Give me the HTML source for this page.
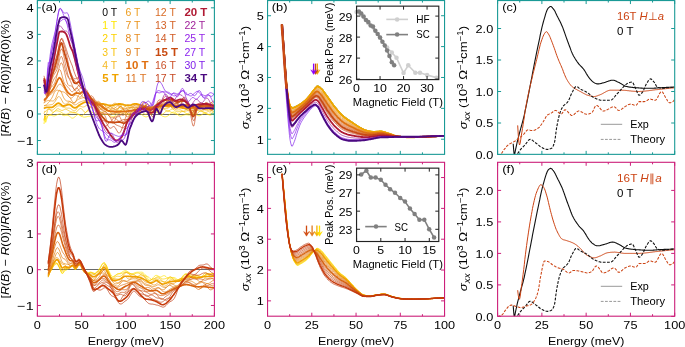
<!DOCTYPE html>
<html><head><meta charset="utf-8"><style>
html,body{margin:0;padding:0;background:#fff;width:685px;height:347px;overflow:hidden}
svg{display:block;font-family:"Liberation Sans", sans-serif;will-change:transform}
</style></head><body>
<svg width="685" height="347" viewBox="0 0 685 347">
<rect width="685" height="347" fill="#fff"/>
<clipPath id="ca"><rect x="37.4" y="0.55" width="177" height="153.8"/></clipPath>
<g clip-path="url(#ca)">
<path d="M44,114.5H214" stroke="#6a6a6a" stroke-width="1"/>
<path d="M44,124 44.9,116.8 45.7,122.4 46.6,119.5 47.5,116.7 48.3,115.4 49.2,115 50,114.9 50.9,115.2 51.7,115.5 52.6,115.7 53.5,115.9 54.3,115.9 55.2,115.7 56,115.4 56.9,114.9 57.7,114.5 58.6,114.1 59.4,113.8 60.3,113.8 61.2,114.2 62,114.8 62.9,115.3 63.7,115.6 64.6,115.6 65.4,115.4 66.3,115.3 67.2,115.2 68,115.4 68.9,115.8 69.7,116.4 70.6,117.2 71.4,117.9 72.3,118.2 73.1,118.1 74,117.6 74.9,116.9 75.7,116.1 76.6,115.3 77.4,114.7 78.3,114.5 79.1,114.7 80,115.1 80.8,115.7 81.7,116.3 82.6,116.7 83.4,117 84.3,117.1 85.1,117 86,116.9 86.8,116.7 87.7,116.5 88.6,116.3 89.4,116.3 90.3,116.4 91.1,116.6 92,116.7 92.8,116.7 93.7,116.4 94.5,115.9 95.4,115.3 96.3,114.6 97.1,114 98,113.5 98.8,113.2 99.7,113.1 100.5,113.3 101.4,113.6 102.3,114 103.1,114.2 104,114.4 104.8,114.5 105.7,114.5 106.5,114.5 107.4,114.5 108.2,114.7 109.1,115 110,115.4 110.8,115.9 111.7,116.3 112.5,116.6 113.4,116.7 114.2,116.5 115.1,116 115.9,115.4 116.8,114.6 117.7,113.9 118.5,113.4 119.4,113 120.2,112.9 121.1,112.9 121.9,113.1 122.8,113.4 123.7,113.7 124.5,114 125.4,114.2 126.2,114.4 127.1,114.5 127.9,114.7 128.8,114.8 129.6,115 130.5,115.2 131.4,115.3 132.2,115.3 133.1,115.2 133.9,115 134.8,114.6 135.6,114.1 136.5,113.7 137.4,113.4 138.2,113.2 139.1,113.2 139.9,113.4 140.8,113.9 141.6,114.5 142.5,115.1 143.3,115.8 144.2,116.3 145.1,116.7 145.9,116.9 146.8,116.8 147.6,116.5 148.5,116 149.3,115.4 150.2,114.7 151,114 151.9,113.3 152.8,112.7 153.6,112.3 154.5,112.1 155.3,112 156.2,112.2 157,112.5 157.9,113 158.8,113.6 159.6,114.2 160.5,114.9 161.3,115.4 162.2,116 163,116.4 163.9,116.6 164.7,116.8 165.6,116.8 166.5,116.6 167.3,116.2 168.2,115.7 169,115 169.9,114.3 170.7,113.5 171.6,112.8 172.5,112.3 173.3,112 174.2,112.1 175,112.4 175.9,113 176.7,113.8 177.6,114.6 178.4,115.3 179.3,115.8 180.2,116.1 181,116.1 181.9,115.8 182.7,115.5 183.6,115.2 184.4,114.9 185.3,114.7 186.1,114.7 187,114.7 187.9,114.9 188.7,115 189.6,115 190.4,114.8 191.3,114.6 192.1,114.3 193,114.1 193.9,113.9 194.7,114 195.6,114.3 196.4,114.7 197.3,115.2 198.1,115.6 199,115.8 199.8,115.7 200.7,115.4 201.6,114.8 202.4,114.2 203.3,113.6 204.1,113.1 205,113 205.8,113.1 206.7,113.5 207.6,114.1 208.4,114.6 209.3,115 210.1,115.1 211,115 211.8,114.6 212.7,114.1 213.5,113.7 214.4,113.4" stroke="#ffe600" stroke-width="0.7" fill="none" stroke-linejoin="round"/>
<path d="M44,120.6 44.9,115.2 45.7,119.6 46.6,117.7 47.5,115.9 48.3,115.3 49.2,115.2 50,115 50.9,114.6 51.7,114.1 52.6,113.3 53.5,112.3 54.3,111.6 55.2,111.1 56,110.8 56.9,110.8 57.7,110.9 58.6,111.1 59.4,111.3 60.3,111.7 61.2,112.2 62,112.8 62.9,113.4 63.7,113.9 64.6,114.1 65.4,114.3 66.3,114.3 67.2,114 68,113.7 68.9,113.2 69.7,112.9 70.6,112.8 71.4,112.7 72.3,112.8 73.1,112.8 74,112.8 74.9,112.9 75.7,113 76.6,113.2 77.4,113.6 78.3,114.1 79.1,114.8 80,115.5 80.8,115.9 81.7,115.9 82.6,115.5 83.4,114.7 84.3,113.8 85.1,112.8 86,111.9 86.8,111.2 87.7,110.9 88.6,110.8 89.4,111 90.3,111.4 91.1,111.8 92,112.3 92.8,112.7 93.7,113 94.5,113.1 95.4,113.1 96.3,113 97.1,112.9 98,112.7 98.8,112.5 99.7,112.4 100.5,112.3 101.4,112.3 102.3,112.3 103.1,112.2 104,112.1 104.8,111.8 105.7,111.5 106.5,111.1 107.4,110.9 108.2,111 109.1,111.4 110,112 110.8,112.8 111.7,113.6 112.5,114.2 113.4,114.4 114.2,114.2 115.1,113.6 115.9,112.7 116.8,111.9 117.7,111.2 118.5,110.7 119.4,110.4 120.2,110.4 121.1,110.6 121.9,110.8 122.8,111 123.7,111.3 124.5,111.6 125.4,112.1 126.2,112.6 127.1,113.2 127.9,113.6 128.8,113.8 129.6,113.6 130.5,113.1 131.4,112.4 132.2,111.7 133.1,111.1 133.9,110.8 134.8,110.9 135.6,111.1 136.5,111.4 137.4,111.7 138.2,111.8 139.1,111.8 139.9,111.7 140.8,111.8 141.6,112.1 142.5,112.5 143.3,113.2 144.2,113.8 145.1,114.2 145.9,114.3 146.8,113.9 147.6,113.3 148.5,112.6 149.3,112 150.2,111.7 151,111.7 151.9,111.9 152.8,112.3 153.6,112.5 154.5,112.5 155.3,112.3 156.2,112 157,111.7 157.9,111.7 158.8,112.1 159.6,112.7 160.5,113.4 161.3,114 162.2,114.3 163,114.1 163.9,113.4 164.7,112.5 165.6,111.5 166.5,110.8 167.3,110.4 168.2,110.5 169,110.9 169.9,111.4 170.7,112 171.6,112.4 172.5,112.8 173.3,113.1 174.2,113.4 175,113.7 175.9,114 176.7,114.2 177.6,114.2 178.4,114 179.3,113.5 180.2,112.7 181,112 181.9,111.5 182.7,111.4 183.6,111.6 184.4,112.2 185.3,112.9 186.1,113.4 187,113.6 187.9,113.6 188.7,113.3 189.6,112.9 190.4,112.6 191.3,112.6 192.1,113 193,113.6 193.9,114.1 194.7,114.5 195.6,114.6 196.4,114.2 197.3,113.5 198.1,112.6 199,111.8 199.8,111.3 200.7,111.1 201.6,111.2 202.4,111.7 203.3,112.2 204.1,112.8 205,113.3 205.8,113.7 206.7,114 207.6,114.2 208.4,114.3 209.3,114.3 210.1,114 211,113.6 211.8,113 212.7,112.4 213.5,111.8 214.4,111.4" stroke="#fcd200" stroke-width="0.7" fill="none" stroke-linejoin="round"/>
<path d="M44,120.2 44.9,115.7 45.7,117 46.6,113.8 47.5,110.8 48.3,109.2 49.2,108.8 50,109.3 50.9,110.4 51.7,111.5 52.6,112.2 53.5,112.2 54.3,111.7 55.2,110.8 56,109.8 56.9,109.1 57.7,108.7 58.6,108.8 59.4,109.3 60.3,109.8 61.2,110.3 62,110.5 62.9,110.3 63.7,109.9 64.6,109.4 65.4,109.2 66.3,109.4 67.2,109.8 68,110.3 68.9,110.8 69.7,111.2 70.6,111.6 71.4,111.8 72.3,112.1 73.1,112.3 74,112.5 74.9,112.6 75.7,112.5 76.6,111.9 77.4,111.1 78.3,110 79.1,109.1 80,108.5 80.8,108.5 81.7,108.9 82.6,109.8 83.4,110.9 84.3,111.9 85.1,112.5 86,112.4 86.8,111.7 87.7,110.4 88.6,108.9 89.4,107.6 90.3,106.8 91.1,106.7 92,107.2 92.8,108.1 93.7,109.3 94.5,110.2 95.4,110.9 96.3,111.2 97.1,111.1 98,110.8 98.8,110.3 99.7,109.8 100.5,109.3 101.4,109 102.3,108.8 103.1,108.7 104,108.9 104.8,109.2 105.7,109.5 106.5,109.9 107.4,110.1 108.2,110.2 109.1,110.1 110,109.9 110.8,109.7 111.7,109.7 112.5,109.9 113.4,110.3 114.2,110.8 115.1,111.2 115.9,111.2 116.8,110.7 117.7,109.7 118.5,108.5 119.4,107.2 120.2,106.4 121.1,106.3 121.9,107 122.8,108.4 123.7,110.1 124.5,111.6 125.4,112.7 126.2,112.9 127.1,112.3 127.9,111.1 128.8,109.7 129.6,108.6 130.5,107.9 131.4,107.9 132.2,108.3 133.1,108.9 133.9,109.3 134.8,109.5 135.6,109.4 136.5,109.1 137.4,108.9 138.2,108.9 139.1,109.4 139.9,110.2 140.8,111 141.6,111.6 142.5,111.9 143.3,111.5 144.2,110.8 145.1,110 145.9,109.3 146.8,109.1 147.6,109.5 148.5,110.2 149.3,111.1 150.2,111.8 151,112 151.9,111.8 152.8,111.2 153.6,110.4 154.5,109.9 155.3,109.7 156.2,109.9 157,110.5 157.9,111.1 158.8,111.5 159.6,111.4 160.5,111 161.3,110.2 162.2,109.5 163,109 163.9,109 164.7,109.5 165.6,110.2 166.5,111 167.3,111.5 168.2,111.5 169,111.1 169.9,110.4 170.7,109.6 171.6,109.1 172.5,109 173.3,109.3 174.2,110 175,110.7 175.9,111.3 176.7,111.7 177.6,111.8 178.4,111.7 179.3,111.4 180.2,111.3 181,111.3 181.9,111.4 182.7,111.5 183.6,111.6 184.4,111.5 185.3,111.3 186.1,111 187,110.8 187.9,110.7 188.7,110.9 189.6,111.3 190.4,111.7 191.3,112 192.1,112.2 193,112.2 193.9,111.9 194.7,111.5 195.6,111.1 196.4,110.8 197.3,110.6 198.1,110.6 199,110.7 199.8,110.9 200.7,111 201.6,111.3 202.4,111.5 203.3,111.8 204.1,112.2 205,112.4 205.8,112.4 206.7,112.2 207.6,111.7 208.4,111 209.3,110.3 210.1,109.9 211,109.8 211.8,110.3 212.7,111.1 213.5,112 214.4,112.8" stroke="#f8c414" stroke-width="0.7" fill="none" stroke-linejoin="round"/>
<path d="M44,113.7 44.9,110.9 45.7,111.6 46.6,110.3 47.5,109.3 48.3,109.1 49.2,109.2 50,109.5 50.9,109.9 51.7,110.1 52.6,110 53.5,109.4 54.3,108.6 55.2,107.9 56,107.2 56.9,106.5 57.7,106 58.6,105.8 59.4,105.8 60.3,106 61.2,106.3 62,106.7 62.9,107.1 63.7,107.4 64.6,107.6 65.4,107.9 66.3,108 67.2,108.1 68,108.1 68.9,108.1 69.7,108.2 70.6,108.6 71.4,109.2 72.3,109.9 73.1,110.6 74,110.9 74.9,110.8 75.7,110.2 76.6,109.1 77.4,107.9 78.3,106.9 79.1,106.2 80,106.1 80.8,106.3 81.7,106.7 82.6,107 83.4,107 84.3,106.8 85.1,106.3 86,105.7 86.8,105.3 87.7,105.2 88.6,105.6 89.4,106.2 90.3,107 91.1,107.7 92,108.1 92.8,108 93.7,107.6 94.5,106.8 95.4,106.1 96.3,105.8 97.1,105.9 98,106.4 98.8,107.2 99.7,107.9 100.5,108.2 101.4,108.1 102.3,107.4 103.1,106.6 104,105.8 104.8,105.3 105.7,105.4 106.5,106 107.4,106.9 108.2,107.8 109.1,108.5 110,108.6 110.8,108.3 111.7,107.7 112.5,107 113.4,106.7 114.2,106.7 115.1,107.2 115.9,108 116.8,108.6 117.7,109 118.5,108.7 119.4,108 120.2,106.9 121.1,105.9 121.9,105.1 122.8,104.8 123.7,105.2 124.5,105.9 125.4,106.8 126.2,107.6 127.1,108.1 127.9,108.1 128.8,107.7 129.6,107.3 130.5,106.8 131.4,106.7 132.2,106.9 133.1,107.2 133.9,107.7 134.8,108 135.6,108 136.5,107.7 137.4,107.2 138.2,106.7 139.1,106.4 139.9,106.5 140.8,106.9 141.6,107.5 142.5,108.1 143.3,108.7 144.2,108.9 145.1,108.9 145.9,108.8 146.8,108.5 147.6,108.4 148.5,108.3 149.3,108.5 150.2,108.7 151,108.9 151.9,109 152.8,108.9 153.6,108.8 154.5,108.6 155.3,108.5 156.2,108.5 157,108.6 157.9,108.8 158.8,109 159.6,109 160.5,108.9 161.3,108.8 162.2,108.6 163,108.5 163.9,108.5 164.7,108.5 165.6,108.6 166.5,108.6 167.3,108.4 168.2,108 169,107.4 169.9,106.8 170.7,106.4 171.6,106.3 172.5,106.6 173.3,107.3 174.2,108.2 175,109.1 175.9,109.7 176.7,110 177.6,110 178.4,109.9 179.3,109.7 180.2,109.8 181,110.1 181.9,110.6 182.7,111 183.6,111.2 184.4,111 185.3,110.4 186.1,109.5 187,108.6 187.9,107.9 188.7,107.7 189.6,108.1 190.4,108.9 191.3,109.9 192.1,110.8 193,111.2 193.9,111.1 194.7,110.5 195.6,109.6 196.4,108.7 197.3,108.2 198.1,108.2 199,108.7 199.8,109.4 200.7,110.2 201.6,110.6 202.4,110.7 203.3,110.3 204.1,109.8 205,109.4 205.8,109.3 206.7,109.7 207.6,110.4 208.4,111.2 209.3,111.9 210.1,112 211,111.6 211.8,110.6 212.7,109.4 213.5,108.3 214.4,107.6" stroke="#f5b820" stroke-width="0.7" fill="none" stroke-linejoin="round"/>
<path d="M44,108.7 44.9,107.8 45.7,107.6 46.6,107.4 47.5,107.4 48.3,107.4 49.2,107.4 50,107.4 50.9,107.4 51.7,107.4 52.6,107.2 53.5,106.6 54.3,105.8 55.2,105.2 56,104.5 56.9,103.8 57.7,103.3 58.6,103.1 59.4,103.5 60.3,104.1 61.2,104.8 62,105.5 62.9,106 63.7,106 64.6,105.8 65.4,105.6 66.3,105.2 67.2,104.9 68,104.6 68.9,104.5 69.7,104.6 70.6,105 71.4,105.7 72.3,106.5 73.1,107.2 74,107.7 74.9,107.9 75.7,107.7 76.6,107.2 77.4,106.6 78.3,105.9 79.1,105.2 80,104.7 80.8,104.2 81.7,103.7 82.6,103.2 83.4,102.8 84.3,102.4 85.1,102.2 86,102.1 86.8,102.1 87.7,102.3 88.6,102.7 89.4,103 90.3,103.3 91.1,103.6 92,103.9 92.8,104.3 93.7,104.5 94.5,104.7 95.4,104.7 96.3,104.6 97.1,104.5 98,104.4 98.8,104.3 99.7,104.1 100.5,104 101.4,103.9 102.3,103.9 103.1,104 104,104.1 104.8,104.3 105.7,104.5 106.5,104.7 107.4,105 108.2,105.2 109.1,105.3 110,105.5 110.8,105.5 111.7,105.5 112.5,105.3 113.4,105.2 114.2,105 115.1,104.7 115.9,104.5 116.8,104.3 117.7,104.1 118.5,104 119.4,103.9 120.2,104 121.1,104.1 121.9,104.2 122.8,104.4 123.7,104.7 124.5,104.9 125.4,105.1 126.2,105.3 127.1,105.4 127.9,105.5 128.8,105.5 129.6,105.3 130.5,105.1 131.4,104.8 132.2,104.5 133.1,104.2 133.9,104 134.8,103.9 135.6,103.9 136.5,104 137.4,104.2 138.2,104.4 139.1,104.7 139.9,105 140.8,105.3 141.6,105.5 142.5,105.8 143.3,106 144.2,106.2 145.1,106.3 145.9,106.5 146.8,106.7 147.6,106.8 148.5,107 149.3,107.1 150.2,107.2 151,107.3 151.9,107.4 152.8,107.4 153.6,107.3 154.5,107.2 155.3,107 156.2,106.9 157,106.7 157.9,106.5 158.8,106.3 159.6,106.2 160.5,106.1 161.3,106 162.2,106 163,106 163.9,106 164.7,106 165.6,106 166.5,106 167.3,106 168.2,106 169,106 169.9,106 170.7,106 171.6,106.1 172.5,106.2 173.3,106.3 174.2,106.5 175,106.6 175.9,106.8 176.7,107 177.6,107.1 178.4,107.3 179.3,107.4 180.2,107.6 181,107.7 181.9,107.9 182.7,108.1 183.6,108.2 184.4,108.4 185.3,108.5 186.1,108.6 187,108.7 187.9,108.7 188.7,108.7 189.6,108.6 190.4,108.4 191.3,108.2 192.1,108.1 193,107.9 193.9,107.7 194.7,107.5 195.6,107.4 196.4,107.4 197.3,107.4 198.1,107.5 199,107.6 199.8,107.7 200.7,107.9 201.6,108.1 202.4,108.3 203.3,108.5 204.1,108.6 205,108.7 205.8,108.7 206.7,108.7 207.6,108.7 208.4,108.7 209.3,108.7 210.1,108.7 211,108.7 211.8,108.7 212.7,108.7 213.5,108.7 214.4,108.7" stroke="#f0a400" stroke-width="1.8" fill="none" stroke-linejoin="round"/>
<path d="M44,106.2 44.9,105.5 45.7,105.4 46.6,105.3 47.5,105.2 48.3,105.1 49.2,105 50,104.9 50.9,104.7 51.7,104.6 52.6,104.3 53.5,103.5 54.3,102.5 55.2,101.3 56,100 56.9,98.5 57.7,97.2 58.6,96.6 59.4,96.7 60.3,97.6 61.2,99 62,100.7 62.9,102.3 63.7,103.4 64.6,104.1 65.4,104.2 66.3,104 67.2,103.4 68,102.7 68.9,102 69.7,101.7 70.6,101.9 71.4,102.4 72.3,103.2 73.1,104 74,104.6 74.9,104.9 75.7,104.7 76.6,104.3 77.4,103.7 78.3,103 79.1,102.5 80,102.1 80.8,101.8 81.7,101.5 82.6,101.1 83.4,100.8 84.3,100.5 85.1,100.3 86,100.2 86.8,100.3 87.7,100.7 88.6,101.4 89.4,102.3 90.3,103.2 91.1,103.9 92,104.5 92.8,104.7 93.7,104.5 94.5,104 95.4,103.1 96.3,102.2 97.1,101.6 98,101.2 98.8,101.4 99.7,102 100.5,103 101.4,104.2 102.3,105.5 103.1,106.6 104,107.5 104.8,108.1 105.7,108.4 106.5,108.4 107.4,108.2 108.2,107.8 109.1,107.3 110,106.7 110.8,106 111.7,105.3 112.5,104.5 113.4,103.8 114.2,103.4 115.1,103.2 115.9,103.4 116.8,103.9 117.7,104.8 118.5,105.9 119.4,107.1 120.2,108 121.1,108.6 121.9,108.8 122.8,108.5 123.7,107.9 124.5,107 125.4,106.1 126.2,105.4 127.1,104.9 127.9,104.7 128.8,104.9 129.6,105.1 130.5,105.4 131.4,105.7 132.2,105.9 133.1,105.9 133.9,105.9 134.8,105.8 135.6,105.8 136.5,105.9 137.4,105.9 138.2,105.9 139.1,105.9 139.9,105.7 140.8,105.5 141.6,105.3 142.5,105.1 143.3,105 144.2,105.2 145.1,105.7 145.9,106.4 146.8,107.4 147.6,108.4 148.5,109.2 149.3,109.7 150.2,109.9 151,109.6 151.9,108.9 152.8,108 153.6,107.1 154.5,106.2 155.3,105.6 156.2,105.2 157,105.1 157.9,105.2 158.8,105.4 159.6,105.6 160.5,105.8 161.3,105.9 162.2,106 163,106.2 163.9,106.3 164.7,106.5 165.6,106.8 166.5,107 167.3,107.2 168.2,107.2 169,107 169.9,106.6 170.7,106.1 171.6,105.6 172.5,105.3 173.3,105.2 174.2,105.3 175,105.6 175.9,106.1 176.7,106.5 177.6,106.8 178.4,106.9 179.3,106.8 180.2,106.6 181,106.4 181.9,106.4 182.7,106.6 183.6,107.1 184.4,107.8 185.3,108.6 186.1,109.3 187,109.9 187.9,110.2 188.7,110.2 189.6,109.8 190.4,109.1 191.3,108.4 192.1,107.6 193,107 193.9,106.5 194.7,106.3 195.6,106.1 196.4,106.1 197.3,106.1 198.1,106.2 199,106.3 199.8,106.6 200.7,106.9 201.6,107.5 202.4,108.1 203.3,108.9 204.1,109.5 205,110 205.8,110.1 206.7,110 207.6,109.5 208.4,108.9 209.3,108.2 210.1,107.5 211,107.1 211.8,107 212.7,107.2 213.5,107.6 214.4,108.2" stroke="#ec9c1c" stroke-width="0.7" fill="none" stroke-linejoin="round"/>
<path d="M44,105.7 44.9,105.4 45.7,105.2 46.6,104.7 47.5,103.8 48.3,102.7 49.2,101.8 50,101.1 50.9,100.8 51.7,100.9 52.6,101 53.5,100.8 54.3,100.2 55.2,99.1 56,97.4 56.9,95.1 57.7,92.8 58.6,91.1 59.4,90.2 60.3,90.5 61.2,91.9 62,93.8 62.9,96 63.7,97.8 64.6,99.2 65.4,100.2 66.3,100.8 67.2,101.1 68,101.2 68.9,101.2 69.7,101.4 70.6,101.9 71.4,102.4 72.3,102.8 73.1,103 74,102.7 74.9,102.2 75.7,101.5 76.6,100.7 77.4,100 78.3,99.4 79.1,98.9 80,98.7 80.8,98.4 81.7,98.1 82.6,97.8 83.4,97.7 84.3,97.9 85.1,98.3 86,98.7 86.8,99.3 87.7,100 88.6,100.8 89.4,101.6 90.3,102.2 91.1,102.6 92,102.9 92.8,103.2 93.7,103.4 94.5,103.5 95.4,103.3 96.3,103 97.1,102.7 98,102.4 98.8,102.3 99.7,102.5 100.5,103.2 101.4,104.2 102.3,105.4 103.1,106.7 104,107.8 104.8,108.4 105.7,108.6 106.5,108.4 107.4,107.9 108.2,107.2 109.1,106.7 110,106.6 110.8,106.8 111.7,107.3 112.5,107.9 113.4,108.4 114.2,108.4 115.1,108.1 115.9,107.3 116.8,106.4 117.7,105.6 118.5,105.2 119.4,105.2 120.2,105.8 121.1,106.7 121.9,107.8 122.8,108.7 123.7,109.3 124.5,109.4 125.4,109.2 126.2,108.7 127.1,108.2 127.9,107.8 128.8,107.7 129.6,107.6 130.5,107.6 131.4,107.4 132.2,107.1 133.1,106.5 133.9,105.9 134.8,105.2 135.6,104.7 136.5,104.6 137.4,104.9 138.2,105.5 139.1,106.3 139.9,107 140.8,107.6 141.6,107.9 142.5,107.8 143.3,107.5 144.2,107.1 145.1,106.8 145.9,106.6 146.8,106.8 147.6,107.3 148.5,107.9 149.3,108.5 150.2,109.1 151,109.4 151.9,109.5 152.8,109.3 153.6,108.8 154.5,108.2 155.3,107.4 156.2,106.7 157,106 157.9,105.5 158.8,105.1 159.6,104.9 160.5,104.9 161.3,105.1 162.2,105.4 163,105.6 163.9,105.6 164.7,105.5 165.6,105.3 166.5,105 167.3,104.8 168.2,104.9 169,105.2 169.9,105.8 170.7,106.7 171.6,107.6 172.5,108.3 173.3,108.7 174.2,108.8 175,108.4 175.9,107.8 176.7,107 177.6,106.3 178.4,105.8 179.3,105.5 180.2,105.4 181,105.4 181.9,105.4 182.7,105.3 183.6,105.1 184.4,104.9 185.3,104.9 186.1,105.2 187,105.9 187.9,107 188.7,108.3 189.6,109.6 190.4,110.5 191.3,110.9 192.1,110.8 193,110.2 193.9,109.3 194.7,108.4 195.6,107.7 196.4,107.4 197.3,107.5 198.1,107.7 199,108 199.8,108 200.7,107.6 201.6,106.9 202.4,105.9 203.3,104.9 204.1,104.2 205,104 205.8,104.4 206.7,105.3 207.6,106.6 208.4,107.9 209.3,109.1 210.1,110 211,110.4 211.8,110.4 212.7,110.1 213.5,109.7 214.4,109.4" stroke="#e9921a" stroke-width="0.7" fill="none" stroke-linejoin="round"/>
<path d="M44,103.3 44.9,102.2 45.7,101.5 46.6,101 47.5,100.7 48.3,100.6 49.2,100.6 50,100.3 50.9,99.6 51.7,98.3 52.6,96.5 53.5,94.4 54.3,92.5 55.2,91.1 56,90.5 56.9,90.1 57.7,90.2 58.6,90.5 59.4,90.8 60.3,91.3 61.2,91.5 62,91.7 62.9,91.9 63.7,92 64.6,92.4 65.4,93.2 66.3,94.2 67.2,95.2 68,96 68.9,96.6 69.7,97.5 70.6,98.6 71.4,100 72.3,101.4 73.1,102.6 74,103.2 74.9,102.9 75.7,101.7 76.6,99.9 77.4,97.7 78.3,95.7 79.1,94.4 80,94.1 80.8,94.5 81.7,95.5 82.6,96.5 83.4,97.5 84.3,97.9 85.1,97.7 86,97 86.8,96.3 87.7,96.1 88.6,96.8 89.4,98.2 90.3,99.8 91.1,101.3 92,102.4 92.8,103.1 93.7,103.2 94.5,103 95.4,102.8 96.3,102.9 97.1,103.4 98,104.1 98.8,104.8 99.7,105.2 100.5,105.3 101.4,104.9 102.3,104.5 103.1,104.3 104,104.6 104.8,105.5 105.7,107 106.5,108.7 107.4,110.1 108.2,110.8 109.1,110.8 110,110.2 110.8,109.3 111.7,108.6 112.5,108.3 113.4,108.5 114.2,109 115.1,109.6 115.9,109.9 116.8,109.6 117.7,108.8 118.5,107.7 119.4,106.7 120.2,106.2 121.1,106.3 121.9,107.1 122.8,108.4 123.7,109.8 124.5,110.8 125.4,111.2 126.2,111 127.1,110.3 127.9,109.5 128.8,108.6 129.6,108.1 130.5,107.8 131.4,107.7 132.2,107.7 133.1,107.7 133.9,107.5 134.8,107.3 135.6,107.1 136.5,107.1 137.4,107.3 138.2,107.6 139.1,107.9 139.9,108 140.8,107.8 141.6,107.3 142.5,106.7 143.3,106.2 144.2,106.1 145.1,106.5 145.9,107.3 146.8,108.5 147.6,109.7 148.5,110.5 149.3,110.9 150.2,110.6 151,109.8 151.9,108.6 152.8,107.4 153.6,106.2 154.5,105.4 155.3,105 156.2,105 157,105.3 157.9,105.8 158.8,106.4 159.6,106.9 160.5,107.4 161.3,107.7 162.2,107.7 163,107.5 163.9,107.1 164.7,106.5 165.6,105.8 166.5,105.3 167.3,104.9 168.2,104.8 169,104.8 169.9,104.9 170.7,105 171.6,105.1 172.5,105.1 173.3,105.1 174.2,105.1 175,105.2 175.9,105.5 176.7,105.8 177.6,106.2 178.4,106.6 179.3,106.9 180.2,107.1 181,107.2 181.9,107.4 182.7,107.6 183.6,107.8 184.4,107.9 185.3,107.9 186.1,107.7 187,107.3 187.9,106.7 188.7,106.2 189.6,105.8 190.4,105.9 191.3,106.2 192.1,106.9 193,107.5 193.9,107.9 194.7,108 195.6,107.7 196.4,107.1 197.3,106.5 198.1,106.2 199,106.3 199.8,107 200.7,107.9 201.6,108.8 202.4,109.3 203.3,109.3 204.1,108.7 205,107.7 205.8,106.6 206.7,105.7 207.6,105.4 208.4,105.6 209.3,106.2 210.1,107 211,107.5 211.8,107.8 212.7,107.7 213.5,107.5 214.4,107.3" stroke="#e68a1c" stroke-width="0.7" fill="none" stroke-linejoin="round"/>
<path d="M44,102.7 44.9,101.2 45.7,99.9 46.6,98.7 47.5,97.5 48.3,96.5 49.2,95.6 50,94.9 50.9,94.3 51.7,93.6 52.6,92.8 53.5,91.8 54.3,90.8 55.2,89.7 56,88.7 56.9,87.3 57.7,85.9 58.6,84.9 59.4,84.1 60.3,84.1 61.2,84.6 62,85.5 62.9,86.6 63.7,87.6 64.6,88.9 65.4,90.5 66.3,92.3 67.2,94.1 68,95.7 68.9,96.8 69.7,97.6 70.6,98.1 71.4,98.1 72.3,97.6 73.1,96.8 74,95.8 74.9,95.2 75.7,94.9 76.6,95.2 77.4,95.8 78.3,96.5 79.1,97.1 80,97.4 80.8,96.9 81.7,95.8 82.6,94.3 83.4,93 84.3,92.1 85.1,91.6 86,91.7 86.8,92.3 87.7,93.7 88.6,95.7 89.4,97.9 90.3,99.9 91.1,101.5 92,102.6 92.8,103.3 93.7,103.5 94.5,103.5 95.4,103.2 96.3,102.9 97.1,102.7 98,102.8 98.8,103 99.7,103.5 100.5,104.2 101.4,105 102.3,105.7 103.1,106.5 104,107.1 104.8,107.8 105.7,108.6 106.5,109.3 107.4,110 108.2,110.4 109.1,110.7 110,110.9 110.8,110.9 111.7,110.7 112.5,110.5 113.4,110.2 114.2,110.1 115.1,110 115.9,110.1 116.8,110.3 117.7,110.6 118.5,110.8 119.4,110.9 120.2,110.7 121.1,110.4 121.9,110 122.8,109.4 123.7,108.9 124.5,108.6 125.4,108.6 126.2,108.9 127.1,109.4 127.9,110 128.8,110.6 129.6,111 130.5,111.2 131.4,111 132.2,110.6 133.1,109.9 133.9,109.2 134.8,108.5 135.6,108 136.5,107.8 137.4,107.8 138.2,108 139.1,108.3 139.9,108.5 140.8,108.6 141.6,108.5 142.5,108.3 143.3,108 144.2,107.7 145.1,107.5 145.9,107.4 146.8,107.5 147.6,107.8 148.5,108.1 149.3,108.5 150.2,108.7 151,108.8 151.9,108.7 152.8,108.6 153.6,108.3 154.5,108 155.3,107.9 156.2,107.8 157,107.9 157.9,108.1 158.8,108.2 159.6,108.1 160.5,107.7 161.3,107.1 162.2,106.2 163,105.1 163.9,104 164.7,103.1 165.6,102.6 166.5,102.5 167.3,102.9 168.2,103.6 169,104.6 169.9,105.6 170.7,106.5 171.6,107.1 172.5,107.4 173.3,107.3 174.2,107 175,106.6 175.9,106.2 176.7,106 177.6,105.9 178.4,105.9 179.3,106.1 180.2,106.3 181,106.5 181.9,106.6 182.7,106.5 183.6,106.2 184.4,105.9 185.3,105.5 186.1,105.2 187,105.1 187.9,105.1 188.7,105.4 189.6,105.8 190.4,106.4 191.3,107 192.1,107.6 193,108.2 193.9,108.6 194.7,109 195.6,109.2 196.4,109.2 197.3,109.1 198.1,108.8 199,108.2 199.8,107.5 200.7,106.6 201.6,105.7 202.4,104.8 203.3,104.1 204.1,103.8 205,103.9 205.8,104.4 206.7,105.3 207.6,106.4 208.4,107.6 209.3,108.5 210.1,109.2 211,109.4 211.8,109.2 212.7,108.7 213.5,108 214.4,107.4" stroke="#e2801c" stroke-width="0.7" fill="none" stroke-linejoin="round"/>
<path d="M44,100.7 44.9,99.7 45.7,98.6 46.6,97.5 47.5,96.2 48.3,95 49.2,93.9 50,92.9 50.9,92 51.7,91.1 52.6,89.9 53.5,88.6 54.3,87 55.2,85.4 56,83.7 56.9,81.7 57.7,79.7 58.6,78.4 59.4,77.7 60.3,78.2 61.2,79.5 62,81.3 62.9,83.3 63.7,85.1 64.6,86.8 65.4,88.5 66.3,90.1 67.2,91.5 68,92.6 68.9,93.4 69.7,94.1 70.6,94.7 71.4,95.1 72.3,95.1 73.1,94.8 74,94.2 74.9,93.6 75.7,93.2 76.6,93 77.4,93.1 78.3,93.2 79.1,93.3 80,93.3 80.8,93 81.7,92.3 82.6,91.7 83.4,91.4 84.3,91.5 85.1,91.8 86,92.2 86.8,92.7 87.7,93.4 88.6,94.6 89.4,96 90.3,97.3 91.1,98.3 92,99.2 92.8,100.2 93.7,101 94.5,101.8 95.4,102.4 96.3,102.9 97.1,103.4 98,103.9 98.8,104.4 99.7,104.9 100.5,105.6 101.4,106.3 102.3,107 103.1,107.7 104,108.3 104.8,108.9 105.7,109.5 106.5,110.1 107.4,110.5 108.2,110.8 109.1,111 110,111.2 110.8,111.3 111.7,111.5 112.5,111.6 113.4,111.7 114.2,111.8 115.1,111.8 115.9,111.9 116.8,111.9 117.7,111.9 118.5,111.9 119.4,111.8 120.2,111.8 121.1,111.7 121.9,111.7 122.8,111.6 123.7,111.5 124.5,111.5 125.4,111.4 126.2,111.3 127.1,111.2 127.9,111.1 128.8,111 129.6,110.9 130.5,110.7 131.4,110.6 132.2,110.4 133.1,110.3 133.9,110.1 134.8,110 135.6,109.9 136.5,109.7 137.4,109.5 138.2,109.4 139.1,109.2 139.9,109.1 140.8,108.9 141.6,108.8 142.5,108.7 143.3,108.7 144.2,108.7 145.1,108.7 145.9,108.7 146.8,108.7 147.6,108.7 148.5,108.7 149.3,108.7 150.2,108.7 151,108.7 151.9,108.7 152.8,108.7 153.6,108.6 154.5,108.4 155.3,108.2 156.2,107.9 157,107.5 157.9,107.2 158.8,106.8 159.6,106.5 160.5,106.2 161.3,106 162.2,105.9 163,105.7 163.9,105.5 164.7,105.3 165.6,105.2 166.5,105 167.3,104.9 168.2,104.8 169,104.7 169.9,104.7 170.7,104.7 171.6,104.8 172.5,104.9 173.3,105.1 174.2,105.3 175,105.5 175.9,105.7 176.7,105.8 177.6,105.9 178.4,106 179.3,106 180.2,106 181,106 181.9,106 182.7,106 183.6,106 184.4,106 185.3,106 186.1,106 187,106 187.9,106 188.7,106.1 189.6,106.2 190.4,106.3 191.3,106.5 192.1,106.7 193,106.9 193.9,107 194.7,107.2 195.6,107.3 196.4,107.4 197.3,107.3 198.1,107.3 199,107.1 199.8,107 200.7,106.8 201.6,106.6 202.4,106.4 203.3,106.3 204.1,106.1 205,106.1 205.8,106 206.7,106.1 207.6,106.1 208.4,106.2 209.3,106.3 210.1,106.4 211,106.5 211.8,106.7 212.7,106.9 213.5,107.1 214.4,107.4" stroke="#e07010" stroke-width="1.8" fill="none" stroke-linejoin="round"/>
<path d="M44,98.7 44.9,98.8 45.7,99.3 46.6,98.6 47.5,96.7 48.3,93.7 49.2,91 50,88.9 50.9,87.4 51.7,86.6 52.6,85.9 53.5,85.1 54.3,83.8 55.2,81.7 56,79.1 56.9,75.9 57.7,72.9 58.6,70.6 59.4,69.5 60.3,70.1 61.2,72.2 62,75.3 62.9,78.8 63.7,81.6 64.6,83.5 65.4,84.7 66.3,85.6 67.2,86.4 68,87.2 68.9,88.1 69.7,89.3 70.6,90.6 71.4,91.5 72.3,91.8 73.1,91.4 74,90.4 74.9,89.2 75.7,88.2 76.6,88 77.4,88.4 78.3,89.3 79.1,90.7 80,92.2 80.8,93 81.7,93 82.6,92.5 83.4,91.9 84.3,91.6 85.1,91.6 86,92.1 86.8,93.1 87.7,94.6 88.6,96.5 89.4,98.3 90.3,99.4 91.1,99.8 92,99.6 92.8,99.3 93.7,99.1 94.5,99.3 95.4,100 96.3,101.3 97.1,102.9 98,104.5 98.8,106.1 99.7,107.4 100.5,108.4 101.4,109.1 102.3,109.6 103.1,110 104,110.5 104.8,111.2 105.7,112 106.5,112.7 107.4,113.4 108.2,113.8 109.1,113.9 110,114 110.8,113.9 111.7,113.8 112.5,113.7 113.4,113.6 114.2,113.4 115.1,113.3 115.9,113.1 116.8,113 117.7,113 118.5,113.2 119.4,113.6 120.2,114.1 121.1,114.7 121.9,115.1 122.8,115.3 123.7,115.2 124.5,114.6 125.4,113.8 126.2,112.9 127.1,112 127.9,111.5 128.8,111.2 129.6,111.1 130.5,111.2 131.4,111.2 132.2,111.1 133.1,110.9 133.9,110.6 134.8,110.3 135.6,110.2 136.5,110.3 137.4,110.7 138.2,111.1 139.1,111.4 139.9,111.4 140.8,110.9 141.6,110.1 142.5,109 143.3,107.9 144.2,107.1 145.1,106.7 145.9,106.8 146.8,107.2 147.6,107.6 148.5,108 149.3,108 150.2,107.6 151,107 151.9,106.5 152.8,106.3 153.6,106.6 154.5,107.5 155.3,108.8 156.2,110.2 157,111.3 157.9,111.6 158.8,111 159.6,109.6 160.5,107.6 161.3,105.4 162.2,103.6 163,102.4 163.9,101.9 164.7,102.1 165.6,102.6 166.5,103 167.3,103.2 168.2,102.9 169,102.3 169.9,101.6 170.7,101.2 171.6,101.3 172.5,102.1 173.3,103.6 174.2,105.3 175,107 175.9,108.2 176.7,108.7 177.6,108.5 178.4,107.7 179.3,106.5 180.2,105.5 181,104.7 181.9,104.3 182.7,104.3 183.6,104.4 184.4,104.5 185.3,104.5 186.1,104.3 187,103.9 187.9,103.7 188.7,103.9 189.6,104.8 190.4,106.3 191.3,107.9 192.1,109.4 193,110.5 193.9,110.7 194.7,110.1 195.6,108.9 196.4,107.7 197.3,106.7 198.1,105.9 199,105.6 199.8,105.6 200.7,106 201.6,106.4 202.4,106.8 203.3,106.9 204.1,106.9 205,106.6 205.8,106.4 206.7,106.2 207.6,106.1 208.4,106.2 209.3,106.4 210.1,106.6 211,106.8 211.8,106.8 212.7,106.9 213.5,106.8 214.4,106.7" stroke="#dc7424" stroke-width="0.7" fill="none" stroke-linejoin="round"/>
<path d="M44,91.6 44.9,91.7 45.7,94 46.6,95.6 47.5,95.9 48.3,94.3 49.2,92.2 50,89.8 50.9,87.1 51.7,84.4 52.6,82 53.5,80 54.3,78.5 55.2,77.3 56,76.2 56.9,74.6 57.7,72.5 58.6,69.7 59.4,66.7 60.3,64.1 61.2,62.8 62,63.3 62.9,65.6 63.7,68.8 64.6,72.3 65.4,76.1 66.3,79.7 67.2,82.7 68,84.7 68.9,85.6 69.7,85.8 70.6,85.8 71.4,86 72.3,86.6 73.1,87.7 74,89.1 74.9,90.2 75.7,91.1 76.6,91.6 77.4,91.1 78.3,90.2 79.1,89.3 80,88.4 80.8,87.7 81.7,87.3 82.6,87.3 83.4,88 84.3,89.2 85.1,90.4 86,91.6 86.8,92.6 87.7,93.7 88.6,95 89.4,96.6 90.3,98.3 91.1,99.8 92,101.2 92.8,102.4 93.7,103.3 94.5,103.9 95.4,104.4 96.3,104.8 97.1,105.2 98,105.8 98.8,106.7 99.7,107.8 100.5,109 101.4,110 102.3,110.6 103.1,111 104,111.3 104.8,111.5 105.7,111.9 106.5,112.6 107.4,113.6 108.2,114.7 109.1,115.8 110,116.8 110.8,117.5 111.7,117.8 112.5,117.8 113.4,117.5 114.2,117.2 115.1,117 115.9,116.9 116.8,116.9 117.7,116.8 118.5,116.6 119.4,116 120.2,115.2 121.1,114.4 121.9,113.7 122.8,113.3 123.7,113.5 124.5,114.2 125.4,115.2 126.2,116.2 127.1,116.8 127.9,116.8 128.8,116.2 129.6,114.8 130.5,113.1 131.4,111.4 132.2,110.3 133.1,110 133.9,110.5 134.8,111.6 135.6,112.7 136.5,113.4 137.4,113.2 138.2,112.2 139.1,110.3 139.9,108.1 140.8,106.1 141.6,104.8 142.5,104.5 143.3,105.3 144.2,106.8 145.1,108.6 145.9,110.1 146.8,110.9 147.6,110.8 148.5,110.1 149.3,109 150.2,108.1 151,107.5 151.9,107.4 152.8,107.8 153.6,108.4 154.5,108.8 155.3,108.8 156.2,108.3 157,107.3 157.9,106.1 158.8,105 159.6,104.3 160.5,104.1 161.3,104.3 162.2,104.7 163,105 163.9,104.9 164.7,104.3 165.6,103.3 166.5,102.1 167.3,101.1 168.2,100.6 169,100.7 169.9,101.3 170.7,102.2 171.6,103.2 172.5,103.9 173.3,104.2 174.2,104.1 175,103.8 175.9,103.5 176.7,103.4 177.6,103.6 178.4,104.1 179.3,104.7 180.2,105.3 181,105.6 181.9,105.7 182.7,105.5 183.6,105.1 184.4,104.8 185.3,104.6 186.1,104.6 187,104.6 187.9,104.6 188.7,104.7 189.6,105.2 190.4,105.8 191.3,106.5 192.1,107.3 193,108.3 193.9,109 194.7,109.5 195.6,109.9 196.4,110.2 197.3,110.3 198.1,109.8 199,108.7 199.8,107.3 200.7,105.9 201.6,105 202.4,104.9 203.3,105.3 204.1,106.3 205,107.3 205.8,107.9 206.7,107.8 207.6,107.1 208.4,105.8 209.3,104.3 210.1,103.1 211,102.5 211.8,102.6 212.7,103.4 213.5,104.7 214.4,106.3" stroke="#d86a24" stroke-width="0.7" fill="none" stroke-linejoin="round"/>
<path d="M44,87.9 44.9,89.8 45.7,94.3 46.6,97.1 47.5,97.3 48.3,94.4 49.2,90.9 50,87.2 50.9,83.5 51.7,80.2 52.6,77.7 53.5,75.7 54.3,74.2 55.2,72.9 56,71.5 56.9,69.7 57.7,67.2 58.6,64 59.4,60.5 60.3,57.6 61.2,56.3 62,57.1 62.9,59.9 63.7,63.4 64.6,66.8 65.4,69.9 66.3,72.8 67.2,75.2 68,77 68.9,78.4 69.7,79.8 70.6,81.4 71.4,83.3 72.3,85.4 73.1,87.7 74,89.4 74.9,90 75.7,89.6 76.6,88.8 77.4,87.1 78.3,85.6 79.1,85 80,85.2 80.8,85.8 81.7,86.7 82.6,87.6 83.4,88.6 84.3,89.7 85.1,90.6 86,91.3 86.8,92.2 87.7,93.2 88.6,94.7 89.4,96.3 90.3,97.9 91.1,99.3 92,100.4 92.8,101.4 93.7,102.4 94.5,103.6 95.4,105 96.3,106.5 97.1,107.9 98,109.2 98.8,110.3 99.7,111.2 100.5,111.8 101.4,112.3 102.3,112.6 103.1,112.9 104,113.2 104.8,113.5 105.7,113.8 106.5,114.1 107.4,114.4 108.2,115 109.1,115.9 110,117.2 110.8,118.7 111.7,120.3 112.5,121.4 113.4,121.9 114.2,121.4 115.1,120.1 115.9,118.3 116.8,116.6 117.7,115.5 118.5,115.2 119.4,115.9 120.2,117.5 121.1,119.4 121.9,121.1 122.8,121.9 123.7,121.7 124.5,120.4 125.4,118.3 126.2,115.9 127.1,114 127.9,112.8 128.8,112.6 129.6,112.9 130.5,113.6 131.4,114.2 132.2,114.4 133.1,114.2 133.9,113.5 134.8,112.4 135.6,111.2 136.5,110 137.4,109 138.2,108.4 139.1,108 139.9,107.9 140.8,108 141.6,108.3 142.5,108.8 143.3,109.2 144.2,109.6 145.1,109.9 145.9,109.9 146.8,109.6 147.6,109.2 148.5,108.7 149.3,108.4 150.2,108.3 151,108.4 151.9,108.6 152.8,108.6 153.6,108.3 154.5,107.6 155.3,106.5 156.2,105.3 157,104.2 157.9,103.4 158.8,103.1 159.6,103.1 160.5,103.4 161.3,103.9 162.2,104.1 163,104.1 163.9,103.8 164.7,103.3 165.6,103 166.5,102.8 167.3,103 168.2,103.3 169,103.6 169.9,103.5 170.7,102.9 171.6,102 172.5,101 173.3,100 174.2,99.6 175,99.9 175.9,100.8 176.7,102.2 177.6,103.6 178.4,104.6 179.3,104.9 180.2,104.5 181,103.6 181.9,102.4 182.7,101.4 183.6,100.9 184.4,101.2 185.3,102.2 186.1,103.6 187,105.2 187.9,106.6 188.7,108.1 189.6,109.8 190.4,111.2 191.3,112.3 192.1,112.6 193,112.2 193.9,110.9 194.7,108.8 195.6,106.9 196.4,105.9 197.3,105.9 198.1,106.4 199,107.1 199.8,107.6 200.7,107.8 201.6,107.4 202.4,106.6 203.3,105.3 204.1,104.1 205,103.2 205.8,103 206.7,103.4 207.6,104.4 208.4,105.8 209.3,106.9 210.1,107.7 211,107.8 211.8,107.2 212.7,106.5 213.5,105.8 214.4,105.5" stroke="#d46226" stroke-width="0.7" fill="none" stroke-linejoin="round"/>
<path d="M44,80.5 44.9,82.5 45.7,88.9 46.6,93.3 47.5,94.8 48.3,92.4 49.2,89 50,85.3 50.9,81.4 51.7,77.9 52.6,75.2 53.5,73.1 54.3,71.4 55.2,69.8 56,68.1 56.9,66 57.7,63.1 58.6,59.2 59.4,55.1 60.3,51.2 61.2,49 62,49.2 62.9,51.9 63.7,55.7 64.6,59.6 65.4,63.7 66.3,67.9 67.2,71.9 68,75.2 68.9,77.5 69.7,78.6 70.6,79 71.4,79 72.3,78.8 73.1,79.2 74,80 74.9,80.8 75.7,81.8 76.6,83.2 77.4,84.1 78.3,84.8 79.1,86 80,87.1 80.8,87.9 81.7,88.5 82.6,89 83.4,90 84.3,91.2 85.1,92.7 86,94.1 86.8,95.2 87.7,96 88.6,96.4 89.4,96.4 90.3,96.1 91.1,95.9 92,95.9 92.8,96.7 93.7,98.2 94.5,100.6 95.4,103.7 96.3,107 97.1,110 98,112.2 98.8,113.6 99.7,114.2 100.5,114.1 101.4,113.7 102.3,113.3 103.1,113.4 104,114.1 104.8,115.5 105.7,117.4 106.5,119.5 107.4,121.3 108.2,122.5 109.1,122.9 110,122.7 110.8,121.8 111.7,120.6 112.5,119.4 113.4,118.5 114.2,118 115.1,118.1 115.9,118.7 116.8,119.6 117.7,120.4 118.5,121 119.4,121.2 120.2,121 121.1,120.6 121.9,120.2 122.8,119.8 123.7,119.5 124.5,119.5 125.4,119.5 126.2,119.4 127.1,119.3 127.9,118.9 128.8,118.2 129.6,117.2 130.5,115.8 131.4,114.4 132.2,113.1 133.1,112.3 133.9,112.1 134.8,112.3 135.6,112.8 136.5,113.3 137.4,113.5 138.2,113.1 139.1,112.1 139.9,110.3 140.8,108.1 141.6,105.6 142.5,103.5 143.3,102.1 144.2,101.7 145.1,102.5 145.9,104.2 146.8,106.6 147.6,109.2 148.5,111.5 149.3,113.2 150.2,114 151,113.8 151.9,112.8 152.8,111.2 153.6,109.3 154.5,107.6 155.3,106.2 156.2,105.3 157,104.7 157.9,104.3 158.8,103.8 159.6,103.1 160.5,102.2 161.3,101.3 162.2,100.5 163,100 163.9,99.9 164.7,100.1 165.6,100.6 166.5,101.4 167.3,102 168.2,102.3 169,102.2 169.9,101.7 170.7,100.8 171.6,100 172.5,99.3 173.3,99.2 174.2,99.6 175,100.6 175.9,102 176.7,103.6 177.6,104.9 178.4,105.7 179.3,105.8 180.2,105.2 181,103.9 181.9,102.3 182.7,100.8 183.6,99.7 184.4,99.2 185.3,99.6 186.1,100.8 187,102.4 187.9,104.1 188.7,106.3 189.6,108.9 190.4,111.3 191.3,113.1 192.1,114 193,113.7 193.9,112.2 194.7,109.8 195.6,107.5 196.4,106.3 197.3,106.3 198.1,106.7 199,107.1 199.8,107.4 200.7,107.5 201.6,107.3 202.4,107.1 203.3,106.8 204.1,106.7 205,106.7 205.8,106.8 206.7,106.9 207.6,106.8 208.4,106.5 209.3,105.8 210.1,104.7 211,103.5 211.8,102.3 212.7,101.5 213.5,101.2 214.4,101.8" stroke="#d05a24" stroke-width="0.7" fill="none" stroke-linejoin="round"/>
<path d="M44,78.2 44.9,80.1 45.7,87.1 46.6,91.8 47.5,93.1 48.3,90 49.2,86.4 50,82.9 50.9,79.3 51.7,76.2 52.6,73.7 53.5,71.3 54.3,68.9 55.2,66.1 56,63.2 56.9,60.1 57.7,56.5 58.6,52.3 59.4,48.2 60.3,44.6 61.2,42.9 62,43.7 62.9,46.9 63.7,50.6 64.6,53.5 65.4,56.3 66.3,59.3 67.2,62.5 68,65.7 68.9,68.7 69.7,71.5 70.6,74.1 71.4,76.4 72.3,78.5 73.1,80.7 74,82.5 74.9,83.2 75.7,83.4 76.6,83.4 77.4,82.5 78.3,81.9 79.1,82.2 80,83 80.8,84.2 81.7,85.4 82.6,86.5 83.4,87.8 84.3,89.3 85.1,90.7 86,91.9 86.8,93 87.7,94.1 88.6,95.2 89.4,96.3 90.3,97.4 91.1,98.5 92,99.6 92.8,100.9 93.7,102.2 94.5,103.8 95.4,105.6 96.3,107.5 97.1,109.2 98,110.7 98.8,112.1 99.7,113.4 100.5,114.6 101.4,115.7 102.3,116.7 103.1,117.7 104,118.7 104.8,119.6 105.7,120.5 106.5,121.2 107.4,121.7 108.2,122 109.1,122.1 110,122.2 110.8,122.3 111.7,122.4 112.5,122.5 113.4,122.5 114.2,122.5 115.1,122.4 115.9,122.3 116.8,122.2 117.7,122.1 118.5,122 119.4,122 120.2,122.1 121.1,122.3 121.9,122.7 122.8,123 123.7,123.3 124.5,123.2 125.4,122.8 126.2,122 127.1,121 127.9,120 128.8,119.1 129.6,118.1 130.5,117 131.4,115.9 132.2,114.8 133.1,113.9 133.9,113 134.8,112.2 135.6,111.3 136.5,110.5 137.4,109.8 138.2,109.2 139.1,108.7 139.9,108.4 140.8,108 141.6,107.7 142.5,107.5 143.3,107.4 144.2,107.4 145.1,107.7 145.9,108 146.8,108.5 147.6,109 148.5,109.4 149.3,109.8 150.2,110 151,110 151.9,109.6 152.8,109 153.6,108.1 154.5,107.1 155.3,106.2 156.2,105.3 157,104.6 157.9,103.9 158.8,103.3 159.6,102.6 160.5,102 161.3,101.5 162.2,101.1 163,100.7 163.9,100.5 164.7,100.3 165.6,100 166.5,99.8 167.3,99.7 168.2,99.5 169,99.4 169.9,99.4 170.7,99.5 171.6,99.7 172.5,100.1 173.3,100.5 174.2,101 175,101.4 175.9,101.8 176.7,102 177.6,102 178.4,101.9 179.3,101.7 180.2,101.4 181,101.2 181.9,100.9 182.7,100.8 183.6,100.7 184.4,100.9 185.3,101.2 186.1,101.6 187,102.2 187.9,102.9 188.7,104.3 189.6,106.9 190.4,110 191.3,113 192.1,115.5 193,116.6 193.9,116 194.7,113.8 195.6,111.1 196.4,109.1 197.3,108.1 198.1,107.4 199,106.7 199.8,106.1 200.7,105.6 201.6,105.2 202.4,104.9 203.3,104.7 204.1,104.7 205,104.7 205.8,104.7 206.7,104.7 207.6,104.8 208.4,104.8 209.3,104.9 210.1,105 211,105.1 211.8,105.3 212.7,105.5 213.5,105.7 214.4,106" stroke="#c84a10" stroke-width="1.8" fill="none" stroke-linejoin="round"/>
<path d="M44,75.8 44.9,79.9 45.7,88.1 46.6,93.9 47.5,96 48.3,93.9 49.2,90.5 50,86.5 50.9,81.8 51.7,77.3 52.6,73.3 53.5,69.5 54.3,65.9 55.2,62.2 56,58.8 56.9,55.5 57.7,51.9 58.6,47.7 59.4,43.9 60.3,40.7 61.2,39 62,39.3 62.9,41.6 63.7,44.5 64.6,47.1 65.4,50 66.3,53.4 67.2,57.5 68,61.8 68.9,65.8 69.7,69.4 70.6,72.4 71.4,74.6 72.3,76.2 73.1,77.7 74,78.7 74.9,78.9 75.7,78.7 76.6,78.6 77.4,77.9 78.3,77.8 79.1,78.7 80,80.1 80.8,81.8 81.7,83.6 82.6,85.3 83.4,87.3 84.3,89.4 85.1,91.4 86,93.4 86.8,95.2 87.7,97 88.6,98.7 89.4,100.2 90.3,101.2 91.1,101.9 92,102.2 92.8,102.2 93.7,102 94.5,102.1 95.4,102.6 96.3,103.5 97.1,104.9 98,106.8 98.8,109.2 99.7,112.1 100.5,115.2 101.4,118.4 102.3,121.1 103.1,123.4 104,125.1 104.8,126.1 105.7,126.3 106.5,125.9 107.4,125 108.2,123.9 109.1,122.8 110,122.1 110.8,121.7 111.7,121.7 112.5,122 113.4,122.6 114.2,123.4 115.1,124.1 115.9,124.7 116.8,125.2 117.7,125.5 118.5,125.9 119.4,126.2 120.2,126.6 121.1,127.2 121.9,127.7 122.8,127.9 123.7,127.7 124.5,127.1 125.4,125.7 126.2,123.9 127.1,121.8 127.9,119.8 128.8,117.9 129.6,116.2 130.5,114.8 131.4,113.8 132.2,113.1 133.1,112.9 133.9,112.8 134.8,112.7 135.6,112.5 136.5,112.1 137.4,111.5 138.2,110.6 139.1,109.6 139.9,108.7 140.8,107.8 141.6,107.1 142.5,106.7 143.3,106.7 144.2,107.1 145.1,107.9 145.9,108.8 146.8,109.6 147.6,110.2 148.5,110.5 149.3,110.5 150.2,110.2 151,109.7 151.9,109.1 152.8,108.5 153.6,108 154.5,107.5 155.3,107.3 156.2,107.1 157,107.1 157.9,106.9 158.8,106.4 159.6,105.4 160.5,104 161.3,102.4 162.2,100.6 163,99 163.9,97.7 164.7,96.8 165.6,96.3 166.5,96.3 167.3,96.6 168.2,97.2 169,98.1 169.9,98.9 170.7,99.8 171.6,100.7 172.5,101.6 173.3,102.4 174.2,103.1 175,103.6 175.9,103.9 176.7,104 177.6,103.8 178.4,103.3 179.3,102.6 180.2,101.6 181,100.5 181.9,99.3 182.7,98.3 183.6,97.5 184.4,97.3 185.3,97.6 186.1,98.5 187,99.9 187.9,101.9 188.7,104.8 189.6,108.7 190.4,113.3 191.3,118.1 192.1,122.7 193,125.9 193.9,125.9 194.7,122.3 195.6,116.5 196.4,110.8 197.3,107 198.1,104.5 199,103.2 199.8,102.8 200.7,102.8 201.6,103.2 202.4,103.8 203.3,104.4 204.1,105 205,105.5 205.8,105.8 206.7,106 207.6,106.3 208.4,106.6 209.3,106.9 210.1,107.2 211,107.4 211.8,107.5 212.7,107.5 213.5,107.1 214.4,106.5" stroke="#cb5026" stroke-width="0.7" fill="none" stroke-linejoin="round"/>
<path d="M44,82 44.9,83.9 45.7,88.3 46.6,90.9 47.5,90.6 48.3,87.4 49.2,83.6 50,79.6 50.9,75.3 51.7,71.7 52.6,68.6 53.5,65.9 54.3,63.5 55.2,61 56,58.6 56.9,55.9 57.7,52.6 58.6,48.1 59.4,43.9 60.3,40.7 61.2,38.6 62,38.2 62.9,39.7 63.7,42 64.6,44.3 65.4,46.7 66.3,49.3 67.2,52.2 68,54.9 68.9,57.4 69.7,59.6 70.6,61.8 71.4,63.8 72.3,65.9 73.1,68.6 74,71.5 74.9,73.9 75.7,76 76.6,77.8 77.4,78.9 78.3,80.3 79.1,82.2 80,84.2 80.8,86 81.7,87.5 82.6,88.3 83.4,88.9 84.3,89.1 85.1,89.2 86,89.4 86.8,90.2 87.7,91.8 88.6,94.3 89.4,97.4 90.3,100.4 91.1,103.1 92,104.9 92.8,105.8 93.7,105.9 94.5,105.7 95.4,105.8 96.3,106.4 97.1,107.8 98,109.7 98.8,112.3 99.7,115 100.5,117.5 101.4,119.2 102.3,120.3 103.1,120.7 104,120.9 104.8,121.2 105.7,121.9 106.5,123.1 107.4,124.7 108.2,126.2 109.1,127.5 110,128.2 110.8,128.2 111.7,127.7 112.5,127 113.4,126.5 114.2,126.7 115.1,127.5 115.9,128.9 116.8,130.5 117.7,132 118.5,133 119.4,133.1 120.2,132.3 121.1,130.8 121.9,128.8 122.8,126.4 123.7,124.1 124.5,122.3 125.4,120.8 126.2,119.8 127.1,119.4 127.9,119.4 128.8,119.6 129.6,119.7 130.5,119.4 131.4,118.7 132.2,117.6 133.1,116.2 133.9,114.5 134.8,112.7 135.6,111 136.5,109.5 137.4,108.6 138.2,108.5 139.1,109 139.9,110 140.8,110.9 141.6,111.4 142.5,111.2 143.3,110.1 144.2,108.4 145.1,106.4 145.9,104.7 146.8,103.8 147.6,104.1 148.5,105.6 149.3,108.2 150.2,111.3 151,114.2 151.9,116.3 152.8,116.9 153.6,115.8 154.5,113.1 155.3,109.5 156.2,105.9 157,103.1 157.9,101.1 158.8,100.1 159.6,99.9 160.5,100.1 161.3,100.3 162.2,100.4 163,100.3 163.9,100 164.7,99.7 165.6,99.5 166.5,99.7 167.3,100.1 168.2,100.5 169,100.8 169.9,100.8 170.7,100.4 171.6,99.9 172.5,99.4 173.3,99.1 174.2,99.2 175,99.8 175.9,100.6 176.7,101.6 177.6,102.3 178.4,102.5 179.3,102.1 180.2,101.2 181,100.1 181.9,99 182.7,98.3 183.6,98.3 184.4,99.1 185.3,100.3 186.1,101.9 187,103.4 187.9,104.8 188.7,106.3 189.6,108.2 190.4,110.6 191.3,113.6 192.1,117 193,119.9 193.9,120.8 194.7,118.7 195.6,114.8 196.4,110.8 197.3,108.1 198.1,106.5 199,105.7 199.8,105.3 200.7,105.2 201.6,105.1 202.4,105 203.3,104.6 204.1,104.1 205,103.4 205.8,102.8 206.7,102.5 207.6,102.8 208.4,103.6 209.3,104.9 210.1,106.3 211,107.6 211.8,108.3 212.7,108.3 213.5,107.7 214.4,106.7" stroke="#c64822" stroke-width="0.7" fill="none" stroke-linejoin="round"/>
<path d="M44,79.5 44.9,84.7 45.7,88.9 46.6,91.4 47.5,90.8 48.3,88.7 49.2,85.2 50,80.7 50.9,75.5 51.7,70.8 52.6,66.2 53.5,61.6 54.3,57 55.2,52.3 56,47.8 56.9,43.5 57.7,39.3 58.6,34.5 59.4,31.8 60.3,31.6 61.2,31.5 62,31.5 62.9,31.5 63.7,31.9 64.6,32.4 65.4,33.2 66.3,34.3 67.2,36.6 68,39.1 68.9,41.8 69.7,44.6 70.6,47.1 71.4,48.8 72.3,50.5 73.1,52.8 74,55.9 74.9,59.3 75.7,62.9 76.6,66.4 77.4,69.9 78.3,73.6 79.1,77.2 80,80.5 80.8,83.3 81.7,85.8 82.6,88.1 83.4,90.3 84.3,92.4 85.1,94.3 86,95.7 86.8,97 87.7,98.1 88.6,99.2 89.4,100.2 90.3,101 91.1,101.7 92,102.5 92.8,103.4 93.7,104.6 94.5,106.1 95.4,107.9 96.3,109.8 97.1,111.7 98,113.5 98.8,115.3 99.7,117.1 100.5,118.8 101.4,120.5 102.3,122.1 103.1,123.5 104,124.9 104.8,126.2 105.7,127.5 106.5,128.7 107.4,130 108.2,131.4 109.1,132.8 110,134.1 110.8,135.4 111.7,136.5 112.5,137.5 113.4,138.5 114.2,139.5 115.1,140.2 115.9,140.5 116.8,140.5 117.7,140.2 118.5,139.8 119.4,139.2 120.2,138.5 121.1,137.7 121.9,136.7 122.8,134.9 123.7,132.5 124.5,130.1 125.4,127.5 126.2,124.7 127.1,122.7 127.9,121.2 128.8,120 129.6,118.9 130.5,117.9 131.4,116.9 132.2,115.9 133.1,115 133.9,114.2 134.8,113.4 135.6,112.7 136.5,111.9 137.4,111.2 138.2,110.6 139.1,110.1 139.9,109.7 140.8,109.3 141.6,109 142.5,108.8 143.3,108.7 144.2,108.8 145.1,109.4 145.9,110.3 146.8,111.3 147.6,112.1 148.5,112.6 149.3,112.7 150.2,112.7 151,112.7 151.9,112.7 152.8,112.6 153.6,111.8 154.5,110.3 155.3,108.6 156.2,107 157,105.9 157.9,104.9 158.8,104.1 159.6,103.4 160.5,102.7 161.3,102 162.2,101.4 163,100.9 163.9,100.4 164.7,99.9 165.6,99.5 166.5,99 167.3,98.5 168.2,98.1 169,97.7 169.9,97.6 170.7,97.7 171.6,98.1 172.5,98.8 173.3,99.6 174.2,100.3 175,100.7 175.9,100.7 176.7,100.5 177.6,100.3 178.4,99.9 179.3,99.7 180.2,99.5 181,99.4 181.9,99.6 182.7,99.9 183.6,100.4 184.4,101 185.3,101.6 186.1,102.1 187,102.8 187.9,103.6 188.7,104.4 189.6,105.2 190.4,105.8 191.3,106 192.1,106 193,105.8 193.9,105.5 194.7,105.2 195.6,105 196.4,104.8 197.3,104.6 198.1,104.5 199,104.4 199.8,104.3 200.7,104.2 201.6,104.1 202.4,104 203.3,104 204.1,103.9 205,103.9 205.8,103.9 206.7,104 207.6,104 208.4,104.2 209.3,104.4 210.1,104.6 211,104.8 211.8,105.1 212.7,105.4 213.5,105.7 214.4,106" stroke="#b01a34" stroke-width="1.8" fill="none" stroke-linejoin="round"/>
<path d="M44,84.6 44.9,88.2 45.7,89.8 46.6,87.9 47.5,82.8 48.3,78.4 49.2,75.8 50,72.2 50.9,67.7 51.7,63.9 52.6,60.3 53.5,56.5 54.3,52.3 55.2,47.6 56,42.7 56.9,37.7 57.7,32.9 58.6,28.1 59.4,25.6 60.3,25.9 61.2,26.8 62,27.9 62.9,29.1 63.7,30.1 64.6,30.8 65.4,31 66.3,31 67.2,31.6 68,32.5 68.9,33.9 69.7,36.1 70.6,38.5 71.4,41.1 72.3,44.4 73.1,48.6 74,53.4 74.9,58.4 75.7,63.1 76.6,67.2 77.4,70.7 78.3,74 79.1,76.9 80,79.6 80.8,82.2 81.7,84.8 82.6,87.5 83.4,90.4 84.3,93.2 85.1,95.6 86,97.3 86.8,98.4 87.7,98.9 88.6,99.2 89.4,99.2 90.3,99.4 91.1,99.9 92,101 92.8,102.6 93.7,104.9 94.5,107.6 95.4,110.6 96.3,113.4 97.1,115.9 98,117.8 98.8,119.5 99.7,121 100.5,122.4 101.4,123.9 102.3,125.4 103.1,127.1 104,128.8 104.8,130.3 105.7,131.7 106.5,132.6 107.4,133.1 108.2,133.3 109.1,133.2 110,133.1 110.8,133.2 111.7,133.7 112.5,134.7 113.4,136.3 114.2,138.2 115.1,140.1 115.9,141.7 116.8,142.6 117.7,142.7 118.5,142.1 119.4,140.7 120.2,138.8 121.1,136.7 121.9,134.8 122.8,132.9 123.7,131.2 124.5,130.1 125.4,129.4 126.2,128.6 127.1,128 127.9,127.2 128.8,125.9 129.6,124.3 130.5,122.3 131.4,119.9 132.2,117.4 133.1,115.1 133.9,113.2 134.8,111.8 135.6,111 136.5,110.5 137.4,110.3 138.2,110.3 139.1,110.2 139.9,110 140.8,109.7 141.6,109.2 142.5,108.8 143.3,108.5 144.2,108.5 145.1,109 145.9,109.9 146.8,110.8 147.6,111.6 148.5,111.9 149.3,111.7 150.2,111.2 151,110.5 151.9,109.8 152.8,109.1 153.6,107.9 154.5,106.7 155.3,105.8 156.2,105.3 157,105.4 157.9,105.6 158.8,105.4 159.6,104.7 160.5,103.4 161.3,101.5 162.2,99.4 163,97.3 163.9,95.5 164.7,94.4 165.6,94.2 166.5,94.6 167.3,95.7 168.2,97.2 169,98.8 169.9,100.2 170.7,101.3 171.6,101.9 172.5,102 173.3,101.5 174.2,100.5 175,99.3 175.9,97.8 176.7,96.5 177.6,95.5 178.4,94.9 179.3,94.6 180.2,94.7 181,95 181.9,95.5 182.7,96.3 183.6,97.1 184.4,98.1 185.3,99.3 186.1,100.4 187,101.7 187.9,103 188.7,104.1 189.6,104.9 190.4,105.2 191.3,104.9 192.1,104 193,102.7 193.9,101.4 194.7,100.3 195.6,99.5 196.4,99.3 197.3,99.6 198.1,100.3 199,101.2 199.8,102.1 200.7,102.7 201.6,102.9 202.4,102.5 203.3,101.7 204.1,100.6 205,99.4 205.8,98.5 206.7,98.1 207.6,98.3 208.4,99.3 209.3,100.7 210.1,102.5 211,104.4 211.8,105.9 212.7,107 213.5,107.4 214.4,107.1" stroke="#a0229a" stroke-width="0.7" fill="none" stroke-linejoin="round"/>
<path d="M44,89.7 44.9,93.1 45.7,93 46.6,86.7 47.5,76.3 48.3,68.7 49.2,66.8 50,62.3 50.9,56.2 51.7,51.1 52.6,46.7 53.5,43.1 54.3,39.8 55.2,36.7 56,33.7 56.9,30.4 57.7,27.3 58.6,24.1 59.4,21.8 60.3,21.4 61.2,20.8 62,20.1 62.9,19.4 63.7,19.1 64.6,19.2 65.4,20.1 66.3,21.8 67.2,24.7 68,28.4 68.9,32.6 69.7,36.6 70.6,39.6 71.4,41.5 72.3,42.8 73.1,44.1 74,45.9 74.9,48.5 75.7,52 76.6,56.3 77.4,61.5 78.3,67.4 79.1,73.4 80,78.8 80.8,83.5 81.7,87.3 82.6,90.1 83.4,92.3 84.3,93.8 85.1,95 86,96 86.8,97 87.7,98.4 88.6,99.9 89.4,101.7 90.3,103.7 91.1,105.7 92,107.9 92.8,110 93.7,112.1 94.5,114 95.4,115.6 96.3,117 97.1,118 98,118.9 98.8,120 99.7,121.4 100.5,123.1 101.4,125.4 102.3,128.1 103.1,131 104,133.8 104.8,136.2 105.7,138 106.5,139.2 107.4,139.8 108.2,139.8 109.1,139.8 110,139.8 110.8,140.1 111.7,140.6 112.5,141.3 113.4,141.9 114.2,142.3 115.1,142.2 115.9,141.6 116.8,140.8 117.7,139.9 118.5,139.2 119.4,138.9 120.2,139 121.1,139.4 121.9,139.9 122.8,139.9 123.7,139.3 124.5,138 125.4,136 126.2,133.3 127.1,130.1 127.9,127.1 128.8,124.7 129.6,123.4 130.5,122.9 131.4,122.6 132.2,122 133.1,120.8 133.9,118.9 134.8,116.5 135.6,113.8 136.5,111.4 137.4,109.5 138.2,108.5 139.1,108.3 139.9,108.9 140.8,109.7 141.6,110.5 142.5,110.9 143.3,110.6 144.2,109.8 145.1,108.8 145.9,107.8 146.8,107 147.6,106.5 148.5,106.2 149.3,106 150.2,105.5 151,104.7 151.9,103.4 152.8,101.6 153.6,99 154.5,96.2 155.3,93.9 156.2,92.6 157,92.3 157.9,92.5 158.8,92.8 159.6,92.9 160.5,92.6 161.3,92.2 162.2,91.7 163,91.6 163.9,92.2 164.7,93.5 165.6,95.3 166.5,97.3 167.3,98.8 168.2,99.5 169,99.3 169.9,98.2 170.7,96.5 171.6,94.9 172.5,93.6 173.3,93.1 174.2,93.5 175,94.5 175.9,95.8 176.7,96.7 177.6,96.8 178.4,95.9 179.3,94.2 180.2,92 181,89.9 181.9,88.5 182.7,88.4 183.6,89.6 184.4,92 185.3,95 186.1,97.9 187,100.1 187.9,101.4 188.7,101.5 189.6,100.7 190.4,99.6 191.3,98.4 192.1,97.6 193,97.5 193.9,97.8 194.7,98.5 195.6,99 196.4,99.2 197.3,98.8 198.1,97.9 199,96.8 199.8,95.7 200.7,94.9 201.6,94.6 202.4,94.7 203.3,95.1 204.1,95.5 205,95.7 205.8,95.5 206.7,95.1 207.6,94.8 208.4,94.7 209.3,95.2 210.1,96.3 211,97.9 211.8,99.7 212.7,101.4 213.5,102.6 214.4,103" stroke="#9424e8" stroke-width="0.7" fill="none" stroke-linejoin="round"/>
<path d="M44,91.8 44.9,94.1 45.7,92.3 46.6,83.2 47.5,70.2 48.3,62.5 49.2,63.4 50,61.1 50.9,56.4 51.7,52.1 52.6,47.6 53.5,43.1 54.3,38.2 55.2,33 56,27.4 56.9,21.4 57.7,16.2 58.6,11.6 59.4,8.9 60.3,8.8 61.2,9.6 62,11.2 62.9,13.2 63.7,15.4 64.6,17.7 65.4,19.7 66.3,21.4 67.2,23.3 68,25 68.9,27.3 69.7,29.6 70.6,31.4 71.4,33.4 72.3,35.9 73.1,39.2 74,43.6 74.9,48.8 75.7,54.5 76.6,60.3 77.4,66.1 78.3,71.6 79.1,76.5 80,80.5 80.8,83.6 81.7,86 82.6,87.9 83.4,89.3 84.3,90.5 85.1,91.6 86,92.6 86.8,93.9 87.7,95.3 88.6,97.1 89.4,99.1 90.3,101.5 91.1,104.1 92,107.1 92.8,110.3 93.7,113.5 94.5,116.7 95.4,119.7 96.3,122.4 97.1,124.7 98,126.5 98.8,128 99.7,129.1 100.5,129.8 101.4,130.4 102.3,130.9 103.1,131.4 104,132 104.8,132.7 105.7,133.6 106.5,134.6 107.4,135.5 108.2,136.3 109.1,136.9 110,137.6 110.8,138.2 111.7,138.8 112.5,139.4 113.4,139.9 114.2,140.4 115.1,140.8 115.9,141.1 116.8,141.1 117.7,140.9 118.5,140.1 119.4,139 120.2,137.6 121.1,136.1 121.9,134.9 122.8,134.1 123.7,133.8 124.5,133.9 125.4,134.4 126.2,134.6 127.1,133.8 127.9,132.4 128.8,130.7 129.6,129.1 130.5,127.6 131.4,125.9 132.2,123.8 133.1,121.7 133.9,119.6 134.8,117.7 135.6,116.1 136.5,114.7 137.4,113.4 138.2,112.2 139.1,110.9 139.9,109.5 140.8,108.1 141.6,106.6 142.5,105.3 143.3,104 144.2,103.1 145.1,102.5 145.9,102.5 146.8,102.8 147.6,103.6 148.5,104.6 149.3,105.6 150.2,106.2 151,106.2 151.9,105.6 152.8,103.9 153.6,101.2 154.5,98 155.3,94.9 156.2,92.5 157,91.3 157.9,90.7 158.8,90.6 159.6,90.8 160.5,91.2 161.3,91.6 162.2,91.8 163,91.9 163.9,91.9 164.7,91.9 165.6,91.9 166.5,91.9 167.3,92 168.2,92.2 169,92.5 169.9,93.1 170.7,93.8 171.6,94.6 172.5,95.2 173.3,95.7 174.2,95.9 175,95.8 175.9,95.5 176.7,95 177.6,94.2 178.4,93.3 179.3,92.5 180.2,91.7 181,91 181.9,90.6 182.7,90.4 183.6,90.6 184.4,91.1 185.3,91.9 186.1,92.8 187,93.7 187.9,94.6 188.7,95.2 189.6,95.7 190.4,95.9 191.3,95.9 192.1,95.4 193,94.7 193.9,93.9 194.7,93 195.6,92.1 196.4,91.5 197.3,91.3 198.1,91.6 199,92.2 199.8,93.2 200.7,94.3 201.6,95.5 202.4,96.5 203.3,97.1 204.1,97.4 205,97.1 205.8,96.5 206.7,95.7 207.6,94.8 208.4,93.9 209.3,93.2 210.1,92.8 211,92.7 211.8,93 212.7,93.5 213.5,94.1 214.4,94.9" stroke="#8a22f0" stroke-width="0.7" fill="none" stroke-linejoin="round"/>
<path d="M44,84.8 44.9,89.9 45.7,91.8 46.6,87.1 47.5,76.4 48.3,67.4 49.2,62.7 50,56.3 50.9,49.9 51.7,45.2 52.6,41.3 53.5,38 54.3,34.8 55.2,31.3 56,26.9 56.9,21.7 57.7,16.7 58.6,12.2 59.4,9.1 60.3,8.2 61.2,8.9 62,10.2 62.9,11.6 63.7,12.6 64.6,13.1 65.4,13.1 66.3,12.8 67.2,12.9 68,13.7 68.9,16.7 69.7,20.9 70.6,25.1 71.4,29.5 72.3,34 73.1,38.6 74,43.4 74.9,48.3 75.7,53 76.6,57.3 77.4,61.3 78.3,65 79.1,68.2 80,70.8 80.8,73 81.7,75.1 82.6,77.5 83.4,80.4 84.3,83.7 85.1,87.4 86,91 86.8,94.2 87.7,96.9 88.6,98.9 89.4,100.5 90.3,102 91.1,103.9 92,106.4 92.8,109.5 93.7,113 94.5,116.3 95.4,119 96.3,120.5 97.1,121 98,120.6 98.8,120.1 99.7,120.1 100.5,121.1 101.4,123.6 102.3,127.4 103.1,131.8 104,136 104.8,139.3 105.7,141.1 106.5,141.3 107.4,140.1 108.2,138.1 109.1,136 110,134.3 110.8,133.4 111.7,133.2 112.5,133.6 113.4,134.2 114.2,134.7 115.1,135.2 115.9,135.5 116.8,135.8 117.7,136.2 118.5,136.4 119.4,136.3 120.2,136 121.1,135.7 121.9,135.5 122.8,135.5 123.7,135.6 124.5,135.6 125.4,135.3 126.2,134.3 127.1,131.7 127.9,128.1 128.8,124.2 129.6,120.7 130.5,118 131.4,115.7 132.2,113.9 133.1,113 133.9,112.9 134.8,113.2 135.6,113.8 136.5,113.8 137.4,112.9 138.2,111.1 139.1,108.6 139.9,106 140.8,103.7 141.6,102.2 142.5,101.6 143.3,101.7 144.2,102.2 145.1,102.6 145.9,102.6 146.8,102 147.6,101.3 148.5,101.1 149.3,101.6 150.2,102.7 151,104.2 151.9,105.6 152.8,105.9 153.6,104.1 154.5,100.4 155.3,95.4 156.2,90.2 157,86.1 157.9,83.3 158.8,81.9 159.6,81.8 160.5,82.3 161.3,83.4 162.2,84.9 163,86.7 163.9,88.6 164.7,90.1 165.6,91.2 166.5,92 167.3,92.7 168.2,93.3 169,93.8 169.9,94.1 170.7,94.2 171.6,94 172.5,93.6 173.3,93.3 174.2,93.1 175,93.2 175.9,93.5 176.7,93.9 177.6,94.2 178.4,94.1 179.3,93.6 180.2,92.8 181,91.9 181.9,91.2 182.7,90.9 183.6,91.4 184.4,92.3 185.3,93.4 186.1,94.4 187,94.9 187.9,94.8 188.7,94.3 189.6,93.7 190.4,93.4 191.3,93.5 192.1,94.1 193,94.9 193.9,95.5 194.7,95.7 195.6,95.1 196.4,93.9 197.3,92.4 198.1,91.1 199,90.5 199.8,90.8 200.7,92 201.6,93.9 202.4,96 203.3,97.6 204.1,98.4 205,98.4 205.8,97.7 206.7,96.6 207.6,95.8 208.4,95.4 209.3,95.5 210.1,95.9 211,96.3 211.8,96.3 212.7,95.7 213.5,94.6 214.4,93.3" stroke="#8020ea" stroke-width="0.7" fill="none" stroke-linejoin="round"/>
<path d="M44,84.8 44.9,88.7 45.7,91.6 46.6,91.5 47.5,85.6 48.3,79.2 49.2,72.9 50,67.1 50.9,63.1 51.7,59.9 52.6,56 53.5,51.4 54.3,46.4 55.2,41.4 56,36 56.9,30.8 57.7,26.4 58.6,22.8 59.4,19.9 60.3,17.9 61.2,17.6 62,17.3 62.9,17.2 63.7,17.1 64.6,17.2 65.4,17.4 66.3,17.9 67.2,18.4 68,19.7 68.9,23.4 69.7,28 70.6,32.2 71.4,35.9 72.3,39.6 73.1,43.5 74,47.8 74.9,52.3 75.7,56.4 76.6,60.3 77.4,64.1 78.3,67.8 79.1,71.4 80,75 80.8,78.4 81.7,81.9 82.6,85.3 83.4,88.7 84.3,92.1 85.1,95.5 86,98.7 86.8,101.6 87.7,104.4 88.6,107 89.4,109.6 90.3,112 91.1,114.4 92,116.7 92.8,118.9 93.7,121.1 94.5,123.3 95.4,125.6 96.3,127.9 97.1,130.2 98,132.4 98.8,134.5 99.7,136.4 100.5,138.1 101.4,139.5 102.3,141 103.1,142.3 104,143.5 104.8,144.4 105.7,145.1 106.5,145.6 107.4,146 108.2,146.3 109.1,146.6 110,146.8 110.8,146.9 111.7,146.9 112.5,146.8 113.4,146.7 114.2,146.4 115.1,146.1 115.9,145.8 116.8,145.4 117.7,144.9 118.5,144.3 119.4,143 120.2,141.6 121.1,140.7 121.9,140.7 122.8,141.6 123.7,142.9 124.5,144.1 125.4,144.8 126.2,144 127.1,141.1 127.9,137.1 128.8,132.9 129.6,129.3 130.5,126.9 131.4,124.6 132.2,122.4 133.1,120.5 133.9,118.8 134.8,117.4 135.6,116.4 136.5,115.5 137.4,114.8 138.2,114.1 139.1,113.5 139.9,113 140.8,112.5 141.6,112.2 142.5,111.9 143.3,111.7 144.2,111.4 145.1,111.2 145.9,111.1 146.8,111.1 147.6,111.9 148.5,113.6 149.3,116 150.2,118.3 151,120.3 151.9,121.4 152.8,120.8 153.6,118.3 154.5,114.7 155.3,111.3 156.2,109 157,109 157.9,110.6 158.8,112.7 159.6,113.9 160.5,113.3 161.3,111.2 162.2,108.7 163,106.9 163.9,105.9 164.7,105 165.6,104.1 166.5,103.4 167.3,102.8 168.2,102.3 169,102.1 169.9,102.1 170.7,102.5 171.6,103.2 172.5,104.2 173.3,105.2 174.2,106.1 175,106.7 175.9,107.1 176.7,107 177.6,106.7 178.4,106.3 179.3,105.8 180.2,105.3 181,104.9 181.9,104.5 182.7,104.4 183.6,104.7 184.4,105.3 185.3,106 186.1,106.7 187,107.3 187.9,107.6 188.7,107.5 189.6,107 190.4,106.3 191.3,105.6 192.1,104.9 193,104.5 193.9,104.5 194.7,104.8 195.6,105.4 196.4,106.1 197.3,106.9 198.1,107.6 199,108.1 199.8,108.4 200.7,108.4 201.6,108.4 202.4,108.4 203.3,108.3 204.1,108.3 205,108.3 205.8,108.2 206.7,108.2 207.6,108.2 208.4,108.2 209.3,108.2 210.1,108.2 211,108.3 211.8,108.4 212.7,108.5 213.5,108.6 214.4,108.7" stroke="#4b0a80" stroke-width="1.8" fill="none" stroke-linejoin="round"/>
</g>
<path d="M37.4,154.35v-3.5M37.4,0.55v3.5M81.65,154.35v-3.5M81.65,0.55v3.5M125.9,154.35v-3.5M125.9,0.55v3.5M170.15,154.35v-3.5M170.15,0.55v3.5M214.4,154.35v-3.5M214.4,0.55v3.5M59.52,154.35v-2M59.52,0.55v2M103.78,154.35v-2M103.78,0.55v2M148.03,154.35v-2M148.03,0.55v2M192.28,154.35v-2M192.28,0.55v2M37.4,140.54h3.5M214.4,140.54h-3.5M37.4,114h3.5M214.4,114h-3.5M37.4,87.46h3.5M214.4,87.46h-3.5M37.4,60.92h3.5M214.4,60.92h-3.5M37.4,34.38h3.5M214.4,34.38h-3.5M37.4,7.84h3.5M214.4,7.84h-3.5" stroke="#1a9a96" stroke-width="1" fill="none"/>
<rect x="37.4" y="0.55" width="177" height="153.8" fill="none" stroke="#1a9a96" stroke-width="1.1"/>
<text x="33.7" y="144.94" font-size="11.77" text-anchor="end" fill="#000" textLength="16.36" lengthAdjust="spacingAndGlyphs">−1</text>
<text x="33.7" y="118.4" font-size="11.77" text-anchor="end" fill="#000" textLength="7.06" lengthAdjust="spacingAndGlyphs">0</text>
<text x="33.7" y="91.86" font-size="11.77" text-anchor="end" fill="#000" textLength="7.06" lengthAdjust="spacingAndGlyphs">1</text>
<text x="33.7" y="65.32" font-size="11.77" text-anchor="end" fill="#000" textLength="7.06" lengthAdjust="spacingAndGlyphs">2</text>
<text x="33.7" y="38.78" font-size="11.77" text-anchor="end" fill="#000" textLength="7.06" lengthAdjust="spacingAndGlyphs">3</text>
<text x="33.7" y="12.24" font-size="11.77" text-anchor="end" fill="#000" textLength="7.06" lengthAdjust="spacingAndGlyphs">4</text>
<text x="41.5" y="10.9" font-size="11.77" text-anchor="start" fill="#000" textLength="15.46" lengthAdjust="spacingAndGlyphs">(a)</text>
<text x="102.3" y="15.6" font-size="10.07" text-anchor="start" fill="#000000" textLength="14.87" lengthAdjust="spacingAndGlyphs">0 T</text>
<text x="102.3" y="28.95" font-size="10.07" text-anchor="start" fill="#ffe600" textLength="14.87" lengthAdjust="spacingAndGlyphs">1 T</text>
<text x="102.3" y="42.3" font-size="10.07" text-anchor="start" fill="#fcd200" textLength="14.87" lengthAdjust="spacingAndGlyphs">2 T</text>
<text x="102.3" y="55.65" font-size="10.07" text-anchor="start" fill="#f8c414" textLength="14.87" lengthAdjust="spacingAndGlyphs">3 T</text>
<text x="102.3" y="69" font-size="10.07" text-anchor="start" fill="#f5b820" textLength="14.87" lengthAdjust="spacingAndGlyphs">4 T</text>
<text x="102.3" y="82.35" font-size="10.07" text-anchor="start" fill="#f0a400" font-weight="bold" textLength="16.4" lengthAdjust="spacingAndGlyphs">5 T</text>
<text x="125.5" y="15.6" font-size="10.07" text-anchor="start" fill="#ec9c1c" textLength="14.87" lengthAdjust="spacingAndGlyphs">6 T</text>
<text x="125.5" y="28.95" font-size="10.07" text-anchor="start" fill="#e9921a" textLength="14.87" lengthAdjust="spacingAndGlyphs">7 T</text>
<text x="125.5" y="42.3" font-size="10.07" text-anchor="start" fill="#e68a1c" textLength="14.87" lengthAdjust="spacingAndGlyphs">8 T</text>
<text x="125.5" y="55.65" font-size="10.07" text-anchor="start" fill="#e2801c" textLength="14.87" lengthAdjust="spacingAndGlyphs">9 T</text>
<text x="125.5" y="69" font-size="10.07" text-anchor="start" fill="#e07010" font-weight="bold" textLength="23.01" lengthAdjust="spacingAndGlyphs">10 T</text>
<text x="125.5" y="82.35" font-size="10.07" text-anchor="start" fill="#dc7424" textLength="20.91" lengthAdjust="spacingAndGlyphs">11 T</text>
<text x="155" y="15.6" font-size="10.07" text-anchor="start" fill="#d86a24" textLength="20.91" lengthAdjust="spacingAndGlyphs">12 T</text>
<text x="155" y="28.95" font-size="10.07" text-anchor="start" fill="#d46226" textLength="20.91" lengthAdjust="spacingAndGlyphs">13 T</text>
<text x="155" y="42.3" font-size="10.07" text-anchor="start" fill="#d05a24" textLength="20.91" lengthAdjust="spacingAndGlyphs">14 T</text>
<text x="155" y="55.65" font-size="10.07" text-anchor="start" fill="#c84a10" font-weight="bold" textLength="23.01" lengthAdjust="spacingAndGlyphs">15 T</text>
<text x="155" y="69" font-size="10.07" text-anchor="start" fill="#cb5026" textLength="20.91" lengthAdjust="spacingAndGlyphs">16 T</text>
<text x="155" y="82.35" font-size="10.07" text-anchor="start" fill="#c64822" textLength="20.91" lengthAdjust="spacingAndGlyphs">17 T</text>
<text x="184.4" y="15.6" font-size="10.07" text-anchor="start" fill="#b01a34" font-weight="bold" textLength="23.01" lengthAdjust="spacingAndGlyphs">20 T</text>
<text x="184.4" y="28.95" font-size="10.07" text-anchor="start" fill="#a0229a" textLength="20.91" lengthAdjust="spacingAndGlyphs">22 T</text>
<text x="184.4" y="42.3" font-size="10.07" text-anchor="start" fill="#9424e8" textLength="20.91" lengthAdjust="spacingAndGlyphs">25 T</text>
<text x="184.4" y="55.65" font-size="10.07" text-anchor="start" fill="#8a22f0" textLength="20.91" lengthAdjust="spacingAndGlyphs">27 T</text>
<text x="184.4" y="69" font-size="10.07" text-anchor="start" fill="#8020ea" textLength="20.91" lengthAdjust="spacingAndGlyphs">30 T</text>
<text x="184.4" y="82.35" font-size="10.07" text-anchor="start" fill="#4b0a80" font-weight="bold" textLength="23.01" lengthAdjust="spacingAndGlyphs">34 T</text>
<text transform="translate(8.9,78.1) rotate(-90)" font-size="11.6" text-anchor="middle" textLength="117" lengthAdjust="spacingAndGlyphs">[<tspan font-style="italic">R</tspan>(<tspan font-style="italic">B</tspan>) − <tspan font-style="italic">R</tspan>(0)]/<tspan font-style="italic">R</tspan>(0)(%)</text>
<text transform="translate(8.9,240) rotate(-90)" font-size="11.6" text-anchor="middle" textLength="117" lengthAdjust="spacingAndGlyphs">[<tspan font-style="italic">R</tspan>(<tspan font-style="italic">B</tspan>) − <tspan font-style="italic">R</tspan>(0)]/<tspan font-style="italic">R</tspan>(0)(%)</text>
<clipPath id="cd"><rect x="37.4" y="162.3" width="177" height="153.9"/></clipPath>
<g clip-path="url(#cd)">
<path d="M44,269.5H214" stroke="#6a6a6a" stroke-width="1"/>
<path d="M48.2,276.7 49,274.3 49.9,272.3 50.7,270.6 51.5,269.1 52.4,267.6 53.2,266.2 54,265.2 54.9,264.6 55.7,264.1 56.5,263.8 57.4,264.1 58.2,265.5 59.1,267.3 59.9,269 60.7,271.1 61.6,273 62.4,273.8 63.2,273 64.1,271.7 64.9,270.8 65.7,270.4 66.6,269.9 67.4,269.3 68.2,268.7 69.1,268.2 69.9,267.6 70.7,266.9 71.6,266.4 72.4,266.3 73.3,266.9 74.1,268.2 74.9,269.4 75.8,269.4 76.6,268.2 77.4,266.3 78.3,264.4 79.1,263 79.9,262.7 80.8,263.8 81.6,265.7 82.4,267.9 83.3,269.8 84.1,271 84.9,272 85.8,272.7 86.6,273 87.5,273 88.3,272.7 89.1,272.4 90,272.2 90.8,272.3 91.6,272.6 92.5,272.9 93.3,273.3 94.1,273.5 95,273.6 95.8,273.2 96.6,272.4 97.5,271.3 98.3,270.1 99.1,269 100,267.8 100.8,266.5 101.6,265.1 102.5,263.9 103.3,263.1 104.2,262.7 105,263.2 105.8,264.5 106.7,266.4 107.5,268.4 108.3,269.9 109.2,271.5 110,273.2 110.8,274.8 111.7,276.1 112.5,276.7 113.3,276.6 114.2,276.2 115,275.7 115.8,275.1 116.7,274.6 117.5,274.1 118.4,273.8 119.2,273.6 120,273.3 120.9,272.9 121.7,272.4 122.5,271.8 123.4,271.3 124.2,270.9 125,270.7 125.9,270.7 126.7,271 127.5,271.6 128.4,272.2 129.2,272.8 130,273.4 130.9,273.8 131.7,273.9 132.6,273.7 133.4,273.4 134.2,273 135.1,272.6 135.9,272.4 136.7,272.3 137.6,272.2 138.4,272.2 139.2,272.2 140.1,272.2 140.9,272.2 141.7,272.2 142.6,272.4 143.4,273 144.2,273.7 145.1,274.6 145.9,275.7 146.7,277 147.6,278.3 148.4,279.4 149.3,280.1 150.1,280.4 150.9,280.2 151.8,279.4 152.6,278.4 153.4,277.3 154.3,276.4 155.1,275.7 155.9,275.4 156.8,275.4 157.6,275.7 158.4,276.2 159.3,276.7 160.1,277 160.9,277 161.8,276.6 162.6,276.1 163.5,275.7 164.3,275.7 165.1,276 166,276.6 166.8,277.4 167.6,278.1 168.5,278.7 169.3,278.9 170.1,278.8 171,278.5 171.8,278.1 172.6,277.7 173.5,277.5 174.3,277.6 175.1,277.9 176,278.5 176.8,279.2 177.7,279.8 178.5,280.1 179.3,280 180.2,279.5 181,278.6 181.8,277.4 182.7,276.2 183.5,275.2 184.3,274.4 185.2,274 186,273.8 186.8,274 187.7,274.4 188.5,274.9 189.3,275.3 190.2,275.7 191,275.9 191.8,276.1 192.7,276.2 193.5,276.4 194.4,276.6 195.2,276.9 196,277.1 196.9,277.3 197.7,277.4 198.5,277.4 199.4,277.3 200.2,277.1 201,276.9 201.9,276.6 202.7,276.3 203.5,276 204.4,275.7 205.2,275.4 206,275.1 206.9,274.8 207.7,274.4 208.6,274.1 209.4,273.9 210.2,273.7 211.1,273.7 211.9,273.6 212.7,273.7 213.6,273.7 214.4,273.7" stroke="#ffe600" stroke-width="0.7" fill="none" stroke-linejoin="round"/>
<path d="M48.2,275.7 49,273.7 49.9,272.1 50.7,270.8 51.5,269.6 52.4,268.2 53.2,266.7 54,265.4 54.9,264.5 55.7,263.7 56.5,263.1 57.4,263.3 58.2,264.7 59.1,266.6 59.9,268.5 60.7,270.7 61.6,272.6 62.4,273.2 63.2,272.3 64.1,270.8 64.9,269.7 65.7,269.1 66.6,268.5 67.4,268 68.2,267.6 69.1,267.4 69.9,267 70.7,266.5 71.6,266.1 72.4,266 73.3,266.5 74.1,267.8 74.9,268.9 75.8,268.9 76.6,267.8 77.4,266.1 78.3,264.4 79.1,263.3 79.9,263.2 80.8,264.4 81.6,266.4 82.4,268.6 83.3,270.5 84.1,271.7 84.9,272.7 85.8,273.4 86.6,273.7 87.5,273.6 88.3,273.3 89.1,272.8 90,272.4 90.8,272.2 91.6,272.3 92.5,272.5 93.3,272.9 94.1,273.3 95,273.5 95.8,273.5 96.6,273.1 97.5,272.2 98.3,271.1 99.1,269.9 100,268.6 100.8,266.9 101.6,265.3 102.5,263.9 103.3,263 104.2,262.8 105,263.6 105.8,265.5 106.7,267.8 107.5,270.2 108.3,272.1 109.2,273.8 110,275.4 110.8,276.8 111.7,277.7 112.5,277.8 113.3,277.3 114.2,276.6 115,275.8 115.8,275 116.7,274.4 117.5,274 118.4,273.8 119.2,273.8 120,273.8 120.9,273.7 121.7,273.5 122.5,273.2 123.4,272.8 124.2,272.4 125,272.1 125.9,271.9 126.7,271.9 127.5,272.1 128.4,272.4 129.2,272.9 130,273.4 130.9,273.9 131.7,274.3 132.6,274.4 133.4,274.3 134.2,274 135.1,273.7 135.9,273.3 136.7,273.1 137.6,273 138.4,273.1 139.2,273.4 140.1,273.8 140.9,274.3 141.7,274.7 142.6,275.2 143.4,275.6 144.2,275.9 145.1,276 145.9,276 146.7,276.1 147.6,276.5 148.4,277 149.3,277.7 150.1,278.5 150.9,279.1 151.8,279.5 152.6,279.6 153.4,279.4 154.3,278.9 155.1,278.2 155.9,277.6 156.8,277 157.6,276.7 158.4,276.8 159.3,277.2 160.1,277.8 160.9,278.4 161.8,278.8 162.6,279 163.5,279 164.3,278.9 165.1,278.7 166,278.5 166.8,278.1 167.6,277.8 168.5,277.5 169.3,277.3 170.1,277.2 171,277.3 171.8,277.5 172.6,277.8 173.5,278.3 174.3,278.8 175.1,279.3 176,279.8 176.8,280.1 177.7,280.3 178.5,280.3 179.3,280 180.2,279.5 181,278.6 181.8,277.7 182.7,276.6 183.5,275.6 184.3,274.8 185.2,274.3 186,274.1 186.8,274.2 187.7,274.7 188.5,275.3 189.3,276 190.2,276.5 191,276.9 191.8,277 192.7,276.8 193.5,276.5 194.4,276.1 195.2,275.8 196,275.5 196.9,275.5 197.7,275.6 198.5,275.9 199.4,276.3 200.2,276.7 201,276.9 201.9,277 202.7,276.8 203.5,276.5 204.4,276 205.2,275.4 206,274.9 206.9,274.5 207.7,274.2 208.6,274 209.4,273.9 210.2,273.9 211.1,273.9 211.9,273.8 212.7,273.7 213.6,273.5 214.4,273.3" stroke="#fcd200" stroke-width="0.7" fill="none" stroke-linejoin="round"/>
<path d="M48.2,277.3 49,274.5 49.9,271.8 50.7,269.5 51.5,267.5 52.4,265.6 53.2,264.1 54,263.3 54.9,263 55.7,263 56.5,263.2 57.4,263.8 58.2,265.2 59.1,266.8 59.9,268.1 60.7,269.7 61.6,271 62.4,271.3 63.2,270.4 64.1,269.1 64.9,268.4 65.7,268.2 66.6,268.1 67.4,267.9 68.2,267.7 69.1,267.4 69.9,267 70.7,266.5 71.6,266.1 72.4,266.1 73.3,266.7 74.1,268.2 74.9,269.4 75.8,269.5 76.6,268.4 77.4,266.6 78.3,264.8 79.1,263.5 79.9,263.2 80.8,264.2 81.6,265.9 82.4,267.9 83.3,269.6 84.1,270.6 84.9,271.5 85.8,272.2 86.6,272.8 87.5,273.2 88.3,273.6 89.1,273.8 90,274.1 90.8,274.5 91.6,274.7 92.5,274.8 93.3,274.6 94.1,274.1 95,273.5 95.8,272.8 96.6,272.1 97.5,271.6 98.3,271.3 99.1,271.2 100,270.9 100.8,270.2 101.6,269 102.5,267.5 103.3,265.9 104.2,264.6 105,264.1 105.8,264.8 106.7,266.3 107.5,268.4 108.3,270.6 109.2,272.9 110,275.4 110.8,277.5 111.7,278.9 112.5,279.4 113.3,279 114.2,278.2 115,277.4 115.8,276.7 116.7,276.3 117.5,276.2 118.4,276.3 119.2,276.4 120,276.4 120.9,276 121.7,275.4 122.5,274.6 123.4,273.7 124.2,273 125,272.5 125.9,272.4 126.7,272.6 127.5,273 128.4,273.4 129.2,273.7 130,273.9 130.9,274 131.7,274 132.6,274.1 133.4,274.3 134.2,274.7 135.1,275.3 135.9,275.8 136.7,276.3 137.6,276.4 138.4,276.1 139.2,275.6 140.1,274.8 140.9,274.1 141.7,273.6 142.6,273.8 143.4,274.5 144.2,275.7 145.1,277 145.9,278.3 146.7,279.4 147.6,280.3 148.4,280.7 149.3,280.7 150.1,280.4 150.9,279.9 151.8,279.4 152.6,278.9 153.4,278.7 154.3,278.5 155.1,278.3 155.9,278.2 156.8,278 157.6,277.9 158.4,278 159.3,278.3 160.1,278.9 160.9,279.7 161.8,280.5 162.6,281.2 163.5,281.8 164.3,282.1 165.1,281.9 166,281.4 166.8,280.4 167.6,279.2 168.5,278 169.3,277.2 170.1,276.8 171,277 171.8,277.7 172.6,278.6 173.5,279.5 174.3,280.3 175.1,280.8 176,280.9 176.8,280.6 177.7,280.2 178.5,279.8 179.3,279.4 180.2,279 181,278.6 181.8,278.2 182.7,277.6 183.5,277 184.3,276.2 185.2,275.4 186,274.8 186.8,274.5 187.7,274.5 188.5,274.9 189.3,275.6 190.2,276.3 191,276.9 191.8,277.2 192.7,277.1 193.5,276.8 194.4,276.3 195.2,275.8 196,275.5 196.9,275.6 197.7,275.9 198.5,276.4 199.4,277 200.2,277.3 201,277.2 201.9,276.6 202.7,275.7 203.5,274.6 204.4,273.5 205.2,272.8 206,272.6 206.9,273 207.7,273.7 208.6,274.7 209.4,275.6 210.2,276.2 211.1,276.4 211.9,276.1 212.7,275.5 213.6,274.7 214.4,273.9" stroke="#f8c000" stroke-width="0.7" fill="none" stroke-linejoin="round"/>
<path d="M48.2,275.9 49,274.1 49.9,272.4 50.7,271.1 51.5,269.7 52.4,267.9 53.2,265.9 54,264 54.9,262.5 55.7,261.1 56.5,260.2 57.4,260.2 58.2,261.4 59.1,263.3 59.9,265.2 60.7,267.5 61.6,269.5 62.4,270.2 63.2,269.7 64.1,268.7 64.9,268.2 65.7,268.2 66.6,268.3 67.4,268.5 68.2,268.7 69.1,268.7 69.9,268.4 70.7,267.5 71.6,266.4 72.4,265.5 73.3,265.3 74.1,266.1 74.9,266.9 75.8,267 76.6,266.3 77.4,265.3 78.3,264.2 79.1,263.7 79.9,264 80.8,265.3 81.6,267.2 82.4,269.2 83.3,270.8 84.1,271.8 84.9,272.8 85.8,273.5 86.6,273.9 87.5,274.1 88.3,274 89.1,273.6 90,273.3 90.8,273.1 91.6,273.2 92.5,273.5 93.3,273.9 94.1,274.3 95,274.7 95.8,274.9 96.6,274.9 97.5,274.6 98.3,274 99.1,273.2 100,272.2 100.8,270.8 101.6,269.3 102.5,267.8 103.3,266.6 104.2,265.9 105,266.1 105.8,267.3 106.7,268.9 107.5,270.7 108.3,272.2 109.2,273.6 110,275.2 110.8,276.7 111.7,277.9 112.5,278.6 113.3,278.7 114.2,278.8 115,278.8 115.8,278.9 116.7,279 117.5,279.1 118.4,279.2 119.2,279.3 120,279 120.9,278.4 121.7,277.5 122.5,276.4 123.4,275.2 124.2,274.1 125,273.2 125.9,272.7 126.7,272.6 127.5,272.9 128.4,273.5 129.2,274.2 130,275 130.9,275.7 131.7,276.2 132.6,276.5 133.4,276.6 134.2,276.6 135.1,276.6 135.9,276.6 136.7,276.6 137.6,276.6 138.4,276.6 139.2,276.4 140.1,276.2 140.9,276 141.7,275.8 142.6,275.8 143.4,276.2 144.2,276.8 145.1,277.5 145.9,278.4 146.7,279.4 147.6,280.5 148.4,281.4 149.3,282 150.1,282.3 150.9,282.2 151.8,281.8 152.6,281.2 153.4,280.6 154.3,280.1 155.1,279.7 155.9,279.5 156.8,279.4 157.6,279.5 158.4,279.8 159.3,280.2 160.1,280.7 160.9,281 161.8,281.3 162.6,281.5 163.5,281.7 164.3,282 165.1,282.2 166,282.3 166.8,282.1 167.6,281.8 168.5,281.3 169.3,280.7 170.1,280.2 171,279.9 171.8,279.7 172.6,279.8 173.5,280.1 174.3,280.3 175.1,280.5 176,280.5 176.8,280.3 177.7,280 178.5,279.5 179.3,279 180.2,278.7 181,278.4 181.8,278.4 182.7,278.5 183.5,278.6 184.3,278.6 185.2,278.3 186,277.9 186.8,277.2 187.7,276.5 188.5,275.8 189.3,275.2 190.2,274.9 191,274.8 191.8,275 192.7,275.4 193.5,275.8 194.4,276.2 195.2,276.6 196,276.8 196.9,277 197.7,277.1 198.5,277.2 199.4,277.2 200.2,277.3 201,277.3 201.9,277.1 202.7,276.7 203.5,276.2 204.4,275.5 205.2,274.8 206,274.2 206.9,273.8 207.7,273.6 208.6,273.7 209.4,274.1 210.2,274.5 211.1,275 211.9,275.3 212.7,275.4 213.6,275.3 214.4,275" stroke="#f5b000" stroke-width="0.7" fill="none" stroke-linejoin="round"/>
<path d="M48.2,275.4 49,273.2 49.9,271.2 50.7,269.5 51.5,267.9 52.4,266.1 53.2,264.3 54,262.7 54.9,261.4 55.7,260.3 56.5,259.6 57.4,259.5 58.2,260.4 59.1,262 59.9,263.5 60.7,265.4 61.6,267.2 62.4,268 63.2,267.7 64.1,267 64.9,266.7 65.7,266.9 66.6,267.1 67.4,267.3 68.2,267.4 69.1,267.4 69.9,267.2 70.7,266.5 71.6,265.8 72.4,265.3 73.3,265.6 74.1,266.7 74.9,267.9 75.8,268.1 76.6,267.4 77.4,266.2 78.3,265 79.1,264.1 79.9,264 80.8,264.9 81.6,266.4 82.4,268.1 83.3,269.4 84.1,270.4 84.9,271.3 85.8,272.2 86.6,273.1 87.5,273.8 88.3,274.3 89.1,274.7 90,275 90.8,275.4 91.6,275.9 92.5,276.3 93.3,276.5 94.1,276.5 95,276.3 95.8,275.9 96.6,275.4 97.5,274.7 98.3,273.9 99.1,273.1 100,272.2 100.8,271.1 101.6,269.8 102.5,268.7 103.3,267.8 104.2,267.5 105,267.9 105.8,269.1 106.7,270.8 107.5,272.5 108.3,274 109.2,275.4 110,276.9 110.8,278.3 111.7,279.4 112.5,280.1 113.3,280.3 114.2,280.4 115,280.4 115.8,280.3 116.7,280.2 117.5,280 118.4,279.8 119.2,279.6 120,279.1 120.9,278.6 121.7,278 122.5,277.5 123.4,277 124.2,276.5 125,276.3 125.9,276.2 126.7,276.2 127.5,276.3 128.4,276.4 129.2,276.4 130,276.5 130.9,276.6 131.7,276.6 132.6,276.6 133.4,276.6 134.2,276.6 135.1,276.6 135.9,276.8 136.7,276.9 137.6,277.1 138.4,277.3 139.2,277.5 140.1,277.7 140.9,277.9 141.7,278.1 142.6,278.4 143.4,278.9 144.2,279.4 145.1,279.9 145.9,280.4 146.7,280.9 147.6,281.5 148.4,282.1 149.3,282.6 150.1,282.9 150.9,283.1 151.8,282.9 152.6,282.5 153.4,282.1 154.3,281.6 155.1,281.1 155.9,280.8 156.8,280.7 157.6,280.9 158.4,281.5 159.3,282.2 160.1,283 160.9,283.6 161.8,284 162.6,284.1 163.5,284 164.3,283.8 165.1,283.5 166,283.2 166.8,282.9 167.6,282.5 168.5,282.2 169.3,281.9 170.1,281.7 171,281.6 171.8,281.5 172.6,281.4 173.5,281.4 174.3,281.3 175.1,281.3 176,281.3 176.8,281.3 177.7,281.2 178.5,281.1 179.3,280.9 180.2,280.6 181,280.2 181.8,279.7 182.7,279.2 183.5,278.7 184.3,278.2 185.2,277.8 186,277.4 186.8,277.1 187.7,276.9 188.5,276.9 189.3,276.9 190.2,277 191,277.2 191.8,277.3 192.7,277.5 193.5,277.7 194.4,277.8 195.2,277.9 196,278 196.9,278 197.7,277.9 198.5,277.8 199.4,277.6 200.2,277.5 201,277.3 201.9,277.1 202.7,276.9 203.5,276.8 204.4,276.7 205.2,276.6 206,276.5 206.9,276.5 207.7,276.5 208.6,276.4 209.4,276.4 210.2,276.3 211.1,276.3 211.9,276.3 212.7,276.2 213.6,276.2 214.4,276.2" stroke="#f0a000" stroke-width="1.6" fill="none" stroke-linejoin="round"/>
<path d="M48.2,276.9 49,274.3 49.9,271.6 50.7,268.9 51.5,266.3 52.4,263.8 53.2,261.5 54,259.8 54.9,258.7 55.7,258 56.5,257.6 57.4,257.7 58.2,258.5 59.1,259.5 59.9,260.5 60.7,261.9 61.6,263.3 62.4,264.2 63.2,264.4 64.1,264.4 64.9,265 65.7,265.8 66.6,266.6 67.4,267.1 68.2,267.4 69.1,267.4 69.9,267.2 70.7,266.5 71.6,265.9 72.4,265.6 73.3,266 74.1,267.2 74.9,268.1 75.8,267.9 76.6,266.5 77.4,264.6 78.3,262.9 79.1,261.9 79.9,262.2 80.8,263.8 81.6,266.2 82.4,268.8 83.3,270.9 84.1,272.3 84.9,273.1 85.8,273.6 86.6,273.7 87.5,273.7 88.3,273.7 89.1,274 90,274.5 90.8,275.4 91.6,276.5 92.5,277.5 93.3,278.1 94.1,278.1 95,277.7 95.8,277 96.6,276.2 97.5,275.5 98.3,274.9 99.1,274.5 100,274.1 100.8,273.3 101.6,272.4 102.5,271.2 103.3,270 104.2,269.2 105,269 105.8,269.7 106.7,271.1 107.5,272.8 108.3,274.5 109.2,276.2 110,277.9 110.8,279.5 111.7,280.6 112.5,281.1 113.3,281.2 114.2,281.2 115,281.5 115.8,281.9 116.7,282.4 117.5,282.9 118.4,283.2 119.2,283.1 120,282.4 120.9,281.2 121.7,279.8 122.5,278.3 123.4,277.2 124.2,276.4 125,276.3 125.9,276.8 126.7,277.6 127.5,278.4 128.4,278.9 129.2,279.2 130,279 130.9,278.5 131.7,277.9 132.6,277.3 133.4,277 134.2,277 135.1,277.3 135.9,277.9 136.7,278.5 137.6,279 138.4,279.3 139.2,279.4 140.1,279.4 140.9,279.3 141.7,279.3 142.6,279.7 143.4,280.3 144.2,281 145.1,281.6 145.9,282.1 146.7,282.4 147.6,282.6 148.4,282.8 149.3,282.9 150.1,283.2 150.9,283.6 151.8,284 152.6,284.5 153.4,284.9 154.3,285 155.1,284.8 155.9,284.3 156.8,283.6 157.6,282.9 158.4,282.6 159.3,282.6 160.1,283 160.9,283.8 161.8,284.7 162.6,285.4 163.5,286 164.3,286.2 165.1,286.1 166,285.6 166.8,284.9 167.6,284.2 168.5,283.6 169.3,283.3 170.1,283.3 171,283.4 171.8,283.6 172.6,283.7 173.5,283.6 174.3,283.2 175.1,282.7 176,282.1 176.8,281.6 177.7,281.3 178.5,281.2 179.3,281.4 180.2,281.7 181,281.8 181.8,281.8 182.7,281.5 183.5,280.9 184.3,280.2 185.2,279.5 186,279 186.8,278.8 187.7,278.9 188.5,279.2 189.3,279.5 190.2,279.6 191,279.5 191.8,279.1 192.7,278.6 193.5,278.1 194.4,277.8 195.2,277.9 196,278.4 196.9,279.2 197.7,280.2 198.5,281.1 199.4,281.8 200.2,282 201,281.7 201.9,281.1 202.7,280.2 203.5,279.3 204.4,278.6 205.2,278.2 206,278.2 206.9,278.4 207.7,278.8 208.6,279.1 209.4,279.2 210.2,279.1 211.1,278.8 211.9,278.5 212.7,278.2 213.6,278.2 214.4,278.3" stroke="#ec9410" stroke-width="0.7" fill="none" stroke-linejoin="round"/>
<path d="M48.2,273.9 49,271.9 49.9,270 50.7,268.3 51.5,266.5 52.4,264.4 53.2,261.9 54,259.4 54.9,257.1 55.7,255 56.5,253.3 57.4,252.4 58.2,252.9 59.1,254.2 59.9,256 60.7,258.4 61.6,260.8 62.4,262.5 63.2,263.2 64.1,263.4 64.9,263.6 65.7,264 66.6,264.2 67.4,264.3 68.2,264.4 69.1,264.4 69.9,264.2 70.7,263.7 71.6,263.3 72.4,263.1 73.3,263.8 74.1,265.4 74.9,267 75.8,267.7 76.6,267.4 77.4,266.6 78.3,265.8 79.1,265.2 79.9,265.4 80.8,266.4 81.6,267.8 82.4,269.2 83.3,270 84.1,270.4 84.9,270.8 85.8,271.2 86.6,271.7 87.5,272.3 88.3,273.2 89.1,274.2 90,275.4 90.8,276.9 91.6,278.4 92.5,279.6 93.3,280.3 94.1,280.1 95,279.4 95.8,278.3 96.6,276.9 97.5,275.6 98.3,274.6 99.1,273.8 100,273.4 100.8,273.2 101.6,273 102.5,273 103.3,273 104.2,273.1 105,273.5 105.8,274.2 106.7,275 107.5,275.7 108.3,276.1 109.2,276.7 110,277.7 110.8,279 111.7,280.4 112.5,281.6 113.3,282.5 114.2,283.3 115,283.7 115.8,283.9 116.7,283.8 117.5,283.4 118.4,282.8 119.2,282.2 120,281.6 120.9,281.2 121.7,280.9 122.5,280.9 123.4,280.9 124.2,281.1 125,281.2 125.9,281.3 126.7,281.2 127.5,281 128.4,280.5 129.2,280.1 130,279.6 130.9,279.3 131.7,279 132.6,278.8 133.4,278.7 134.2,278.8 135.1,278.8 135.9,278.9 136.7,278.9 137.6,279 138.4,279.1 139.2,279.4 140.1,279.7 140.9,280.2 141.7,280.7 142.6,281.5 143.4,282.4 144.2,283.1 145.1,283.7 145.9,284 146.7,284.3 147.6,284.5 148.4,284.8 149.3,285.1 150.1,285.4 150.9,285.8 151.8,286.1 152.6,286.4 153.4,286.5 154.3,286.4 155.1,286.2 155.9,285.7 156.8,285.3 157.6,284.9 158.4,284.8 159.3,284.9 160.1,285.3 160.9,285.8 161.8,286.4 162.6,286.9 163.5,287.3 164.3,287.6 165.1,287.6 166,287.4 166.8,286.9 167.6,286.2 168.5,285.5 169.3,284.8 170.1,284.2 171,283.9 171.8,283.9 172.6,284.2 173.5,284.6 174.3,285.1 175.1,285.6 176,285.8 176.8,285.8 177.7,285.4 178.5,284.8 179.3,284 180.2,283.2 181,282.4 181.8,281.7 182.7,281.3 183.5,281 184.3,280.9 185.2,280.8 186,280.9 186.8,280.9 187.7,280.9 188.5,280.9 189.3,280.9 190.2,280.9 191,281.1 191.8,281.3 192.7,281.8 193.5,282.3 194.4,282.9 195.2,283.5 196,283.9 196.9,284.1 197.7,284 198.5,283.7 199.4,283.3 200.2,282.9 201,282.5 201.9,282.2 202.7,282.1 203.5,282.2 204.4,282.5 205.2,282.9 206,283.3 206.9,283.6 207.7,283.6 208.6,283.4 209.4,283 210.2,282.5 211.1,281.8 211.9,281.2 212.7,280.7 213.6,280.5 214.4,280.4" stroke="#e68610" stroke-width="0.7" fill="none" stroke-linejoin="round"/>
<path d="M48.2,273 49,270.6 49.9,268.3 50.7,266.2 51.5,264 52.4,261.3 53.2,258.2 54,255.2 54.9,252.5 55.7,250.1 56.5,248.3 57.4,247.6 58.2,248.2 59.1,249.7 59.9,251.6 60.7,254.1 61.6,256.4 62.4,257.9 63.2,258.5 64.1,258.7 64.9,259.2 65.7,260.2 66.6,261.3 67.4,262.5 68.2,263.8 69.1,265.1 69.9,265.9 70.7,266 71.6,265.6 72.4,265.2 73.3,265.2 74.1,265.9 74.9,266.6 75.8,266.5 76.6,265.5 77.4,264.2 78.3,263 79.1,262.3 79.9,262.4 80.8,263.5 81.6,265 82.4,266.8 83.3,268.3 84.1,269.6 84.9,271.1 85.8,272.6 86.6,274.1 87.5,275.5 88.3,276.6 89.1,277.5 90,278.1 90.8,278.7 91.6,279.4 92.5,280 93.3,280.3 94.1,280.3 95,280.1 95.8,279.8 96.6,279.4 97.5,278.8 98.3,278 99.1,276.9 100,275.5 100.8,273.9 101.6,272.4 102.5,271.1 103.3,270.4 104.2,270.5 105,271.6 105.8,273.4 106.7,275.7 107.5,277.8 108.3,279.5 109.2,280.9 110,282.1 110.8,283 111.7,283.7 112.5,284.2 113.3,284.5 114.2,284.9 115,285.4 115.8,285.8 116.7,286.1 117.5,286.1 118.4,285.7 119.2,285 120,284 120.9,282.9 121.7,281.9 122.5,281.1 123.4,280.7 124.2,280.6 125,280.8 125.9,281.2 126.7,281.7 127.5,282.1 128.4,282.2 129.2,282.2 130,282.1 130.9,281.8 131.7,281.6 132.6,281.4 133.4,281.3 134.2,281.2 135.1,281.1 135.9,281.1 136.7,281 137.6,280.9 138.4,280.8 139.2,280.8 140.1,281 140.9,281.4 141.7,281.9 142.6,282.7 143.4,283.7 144.2,284.5 145.1,285 145.9,285.3 146.7,285.4 147.6,285.5 148.4,285.6 149.3,285.9 150.1,286.3 150.9,286.9 151.8,287.4 152.6,288 153.4,288.3 154.3,288.5 155.1,288.5 155.9,288.2 156.8,287.8 157.6,287.6 158.4,287.6 159.3,287.9 160.1,288.4 160.9,289 161.8,289.5 162.6,289.7 163.5,289.7 164.3,289.4 165.1,288.7 166,287.9 166.8,287 167.6,286.2 168.5,285.7 169.3,285.4 170.1,285.4 171,285.7 171.8,286.2 172.6,286.7 173.5,287.1 174.3,287.4 175.1,287.4 176,287.3 176.8,287 177.7,286.7 178.5,286.3 179.3,286 180.2,285.6 181,285.1 181.8,284.6 182.7,284 183.5,283.3 184.3,282.6 185.2,282 186,281.6 186.8,281.5 187.7,281.6 188.5,282.1 189.3,282.8 190.2,283.4 191,284.1 191.8,284.6 192.7,284.9 193.5,285.1 194.4,285.3 195.2,285.5 196,285.9 196.9,286.3 197.7,286.9 198.5,287.5 199.4,288 200.2,288.3 201,288.3 201.9,287.9 202.7,287.2 203.5,286.3 204.4,285.3 205.2,284.5 206,283.9 206.9,283.7 207.7,283.7 208.6,284.1 209.4,284.5 210.2,285 211.1,285.4 211.9,285.6 212.7,285.7 213.6,285.8 214.4,285.8" stroke="#e07a10" stroke-width="0.7" fill="none" stroke-linejoin="round"/>
<path d="M48.2,274 49,271.2 49.9,268 50.7,264.7 51.5,261.2 52.4,257.2 53.2,253.2 54,249.5 54.9,246.4 55.7,243.9 56.5,242.2 57.4,241.5 58.2,242.1 59.1,243.4 59.9,245.2 60.7,247.5 61.6,249.8 62.4,251.8 63.2,253.1 64.1,254.2 64.9,255.6 65.7,257.2 66.6,258.9 67.4,260.5 68.2,261.8 69.1,262.8 69.9,263.4 70.7,263.3 71.6,262.9 72.4,262.7 73.3,263.2 74.1,264.5 74.9,265.9 75.8,266.4 76.6,265.8 77.4,264.7 78.3,263.5 79.1,262.6 79.9,262.6 80.8,263.5 81.6,265.1 82.4,267 83.3,268.7 84.1,270.3 84.9,271.8 85.8,273.3 86.6,274.5 87.5,275.5 88.3,276.2 89.1,276.7 90,277.2 90.8,277.9 91.6,278.9 92.5,279.9 93.3,280.7 94.1,281 95,281.1 95.8,280.9 96.6,280.6 97.5,280.1 98.3,279.5 99.1,278.8 100,278 100.8,277 101.6,276 102.5,275.2 103.3,274.5 104.2,274.2 105,274.5 105.8,275.2 106.7,276.3 107.5,277.4 108.3,278.5 109.2,279.7 110,281.1 110.8,282.7 111.7,284.2 112.5,285.5 113.3,286.4 114.2,287.1 115,287.6 115.8,287.8 116.7,287.7 117.5,287.4 118.4,287 119.2,286.5 120,286 120.9,285.5 121.7,285.2 122.5,284.9 123.4,284.6 124.2,284.4 125,284.1 125.9,283.8 126.7,283.6 127.5,283.3 128.4,283.1 129.2,282.9 130,282.9 130.9,282.9 131.7,282.9 132.6,282.9 133.4,282.6 134.2,282.3 135.1,281.8 135.9,281.4 136.7,281 137.6,280.8 138.4,281 139.2,281.5 140.1,282.4 140.9,283.4 141.7,284.6 142.6,285.8 143.4,286.9 144.2,287.6 145.1,287.9 145.9,287.8 146.7,287.6 147.6,287.4 148.4,287.5 149.3,287.8 150.1,288.3 150.9,289 151.8,289.6 152.6,290.1 153.4,290.3 154.3,290.2 155.1,289.8 155.9,289.2 156.8,288.5 157.6,288.1 158.4,288 159.3,288.3 160.1,288.9 160.9,289.7 161.8,290.6 162.6,291.2 163.5,291.7 164.3,292 165.1,292 166,291.8 166.8,291.4 167.6,290.8 168.5,290.3 169.3,289.7 170.1,289.2 171,288.7 171.8,288.2 172.6,287.7 173.5,287.3 174.3,287 175.1,286.7 176,286.5 176.8,286.3 177.7,286.1 178.5,286 179.3,285.9 180.2,285.7 181,285.6 181.8,285.4 182.7,285.2 183.5,285 184.3,284.8 185.2,284.8 186,284.8 186.8,284.9 187.7,285 188.5,285.2 189.3,285.3 190.2,285.4 191,285.4 191.8,285.4 192.7,285.5 193.5,285.9 194.4,286.4 195.2,287.1 196,287.9 196.9,288.6 197.7,289.2 198.5,289.5 199.4,289.3 200.2,288.8 201,288 201.9,287 202.7,286.1 203.5,285.4 204.4,285.1 205.2,285.2 206,285.8 206.9,286.7 207.7,287.7 208.6,288.7 209.4,289.4 210.2,289.8 211.1,289.8 211.9,289.5 212.7,289 213.6,288.5 214.4,288" stroke="#dc6e10" stroke-width="0.7" fill="none" stroke-linejoin="round"/>
<path d="M48.2,270.7 49,267.2 49.9,263.7 50.7,260.2 51.5,256.6 52.4,252.6 53.2,248.4 54,244.3 54.9,240.6 55.7,237.2 56.5,234.5 57.4,232.8 58.2,232.5 59.1,233.3 59.9,235 60.7,237.5 61.6,240.6 62.4,243.5 63.2,245.9 64.1,248.1 64.9,250.3 65.7,252.6 66.6,254.8 67.4,256.6 68.2,258.2 69.1,259.6 69.9,260.5 70.7,260.7 71.6,260.7 72.4,260.9 73.3,261.7 74.1,263.3 74.9,265 75.8,265.6 76.6,265.3 77.4,264.4 78.3,263.4 79.1,262.7 79.9,262.8 80.8,263.8 81.6,265.3 82.4,267 83.3,268.5 84.1,269.7 84.9,271 85.8,272.3 86.6,273.5 87.5,274.7 88.3,275.8 89.1,276.8 90,277.8 90.8,279 91.6,280.4 92.5,281.7 93.3,282.6 94.1,282.8 95,282.6 95.8,282.3 96.6,281.7 97.5,281.2 98.3,280.5 99.1,279.9 100,279.1 100.8,278.2 101.6,277.3 102.5,276.6 103.3,276.1 104.2,276 105,276.4 105.8,277.4 106.7,278.6 107.5,279.9 108.3,281 109.2,282 110,283.1 110.8,284.1 111.7,285.1 112.5,285.8 113.3,286.3 114.2,286.9 115,287.5 115.8,288.2 116.7,288.7 117.5,289.2 118.4,289.5 119.2,289.6 120,289.4 120.9,289 121.7,288.6 122.5,288 123.4,287.5 124.2,287 125,286.5 125.9,286.1 126.7,285.8 127.5,285.4 128.4,284.9 129.2,284.4 130,283.8 130.9,283.3 131.7,282.9 132.6,282.5 133.4,282.3 134.2,282.3 135.1,282.5 135.9,282.9 136.7,283.3 137.6,283.8 138.4,284.4 139.2,285 140.1,285.5 140.9,286 141.7,286.4 142.6,287 143.4,287.6 144.2,288.2 145.1,288.7 145.9,289 146.7,289.4 147.6,289.8 148.4,290.1 149.3,290.4 150.1,290.7 150.9,290.8 151.8,290.8 152.6,290.7 153.4,290.6 154.3,290.5 155.1,290.4 155.9,290.4 156.8,290.5 157.6,290.8 158.4,291.4 159.3,292 160.1,292.7 160.9,293.3 161.8,293.7 162.6,293.8 163.5,293.8 164.3,293.6 165.1,293.3 166,292.8 166.8,292.4 167.6,291.9 168.5,291.5 169.3,291.1 170.1,290.6 171,290.2 171.8,289.8 172.6,289.3 173.5,288.9 174.3,288.6 175.1,288.2 176,287.9 176.8,287.6 177.7,287.3 178.5,286.9 179.3,286.6 180.2,286.3 181,285.9 181.8,285.6 182.7,285.3 183.5,285 184.3,284.8 185.2,284.6 186,284.5 186.8,284.5 187.7,284.6 188.5,284.8 189.3,285 190.2,285.3 191,285.5 191.8,285.8 192.7,286 193.5,286.2 194.4,286.4 195.2,286.6 196,286.8 196.9,286.8 197.7,286.8 198.5,286.8 199.4,286.7 200.2,286.7 201,286.6 201.9,286.6 202.7,286.6 203.5,286.6 204.4,286.7 205.2,286.8 206,286.9 206.9,287 207.7,287.1 208.6,287.2 209.4,287.3 210.2,287.4 211.1,287.5 211.9,287.6 212.7,287.6 213.6,287.7 214.4,287.7" stroke="#d86410" stroke-width="1.6" fill="none" stroke-linejoin="round"/>
<path d="M48.2,269 49,265 49.9,260.7 50.7,256.7 51.5,252.6 52.4,248.3 53.2,243.8 54,239.4 54.9,235.2 55.7,231.4 56.5,228.1 57.4,225.9 58.2,225 59.1,225.3 59.9,226.7 60.7,229.2 61.6,232.5 62.4,235.9 63.2,239.1 64.1,242.1 64.9,245.1 65.7,248.1 66.6,250.7 67.4,253 68.2,254.9 69.1,256.7 69.9,257.9 70.7,258.6 71.6,259.1 72.4,259.8 73.3,261.1 74.1,263.3 74.9,265.3 75.8,266.1 76.6,265.8 77.4,264.8 78.3,263.6 79.1,262.6 79.9,262.4 80.8,263 81.6,264.3 82.4,265.8 83.3,267.2 84.1,268.5 84.9,269.9 85.8,271.3 86.6,272.8 87.5,274.3 88.3,275.7 89.1,277.2 90,278.7 90.8,280.4 91.6,282.4 92.5,284.1 93.3,285.2 94.1,285.3 95,284.9 95.8,284 96.6,283 97.5,282 98.3,281.1 99.1,280.2 100,279.6 100.8,279 101.6,278.6 102.5,278.4 103.3,278.4 104.2,278.6 105,279 105.8,279.8 106.7,280.6 107.5,281.3 108.3,281.9 109.2,282.5 110,283.5 110.8,284.6 111.7,285.9 112.5,287.1 113.3,288.3 114.2,289.4 115,290.4 115.8,291.1 116.7,291.6 117.5,291.6 118.4,291.5 119.2,291.1 120,290.5 120.9,290 121.7,289.7 122.5,289.6 123.4,289.7 124.2,289.8 125,289.8 125.9,289.6 126.7,289.2 127.5,288.4 128.4,287.3 129.2,286 130,284.7 130.9,283.6 131.7,282.9 132.6,282.5 133.4,282.6 134.2,283.1 135.1,283.8 135.9,284.6 136.7,285.5 137.6,286.2 138.4,286.8 139.2,287.3 140.1,287.7 140.9,288 141.7,288.4 142.6,288.9 143.4,289.6 144.2,290.4 145.1,290.9 145.9,291.3 146.7,291.5 147.6,291.6 148.4,291.5 149.3,291.4 150.1,291.3 150.9,291.3 151.8,291.3 152.6,291.5 153.4,291.9 154.3,292.4 155.1,292.9 155.9,293.4 156.8,293.9 157.6,294.4 158.4,294.8 159.3,295.2 160.1,295.4 160.9,295.6 161.8,295.6 162.6,295.5 163.5,295.3 164.3,295 165.1,294.7 166,294.4 166.8,294.1 167.6,293.6 168.5,293.2 169.3,292.7 170.1,292.2 171,291.6 171.8,291 172.6,290.5 173.5,290.1 174.3,289.7 175.1,289.4 176,289 176.8,288.6 177.7,288.1 178.5,287.6 179.3,287 180.2,286.4 181,285.7 181.8,285.2 182.7,284.6 183.5,284.1 184.3,283.6 185.2,283.2 186,282.8 186.8,282.5 187.7,282.4 188.5,282.5 189.3,282.6 190.2,282.9 191,283.3 191.8,283.8 192.7,284.3 193.5,284.7 194.4,285 195.2,285 196,284.7 196.9,284.2 197.7,283.5 198.5,282.8 199.4,282.1 200.2,281.6 201,281.5 201.9,281.6 202.7,282.2 203.5,282.9 204.4,283.8 205.2,284.6 206,285.2 206.9,285.5 207.7,285.5 208.6,285.3 209.4,284.9 210.2,284.4 211.1,283.9 211.9,283.7 212.7,283.7 213.6,283.8 214.4,284.2" stroke="#d25814" stroke-width="0.7" fill="none" stroke-linejoin="round"/>
<path d="M48.2,269.2 49,265.2 49.9,260.9 50.7,256.5 51.5,251.6 52.4,246.1 53.2,240.1 54,234.1 54.9,228.3 55.7,223.3 56.5,219.3 57.4,216.9 58.2,216.3 59.1,217.4 59.9,219.9 60.7,223.5 61.6,227.7 62.4,231.8 63.2,235.5 64.1,238.8 64.9,242 65.7,245.1 66.6,248 67.4,250.7 68.2,253.2 69.1,255.5 69.9,257.3 70.7,258.3 71.6,258.8 72.4,259.2 73.3,260.1 74.1,261.8 74.9,263.5 75.8,264.1 76.6,263.8 77.4,263 78.3,262.1 79.1,261.5 79.9,261.7 80.8,262.7 81.6,264.1 82.4,265.8 83.3,267.5 84.1,269 84.9,270.7 85.8,272.4 86.6,274.1 87.5,275.7 88.3,277.1 89.1,278.3 90,279.4 90.8,280.7 91.6,282.4 92.5,284 93.3,285.1 94.1,285.4 95,285.4 95.8,285.1 96.6,284.7 97.5,284.2 98.3,283.6 99.1,282.9 100,282.1 100.8,281.3 101.6,280.6 102.5,280.1 103.3,279.9 104.2,280.1 105,280.6 105.8,281.3 106.7,282 107.5,282.7 108.3,283.2 109.2,283.7 110,284.6 110.8,285.7 111.7,287 112.5,288.4 113.3,289.8 114.2,291.2 115,292.5 115.8,293.4 116.7,293.9 117.5,294 118.4,293.8 119.2,293.4 120,292.8 120.9,292.4 121.7,292.3 122.5,292.3 123.4,292.4 124.2,292.4 125,292.2 125.9,291.7 126.7,290.9 127.5,289.8 128.4,288.4 129.2,286.9 130,285.6 130.9,284.7 131.7,284.1 132.6,283.9 133.4,284.1 134.2,284.7 135.1,285.5 135.9,286.4 136.7,287.3 137.6,288.3 138.4,289.1 139.2,289.8 140.1,290.3 140.9,290.6 141.7,290.7 142.6,290.9 143.4,291.2 144.2,291.4 145.1,291.7 145.9,291.9 146.7,292.3 147.6,292.8 148.4,293.3 149.3,293.9 150.1,294.2 150.9,294.3 151.8,294.2 152.6,294 153.4,293.7 154.3,293.5 155.1,293.6 155.9,293.9 156.8,294.6 157.6,295.5 158.4,296.7 159.3,297.8 160.1,298.7 160.9,299.3 161.8,299.4 162.6,299.1 163.5,298.5 164.3,297.7 165.1,297 166,296.3 166.8,295.8 167.6,295.3 168.5,294.8 169.3,294.2 170.1,293.5 171,292.5 171.8,291.6 172.6,290.6 173.5,289.8 174.3,289.3 175.1,289 176,289 176.8,288.9 177.7,288.7 178.5,288.4 179.3,287.8 180.2,287 181,286.1 181.8,285 182.7,284 183.5,283.1 184.3,282.4 185.2,281.8 186,281.4 186.8,281 187.7,280.6 188.5,280.3 189.3,279.9 190.2,279.5 191,279.1 191.8,278.9 192.7,278.8 193.5,278.8 194.4,278.9 195.2,279.1 196,279.2 196.9,279.2 197.7,279.1 198.5,279 199.4,278.9 200.2,278.9 201,279 201.9,279.2 202.7,279.5 203.5,279.9 204.4,280.1 205.2,280.2 206,280 206.9,279.7 207.7,279.2 208.6,278.7 209.4,278.3 210.2,278 211.1,278.1 211.9,278.3 212.7,278.8 213.6,279.3 214.4,279.8" stroke="#cc5014" stroke-width="0.7" fill="none" stroke-linejoin="round"/>
<path d="M48.2,267.2 49,263 49.9,258.4 50.7,253.6 51.5,248.4 52.4,242.5 53.2,236.2 54,229.8 54.9,223.8 55.7,218.7 56.5,214.7 57.4,212.3 58.2,211.7 59.1,212.7 59.9,215.1 60.7,218.6 61.6,222.8 62.4,226.9 63.2,230.7 64.1,234.2 64.9,237.5 65.7,240.8 66.6,244.1 67.4,247.3 68.2,250.6 69.1,253.8 69.9,256.6 70.7,258.4 71.6,259.6 72.4,260.4 73.3,261.3 74.1,262.6 74.9,263.4 75.8,263 76.6,261.8 77.4,260.3 78.3,259.2 79.1,258.9 79.9,259.8 80.8,261.8 81.6,264.5 82.4,267.1 83.3,269.4 84.1,271 84.9,272.4 85.8,273.3 86.6,274.1 87.5,274.9 88.3,275.8 89.1,277 90,278.5 90.8,280.7 91.6,283.3 92.5,285.9 93.3,287.7 94.1,288.3 95,288.1 95.8,287.4 96.6,286.6 97.5,285.7 98.3,284.8 99.1,284.1 100,283.6 100.8,283.1 101.6,282.7 102.5,282.4 103.3,282.2 104.2,282.1 105,282.1 105.8,282.2 106.7,282.5 107.5,282.9 108.3,283.5 109.2,284.4 110,285.8 110.8,287.5 111.7,289.3 112.5,291.1 113.3,292.6 114.2,293.9 115,294.9 115.8,295.5 116.7,295.6 117.5,295.4 118.4,295 119.2,294.6 120,294.3 120.9,294.2 121.7,294.5 122.5,295 123.4,295.5 124.2,295.8 125,295.7 125.9,295.2 126.7,294.2 127.5,292.6 128.4,290.7 129.2,288.6 130,286.8 130.9,285.4 131.7,284.6 132.6,284.4 133.4,284.8 134.2,285.8 135.1,286.9 135.9,288 136.7,288.9 137.6,289.7 138.4,290.2 139.2,290.5 140.1,290.9 140.9,291.2 141.7,291.8 142.6,292.6 143.4,293.6 144.2,294.7 145.1,295.6 145.9,296 146.7,296.3 147.6,296.2 148.4,295.9 149.3,295.5 150.1,295.2 150.9,295 151.8,295 152.6,295.2 153.4,295.7 154.3,296.4 155.1,297 155.9,297.5 156.8,297.9 157.6,298.1 158.4,298.2 159.3,298.2 160.1,298.2 160.9,298.3 161.8,298.5 162.6,298.9 163.5,299.3 164.3,299.7 165.1,300.1 166,300.3 166.8,300.1 167.6,299.6 168.5,298.8 169.3,297.7 170.1,296.3 171,294.8 171.8,293.4 172.6,292.3 173.5,291.4 174.3,290.7 175.1,290.3 176,289.9 176.8,289.4 177.7,288.7 178.5,287.7 179.3,286.4 180.2,285 181,283.5 181.8,282.1 182.7,280.9 183.5,280 184.3,279.4 185.2,279.1 186,279.1 186.8,279.1 187.7,279.1 188.5,278.9 189.3,278.6 190.2,278 191,277.3 191.8,276.6 192.7,275.9 193.5,275.3 194.4,275 195.2,275 196,275 196.9,275.2 197.7,275.2 198.5,275.2 199.4,275 200.2,274.7 201,274.2 201.9,273.7 202.7,273.3 203.5,273 204.4,272.9 205.2,273 206,273.2 206.9,273.5 207.7,273.8 208.6,274.1 209.4,274.4 210.2,274.5 211.1,274.6 211.9,274.7 212.7,274.9 213.6,275.1 214.4,275.4" stroke="#c84814" stroke-width="0.7" fill="none" stroke-linejoin="round"/>
<path d="M48.2,264.6 49,260.4 49.9,255.9 50.7,251.2 51.5,246.2 52.4,240.5 53.2,234.3 54,227.8 54.9,221.4 55.7,215.4 56.5,210.4 57.4,206.8 58.2,204.9 59.1,204.9 59.9,206.6 60.7,210 61.6,214.6 62.4,219.7 63.2,225 64.1,230.1 64.9,234.8 65.7,239 66.6,242.7 67.4,245.9 68.2,248.6 69.1,251 69.9,252.9 70.7,254.1 71.6,255 72.4,256 73.3,257.7 74.1,260.2 74.9,262.6 75.8,263.8 76.6,263.8 77.4,263.2 78.3,262.4 79.1,261.9 79.9,262.1 80.8,263.1 81.6,264.6 82.4,266.3 83.3,268 84.1,269.4 84.9,270.9 85.8,272.3 86.6,273.6 87.5,274.8 88.3,276 89.1,277.3 90,278.8 90.8,280.7 91.6,283.2 92.5,285.8 93.3,287.8 94.1,288.7 95,289 95.8,289.1 96.6,288.9 97.5,288.6 98.3,288.1 99.1,287.3 100,286.5 100.8,285.6 101.6,284.7 102.5,284.1 103.3,283.7 104.2,283.6 105,283.9 105.8,284.4 106.7,285 107.5,285.6 108.3,286 109.2,286.5 110,287 110.8,287.8 111.7,288.7 112.5,289.9 113.3,291.3 114.2,293.2 115,295.2 115.8,297.2 116.7,299 117.5,300.4 118.4,301.1 119.2,301.2 120,300.6 120.9,299.5 121.7,298.2 122.5,296.9 123.4,295.6 124.2,294.5 125,293.6 125.9,293.1 126.7,292.7 127.5,292.2 128.4,291.6 129.2,290.9 130,290.2 130.9,289.5 131.7,288.9 132.6,288.5 133.4,288.3 134.2,288.5 135.1,289.1 135.9,289.8 136.7,290.6 137.6,291.5 138.4,292.4 139.2,293.1 140.1,293.6 140.9,293.9 141.7,294 142.6,294.1 143.4,294.3 144.2,294.6 145.1,294.8 145.9,295 146.7,295.4 147.6,295.9 148.4,296.5 149.3,297.1 150.1,297.7 150.9,298.3 151.8,298.8 152.6,299.1 153.4,299.5 154.3,299.7 155.1,300 155.9,300.3 156.8,300.6 157.6,300.9 158.4,301.3 159.3,301.8 160.1,302.1 160.9,302.2 161.8,302.1 162.6,301.8 163.5,301.2 164.3,300.5 165.1,299.8 166,299.1 166.8,298.6 167.6,298.3 168.5,298.1 169.3,298 170.1,297.8 171,297.4 171.8,296.8 172.6,296 173.5,295 174.3,293.8 175.1,292.5 176,291.2 176.8,289.9 177.7,288.6 178.5,287.4 179.3,286.2 180.2,285.1 181,284 181.8,282.9 182.7,281.7 183.5,280.3 184.3,278.9 185.2,277.5 186,276.2 186.8,275.1 187.7,274.3 188.5,273.8 189.3,273.6 190.2,273.6 191,273.8 191.8,274.1 192.7,274.4 193.5,274.5 194.4,274.5 195.2,274.3 196,273.8 196.9,273.1 197.7,272.2 198.5,271.3 199.4,270.4 200.2,269.6 201,269 201.9,268.5 202.7,268.2 203.5,268.1 204.4,268.2 205.2,268.3 206,268.5 206.9,268.8 207.7,269.3 208.6,269.8 209.4,270.5 210.2,271.2 211.1,271.9 211.9,272.7 212.7,273.3 213.6,273.8 214.4,274.1" stroke="#c44214" stroke-width="0.7" fill="none" stroke-linejoin="round"/>
<path d="M48.2,263.6 49,258.2 49.9,252 50.7,245.5 51.5,238.6 52.4,231 53.2,222.9 54,214.7 54.9,206.8 55.7,199.8 56.5,194 57.4,189.9 58.2,187.7 59.1,187.7 59.9,189.8 60.7,193.7 61.6,199 62.4,205.2 63.2,211.8 64.1,218.3 64.9,224.5 65.7,230.2 66.6,235.3 67.4,239.8 68.2,243.7 69.1,247.1 69.9,249.7 70.7,251.4 71.6,252.5 72.4,253.7 73.3,255.4 74.1,257.9 74.9,260.2 75.8,261.5 76.6,261.6 77.4,261.2 78.3,260.6 79.1,260.3 79.9,260.7 80.8,261.8 81.6,263.4 82.4,265.2 83.3,266.9 84.1,268.5 84.9,270.3 85.8,272 86.6,273.7 87.5,275.4 88.3,277.1 89.1,278.9 90,280.7 90.8,282.8 91.6,285.4 92.5,287.8 93.3,289.5 94.1,289.9 95,289.8 95.8,289.4 96.6,288.9 97.5,288.5 98.3,288.1 99.1,287.5 100,287 100.8,286.4 101.6,285.9 102.5,285.6 103.3,285.5 104.2,285.7 105,286.2 105.8,286.8 106.7,287.6 107.5,288.3 108.3,289 109.2,289.6 110,290.2 110.8,290.9 111.7,291.6 112.5,292.3 113.3,293.2 114.2,294.4 115,295.8 115.8,297.2 116.7,298.6 117.5,299.8 118.4,300.7 119.2,301.2 120,301.3 120.9,301.1 121.7,300.7 122.5,300.2 123.4,299.6 124.2,299 125,298.3 125.9,297.6 126.7,296.9 127.5,296 128.4,294.8 129.2,293.5 130,292.2 130.9,291 131.7,290 132.6,289.3 133.4,288.9 134.2,288.9 135.1,289.3 135.9,289.9 136.7,290.7 137.6,291.6 138.4,292.6 139.2,293.6 140.1,294.5 140.9,295.4 141.7,296.1 142.6,296.9 143.4,297.7 144.2,298.4 145.1,298.9 145.9,299.1 146.7,299.2 147.6,299.3 148.4,299.4 149.3,299.5 150.1,299.6 150.9,299.7 151.8,299.9 152.6,300.2 153.4,300.4 154.3,300.8 155.1,301.1 155.9,301.4 156.8,301.8 157.6,302.2 158.4,302.7 159.3,303.2 160.1,303.7 160.9,304.2 161.8,304.6 162.6,304.7 163.5,304.6 164.3,304.4 165.1,303.9 166,303.3 166.8,302.6 167.6,301.8 168.5,301.1 169.3,300.3 170.1,299.4 171,298.4 171.8,297.3 172.6,296.1 173.5,295 174.3,293.8 175.1,292.6 176,291.4 176.8,290.1 177.7,288.8 178.5,287.5 179.3,286.2 180.2,284.9 181,283.6 181.8,282.4 182.7,281.3 183.5,280.1 184.3,279 185.2,277.9 186,276.9 186.8,275.9 187.7,275.1 188.5,274.3 189.3,273.5 190.2,272.8 191,272.1 191.8,271.5 192.7,270.9 193.5,270.3 194.4,269.9 195.2,269.5 196,269.1 196.9,268.7 197.7,268.3 198.5,267.9 199.4,267.6 200.2,267.3 201,267.1 201.9,267 202.7,266.9 203.5,267 204.4,267.1 205.2,267.2 206,267.4 206.9,267.6 207.7,267.9 208.6,268.1 209.4,268.3 210.2,268.4 211.1,268.6 211.9,268.7 212.7,268.9 213.6,269 214.4,269.1" stroke="#c83c0c" stroke-width="1.6" fill="none" stroke-linejoin="round"/>
<path d="M48.2,261.7 49,255.9 49.9,249.2 50.7,242.1 51.5,234.4 52.4,226 53.2,217 54,207.9 54.9,199.1 55.7,191.2 56.5,184.7 57.4,180 58.2,177.4 59.1,177.3 59.9,179.6 60.7,184.1 61.6,190.3 62.4,197.4 63.2,205 64.1,212.4 64.9,219.2 65.7,225.1 66.6,230.3 67.4,234.8 68.2,238.9 69.1,242.7 69.9,245.9 70.7,248.3 71.6,250.3 72.4,252.2 73.3,254.5 74.1,257.4 74.9,259.9 75.8,261.1 76.6,261 77.4,260.4 78.3,259.7 79.1,259.4 79.9,260 80.8,261.3 81.6,263 82.4,265 83.3,266.8 84.1,268.4 84.9,270.1 85.8,271.9 86.6,273.8 87.5,275.7 88.3,277.9 89.1,280.1 90,282.4 90.8,284.9 91.6,287.7 92.5,290 93.3,291.4 94.1,291.3 95,290.6 95.8,289.9 96.6,289.5 97.5,289.5 98.3,289.8 99.1,290 100,290.1 100.8,290 101.6,289.6 102.5,289 103.3,288.3 104.2,287.9 105,287.7 105.8,287.9 106.7,288.7 107.5,289.8 108.3,291.2 109.2,292.7 110,294 110.8,295.1 111.7,295.8 112.5,296.2 113.3,296.5 114.2,297 115,297.7 115.8,298.7 116.7,299.9 117.5,301.3 118.4,302.5 119.2,303.5 120,303.9 120.9,304 121.7,303.8 122.5,303.3 123.4,302.6 124.2,301.9 125,301.2 125.9,300.6 126.7,300.1 127.5,299.4 128.4,298.4 129.2,297.2 130,295.8 130.9,294.3 131.7,293 132.6,291.9 133.4,291.2 134.2,291.2 135.1,291.6 135.9,292.3 136.7,293.3 137.6,294.3 138.4,295.2 139.2,296 140.1,296.5 140.9,296.8 141.7,297.1 142.6,297.5 143.4,298.2 144.2,299.1 145.1,300.1 145.9,300.9 146.7,301.8 147.6,302.6 148.4,303.3 149.3,303.7 150.1,303.9 150.9,304 151.8,304.1 152.6,304.1 153.4,304.3 154.3,304.4 155.1,304.6 155.9,304.9 156.8,305.1 157.6,305.2 158.4,305.5 159.3,305.8 160.1,306.1 160.9,306.5 161.8,306.8 162.6,307.1 163.5,307.1 164.3,306.8 165.1,306.3 166,305.5 166.8,304.6 167.6,303.7 168.5,302.9 169.3,302.3 170.1,301.7 171,301.2 171.8,300.8 172.6,300.2 173.5,299.5 174.3,298.3 175.1,296.8 176,294.8 176.8,292.5 177.7,290 178.5,287.5 179.3,285.2 180.2,283.4 181,282.1 181.8,281.1 182.7,280.4 183.5,279.7 184.3,278.9 185.2,277.8 186,276.6 186.8,275.2 187.7,273.8 188.5,272.6 189.3,271.7 190.2,271 191,270.6 191.8,270.3 192.7,270.1 193.5,269.9 194.4,269.4 195.2,268.9 196,268.1 196.9,267.3 197.7,266.5 198.5,265.8 199.4,265.4 200.2,265.2 201,265.1 201.9,265.1 202.7,265 203.5,264.9 204.4,264.6 205.2,264.2 206,264 206.9,264 207.7,264.2 208.6,264.8 209.4,265.7 210.2,266.7 211.1,267.6 211.9,268.3 212.7,268.7 213.6,268.7 214.4,268.3" stroke="#c03a12" stroke-width="0.7" fill="none" stroke-linejoin="round"/>
</g>
<path d="M37.4,316.2v-3.5M37.4,162.3v3.5M81.65,316.2v-3.5M81.65,162.3v3.5M125.9,316.2v-3.5M125.9,162.3v3.5M170.15,316.2v-3.5M170.15,162.3v3.5M214.4,316.2v-3.5M214.4,162.3v3.5M59.52,316.2v-2M59.52,162.3v2M103.78,316.2v-2M103.78,162.3v2M148.03,316.2v-2M148.03,162.3v2M192.28,316.2v-2M192.28,162.3v2M37.4,305.47h3.5M214.4,305.47h-3.5M37.4,269.7h3.5M214.4,269.7h-3.5M37.4,233.93h3.5M214.4,233.93h-3.5M37.4,198.16h3.5M214.4,198.16h-3.5M37.4,162.39h3.5M214.4,162.39h-3.5" stroke="#cc1f7a" stroke-width="1" fill="none"/>
<rect x="37.4" y="162.3" width="177" height="153.9" fill="none" stroke="#cc1f7a" stroke-width="1.1"/>
<text x="33.7" y="309.87" font-size="11.77" text-anchor="end" fill="#000" textLength="16.36" lengthAdjust="spacingAndGlyphs">−1</text>
<text x="33.7" y="274.1" font-size="11.77" text-anchor="end" fill="#000" textLength="7.06" lengthAdjust="spacingAndGlyphs">0</text>
<text x="33.7" y="238.33" font-size="11.77" text-anchor="end" fill="#000" textLength="7.06" lengthAdjust="spacingAndGlyphs">1</text>
<text x="33.7" y="202.56" font-size="11.77" text-anchor="end" fill="#000" textLength="7.06" lengthAdjust="spacingAndGlyphs">2</text>
<text x="33.7" y="166.79" font-size="11.77" text-anchor="end" fill="#000" textLength="7.06" lengthAdjust="spacingAndGlyphs">3</text>
<text x="37.4" y="329.2" font-size="11.77" text-anchor="middle" fill="#000" textLength="7.06" lengthAdjust="spacingAndGlyphs">0</text>
<text x="81.65" y="329.2" font-size="11.77" text-anchor="middle" fill="#000" textLength="14.12" lengthAdjust="spacingAndGlyphs">50</text>
<text x="125.9" y="329.2" font-size="11.77" text-anchor="middle" fill="#000" textLength="21.19" lengthAdjust="spacingAndGlyphs">100</text>
<text x="170.15" y="329.2" font-size="11.77" text-anchor="middle" fill="#000" textLength="21.19" lengthAdjust="spacingAndGlyphs">150</text>
<text x="214.4" y="329.2" font-size="11.77" text-anchor="middle" fill="#000" textLength="21.19" lengthAdjust="spacingAndGlyphs">200</text>
<text x="125.9" y="344.8" font-size="11.77" text-anchor="middle" fill="#000" textLength="76.29" lengthAdjust="spacingAndGlyphs">Energy (meV)</text>
<text x="41.5" y="172.8" font-size="11.77" text-anchor="start" fill="#000" textLength="15.71" lengthAdjust="spacingAndGlyphs">(d)</text>
<clipPath id="cb"><rect x="267.55" y="0.55" width="177" height="153.8"/></clipPath>
<g clip-path="url(#cb)">
<path d="M282.1,24.4 282.7,33.5 283.4,42.7 284.1,52.4 284.8,62 285.5,70.9 286.1,79.2 286.8,86.5 287.5,92.3 288.2,97.4 288.9,100.9 289.5,103.5 290.2,105.3 290.9,106.3 291.6,106.9 292.3,107.3 292.9,107.4 293.6,107.3 294.3,107 295,106.6 295.7,106.3 296.3,106 297,105.6 297.7,105.3 298.4,104.9 299.1,104.5 299.7,104.1 300.4,103.6 301.1,103.2 301.8,102.7 302.5,102.2 303.1,101.7 303.8,101.1 304.5,100.5 305.2,99.9 305.9,99.2 306.5,98.5 307.2,97.8 307.9,97 308.6,96.2 309.3,95.4 309.9,94.6 310.6,93.7 311.3,92.7 312,91.8 312.7,90.9 313.3,90.1 314,89.3 314.7,88.4 315.4,87.4 316.1,86.6 316.7,86.1 317.4,85.8 318.1,85.9 318.8,86.2 319.5,86.6 320.1,87 320.8,87.5 321.5,88.1 322.2,88.8 322.9,89.6 323.5,90.5 324.2,91.5 324.9,92.4 325.6,93.4 326.3,94.3 326.9,95.2 327.6,96.1 328.3,97.1 329,98.1 329.7,99.1 330.3,100 331,101 331.7,102 332.4,103 333.1,103.9 333.7,104.8 334.4,105.7 335.1,106.5 335.8,107.4 336.5,108.2 337.1,109 337.8,109.8 338.5,110.6 339.2,111.4 339.9,112.2 340.5,112.9 341.2,113.6 341.9,114.3 342.6,114.9 343.3,115.6 343.9,116.1 344.6,116.7 345.3,117.2 346,117.7 346.7,118.2 347.3,118.7 348,119.2 348.7,119.6 349.4,120.1 350,120.5 350.7,121 351.4,121.4 352.1,121.9 352.8,122.4 353.4,122.8 354.1,123.3 354.8,123.8 355.5,124.3 356.2,124.7 356.8,125.2 357.5,125.6 358.2,126.1 358.9,126.5 359.6,126.9 360.2,127.3 360.9,127.6 361.6,128 362.3,128.4 363,128.7 363.6,129.1 364.3,129.4 365,129.7 365.7,130 366.4,130.2 367,130.4 367.7,130.5 368.4,130.7 369.1,130.9 369.8,131 370.4,131.2 371.1,131.3 371.8,131.4 372.5,131.4 373.2,131.5 373.8,131.5 374.5,131.5 375.2,131.5 375.9,131.4 376.6,131.4 377.2,131.4 377.9,131.3 378.6,131.3 379.3,131.2 380,131.2 380.6,131.2 381.3,131.2 382,131.3 382.7,131.4 383.4,131.6 384,131.8 384.7,132 385.4,132.2 386.1,132.5 386.8,132.7 387.4,132.9 388.1,133.1 388.8,133.3 389.5,133.6 390.2,133.8 390.8,134 391.5,134.3 392.2,134.6 392.9,134.8 393.6,135.1 394.2,135.3 394.9,135.6 395.6,135.8 396.3,136 397,136.1 397.6,136.3 398.3,136.4 399,136.5 399.7,136.6 400.4,136.7 401,136.8 401.7,136.9 402.4,136.9 403.1,137 403.8,137.1 404.4,137.1 405.1,137.2 405.8,137.3 406.5,137.3 407.2,137.3 407.8,137.4 408.5,137.4 409.2,137.4 409.9,137.4 410.6,137.4 411.2,137.4 411.9,137.3 412.6,137.3 413.3,137.3 414,137.3 414.6,137.3 415.3,137.3 416,137.2 416.7,137.2 417.4,137.2 418,137.2 418.7,137.1 419.4,137.1 420.1,137.1 420.8,137 421.4,137 422.1,137 422.8,136.9 423.5,136.9 424.2,136.9 424.8,136.8 425.5,136.8 426.2,136.8 426.9,136.8 427.6,136.7 428.2,136.7 428.9,136.7 429.6,136.6 430.3,136.6 431,136.6 431.6,136.5 432.3,136.5 433,136.5 433.7,136.4 434.4,136.4 435,136.4 435.7,136.3 436.4,136.3 437.1,136.3 437.8,136.2 438.4,136.2 439.1,136.1 439.8,136.1 440.5,136.1 441.2,136 441.8,136 442.5,136 443.2,135.9 443.9,135.9 444.6,135.8" stroke="#000000" stroke-width="0.7" fill="none" stroke-linejoin="round"/>
<path d="M282.1,24.4 282.7,33.5 283.4,42.7 284.1,52.4 284.8,62 285.5,70.9 286.1,79.2 286.8,86.5 287.5,92.3 288.2,97.4 288.9,100.9 289.5,103.5 290.2,105.3 290.9,106.3 291.6,106.9 292.3,107.3 292.9,107.4 293.6,107.3 294.3,107 295,106.6 295.7,106.3 296.3,106 297,105.6 297.7,105.3 298.4,104.9 299.1,104.5 299.7,104.1 300.4,103.6 301.1,103.2 301.8,102.7 302.5,102.2 303.1,101.7 303.8,101.1 304.5,100.5 305.2,99.9 305.9,99.2 306.5,98.5 307.2,97.8 307.9,97 308.6,96.2 309.3,95.4 309.9,94.6 310.6,93.7 311.3,92.7 312,91.8 312.7,90.9 313.3,90.1 314,89.3 314.7,88.4 315.4,87.4 316.1,86.6 316.7,86.1 317.4,85.8 318.1,85.9 318.8,86.2 319.5,86.6 320.1,87 320.8,87.5 321.5,88.1 322.2,88.8 322.9,89.6 323.5,90.5 324.2,91.5 324.9,92.4 325.6,93.4 326.3,94.3 326.9,95.2 327.6,96.1 328.3,97.1 329,98.1 329.7,99.1 330.3,100 331,101 331.7,102 332.4,103 333.1,103.9 333.7,104.8 334.4,105.7 335.1,106.5 335.8,107.4 336.5,108.2 337.1,109 337.8,109.8 338.5,110.6 339.2,111.4 339.9,112.2 340.5,112.9 341.2,113.6 341.9,114.3 342.6,114.9 343.3,115.6 343.9,116.1 344.6,116.7 345.3,117.2 346,117.7 346.7,118.2 347.3,118.7 348,119.2 348.7,119.6 349.4,120.1 350,120.5 350.7,121 351.4,121.4 352.1,121.9 352.8,122.4 353.4,122.8 354.1,123.3 354.8,123.8 355.5,124.3 356.2,124.7 356.8,125.2 357.5,125.6 358.2,126.1 358.9,126.5 359.6,126.9 360.2,127.3 360.9,127.6 361.6,128 362.3,128.4 363,128.7 363.6,129.1 364.3,129.4 365,129.7 365.7,130 366.4,130.2 367,130.4 367.7,130.5 368.4,130.7 369.1,130.9 369.8,131 370.4,131.2 371.1,131.3 371.8,131.4 372.5,131.4 373.2,131.5 373.8,131.5 374.5,131.5 375.2,131.5 375.9,131.4 376.6,131.4 377.2,131.4 377.9,131.3 378.6,131.3 379.3,131.2 380,131.2 380.6,131.2 381.3,131.2 382,131.3 382.7,131.4 383.4,131.6 384,131.8 384.7,132 385.4,132.2 386.1,132.5 386.8,132.7 387.4,132.9 388.1,133.1 388.8,133.3 389.5,133.6 390.2,133.8 390.8,134 391.5,134.3 392.2,134.6 392.9,134.8 393.6,135.1 394.2,135.3 394.9,135.6 395.6,135.8 396.3,136 397,136.1 397.6,136.3 398.3,136.4 399,136.5 399.7,136.6 400.4,136.7 401,136.8 401.7,136.9 402.4,136.9 403.1,137 403.8,137.1 404.4,137.1 405.1,137.2 405.8,137.3 406.5,137.3 407.2,137.3 407.8,137.4 408.5,137.4 409.2,137.4 409.9,137.4 410.6,137.4 411.2,137.4 411.9,137.3 412.6,137.3 413.3,137.3 414,137.3 414.6,137.3 415.3,137.3 416,137.2 416.7,137.2 417.4,137.2 418,137.2 418.7,137.1 419.4,137.1 420.1,137.1 420.8,137 421.4,137 422.1,137 422.8,136.9 423.5,136.9 424.2,136.9 424.8,136.8 425.5,136.8 426.2,136.8 426.9,136.8 427.6,136.7 428.2,136.7 428.9,136.7 429.6,136.6 430.3,136.6 431,136.6 431.6,136.5 432.3,136.5 433,136.5 433.7,136.4 434.4,136.4 435,136.4 435.7,136.3 436.4,136.3 437.1,136.3 437.8,136.2 438.4,136.2 439.1,136.1 439.8,136.1 440.5,136.1 441.2,136 441.8,136 442.5,136 443.2,135.9 443.9,135.9 444.6,135.8" stroke="#ffe600" stroke-width="0.7" fill="none" stroke-linejoin="round"/>
<path d="M282.1,24.4 282.7,33.5 283.4,42.8 284.1,52.4 284.8,62.1 285.5,70.9 286.1,79.2 286.8,86.5 287.5,92.4 288.2,97.4 288.9,101 289.5,103.6 290.2,105.5 290.9,106.4 291.6,107.1 292.3,107.5 292.9,107.6 293.6,107.4 294.3,107.1 295,106.8 295.7,106.4 296.3,106.1 297,105.8 297.7,105.4 298.4,105 299.1,104.6 299.7,104.2 300.4,103.8 301.1,103.3 301.8,102.8 302.5,102.3 303.1,101.8 303.8,101.2 304.5,100.6 305.2,100 305.9,99.4 306.5,98.6 307.2,97.9 307.9,97.2 308.6,96.4 309.3,95.6 309.9,94.7 310.6,93.8 311.3,92.9 312,92 312.7,91.1 313.3,90.2 314,89.4 314.7,88.5 315.4,87.6 316.1,86.8 316.7,86.2 317.4,86 318.1,86.1 318.8,86.4 319.5,86.8 320.1,87.2 320.8,87.7 321.5,88.3 322.2,89 322.9,89.9 323.5,90.8 324.2,91.7 324.9,92.7 325.6,93.7 326.3,94.6 326.9,95.5 327.6,96.4 328.3,97.4 329,98.4 329.7,99.3 330.3,100.3 331,101.3 331.7,102.3 332.4,103.2 333.1,104.2 333.7,105.1 334.4,106 335.1,106.8 335.8,107.6 336.5,108.5 337.1,109.3 337.8,110.1 338.5,110.9 339.2,111.7 339.9,112.4 340.5,113.1 341.2,113.9 341.9,114.5 342.6,115.2 343.3,115.8 343.9,116.4 344.6,116.9 345.3,117.5 346,118 346.7,118.5 347.3,118.9 348,119.4 348.7,119.8 349.4,120.3 350,120.7 350.7,121.2 351.4,121.6 352.1,122.1 352.8,122.5 353.4,123 354.1,123.5 354.8,123.9 355.5,124.4 356.2,124.9 356.8,125.3 357.5,125.8 358.2,126.2 358.9,126.6 359.6,127 360.2,127.4 360.9,127.8 361.6,128.1 362.3,128.5 363,128.9 363.6,129.2 364.3,129.5 365,129.8 365.7,130.1 366.4,130.3 367,130.5 367.7,130.6 368.4,130.8 369.1,131 369.8,131.1 370.4,131.2 371.1,131.4 371.8,131.5 372.5,131.5 373.2,131.6 373.8,131.6 374.5,131.6 375.2,131.5 375.9,131.5 376.6,131.5 377.2,131.4 377.9,131.4 378.6,131.3 379.3,131.3 380,131.3 380.6,131.3 381.3,131.3 382,131.3 382.7,131.5 383.4,131.6 384,131.8 384.7,132 385.4,132.3 386.1,132.5 386.8,132.7 387.4,133 388.1,133.2 388.8,133.4 389.5,133.6 390.2,133.8 390.8,134.1 391.5,134.3 392.2,134.6 392.9,134.8 393.6,135.1 394.2,135.3 394.9,135.6 395.6,135.8 396.3,136 397,136.2 397.6,136.3 398.3,136.4 399,136.5 399.7,136.6 400.4,136.7 401,136.8 401.7,136.9 402.4,136.9 403.1,137 403.8,137.1 404.4,137.1 405.1,137.2 405.8,137.2 406.5,137.3 407.2,137.3 407.8,137.3 408.5,137.4 409.2,137.4 409.9,137.4 410.6,137.4 411.2,137.4 411.9,137.3 412.6,137.3 413.3,137.3 414,137.3 414.6,137.3 415.3,137.3 416,137.2 416.7,137.2 417.4,137.2 418,137.1 418.7,137.1 419.4,137.1 420.1,137.1 420.8,137 421.4,137 422.1,137 422.8,136.9 423.5,136.9 424.2,136.9 424.8,136.8 425.5,136.8 426.2,136.8 426.9,136.8 427.6,136.7 428.2,136.7 428.9,136.7 429.6,136.6 430.3,136.6 431,136.6 431.6,136.5 432.3,136.5 433,136.5 433.7,136.4 434.4,136.4 435,136.4 435.7,136.3 436.4,136.3 437.1,136.3 437.8,136.2 438.4,136.2 439.1,136.1 439.8,136.1 440.5,136.1 441.2,136 441.8,136 442.5,136 443.2,135.9 443.9,135.9 444.6,135.8" stroke="#fcd200" stroke-width="0.7" fill="none" stroke-linejoin="round"/>
<path d="M282.1,24.4 282.7,33.5 283.4,42.8 284.1,52.4 284.8,62.1 285.5,71 286.1,79.3 286.8,86.6 287.5,92.5 288.2,97.5 288.9,101.1 289.5,103.7 290.2,105.6 290.9,106.6 291.6,107.3 292.3,107.7 292.9,107.8 293.6,107.6 294.3,107.3 295,107 295.7,106.6 296.3,106.3 297,105.9 297.7,105.6 298.4,105.2 299.1,104.8 299.7,104.3 300.4,103.9 301.1,103.4 301.8,102.9 302.5,102.4 303.1,101.9 303.8,101.3 304.5,100.8 305.2,100.1 305.9,99.5 306.5,98.8 307.2,98 307.9,97.3 308.6,96.5 309.3,95.7 309.9,94.8 310.6,93.9 311.3,93 312,92.1 312.7,91.2 313.3,90.4 314,89.6 314.7,88.7 315.4,87.8 316.1,87 316.7,86.4 317.4,86.2 318.1,86.3 318.8,86.6 319.5,87 320.1,87.5 320.8,88 321.5,88.6 322.2,89.3 322.9,90.1 323.5,91.1 324.2,92 324.9,93 325.6,94 326.3,94.9 326.9,95.8 327.6,96.7 328.3,97.7 329,98.7 329.7,99.6 330.3,100.6 331,101.6 331.7,102.6 332.4,103.5 333.1,104.5 333.7,105.4 334.4,106.3 335.1,107.1 335.8,107.9 336.5,108.7 337.1,109.6 337.8,110.4 338.5,111.1 339.2,111.9 339.9,112.7 340.5,113.4 341.2,114.1 341.9,114.8 342.6,115.4 343.3,116 343.9,116.6 344.6,117.2 345.3,117.7 346,118.2 346.7,118.7 347.3,119.1 348,119.6 348.7,120.1 349.4,120.5 350,120.9 350.7,121.4 351.4,121.8 352.1,122.3 352.8,122.7 353.4,123.2 354.1,123.7 354.8,124.1 355.5,124.6 356.2,125 356.8,125.5 357.5,125.9 358.2,126.3 358.9,126.8 359.6,127.1 360.2,127.5 360.9,127.9 361.6,128.3 362.3,128.6 363,129 363.6,129.3 364.3,129.6 365,129.9 365.7,130.2 366.4,130.4 367,130.6 367.7,130.7 368.4,130.9 369.1,131 369.8,131.2 370.4,131.3 371.1,131.4 371.8,131.5 372.5,131.6 373.2,131.6 373.8,131.6 374.5,131.6 375.2,131.6 375.9,131.6 376.6,131.5 377.2,131.5 377.9,131.4 378.6,131.4 379.3,131.4 380,131.3 380.6,131.3 381.3,131.3 382,131.4 382.7,131.5 383.4,131.7 384,131.9 384.7,132.1 385.4,132.3 386.1,132.6 386.8,132.8 387.4,133 388.1,133.2 388.8,133.4 389.5,133.6 390.2,133.9 390.8,134.1 391.5,134.4 392.2,134.6 392.9,134.9 393.6,135.1 394.2,135.4 394.9,135.6 395.6,135.8 396.3,136 397,136.2 397.6,136.3 398.3,136.4 399,136.5 399.7,136.6 400.4,136.7 401,136.8 401.7,136.9 402.4,136.9 403.1,137 403.8,137.1 404.4,137.1 405.1,137.2 405.8,137.2 406.5,137.3 407.2,137.3 407.8,137.3 408.5,137.4 409.2,137.4 409.9,137.4 410.6,137.4 411.2,137.3 411.9,137.3 412.6,137.3 413.3,137.3 414,137.3 414.6,137.3 415.3,137.2 416,137.2 416.7,137.2 417.4,137.2 418,137.1 418.7,137.1 419.4,137.1 420.1,137.1 420.8,137 421.4,137 422.1,137 422.8,136.9 423.5,136.9 424.2,136.9 424.8,136.8 425.5,136.8 426.2,136.8 426.9,136.7 427.6,136.7 428.2,136.7 428.9,136.7 429.6,136.6 430.3,136.6 431,136.6 431.6,136.5 432.3,136.5 433,136.5 433.7,136.4 434.4,136.4 435,136.4 435.7,136.3 436.4,136.3 437.1,136.3 437.8,136.2 438.4,136.2 439.1,136.1 439.8,136.1 440.5,136.1 441.2,136 441.8,136 442.5,136 443.2,135.9 443.9,135.9 444.6,135.8" stroke="#f8c414" stroke-width="0.7" fill="none" stroke-linejoin="round"/>
<path d="M282.1,24.4 282.7,33.5 283.4,42.8 284.1,52.4 284.8,62.1 285.5,71 286.1,79.3 286.8,86.6 287.5,92.5 288.2,97.6 288.9,101.2 289.5,103.9 290.2,105.8 290.9,106.8 291.6,107.5 292.3,107.9 292.9,107.9 293.6,107.8 294.3,107.5 295,107.1 295.7,106.8 296.3,106.4 297,106.1 297.7,105.7 298.4,105.3 299.1,104.9 299.7,104.5 300.4,104 301.1,103.5 301.8,103.1 302.5,102.6 303.1,102 303.8,101.5 304.5,100.9 305.2,100.3 305.9,99.6 306.5,98.9 307.2,98.2 307.9,97.4 308.6,96.6 309.3,95.8 309.9,95 310.6,94.1 311.3,93.2 312,92.2 312.7,91.4 313.3,90.5 314,89.7 314.7,88.8 315.4,88 316.1,87.2 316.7,86.6 317.4,86.4 318.1,86.5 318.8,86.8 319.5,87.2 320.1,87.7 320.8,88.2 321.5,88.8 322.2,89.6 322.9,90.4 323.5,91.3 324.2,92.3 324.9,93.3 325.6,94.2 326.3,95.2 326.9,96.1 327.6,97 328.3,98 329,98.9 329.7,99.9 330.3,100.9 331,101.9 331.7,102.9 332.4,103.8 333.1,104.8 333.7,105.7 334.4,106.5 335.1,107.4 335.8,108.2 336.5,109 337.1,109.8 337.8,110.6 338.5,111.4 339.2,112.2 339.9,112.9 340.5,113.7 341.2,114.4 341.9,115 342.6,115.7 343.3,116.3 343.9,116.8 344.6,117.4 345.3,117.9 346,118.4 346.7,118.9 347.3,119.4 348,119.8 348.7,120.3 349.4,120.7 350,121.1 350.7,121.6 351.4,122 352.1,122.5 352.8,122.9 353.4,123.4 354.1,123.8 354.8,124.3 355.5,124.7 356.2,125.2 356.8,125.6 357.5,126.1 358.2,126.5 358.9,126.9 359.6,127.3 360.2,127.7 360.9,128 361.6,128.4 362.3,128.7 363,129.1 363.6,129.4 364.3,129.7 365,130 365.7,130.3 366.4,130.5 367,130.6 367.7,130.8 368.4,131 369.1,131.1 369.8,131.3 370.4,131.4 371.1,131.5 371.8,131.6 372.5,131.7 373.2,131.7 373.8,131.7 374.5,131.7 375.2,131.7 375.9,131.6 376.6,131.6 377.2,131.5 377.9,131.5 378.6,131.5 379.3,131.4 380,131.4 380.6,131.4 381.3,131.4 382,131.5 382.7,131.6 383.4,131.7 384,131.9 384.7,132.1 385.4,132.4 386.1,132.6 386.8,132.8 387.4,133 388.1,133.2 388.8,133.4 389.5,133.7 390.2,133.9 390.8,134.1 391.5,134.4 392.2,134.6 392.9,134.9 393.6,135.1 394.2,135.4 394.9,135.6 395.6,135.8 396.3,136 397,136.2 397.6,136.3 398.3,136.4 399,136.5 399.7,136.6 400.4,136.7 401,136.8 401.7,136.9 402.4,136.9 403.1,137 403.8,137.1 404.4,137.1 405.1,137.2 405.8,137.2 406.5,137.3 407.2,137.3 407.8,137.3 408.5,137.3 409.2,137.4 409.9,137.4 410.6,137.3 411.2,137.3 411.9,137.3 412.6,137.3 413.3,137.3 414,137.3 414.6,137.3 415.3,137.2 416,137.2 416.7,137.2 417.4,137.2 418,137.1 418.7,137.1 419.4,137.1 420.1,137.1 420.8,137 421.4,137 422.1,137 422.8,136.9 423.5,136.9 424.2,136.9 424.8,136.8 425.5,136.8 426.2,136.8 426.9,136.7 427.6,136.7 428.2,136.7 428.9,136.7 429.6,136.6 430.3,136.6 431,136.6 431.6,136.5 432.3,136.5 433,136.5 433.7,136.4 434.4,136.4 435,136.4 435.7,136.3 436.4,136.3 437.1,136.3 437.8,136.2 438.4,136.2 439.1,136.1 439.8,136.1 440.5,136.1 441.2,136 441.8,136 442.5,136 443.2,135.9 443.9,135.9 444.6,135.8" stroke="#f5b820" stroke-width="0.7" fill="none" stroke-linejoin="round"/>
<path d="M282.1,24.4 282.7,33.5 283.4,42.8 284.1,52.5 284.8,62.2 285.5,71 286.1,79.4 286.8,86.7 287.5,92.6 288.2,97.7 288.9,101.4 289.5,104.1 290.2,106 290.9,107 291.6,107.8 292.3,108.2 292.9,108.2 293.6,108 294.3,107.7 295,107.4 295.7,107 296.3,106.7 297,106.3 297.7,105.9 298.4,105.5 299.1,105.1 299.7,104.6 300.4,104.2 301.1,103.7 301.8,103.2 302.5,102.7 303.1,102.2 303.8,101.6 304.5,101 305.2,100.4 305.9,99.8 306.5,99.1 307.2,98.3 307.9,97.6 308.6,96.8 309.3,96 309.9,95.2 310.6,94.3 311.3,93.4 312,92.5 312.7,91.6 313.3,90.8 314,90 314.7,89.1 315.4,88.2 316.1,87.5 316.7,86.9 317.4,86.7 318.1,86.9 318.8,87.2 319.5,87.6 320.1,88.1 320.8,88.6 321.5,89.2 322.2,90 322.9,90.8 323.5,91.7 324.2,92.7 324.9,93.7 325.6,94.7 326.3,95.6 326.9,96.5 327.6,97.5 328.3,98.4 329,99.4 329.7,100.4 330.3,101.3 331,102.3 331.7,103.3 332.4,104.2 333.1,105.2 333.7,106.1 334.4,107 335.1,107.8 335.8,108.6 336.5,109.4 337.1,110.2 337.8,111 338.5,111.8 339.2,112.6 339.9,113.3 340.5,114 341.2,114.7 341.9,115.4 342.6,116 343.3,116.6 343.9,117.2 344.6,117.7 345.3,118.3 346,118.8 346.7,119.2 347.3,119.7 348,120.1 348.7,120.6 349.4,121 350,121.4 350.7,121.9 351.4,122.3 352.1,122.7 352.8,123.2 353.4,123.6 354.1,124.1 354.8,124.5 355.5,125 356.2,125.4 356.8,125.9 357.5,126.3 358.2,126.7 358.9,127.1 359.6,127.5 360.2,127.8 360.9,128.2 361.6,128.6 362.3,128.9 363,129.3 363.6,129.6 364.3,129.9 365,130.2 365.7,130.4 366.4,130.6 367,130.8 367.7,131 368.4,131.1 369.1,131.3 369.8,131.4 370.4,131.5 371.1,131.6 371.8,131.7 372.5,131.8 373.2,131.8 373.8,131.8 374.5,131.8 375.2,131.8 375.9,131.7 376.6,131.7 377.2,131.6 377.9,131.6 378.6,131.6 379.3,131.5 380,131.5 380.6,131.5 381.3,131.5 382,131.6 382.7,131.7 383.4,131.8 384,132 384.7,132.2 385.4,132.4 386.1,132.7 386.8,132.9 387.4,133.1 388.1,133.3 388.8,133.5 389.5,133.7 390.2,133.9 390.8,134.2 391.5,134.4 392.2,134.7 392.9,134.9 393.6,135.2 394.2,135.4 394.9,135.6 395.6,135.8 396.3,136 397,136.2 397.6,136.3 398.3,136.4 399,136.5 399.7,136.6 400.4,136.7 401,136.8 401.7,136.9 402.4,136.9 403.1,137 403.8,137.1 404.4,137.1 405.1,137.2 405.8,137.2 406.5,137.3 407.2,137.3 407.8,137.3 408.5,137.3 409.2,137.3 409.9,137.3 410.6,137.3 411.2,137.3 411.9,137.3 412.6,137.3 413.3,137.3 414,137.3 414.6,137.3 415.3,137.2 416,137.2 416.7,137.2 417.4,137.2 418,137.1 418.7,137.1 419.4,137.1 420.1,137 420.8,137 421.4,137 422.1,137 422.8,136.9 423.5,136.9 424.2,136.9 424.8,136.8 425.5,136.8 426.2,136.8 426.9,136.7 427.6,136.7 428.2,136.7 428.9,136.7 429.6,136.6 430.3,136.6 431,136.6 431.6,136.5 432.3,136.5 433,136.5 433.7,136.4 434.4,136.4 435,136.4 435.7,136.3 436.4,136.3 437.1,136.3 437.8,136.2 438.4,136.2 439.1,136.1 439.8,136.1 440.5,136.1 441.2,136 441.8,136 442.5,135.9 443.2,135.9 443.9,135.9 444.6,135.8" stroke="#f0a400" stroke-width="1.8" fill="none" stroke-linejoin="round"/>
<path d="M282.1,24.4 282.7,33.6 283.4,42.9 284.1,52.6 284.8,62.4 285.5,71.3 286.1,79.6 286.8,87 287.5,93.1 288.2,98.3 288.9,102.2 289.5,105.1 290.2,107.2 290.9,108.3 291.6,109.2 292.3,109.6 292.9,109.6 293.6,109.3 294.3,109 295,108.6 295.7,108.2 296.3,107.8 297,107.4 297.7,107 298.4,106.5 299.1,106.1 299.7,105.6 300.4,105.1 301.1,104.7 301.8,104.1 302.5,103.6 303.1,103.1 303.8,102.5 304.5,101.9 305.2,101.3 305.9,100.7 306.5,100 307.2,99.2 307.9,98.5 308.6,97.7 309.3,97 309.9,96.1 310.6,95.3 311.3,94.4 312,93.5 312.7,92.7 313.3,91.9 314,91.1 314.7,90.3 315.4,89.5 316.1,88.8 316.7,88.4 317.4,88.3 318.1,88.4 318.8,88.8 319.5,89.3 320.1,89.9 320.8,90.5 321.5,91.2 322.2,92 322.9,92.8 323.5,93.8 324.2,94.8 324.9,95.8 325.6,96.8 326.3,97.7 326.9,98.7 327.6,99.6 328.3,100.6 329,101.6 329.7,102.5 330.3,103.5 331,104.5 331.7,105.4 332.4,106.4 333.1,107.3 333.7,108.2 334.4,109 335.1,109.9 335.8,110.7 336.5,111.5 337.1,112.3 337.8,113 338.5,113.8 339.2,114.5 339.9,115.3 340.5,116 341.2,116.6 341.9,117.3 342.6,117.9 343.3,118.4 343.9,119 344.6,119.5 345.3,120 346,120.4 346.7,120.9 347.3,121.3 348,121.7 348.7,122.2 349.4,122.6 350,123 350.7,123.4 351.4,123.8 352.1,124.2 352.8,124.6 353.4,125 354.1,125.4 354.8,125.8 355.5,126.2 356.2,126.6 356.8,127 357.5,127.4 358.2,127.8 358.9,128.2 359.6,128.5 360.2,128.8 360.9,129.2 361.6,129.5 362.3,129.8 363,130.1 363.6,130.4 364.3,130.7 365,131 365.7,131.2 366.4,131.3 367,131.5 367.7,131.6 368.4,131.8 369.1,131.9 369.8,132 370.4,132.1 371.1,132.2 371.8,132.3 372.5,132.3 373.2,132.4 373.8,132.3 374.5,132.3 375.2,132.3 375.9,132.2 376.6,132.2 377.2,132.1 377.9,132.1 378.6,132 379.3,132 380,132 380.6,131.9 381.3,132 382,132 382.7,132.1 383.4,132.3 384,132.4 384.7,132.6 385.4,132.8 386.1,133 386.8,133.2 387.4,133.4 388.1,133.6 388.8,133.8 389.5,134 390.2,134.2 390.8,134.4 391.5,134.6 392.2,134.9 392.9,135.1 393.6,135.3 394.2,135.5 394.9,135.7 395.6,135.9 396.3,136.1 397,136.2 397.6,136.4 398.3,136.5 399,136.5 399.7,136.6 400.4,136.7 401,136.8 401.7,136.8 402.4,136.9 403.1,137 403.8,137 404.4,137.1 405.1,137.1 405.8,137.2 406.5,137.2 407.2,137.3 407.8,137.3 408.5,137.3 409.2,137.3 409.9,137.3 410.6,137.3 411.2,137.3 411.9,137.3 412.6,137.3 413.3,137.2 414,137.2 414.6,137.2 415.3,137.2 416,137.2 416.7,137.1 417.4,137.1 418,137.1 418.7,137.1 419.4,137 420.1,137 420.8,137 421.4,137 422.1,136.9 422.8,136.9 423.5,136.9 424.2,136.8 424.8,136.8 425.5,136.8 426.2,136.7 426.9,136.7 427.6,136.7 428.2,136.7 428.9,136.6 429.6,136.6 430.3,136.6 431,136.5 431.6,136.5 432.3,136.5 433,136.4 433.7,136.4 434.4,136.4 435,136.3 435.7,136.3 436.4,136.3 437.1,136.2 437.8,136.2 438.4,136.2 439.1,136.1 439.8,136.1 440.5,136.1 441.2,136 441.8,136 442.5,135.9 443.2,135.9 443.9,135.9 444.6,135.8" stroke="#ec9c1c" stroke-width="0.7" fill="none" stroke-linejoin="round"/>
<path d="M282.1,24.4 282.7,33.6 283.4,43 284.1,52.7 284.8,62.5 285.5,71.4 286.1,79.8 286.8,87.2 287.5,93.3 288.2,98.6 288.9,102.6 289.5,105.6 290.2,107.8 290.9,109 291.6,109.9 292.3,110.3 292.9,110.3 293.6,110 294.3,109.6 295,109.2 295.7,108.8 296.3,108.4 297,108 297.7,107.5 298.4,107.1 299.1,106.6 299.7,106.1 300.4,105.6 301.1,105.1 301.8,104.6 302.5,104.1 303.1,103.6 303.8,103 304.5,102.4 305.2,101.8 305.9,101.1 306.5,100.4 307.2,99.7 307.9,99 308.6,98.2 309.3,97.5 309.9,96.6 310.6,95.8 311.3,94.9 312,94.1 312.7,93.3 313.3,92.5 314,91.8 314.7,91 315.4,90.2 316.1,89.6 316.7,89.2 317.4,89.1 318.1,89.3 318.8,89.7 319.5,90.2 320.1,90.8 320.8,91.5 321.5,92.2 322.2,93 322.9,93.9 323.5,94.9 324.2,95.9 324.9,96.9 325.6,97.9 326.3,98.9 326.9,99.8 327.6,100.8 328.3,101.8 329,102.7 329.7,103.7 330.3,104.7 331,105.6 331.7,106.6 332.4,107.5 333.1,108.4 333.7,109.3 334.4,110.2 335.1,111 335.8,111.8 336.5,112.5 337.1,113.3 337.8,114.1 338.5,114.8 339.2,115.6 339.9,116.3 340.5,117 341.2,117.6 341.9,118.3 342.6,118.8 343.3,119.4 343.9,119.9 344.6,120.4 345.3,120.9 346,121.3 346.7,121.8 347.3,122.2 348,122.6 348.7,123 349.4,123.4 350,123.8 350.7,124.1 351.4,124.5 352.1,124.9 352.8,125.3 353.4,125.7 354.1,126.1 354.8,126.5 355.5,126.9 356.2,127.3 356.8,127.7 357.5,128 358.2,128.4 358.9,128.7 359.6,129.1 360.2,129.4 360.9,129.7 361.6,130 362.3,130.3 363,130.6 363.6,130.9 364.3,131.1 365,131.4 365.7,131.6 366.4,131.7 367,131.9 367.7,132 368.4,132.1 369.1,132.2 369.8,132.3 370.4,132.4 371.1,132.5 371.8,132.6 372.5,132.6 373.2,132.6 373.8,132.6 374.5,132.6 375.2,132.6 375.9,132.5 376.6,132.4 377.2,132.4 377.9,132.3 378.6,132.3 379.3,132.2 380,132.2 380.6,132.2 381.3,132.2 382,132.3 382.7,132.4 383.4,132.5 384,132.6 384.7,132.8 385.4,133 386.1,133.2 386.8,133.4 387.4,133.6 388.1,133.8 388.8,133.9 389.5,134.1 390.2,134.3 390.8,134.5 391.5,134.7 392.2,135 392.9,135.2 393.6,135.4 394.2,135.6 394.9,135.8 395.6,135.9 396.3,136.1 397,136.2 397.6,136.4 398.3,136.5 399,136.5 399.7,136.6 400.4,136.7 401,136.8 401.7,136.8 402.4,136.9 403.1,137 403.8,137 404.4,137.1 405.1,137.1 405.8,137.2 406.5,137.2 407.2,137.2 407.8,137.3 408.5,137.3 409.2,137.3 409.9,137.3 410.6,137.3 411.2,137.3 411.9,137.3 412.6,137.2 413.3,137.2 414,137.2 414.6,137.2 415.3,137.2 416,137.1 416.7,137.1 417.4,137.1 418,137.1 418.7,137 419.4,137 420.1,137 420.8,137 421.4,136.9 422.1,136.9 422.8,136.9 423.5,136.8 424.2,136.8 424.8,136.8 425.5,136.8 426.2,136.7 426.9,136.7 427.6,136.7 428.2,136.7 428.9,136.6 429.6,136.6 430.3,136.6 431,136.5 431.6,136.5 432.3,136.5 433,136.4 433.7,136.4 434.4,136.4 435,136.3 435.7,136.3 436.4,136.3 437.1,136.2 437.8,136.2 438.4,136.2 439.1,136.1 439.8,136.1 440.5,136.1 441.2,136 441.8,136 442.5,135.9 443.2,135.9 443.9,135.9 444.6,135.8" stroke="#e9921a" stroke-width="0.7" fill="none" stroke-linejoin="round"/>
<path d="M282.1,24.4 282.7,33.6 283.4,43 284.1,52.8 284.8,62.6 285.5,71.5 286.1,79.9 286.8,87.3 287.5,93.5 288.2,99 288.9,103 289.5,106.1 290.2,108.4 290.9,109.7 291.6,110.7 292.3,111.1 292.9,111 293.6,110.7 294.3,110.3 295,109.9 295.7,109.4 296.3,109 297,108.6 297.7,108.1 298.4,107.6 299.1,107.1 299.7,106.6 300.4,106.1 301.1,105.6 301.8,105.1 302.5,104.6 303.1,104 303.8,103.5 304.5,102.9 305.2,102.3 305.9,101.6 306.5,100.9 307.2,100.2 307.9,99.5 308.6,98.7 309.3,98 309.9,97.2 310.6,96.3 311.3,95.5 312,94.7 312.7,93.9 313.3,93.1 314,92.4 314.7,91.6 315.4,90.9 316.1,90.3 316.7,90 317.4,89.9 318.1,90.1 318.8,90.6 319.5,91.1 320.1,91.8 320.8,92.5 321.5,93.2 322.2,94.1 322.9,95 323.5,96 324.2,97 324.9,98 325.6,99.1 326.3,100 326.9,101 327.6,101.9 328.3,102.9 329,103.9 329.7,104.9 330.3,105.8 331,106.8 331.7,107.7 332.4,108.7 333.1,109.6 333.7,110.4 334.4,111.3 335.1,112.1 335.8,112.9 336.5,113.6 337.1,114.4 337.8,115.2 338.5,115.9 339.2,116.6 339.9,117.3 340.5,118 341.2,118.6 341.9,119.3 342.6,119.8 343.3,120.4 343.9,120.9 344.6,121.3 345.3,121.8 346,122.2 346.7,122.7 347.3,123.1 348,123.5 348.7,123.8 349.4,124.2 350,124.6 350.7,124.9 351.4,125.3 352.1,125.7 352.8,126 353.4,126.4 354.1,126.8 354.8,127.2 355.5,127.5 356.2,127.9 356.8,128.3 357.5,128.6 358.2,129 358.9,129.3 359.6,129.6 360.2,129.9 360.9,130.2 361.6,130.5 362.3,130.8 363,131.1 363.6,131.3 364.3,131.6 365,131.8 365.7,132 366.4,132.1 367,132.2 367.7,132.4 368.4,132.5 369.1,132.6 369.8,132.7 370.4,132.8 371.1,132.8 371.8,132.9 372.5,132.9 373.2,132.9 373.8,132.9 374.5,132.9 375.2,132.8 375.9,132.8 376.6,132.7 377.2,132.6 377.9,132.6 378.6,132.5 379.3,132.5 380,132.5 380.6,132.4 381.3,132.4 382,132.5 382.7,132.6 383.4,132.7 384,132.9 384.7,133 385.4,133.2 386.1,133.4 386.8,133.6 387.4,133.8 388.1,133.9 388.8,134.1 389.5,134.3 390.2,134.5 390.8,134.7 391.5,134.9 392.2,135.1 392.9,135.3 393.6,135.4 394.2,135.6 394.9,135.8 395.6,136 396.3,136.1 397,136.3 397.6,136.4 398.3,136.5 399,136.6 399.7,136.6 400.4,136.7 401,136.8 401.7,136.8 402.4,136.9 403.1,137 403.8,137 404.4,137.1 405.1,137.1 405.8,137.2 406.5,137.2 407.2,137.2 407.8,137.2 408.5,137.2 409.2,137.2 409.9,137.2 410.6,137.2 411.2,137.2 411.9,137.2 412.6,137.2 413.3,137.2 414,137.2 414.6,137.2 415.3,137.1 416,137.1 416.7,137.1 417.4,137.1 418,137.1 418.7,137 419.4,137 420.1,137 420.8,136.9 421.4,136.9 422.1,136.9 422.8,136.9 423.5,136.8 424.2,136.8 424.8,136.8 425.5,136.7 426.2,136.7 426.9,136.7 427.6,136.7 428.2,136.6 428.9,136.6 429.6,136.6 430.3,136.6 431,136.5 431.6,136.5 432.3,136.5 433,136.4 433.7,136.4 434.4,136.4 435,136.3 435.7,136.3 436.4,136.3 437.1,136.2 437.8,136.2 438.4,136.2 439.1,136.1 439.8,136.1 440.5,136.1 441.2,136 441.8,136 442.5,135.9 443.2,135.9 443.9,135.9 444.6,135.8" stroke="#e68a1c" stroke-width="0.7" fill="none" stroke-linejoin="round"/>
<path d="M282.1,24.4 282.7,33.7 283.4,43.1 284.1,52.9 284.8,62.7 285.5,71.7 286.1,80 286.8,87.5 287.5,93.8 288.2,99.3 288.9,103.4 289.5,106.6 290.2,109 290.9,110.4 291.6,111.4 292.3,111.8 292.9,111.7 293.6,111.4 294.3,111 295,110.5 295.7,110 296.3,109.6 297,109.1 297.7,108.7 298.4,108.2 299.1,107.7 299.7,107.1 300.4,106.6 301.1,106.1 301.8,105.6 302.5,105.1 303.1,104.5 303.8,103.9 304.5,103.3 305.2,102.7 305.9,102.1 306.5,101.4 307.2,100.7 307.9,100 308.6,99.2 309.3,98.5 309.9,97.7 310.6,96.9 311.3,96.1 312,95.2 312.7,94.4 313.3,93.7 314,93 314.7,92.3 315.4,91.6 316.1,91.1 316.7,90.7 317.4,90.7 318.1,91 318.8,91.5 319.5,92.1 320.1,92.8 320.8,93.5 321.5,94.3 322.2,95.1 322.9,96.1 323.5,97.1 324.2,98.1 324.9,99.2 325.6,100.2 326.3,101.2 326.9,102.1 327.6,103.1 328.3,104.1 329,105 329.7,106 330.3,107 331,107.9 331.7,108.9 332.4,109.8 333.1,110.7 333.7,111.6 334.4,112.4 335.1,113.2 335.8,114 336.5,114.7 337.1,115.5 337.8,116.2 338.5,117 339.2,117.7 339.9,118.4 340.5,119 341.2,119.6 341.9,120.2 342.6,120.8 343.3,121.3 343.9,121.8 344.6,122.3 345.3,122.7 346,123.1 346.7,123.5 347.3,123.9 348,124.3 348.7,124.7 349.4,125 350,125.4 350.7,125.7 351.4,126.1 352.1,126.4 352.8,126.8 353.4,127.1 354.1,127.5 354.8,127.8 355.5,128.2 356.2,128.5 356.8,128.9 357.5,129.2 358.2,129.5 358.9,129.9 359.6,130.2 360.2,130.4 360.9,130.7 361.6,131 362.3,131.3 363,131.5 363.6,131.8 364.3,132 365,132.2 365.7,132.4 366.4,132.5 367,132.6 367.7,132.7 368.4,132.8 369.1,132.9 369.8,133 370.4,133.1 371.1,133.1 371.8,133.2 372.5,133.2 373.2,133.2 373.8,133.2 374.5,133.1 375.2,133.1 375.9,133 376.6,133 377.2,132.9 377.9,132.8 378.6,132.8 379.3,132.7 380,132.7 380.6,132.7 381.3,132.7 382,132.7 382.7,132.8 383.4,132.9 384,133.1 384.7,133.2 385.4,133.4 386.1,133.6 386.8,133.8 387.4,133.9 388.1,134.1 388.8,134.2 389.5,134.4 390.2,134.6 390.8,134.8 391.5,135 392.2,135.2 392.9,135.3 393.6,135.5 394.2,135.7 394.9,135.9 395.6,136 396.3,136.2 397,136.3 397.6,136.4 398.3,136.5 399,136.6 399.7,136.6 400.4,136.7 401,136.8 401.7,136.8 402.4,136.9 403.1,137 403.8,137 404.4,137.1 405.1,137.1 405.8,137.1 406.5,137.2 407.2,137.2 407.8,137.2 408.5,137.2 409.2,137.2 409.9,137.2 410.6,137.2 411.2,137.2 411.9,137.2 412.6,137.2 413.3,137.2 414,137.2 414.6,137.1 415.3,137.1 416,137.1 416.7,137.1 417.4,137.1 418,137 418.7,137 419.4,137 420.1,137 420.8,136.9 421.4,136.9 422.1,136.9 422.8,136.8 423.5,136.8 424.2,136.8 424.8,136.8 425.5,136.7 426.2,136.7 426.9,136.7 427.6,136.7 428.2,136.6 428.9,136.6 429.6,136.6 430.3,136.5 431,136.5 431.6,136.5 432.3,136.5 433,136.4 433.7,136.4 434.4,136.4 435,136.3 435.7,136.3 436.4,136.3 437.1,136.2 437.8,136.2 438.4,136.2 439.1,136.1 439.8,136.1 440.5,136.1 441.2,136 441.8,136 442.5,135.9 443.2,135.9 443.9,135.9 444.6,135.8" stroke="#e2801c" stroke-width="0.7" fill="none" stroke-linejoin="round"/>
<path d="M282.1,24.4 282.7,33.7 283.4,43.2 284.1,53 284.8,62.8 285.5,71.8 286.1,80.2 286.8,87.7 287.5,94 288.2,99.6 288.9,103.9 289.5,107.1 290.2,109.7 290.9,111.1 291.6,112.1 292.3,112.5 292.9,112.4 293.6,112 294.3,111.6 295,111.2 295.7,110.7 296.3,110.2 297,109.7 297.7,109.2 298.4,108.7 299.1,108.2 299.7,107.7 300.4,107.1 301.1,106.6 301.8,106.1 302.5,105.5 303.1,105 303.8,104.4 304.5,103.8 305.2,103.2 305.9,102.5 306.5,101.9 307.2,101.2 307.9,100.4 308.6,99.7 309.3,99 309.9,98.2 310.6,97.4 311.3,96.6 312,95.8 312.7,95 313.3,94.3 314,93.6 314.7,92.9 315.4,92.3 316.1,91.8 316.7,91.5 317.4,91.5 318.1,91.8 318.8,92.3 319.5,93 320.1,93.7 320.8,94.5 321.5,95.3 322.2,96.2 322.9,97.2 323.5,98.2 324.2,99.2 324.9,100.3 325.6,101.3 326.3,102.3 326.9,103.3 327.6,104.3 328.3,105.2 329,106.2 329.7,107.2 330.3,108.1 331,109.1 331.7,110 332.4,111 333.1,111.8 333.7,112.7 334.4,113.5 335.1,114.3 335.8,115.1 336.5,115.8 337.1,116.6 337.8,117.3 338.5,118 339.2,118.7 339.9,119.4 340.5,120 341.2,120.7 341.9,121.2 342.6,121.8 343.3,122.3 343.9,122.7 344.6,123.2 345.3,123.6 346,124 346.7,124.4 347.3,124.8 348,125.2 348.7,125.5 349.4,125.9 350,126.2 350.7,126.5 351.4,126.8 352.1,127.2 352.8,127.5 353.4,127.8 354.1,128.2 354.8,128.5 355.5,128.9 356.2,129.2 356.8,129.5 357.5,129.8 358.2,130.1 358.9,130.4 359.6,130.7 360.2,131 360.9,131.2 361.6,131.5 362.3,131.7 363,132 363.6,132.2 364.3,132.4 365,132.6 365.7,132.8 366.4,132.9 367,133 367.7,133.1 368.4,133.2 369.1,133.3 369.8,133.3 370.4,133.4 371.1,133.5 371.8,133.5 372.5,133.5 373.2,133.5 373.8,133.5 374.5,133.4 375.2,133.4 375.9,133.3 376.6,133.2 377.2,133.2 377.9,133.1 378.6,133 379.3,133 380,133 380.6,132.9 381.3,132.9 382,133 382.7,133.1 383.4,133.2 384,133.3 384.7,133.5 385.4,133.6 386.1,133.8 386.8,133.9 387.4,134.1 388.1,134.2 388.8,134.4 389.5,134.6 390.2,134.7 390.8,134.9 391.5,135.1 392.2,135.3 392.9,135.4 393.6,135.6 394.2,135.8 394.9,135.9 395.6,136.1 396.3,136.2 397,136.3 397.6,136.4 398.3,136.5 399,136.6 399.7,136.6 400.4,136.7 401,136.8 401.7,136.8 402.4,136.9 403.1,136.9 403.8,137 404.4,137 405.1,137.1 405.8,137.1 406.5,137.1 407.2,137.2 407.8,137.2 408.5,137.2 409.2,137.2 409.9,137.2 410.6,137.2 411.2,137.2 411.9,137.2 412.6,137.2 413.3,137.2 414,137.1 414.6,137.1 415.3,137.1 416,137.1 416.7,137.1 417.4,137 418,137 418.7,137 419.4,137 420.1,136.9 420.8,136.9 421.4,136.9 422.1,136.9 422.8,136.8 423.5,136.8 424.2,136.8 424.8,136.7 425.5,136.7 426.2,136.7 426.9,136.7 427.6,136.6 428.2,136.6 428.9,136.6 429.6,136.6 430.3,136.5 431,136.5 431.6,136.5 432.3,136.4 433,136.4 433.7,136.4 434.4,136.4 435,136.3 435.7,136.3 436.4,136.3 437.1,136.2 437.8,136.2 438.4,136.2 439.1,136.1 439.8,136.1 440.5,136.1 441.2,136 441.8,136 442.5,135.9 443.2,135.9 443.9,135.9 444.6,135.8" stroke="#e07010" stroke-width="1.8" fill="none" stroke-linejoin="round"/>
<path d="M282.1,24.4 282.7,33.7 283.4,43.2 284.1,53.1 284.8,62.9 285.5,72 286.1,80.4 286.8,87.9 287.5,94.3 288.2,100 288.9,104.4 289.5,107.8 290.2,110.4 290.9,112 291.6,113.1 292.3,113.5 292.9,113.3 293.6,112.9 294.3,112.4 295,112 295.7,111.5 296.3,111 297,110.5 297.7,109.9 298.4,109.4 299.1,108.8 299.7,108.3 300.4,107.8 301.1,107.2 301.8,106.7 302.5,106.1 303.1,105.6 303.8,105 304.5,104.4 305.2,103.8 305.9,103.1 306.5,102.5 307.2,101.8 307.9,101.1 308.6,100.3 309.3,99.6 309.9,98.8 310.6,98.1 311.3,97.3 312,96.5 312.7,95.8 313.3,95.1 314,94.4 314.7,93.7 315.4,93.1 316.1,92.7 316.7,92.5 317.4,92.5 318.1,92.9 318.8,93.4 319.5,94.1 320.1,94.9 320.8,95.7 321.5,96.6 322.2,97.5 322.9,98.5 323.5,99.5 324.2,100.6 324.9,101.7 325.6,102.7 326.3,103.8 326.9,104.7 327.6,105.7 328.3,106.7 329,107.7 329.7,108.6 330.3,109.6 331,110.5 331.7,111.5 332.4,112.4 333.1,113.3 333.7,114.1 334.4,114.9 335.1,115.7 335.8,116.4 336.5,117.2 337.1,117.9 337.8,118.6 338.5,119.3 339.2,120 339.9,120.7 340.5,121.3 341.2,121.9 341.9,122.5 342.6,123 343.3,123.5 343.9,123.9 344.6,124.4 345.3,124.8 346,125.2 346.7,125.5 347.3,125.9 348,126.2 348.7,126.6 349.4,126.9 350,127.2 350.7,127.5 351.4,127.8 352.1,128.1 352.8,128.4 353.4,128.7 354.1,129.1 354.8,129.4 355.5,129.7 356.2,130 356.8,130.3 357.5,130.6 358.2,130.9 358.9,131.1 359.6,131.4 360.2,131.6 360.9,131.9 361.6,132.1 362.3,132.3 363,132.6 363.6,132.8 364.3,133 365,133.1 365.7,133.3 366.4,133.4 367,133.5 367.7,133.5 368.4,133.6 369.1,133.7 369.8,133.8 370.4,133.8 371.1,133.9 371.8,133.9 372.5,133.9 373.2,133.9 373.8,133.8 374.5,133.8 375.2,133.7 375.9,133.6 376.6,133.6 377.2,133.5 377.9,133.4 378.6,133.4 379.3,133.3 380,133.3 380.6,133.2 381.3,133.2 382,133.3 382.7,133.4 383.4,133.5 384,133.6 384.7,133.7 385.4,133.9 386.1,134 386.8,134.2 387.4,134.3 388.1,134.4 388.8,134.6 389.5,134.7 390.2,134.9 390.8,135 391.5,135.2 392.2,135.4 392.9,135.5 393.6,135.7 394.2,135.8 394.9,136 395.6,136.1 396.3,136.2 397,136.4 397.6,136.5 398.3,136.5 399,136.6 399.7,136.7 400.4,136.7 401,136.8 401.7,136.8 402.4,136.9 403.1,136.9 403.8,137 404.4,137 405.1,137.1 405.8,137.1 406.5,137.1 407.2,137.1 407.8,137.2 408.5,137.2 409.2,137.2 409.9,137.2 410.6,137.2 411.2,137.2 411.9,137.1 412.6,137.1 413.3,137.1 414,137.1 414.6,137.1 415.3,137.1 416,137.1 416.7,137 417.4,137 418,137 418.7,137 419.4,136.9 420.1,136.9 420.8,136.9 421.4,136.9 422.1,136.8 422.8,136.8 423.5,136.8 424.2,136.8 424.8,136.7 425.5,136.7 426.2,136.7 426.9,136.7 427.6,136.6 428.2,136.6 428.9,136.6 429.6,136.5 430.3,136.5 431,136.5 431.6,136.5 432.3,136.4 433,136.4 433.7,136.4 434.4,136.3 435,136.3 435.7,136.3 436.4,136.3 437.1,136.2 437.8,136.2 438.4,136.2 439.1,136.1 439.8,136.1 440.5,136 441.2,136 441.8,136 442.5,135.9 443.2,135.9 443.9,135.9 444.6,135.8" stroke="#dc7424" stroke-width="0.7" fill="none" stroke-linejoin="round"/>
<path d="M282.1,24.4 282.7,33.8 283.4,43.3 284.1,53.1 284.8,63 285.5,72.1 286.1,80.5 286.8,88.1 287.5,94.5 288.2,100.3 288.9,104.8 289.5,108.3 290.2,111 290.9,112.7 291.6,113.8 292.3,114.2 292.9,114 293.6,113.6 294.3,113.1 295,112.6 295.7,112.1 296.3,111.6 297,111 297.7,110.5 298.4,109.9 299.1,109.4 299.7,108.8 300.4,108.3 301.1,107.7 301.8,107.2 302.5,106.6 303.1,106 303.8,105.5 304.5,104.9 305.2,104.3 305.9,103.6 306.5,102.9 307.2,102.3 307.9,101.5 308.6,100.8 309.3,100.1 309.9,99.4 310.6,98.6 311.3,97.8 312,97.1 312.7,96.4 313.3,95.7 314,95 314.7,94.4 315.4,93.8 316.1,93.4 316.7,93.3 317.4,93.3 318.1,93.7 318.8,94.3 319.5,95 320.1,95.9 320.8,96.7 321.5,97.6 322.2,98.6 322.9,99.6 323.5,100.6 324.2,101.7 324.9,102.8 325.6,103.9 326.3,104.9 326.9,105.9 327.6,106.9 328.3,107.9 329,108.8 329.7,109.8 330.3,110.8 331,111.7 331.7,112.6 332.4,113.5 333.1,114.4 333.7,115.2 334.4,116 335.1,116.8 335.8,117.5 336.5,118.3 337.1,119 337.8,119.7 338.5,120.4 339.2,121.1 339.9,121.7 340.5,122.3 341.2,122.9 341.9,123.5 342.6,124 343.3,124.4 343.9,124.9 344.6,125.3 345.3,125.7 346,126.1 346.7,126.4 347.3,126.8 348,127.1 348.7,127.4 349.4,127.7 350,128 350.7,128.3 351.4,128.6 352.1,128.9 352.8,129.2 353.4,129.5 354.1,129.8 354.8,130 355.5,130.3 356.2,130.6 356.8,130.9 357.5,131.2 358.2,131.4 358.9,131.7 359.6,131.9 360.2,132.2 360.9,132.4 361.6,132.6 362.3,132.8 363,133 363.6,133.2 364.3,133.4 365,133.5 365.7,133.7 366.4,133.8 367,133.8 367.7,133.9 368.4,134 369.1,134 369.8,134.1 370.4,134.1 371.1,134.2 371.8,134.2 372.5,134.2 373.2,134.1 373.8,134.1 374.5,134 375.2,134 375.9,133.9 376.6,133.8 377.2,133.7 377.9,133.7 378.6,133.6 379.3,133.6 380,133.5 380.6,133.5 381.3,133.5 382,133.5 382.7,133.6 383.4,133.7 384,133.8 384.7,133.9 385.4,134.1 386.1,134.2 386.8,134.4 387.4,134.5 388.1,134.6 388.8,134.7 389.5,134.9 390.2,135 390.8,135.2 391.5,135.3 392.2,135.5 392.9,135.6 393.6,135.8 394.2,135.9 394.9,136 395.6,136.2 396.3,136.3 397,136.4 397.6,136.5 398.3,136.5 399,136.6 399.7,136.7 400.4,136.7 401,136.8 401.7,136.8 402.4,136.9 403.1,136.9 403.8,137 404.4,137 405.1,137 405.8,137.1 406.5,137.1 407.2,137.1 407.8,137.1 408.5,137.1 409.2,137.1 409.9,137.1 410.6,137.1 411.2,137.1 411.9,137.1 412.6,137.1 413.3,137.1 414,137.1 414.6,137.1 415.3,137.1 416,137 416.7,137 417.4,137 418,137 418.7,136.9 419.4,136.9 420.1,136.9 420.8,136.9 421.4,136.8 422.1,136.8 422.8,136.8 423.5,136.8 424.2,136.7 424.8,136.7 425.5,136.7 426.2,136.7 426.9,136.6 427.6,136.6 428.2,136.6 428.9,136.6 429.6,136.5 430.3,136.5 431,136.5 431.6,136.5 432.3,136.4 433,136.4 433.7,136.4 434.4,136.3 435,136.3 435.7,136.3 436.4,136.2 437.1,136.2 437.8,136.2 438.4,136.1 439.1,136.1 439.8,136.1 440.5,136 441.2,136 441.8,136 442.5,135.9 443.2,135.9 443.9,135.9 444.6,135.8" stroke="#d86a24" stroke-width="0.7" fill="none" stroke-linejoin="round"/>
<path d="M282.1,24.4 282.7,33.8 283.4,43.4 284.1,53.2 284.8,63.1 285.5,72.2 286.1,80.6 286.8,88.2 287.5,94.8 288.2,100.7 288.9,105.2 289.5,108.8 290.2,111.7 290.9,113.3 291.6,114.6 292.3,114.9 292.9,114.7 293.6,114.3 294.3,113.8 295,113.3 295.7,112.7 296.3,112.2 297,111.6 297.7,111 298.4,110.5 299.1,109.9 299.7,109.3 300.4,108.8 301.1,108.2 301.8,107.6 302.5,107.1 303.1,106.5 303.8,105.9 304.5,105.3 305.2,104.7 305.9,104.1 306.5,103.4 307.2,102.7 307.9,102 308.6,101.3 309.3,100.6 309.9,99.9 310.6,99.1 311.3,98.4 312,97.7 312.7,96.9 313.3,96.3 314,95.7 314.7,95 315.4,94.5 316.1,94.2 316.7,94.1 317.4,94.2 318.1,94.6 318.8,95.2 319.5,96 320.1,96.8 320.8,97.7 321.5,98.7 322.2,99.6 322.9,100.7 323.5,101.7 324.2,102.8 324.9,103.9 325.6,105 326.3,106 326.9,107.1 327.6,108 328.3,109 329,110 329.7,111 330.3,111.9 331,112.9 331.7,113.8 332.4,114.7 333.1,115.5 333.7,116.4 334.4,117.1 335.1,117.9 335.8,118.6 336.5,119.3 337.1,120.1 337.8,120.8 338.5,121.5 339.2,122.1 339.9,122.8 340.5,123.4 341.2,123.9 341.9,124.5 342.6,125 343.3,125.4 343.9,125.8 344.6,126.2 345.3,126.6 346,127 346.7,127.3 347.3,127.6 348,127.9 348.7,128.2 349.4,128.5 350,128.8 350.7,129.1 351.4,129.4 352.1,129.6 352.8,129.9 353.4,130.2 354.1,130.4 354.8,130.7 355.5,131 356.2,131.3 356.8,131.5 357.5,131.8 358.2,132 358.9,132.3 359.6,132.5 360.2,132.7 360.9,132.9 361.6,133.1 362.3,133.3 363,133.5 363.6,133.7 364.3,133.8 365,134 365.7,134.1 366.4,134.2 367,134.2 367.7,134.3 368.4,134.3 369.1,134.4 369.8,134.4 370.4,134.5 371.1,134.5 371.8,134.5 372.5,134.5 373.2,134.4 373.8,134.4 374.5,134.3 375.2,134.2 375.9,134.2 376.6,134.1 377.2,134 377.9,133.9 378.6,133.9 379.3,133.8 380,133.8 380.6,133.7 381.3,133.7 382,133.8 382.7,133.8 383.4,133.9 384,134 384.7,134.1 385.4,134.3 386.1,134.4 386.8,134.5 387.4,134.7 388.1,134.8 388.8,134.9 389.5,135 390.2,135.1 390.8,135.3 391.5,135.4 392.2,135.6 392.9,135.7 393.6,135.8 394.2,136 394.9,136.1 395.6,136.2 396.3,136.3 397,136.4 397.6,136.5 398.3,136.6 399,136.6 399.7,136.7 400.4,136.7 401,136.8 401.7,136.8 402.4,136.9 403.1,136.9 403.8,136.9 404.4,137 405.1,137 405.8,137 406.5,137.1 407.2,137.1 407.8,137.1 408.5,137.1 409.2,137.1 409.9,137.1 410.6,137.1 411.2,137.1 411.9,137.1 412.6,137.1 413.3,137.1 414,137.1 414.6,137 415.3,137 416,137 416.7,137 417.4,137 418,136.9 418.7,136.9 419.4,136.9 420.1,136.9 420.8,136.9 421.4,136.8 422.1,136.8 422.8,136.8 423.5,136.8 424.2,136.7 424.8,136.7 425.5,136.7 426.2,136.7 426.9,136.6 427.6,136.6 428.2,136.6 428.9,136.6 429.6,136.5 430.3,136.5 431,136.5 431.6,136.4 432.3,136.4 433,136.4 433.7,136.4 434.4,136.3 435,136.3 435.7,136.3 436.4,136.2 437.1,136.2 437.8,136.2 438.4,136.1 439.1,136.1 439.8,136.1 440.5,136 441.2,136 441.8,136 442.5,135.9 443.2,135.9 443.9,135.9 444.6,135.8" stroke="#d46226" stroke-width="0.7" fill="none" stroke-linejoin="round"/>
<path d="M282.1,24.4 282.7,33.8 283.4,43.4 284.1,53.3 284.8,63.3 285.5,72.3 286.1,80.8 286.8,88.4 287.5,95 288.2,101 288.9,105.6 289.5,109.4 290.2,112.3 290.9,114 291.6,115.3 292.3,115.7 292.9,115.4 293.6,115 294.3,114.4 295,113.9 295.7,113.3 296.3,112.8 297,112.2 297.7,111.6 298.4,111 299.1,110.4 299.7,109.8 300.4,109.3 301.1,108.7 301.8,108.1 302.5,107.6 303.1,107 303.8,106.4 304.5,105.8 305.2,105.2 305.9,104.6 306.5,103.9 307.2,103.2 307.9,102.5 308.6,101.8 309.3,101.1 309.9,100.4 310.6,99.7 311.3,99 312,98.2 312.7,97.5 313.3,96.9 314,96.3 314.7,95.7 315.4,95.2 316.1,94.9 316.7,94.8 317.4,95 318.1,95.4 318.8,96.1 319.5,96.9 320.1,97.8 320.8,98.7 321.5,99.7 322.2,100.7 322.9,101.7 323.5,102.8 324.2,103.9 324.9,105 325.6,106.1 326.3,107.2 326.9,108.2 327.6,109.2 328.3,110.2 329,111.1 329.7,112.1 330.3,113.1 331,114 331.7,114.9 332.4,115.8 333.1,116.7 333.7,117.5 334.4,118.3 335.1,119 335.8,119.7 336.5,120.4 337.1,121.1 337.8,121.8 338.5,122.5 339.2,123.2 339.9,123.8 340.5,124.4 341.2,124.9 341.9,125.5 342.6,125.9 343.3,126.4 343.9,126.8 344.6,127.1 345.3,127.5 346,127.9 346.7,128.2 347.3,128.5 348,128.8 348.7,129.1 349.4,129.4 350,129.6 350.7,129.9 351.4,130.1 352.1,130.4 352.8,130.6 353.4,130.9 354.1,131.1 354.8,131.4 355.5,131.7 356.2,131.9 356.8,132.1 357.5,132.4 358.2,132.6 358.9,132.8 359.6,133 360.2,133.2 360.9,133.4 361.6,133.6 362.3,133.8 363,134 363.6,134.1 364.3,134.3 365,134.4 365.7,134.5 366.4,134.5 367,134.6 367.7,134.6 368.4,134.7 369.1,134.7 369.8,134.7 370.4,134.8 371.1,134.8 371.8,134.8 372.5,134.8 373.2,134.7 373.8,134.7 374.5,134.6 375.2,134.5 375.9,134.4 376.6,134.3 377.2,134.3 377.9,134.2 378.6,134.1 379.3,134.1 380,134 380.6,134 381.3,134 382,134 382.7,134.1 383.4,134.1 384,134.2 384.7,134.3 385.4,134.5 386.1,134.6 386.8,134.7 387.4,134.8 388.1,134.9 388.8,135 389.5,135.2 390.2,135.3 390.8,135.4 391.5,135.5 392.2,135.7 392.9,135.8 393.6,135.9 394.2,136 394.9,136.2 395.6,136.3 396.3,136.3 397,136.4 397.6,136.5 398.3,136.6 399,136.6 399.7,136.7 400.4,136.7 401,136.8 401.7,136.8 402.4,136.9 403.1,136.9 403.8,136.9 404.4,137 405.1,137 405.8,137 406.5,137.1 407.2,137.1 407.8,137.1 408.5,137.1 409.2,137.1 409.9,137.1 410.6,137.1 411.2,137.1 411.9,137.1 412.6,137.1 413.3,137.1 414,137 414.6,137 415.3,137 416,137 416.7,137 417.4,136.9 418,136.9 418.7,136.9 419.4,136.9 420.1,136.9 420.8,136.8 421.4,136.8 422.1,136.8 422.8,136.8 423.5,136.7 424.2,136.7 424.8,136.7 425.5,136.7 426.2,136.6 426.9,136.6 427.6,136.6 428.2,136.6 428.9,136.5 429.6,136.5 430.3,136.5 431,136.5 431.6,136.4 432.3,136.4 433,136.4 433.7,136.4 434.4,136.3 435,136.3 435.7,136.3 436.4,136.2 437.1,136.2 437.8,136.2 438.4,136.1 439.1,136.1 439.8,136.1 440.5,136 441.2,136 441.8,136 442.5,135.9 443.2,135.9 443.9,135.9 444.6,135.8" stroke="#d05a24" stroke-width="0.7" fill="none" stroke-linejoin="round"/>
<path d="M282.1,24.4 282.7,33.9 283.4,43.5 284.1,53.4 284.8,63.4 285.5,72.5 286.1,81 286.8,88.6 287.5,95.3 288.2,101.4 288.9,106.2 289.5,110 290.2,113 290.9,114.9 291.6,116.2 292.3,116.6 292.9,116.3 293.6,115.8 294.3,115.3 295,114.7 295.7,114.1 296.3,113.5 297,112.9 297.7,112.3 298.4,111.7 299.1,111.1 299.7,110.5 300.4,109.9 301.1,109.3 301.8,108.7 302.5,108.1 303.1,107.6 303.8,107 304.5,106.4 305.2,105.8 305.9,105.1 306.5,104.5 307.2,103.8 307.9,103.1 308.6,102.4 309.3,101.7 309.9,101 310.6,100.3 311.3,99.6 312,98.9 312.7,98.3 313.3,97.6 314,97.1 314.7,96.5 315.4,96.1 316.1,95.8 316.7,95.8 317.4,96 318.1,96.5 318.8,97.2 319.5,98 320.1,99 320.8,100 321.5,101 322.2,102 322.9,103.1 323.5,104.2 324.2,105.3 324.9,106.4 325.6,107.6 326.3,108.6 326.9,109.7 327.6,110.7 328.3,111.6 329,112.6 329.7,113.6 330.3,114.5 331,115.4 331.7,116.4 332.4,117.2 333.1,118.1 333.7,118.9 334.4,119.7 335.1,120.4 335.8,121.1 336.5,121.8 337.1,122.5 337.8,123.2 338.5,123.8 339.2,124.5 339.9,125.1 340.5,125.7 341.2,126.2 341.9,126.7 342.6,127.2 343.3,127.6 343.9,127.9 344.6,128.3 345.3,128.6 346,129 346.7,129.3 347.3,129.6 348,129.9 348.7,130.1 349.4,130.4 350,130.6 350.7,130.9 351.4,131.1 352.1,131.3 352.8,131.6 353.4,131.8 354.1,132 354.8,132.2 355.5,132.5 356.2,132.7 356.8,132.9 357.5,133.1 358.2,133.3 358.9,133.5 359.6,133.7 360.2,133.9 360.9,134.1 361.6,134.2 362.3,134.4 363,134.5 363.6,134.7 364.3,134.8 365,134.9 365.7,135 366.4,135 367,135.1 367.7,135.1 368.4,135.1 369.1,135.1 369.8,135.2 370.4,135.2 371.1,135.2 371.8,135.2 372.5,135.1 373.2,135.1 373.8,135 374.5,134.9 375.2,134.8 375.9,134.8 376.6,134.7 377.2,134.6 377.9,134.5 378.6,134.4 379.3,134.4 380,134.3 380.6,134.3 381.3,134.3 382,134.3 382.7,134.4 383.4,134.4 384,134.5 384.7,134.6 385.4,134.7 386.1,134.8 386.8,134.9 387.4,135 388.1,135.1 388.8,135.2 389.5,135.3 390.2,135.4 390.8,135.6 391.5,135.7 392.2,135.8 392.9,135.9 393.6,136 394.2,136.1 394.9,136.2 395.6,136.3 396.3,136.4 397,136.5 397.6,136.5 398.3,136.6 399,136.6 399.7,136.7 400.4,136.7 401,136.8 401.7,136.8 402.4,136.8 403.1,136.9 403.8,136.9 404.4,137 405.1,137 405.8,137 406.5,137 407.2,137 407.8,137.1 408.5,137.1 409.2,137.1 409.9,137.1 410.6,137.1 411.2,137.1 411.9,137 412.6,137 413.3,137 414,137 414.6,137 415.3,137 416,137 416.7,136.9 417.4,136.9 418,136.9 418.7,136.9 419.4,136.9 420.1,136.8 420.8,136.8 421.4,136.8 422.1,136.8 422.8,136.7 423.5,136.7 424.2,136.7 424.8,136.7 425.5,136.6 426.2,136.6 426.9,136.6 427.6,136.6 428.2,136.6 428.9,136.5 429.6,136.5 430.3,136.5 431,136.5 431.6,136.4 432.3,136.4 433,136.4 433.7,136.3 434.4,136.3 435,136.3 435.7,136.3 436.4,136.2 437.1,136.2 437.8,136.2 438.4,136.1 439.1,136.1 439.8,136.1 440.5,136 441.2,136 441.8,136 442.5,135.9 443.2,135.9 443.9,135.9 444.6,135.8" stroke="#c84a10" stroke-width="1.8" fill="none" stroke-linejoin="round"/>
<path d="M282.1,24.4 282.7,33.9 283.4,43.6 284.1,53.5 284.8,63.5 285.5,72.7 286.1,81.1 286.8,88.8 287.5,95.6 288.2,101.8 288.9,106.7 289.5,110.7 290.2,113.8 290.9,115.8 291.6,117.2 292.3,117.5 292.9,117.2 293.6,116.7 294.3,116.1 295,115.5 295.7,114.9 296.3,114.3 297,113.7 297.7,113 298.4,112.4 299.1,111.7 299.7,111.1 300.4,110.5 301.1,109.9 301.8,109.3 302.5,108.7 303.1,108.2 303.8,107.6 304.5,107 305.2,106.4 305.9,105.7 306.5,105.1 307.2,104.4 307.9,103.7 308.6,103.1 309.3,102.4 309.9,101.7 310.6,101 311.3,100.3 312,99.7 312.7,99 313.3,98.4 314,97.8 314.7,97.3 315.4,96.9 316.1,96.8 316.7,96.8 317.4,97 318.1,97.5 318.8,98.3 319.5,99.2 320.1,100.2 320.8,101.2 321.5,102.3 322.2,103.4 322.9,104.4 323.5,105.5 324.2,106.7 324.9,107.8 325.6,109 326.3,110.1 326.9,111.1 327.6,112.1 328.3,113.1 329,114.1 329.7,115 330.3,116 331,116.9 331.7,117.8 332.4,118.7 333.1,119.5 333.7,120.3 334.4,121.1 335.1,121.8 335.8,122.5 336.5,123.2 337.1,123.8 337.8,124.5 338.5,125.2 339.2,125.8 339.9,126.4 340.5,126.9 341.2,127.5 341.9,127.9 342.6,128.4 343.3,128.8 343.9,129.1 344.6,129.5 345.3,129.8 346,130.1 346.7,130.4 347.3,130.7 348,130.9 348.7,131.2 349.4,131.4 350,131.7 350.7,131.9 351.4,132.1 352.1,132.3 352.8,132.5 353.4,132.7 354.1,132.9 354.8,133.1 355.5,133.3 356.2,133.5 356.8,133.7 357.5,133.9 358.2,134.1 358.9,134.2 359.6,134.4 360.2,134.5 360.9,134.7 361.6,134.8 362.3,135 363,135.1 363.6,135.2 364.3,135.3 365,135.4 365.7,135.5 366.4,135.5 367,135.5 367.7,135.5 368.4,135.6 369.1,135.6 369.8,135.6 370.4,135.6 371.1,135.6 371.8,135.5 372.5,135.5 373.2,135.4 373.8,135.4 374.5,135.3 375.2,135.2 375.9,135.1 376.6,135 377.2,134.9 377.9,134.8 378.6,134.7 379.3,134.7 380,134.6 380.6,134.6 381.3,134.6 382,134.6 382.7,134.6 383.4,134.7 384,134.8 384.7,134.9 385.4,135 386.1,135.1 386.8,135.2 387.4,135.3 388.1,135.3 388.8,135.4 389.5,135.5 390.2,135.6 390.8,135.7 391.5,135.8 392.2,135.9 392.9,136 393.6,136.1 394.2,136.2 394.9,136.3 395.6,136.4 396.3,136.4 397,136.5 397.6,136.6 398.3,136.6 399,136.6 399.7,136.7 400.4,136.7 401,136.8 401.7,136.8 402.4,136.8 403.1,136.9 403.8,136.9 404.4,136.9 405.1,137 405.8,137 406.5,137 407.2,137 407.8,137 408.5,137 409.2,137 409.9,137 410.6,137 411.2,137 411.9,137 412.6,137 413.3,137 414,137 414.6,137 415.3,137 416,136.9 416.7,136.9 417.4,136.9 418,136.9 418.7,136.9 419.4,136.8 420.1,136.8 420.8,136.8 421.4,136.8 422.1,136.7 422.8,136.7 423.5,136.7 424.2,136.7 424.8,136.7 425.5,136.6 426.2,136.6 426.9,136.6 427.6,136.6 428.2,136.5 428.9,136.5 429.6,136.5 430.3,136.5 431,136.4 431.6,136.4 432.3,136.4 433,136.4 433.7,136.3 434.4,136.3 435,136.3 435.7,136.3 436.4,136.2 437.1,136.2 437.8,136.2 438.4,136.1 439.1,136.1 439.8,136.1 440.5,136 441.2,136 441.8,136 442.5,135.9 443.2,135.9 443.9,135.9 444.6,135.8" stroke="#cb5026" stroke-width="0.7" fill="none" stroke-linejoin="round"/>
<path d="M282.1,24.4 282.7,34 283.4,43.6 284.1,53.6 284.8,63.7 285.5,72.8 286.1,81.3 286.8,89 287.5,95.9 288.2,102.2 288.9,107.2 289.5,111.3 290.2,114.6 290.9,116.6 291.6,118.1 292.3,118.5 292.9,118.1 293.6,117.5 294.3,116.9 295,116.3 295.7,115.7 296.3,115 297,114.4 297.7,113.7 298.4,113.1 299.1,112.4 299.7,111.8 300.4,111.1 301.1,110.5 301.8,109.9 302.5,109.3 303.1,108.7 303.8,108.2 304.5,107.6 305.2,107 305.9,106.3 306.5,105.7 307.2,105 307.9,104.4 308.6,103.7 309.3,103 309.9,102.3 310.6,101.7 311.3,101 312,100.4 312.7,99.7 313.3,99.1 314,98.6 314.7,98.1 315.4,97.8 316.1,97.7 316.7,97.8 317.4,98 318.1,98.6 318.8,99.4 319.5,100.3 320.1,101.4 320.8,102.5 321.5,103.6 322.2,104.7 322.9,105.8 323.5,106.9 324.2,108.1 324.9,109.2 325.6,110.4 326.3,111.5 326.9,112.5 327.6,113.6 328.3,114.5 329,115.5 329.7,116.5 330.3,117.4 331,118.3 331.7,119.2 332.4,120.1 333.1,120.9 333.7,121.7 334.4,122.4 335.1,123.1 335.8,123.8 336.5,124.5 337.1,125.2 337.8,125.8 338.5,126.5 339.2,127.1 339.9,127.7 340.5,128.2 341.2,128.7 341.9,129.2 342.6,129.6 343.3,130 343.9,130.3 344.6,130.6 345.3,130.9 346,131.2 346.7,131.5 347.3,131.8 348,132 348.7,132.2 349.4,132.5 350,132.7 350.7,132.9 351.4,133 352.1,133.2 352.8,133.4 353.4,133.6 354.1,133.8 354.8,133.9 355.5,134.1 356.2,134.3 356.8,134.5 357.5,134.6 358.2,134.8 358.9,134.9 359.6,135.1 360.2,135.2 360.9,135.3 361.6,135.5 362.3,135.6 363,135.7 363.6,135.8 364.3,135.9 365,135.9 365.7,136 366.4,136 367,136 367.7,136 368.4,136 369.1,136 369.8,136 370.4,136 371.1,136 371.8,135.9 372.5,135.9 373.2,135.8 373.8,135.7 374.5,135.6 375.2,135.5 375.9,135.4 376.6,135.3 377.2,135.2 377.9,135.1 378.6,135.1 379.3,135 380,134.9 380.6,134.9 381.3,134.9 382,134.9 382.7,134.9 383.4,135 384,135.1 384.7,135.1 385.4,135.2 386.1,135.3 386.8,135.4 387.4,135.5 388.1,135.5 388.8,135.6 389.5,135.7 390.2,135.8 390.8,135.9 391.5,136 392.2,136 392.9,136.1 393.6,136.2 394.2,136.3 394.9,136.3 395.6,136.4 396.3,136.5 397,136.5 397.6,136.6 398.3,136.6 399,136.7 399.7,136.7 400.4,136.7 401,136.8 401.7,136.8 402.4,136.8 403.1,136.9 403.8,136.9 404.4,136.9 405.1,136.9 405.8,137 406.5,137 407.2,137 407.8,137 408.5,137 409.2,137 409.9,137 410.6,137 411.2,137 411.9,137 412.6,137 413.3,137 414,137 414.6,136.9 415.3,136.9 416,136.9 416.7,136.9 417.4,136.9 418,136.9 418.7,136.8 419.4,136.8 420.1,136.8 420.8,136.8 421.4,136.7 422.1,136.7 422.8,136.7 423.5,136.7 424.2,136.7 424.8,136.6 425.5,136.6 426.2,136.6 426.9,136.6 427.6,136.5 428.2,136.5 428.9,136.5 429.6,136.5 430.3,136.5 431,136.4 431.6,136.4 432.3,136.4 433,136.4 433.7,136.3 434.4,136.3 435,136.3 435.7,136.2 436.4,136.2 437.1,136.2 437.8,136.2 438.4,136.1 439.1,136.1 439.8,136.1 440.5,136 441.2,136 441.8,136 442.5,135.9 443.2,135.9 443.9,135.9 444.6,135.8" stroke="#c64822" stroke-width="0.7" fill="none" stroke-linejoin="round"/>
<path d="M282.1,24.4 282.7,34 283.4,43.8 284.1,53.9 284.8,64 285.5,73.2 286.1,81.7 286.8,89.5 287.5,96.6 288.2,103.1 288.9,108.5 289.5,112.9 290.2,116.4 290.9,118.7 291.6,120.3 292.3,120.7 292.9,120.3 293.6,119.6 294.3,118.9 295,118.3 295.7,117.6 296.3,116.9 297,116.1 297.7,115.4 298.4,114.7 299.1,114 299.7,113.3 300.4,112.6 301.1,112 301.8,111.4 302.5,110.8 303.1,110.2 303.8,109.6 304.5,109 305.2,108.4 305.9,107.8 306.5,107.1 307.2,106.5 307.9,105.8 308.6,105.2 309.3,104.5 309.9,103.9 310.6,103.3 311.3,102.7 312,102.1 312.7,101.5 313.3,100.9 314,100.5 314.7,100.1 315.4,99.9 316.1,99.9 316.7,100.1 317.4,100.5 318.1,101.1 318.8,102 319.5,103.1 320.1,104.2 320.8,105.5 321.5,106.7 322.2,107.9 322.9,109 323.5,110.2 324.2,111.4 324.9,112.6 325.6,113.8 326.3,114.9 326.9,116 327.6,117 328.3,118 329,119 329.7,119.9 330.3,120.9 331,121.8 331.7,122.7 332.4,123.5 333.1,124.3 333.7,125.1 334.4,125.8 335.1,126.5 335.8,127.1 336.5,127.8 337.1,128.4 337.8,129 338.5,129.6 339.2,130.2 339.9,130.8 340.5,131.3 341.2,131.7 341.9,132.2 342.6,132.5 343.3,132.8 343.9,133.1 344.6,133.4 345.3,133.7 346,133.9 346.7,134.2 347.3,134.4 348,134.6 348.7,134.8 349.4,134.9 350,135.1 350.7,135.2 351.4,135.4 352.1,135.5 352.8,135.6 353.4,135.7 354.1,135.9 354.8,136 355.5,136.1 356.2,136.2 356.8,136.3 357.5,136.4 358.2,136.5 358.9,136.6 359.6,136.7 360.2,136.8 360.9,136.9 361.6,137 362.3,137 363,137.1 363.6,137.1 364.3,137.2 365,137.2 365.7,137.2 366.4,137.2 367,137.1 367.7,137.1 368.4,137.1 369.1,137 369.8,137 370.4,136.9 371.1,136.9 371.8,136.8 372.5,136.7 373.2,136.7 373.8,136.6 374.5,136.4 375.2,136.3 375.9,136.2 376.6,136.1 377.2,136 377.9,135.9 378.6,135.8 379.3,135.7 380,135.7 380.6,135.7 381.3,135.6 382,135.6 382.7,135.6 383.4,135.7 384,135.7 384.7,135.8 385.4,135.8 386.1,135.9 386.8,135.9 387.4,136 388.1,136 388.8,136.1 389.5,136.1 390.2,136.2 390.8,136.2 391.5,136.3 392.2,136.3 392.9,136.4 393.6,136.4 394.2,136.5 394.9,136.5 395.6,136.5 396.3,136.6 397,136.6 397.6,136.6 398.3,136.7 399,136.7 399.7,136.7 400.4,136.7 401,136.8 401.7,136.8 402.4,136.8 403.1,136.8 403.8,136.8 404.4,136.9 405.1,136.9 405.8,136.9 406.5,136.9 407.2,136.9 407.8,136.9 408.5,136.9 409.2,136.9 409.9,136.9 410.6,136.9 411.2,136.9 411.9,136.9 412.6,136.9 413.3,136.9 414,136.9 414.6,136.9 415.3,136.9 416,136.8 416.7,136.8 417.4,136.8 418,136.8 418.7,136.8 419.4,136.8 420.1,136.7 420.8,136.7 421.4,136.7 422.1,136.7 422.8,136.7 423.5,136.6 424.2,136.6 424.8,136.6 425.5,136.6 426.2,136.6 426.9,136.5 427.6,136.5 428.2,136.5 428.9,136.5 429.6,136.4 430.3,136.4 431,136.4 431.6,136.4 432.3,136.4 433,136.3 433.7,136.3 434.4,136.3 435,136.3 435.7,136.2 436.4,136.2 437.1,136.2 437.8,136.1 438.4,136.1 439.1,136.1 439.8,136.1 440.5,136 441.2,136 441.8,136 442.5,135.9 443.2,135.9 443.9,135.9 444.6,135.8" stroke="#b01a34" stroke-width="1.8" fill="none" stroke-linejoin="round"/>
<path d="M282.1,25.4 282.7,35.4 283.4,45.4 284.1,55.9 284.8,66.3 285.5,75.9 286.1,84.8 286.8,93 287.5,100.6 288.2,107.8 288.9,113.7 289.5,118.6 290.2,122.7 290.9,125.2 291.6,127.1 292.3,127.4 292.9,126.8 293.6,125.8 294.3,124.9 295,123.9 295.7,122.9 296.3,121.8 297,120.8 297.7,119.7 298.4,118.7 299.1,117.7 299.7,116.7 300.4,115.8 301.1,115 301.8,114.3 302.5,113.5 303.1,112.8 303.8,112.1 304.5,111.4 305.2,110.8 305.9,110.1 306.5,109.4 307.2,108.7 307.9,108 308.6,107.3 309.3,106.7 309.9,106 310.6,105.4 311.3,104.8 312,104.2 312.7,103.6 313.3,103.1 314,102.7 314.7,102.3 315.4,102.2 316.1,102.3 316.7,102.6 317.4,103.1 318.1,103.8 318.8,104.8 319.5,106 320.1,107.2 320.8,108.5 321.5,109.9 322.2,111.1 322.9,112.3 323.5,113.5 324.2,114.8 324.9,116 325.6,117.2 326.3,118.4 326.9,119.5 327.6,120.5 328.3,121.5 329,122.5 329.7,123.4 330.3,124.4 331,125.3 331.7,126.1 332.4,126.9 333.1,127.7 333.7,128.5 334.4,129.2 335.1,129.8 335.8,130.4 336.5,131 337.1,131.7 337.8,132.2 338.5,132.8 339.2,133.4 339.9,133.9 340.5,134.3 341.2,134.8 341.9,135.1 342.6,135.5 343.3,135.7 343.9,136 344.6,136.2 345.3,136.4 346,136.6 346.7,136.8 347.3,137 348,137.1 348.7,137.3 349.4,137.4 350,137.5 350.7,137.6 351.4,137.7 352.1,137.7 352.8,137.8 353.4,137.9 354.1,137.9 354.8,138 355.5,138.1 356.2,138.1 356.8,138.2 357.5,138.2 358.2,138.3 358.9,138.3 359.6,138.4 360.2,138.4 360.9,138.4 361.6,138.5 362.3,138.5 363,138.5 363.6,138.5 364.3,138.5 365,138.4 365.7,138.4 366.4,138.3 367,138.3 367.7,138.2 368.4,138.1 369.1,138 369.8,138 370.4,137.9 371.1,137.8 371.8,137.7 372.5,137.6 373.2,137.5 373.8,137.4 374.5,137.3 375.2,137.1 375.9,137 376.6,136.9 377.2,136.8 377.9,136.7 378.6,136.6 379.3,136.5 380,136.4 380.6,136.4 381.3,136.4 382,136.4 382.7,136.4 383.4,136.4 384,136.4 384.7,136.4 385.4,136.4 386.1,136.4 386.8,136.5 387.4,136.5 388.1,136.5 388.8,136.5 389.5,136.6 390.2,136.6 390.8,136.6 391.5,136.6 392.2,136.6 392.9,136.6 393.6,136.7 394.2,136.7 394.9,136.7 395.6,136.7 396.3,136.7 397,136.7 397.6,136.7 398.3,136.7 399,136.7 399.7,136.7 400.4,136.7 401,136.8 401.7,136.8 402.4,136.8 403.1,136.8 403.8,136.8 404.4,136.8 405.1,136.8 405.8,136.8 406.5,136.8 407.2,136.8 407.8,136.9 408.5,136.9 409.2,136.9 409.9,136.9 410.6,136.9 411.2,136.8 411.9,136.8 412.6,136.8 413.3,136.8 414,136.8 414.6,136.8 415.3,136.8 416,136.8 416.7,136.8 417.4,136.7 418,136.7 418.7,136.7 419.4,136.7 420.1,136.7 420.8,136.7 421.4,136.6 422.1,136.6 422.8,136.6 423.5,136.6 424.2,136.6 424.8,136.6 425.5,136.5 426.2,136.5 426.9,136.5 427.6,136.5 428.2,136.5 428.9,136.4 429.6,136.4 430.3,136.4 431,136.4 431.6,136.4 432.3,136.3 433,136.3 433.7,136.3 434.4,136.3 435,136.2 435.7,136.2 436.4,136.2 437.1,136.2 437.8,136.1 438.4,136.1 439.1,136.1 439.8,136 440.5,136 441.2,136 441.8,136 442.5,135.9 443.2,135.9 443.9,135.9 444.6,135.8" stroke="#a0229a" stroke-width="0.7" fill="none" stroke-linejoin="round"/>
<path d="M282.1,26.4 282.7,36.7 283.4,47.1 284.1,57.8 284.8,68.6 285.5,78.6 286.1,87.8 286.8,96.5 287.5,104.6 288.2,112.2 288.9,118.7 289.5,124.1 290.2,128.6 290.9,131.4 291.6,133.5 292.3,133.7 292.9,132.9 293.6,131.8 294.3,130.5 295,129.3 295.7,127.9 296.3,126.5 297,125.1 297.7,123.7 298.4,122.4 299.1,121.1 299.7,119.9 300.4,118.8 301.1,117.8 301.8,116.9 302.5,116 303.1,115.2 303.8,114.4 304.5,113.7 305.2,112.9 305.9,112.2 306.5,111.5 307.2,110.7 307.9,110 308.6,109.3 309.3,108.6 309.9,107.9 310.6,107.3 311.3,106.7 312,106.1 312.7,105.5 313.3,105 314,104.6 314.7,104.3 315.4,104.2 316.1,104.4 316.7,104.8 317.4,105.3 318.1,106.1 318.8,107.1 319.5,108.4 320.1,109.7 320.8,111.1 321.5,112.5 322.2,113.8 322.9,115.1 323.5,116.3 324.2,117.6 324.9,118.8 325.6,120.1 326.3,121.3 326.9,122.4 327.6,123.5 328.3,124.4 329,125.4 329.7,126.3 330.3,127.3 331,128.1 331.7,129 332.4,129.8 333.1,130.6 333.7,131.3 334.4,131.9 335.1,132.6 335.8,133.2 336.5,133.8 337.1,134.3 337.8,134.9 338.5,135.5 339.2,136 339.9,136.4 340.5,136.9 341.2,137.3 341.9,137.6 342.6,137.9 343.3,138.1 343.9,138.3 344.6,138.5 345.3,138.7 346,138.9 346.7,139 347.3,139.2 348,139.3 348.7,139.4 349.4,139.5 350,139.5 350.7,139.6 351.4,139.6 352.1,139.6 352.8,139.7 353.4,139.7 354.1,139.7 354.8,139.7 355.5,139.7 356.2,139.7 356.8,139.7 357.5,139.7 358.2,139.7 358.9,139.7 359.6,139.7 360.2,139.7 360.9,139.7 361.6,139.7 362.3,139.7 363,139.6 363.6,139.6 364.3,139.5 365,139.5 365.7,139.4 366.4,139.3 367,139.2 367.7,139.1 368.4,139 369.1,138.9 369.8,138.8 370.4,138.7 371.1,138.6 371.8,138.5 372.5,138.4 373.2,138.2 373.8,138.1 374.5,138 375.2,137.8 375.9,137.7 376.6,137.6 377.2,137.4 377.9,137.3 378.6,137.2 379.3,137.1 380,137.1 380.6,137 381.3,137 382,137 382.7,136.9 383.4,136.9 384,136.9 384.7,136.9 385.4,136.9 386.1,136.9 386.8,136.9 387.4,136.9 388.1,136.9 388.8,136.9 389.5,136.9 390.2,136.9 390.8,136.9 391.5,136.9 392.2,136.9 392.9,136.9 393.6,136.8 394.2,136.8 394.9,136.8 395.6,136.8 396.3,136.8 397,136.7 397.6,136.7 398.3,136.7 399,136.7 399.7,136.7 400.4,136.8 401,136.8 401.7,136.8 402.4,136.8 403.1,136.8 403.8,136.8 404.4,136.8 405.1,136.8 405.8,136.8 406.5,136.8 407.2,136.8 407.8,136.8 408.5,136.8 409.2,136.8 409.9,136.8 410.6,136.8 411.2,136.8 411.9,136.8 412.6,136.8 413.3,136.8 414,136.8 414.6,136.7 415.3,136.7 416,136.7 416.7,136.7 417.4,136.7 418,136.7 418.7,136.7 419.4,136.7 420.1,136.6 420.8,136.6 421.4,136.6 422.1,136.6 422.8,136.6 423.5,136.5 424.2,136.5 424.8,136.5 425.5,136.5 426.2,136.5 426.9,136.5 427.6,136.4 428.2,136.4 428.9,136.4 429.6,136.4 430.3,136.4 431,136.4 431.6,136.3 432.3,136.3 433,136.3 433.7,136.3 434.4,136.2 435,136.2 435.7,136.2 436.4,136.2 437.1,136.1 437.8,136.1 438.4,136.1 439.1,136.1 439.8,136 440.5,136 441.2,136 441.8,135.9 442.5,135.9 443.2,135.9 443.9,135.9 444.6,135.8" stroke="#9424e8" stroke-width="0.7" fill="none" stroke-linejoin="round"/>
<path d="M282.1,27.5 282.7,37.9 283.4,48.6 284.1,59.6 284.8,70.7 285.5,81 286.1,90.6 286.8,99.6 287.5,108.1 288.2,116.1 288.9,122.9 289.5,128.7 290.2,133.4 290.9,136.4 291.6,138.5 292.3,138.8 292.9,137.9 293.6,136.5 294.3,135 295,133.5 295.7,131.8 296.3,130.1 297,128.4 297.7,126.7 298.4,125.1 299.1,123.6 299.7,122.2 300.4,120.9 301.1,119.7 301.8,118.7 302.5,117.7 303.1,116.8 303.8,115.9 304.5,115.1 305.2,114.2 305.9,113.4 306.5,112.7 307.2,111.9 307.9,111.1 308.6,110.3 309.3,109.6 309.9,108.9 310.6,108.2 311.3,107.6 312,107 312.7,106.3 313.3,105.8 314,105.3 314.7,105 315.4,105 316.1,105.2 316.7,105.6 317.4,106.1 318.1,106.9 318.8,107.9 319.5,109.2 320.1,110.5 320.8,112 321.5,113.4 322.2,114.7 322.9,115.9 323.5,117.2 324.2,118.4 324.9,119.7 325.6,120.9 326.3,122.1 326.9,123.3 327.6,124.3 328.3,125.3 329,126.3 329.7,127.2 330.3,128.1 331,129 331.7,129.9 332.4,130.7 333.1,131.4 333.7,132.1 334.4,132.8 335.1,133.4 335.8,134 336.5,134.6 337.1,135.2 337.8,135.7 338.5,136.2 339.2,136.8 339.9,137.2 340.5,137.6 341.2,138 341.9,138.4 342.6,138.6 343.3,138.8 343.9,139 344.6,139.2 345.3,139.4 346,139.5 346.7,139.7 347.3,139.8 348,139.9 348.7,140 349.4,140.1 350,140.1 350.7,140.2 351.4,140.2 352.1,140.2 352.8,140.2 353.4,140.2 354.1,140.2 354.8,140.2 355.5,140.2 356.2,140.2 356.8,140.2 357.5,140.2 358.2,140.2 358.9,140.2 359.6,140.1 360.2,140.1 360.9,140.1 361.6,140.1 362.3,140 363,140 363.6,139.9 364.3,139.9 365,139.8 365.7,139.7 366.4,139.6 367,139.5 367.7,139.4 368.4,139.3 369.1,139.2 369.8,139 370.4,138.9 371.1,138.8 371.8,138.7 372.5,138.6 373.2,138.5 373.8,138.3 374.5,138.2 375.2,138 375.9,137.9 376.6,137.8 377.2,137.6 377.9,137.5 378.6,137.4 379.3,137.3 380,137.2 380.6,137.2 381.3,137.2 382,137.1 382.7,137.1 383.4,137.1 384,137.1 384.7,137.1 385.4,137.1 386.1,137.1 386.8,137.1 387.4,137 388.1,137 388.8,137 389.5,137 390.2,137 390.8,137 391.5,137 392.2,137 392.9,136.9 393.6,136.9 394.2,136.9 394.9,136.8 395.6,136.8 396.3,136.8 397,136.8 397.6,136.8 398.3,136.7 399,136.7 399.7,136.8 400.4,136.8 401,136.8 401.7,136.8 402.4,136.8 403.1,136.8 403.8,136.8 404.4,136.8 405.1,136.8 405.8,136.8 406.5,136.8 407.2,136.8 407.8,136.8 408.5,136.8 409.2,136.8 409.9,136.8 410.6,136.8 411.2,136.8 411.9,136.8 412.6,136.8 413.3,136.7 414,136.7 414.6,136.7 415.3,136.7 416,136.7 416.7,136.7 417.4,136.7 418,136.7 418.7,136.7 419.4,136.6 420.1,136.6 420.8,136.6 421.4,136.6 422.1,136.6 422.8,136.6 423.5,136.5 424.2,136.5 424.8,136.5 425.5,136.5 426.2,136.5 426.9,136.5 427.6,136.4 428.2,136.4 428.9,136.4 429.6,136.4 430.3,136.4 431,136.3 431.6,136.3 432.3,136.3 433,136.3 433.7,136.3 434.4,136.2 435,136.2 435.7,136.2 436.4,136.2 437.1,136.1 437.8,136.1 438.4,136.1 439.1,136.1 439.8,136 440.5,136 441.2,136 441.8,135.9 442.5,135.9 443.2,135.9 443.9,135.9 444.6,135.8" stroke="#8a22f0" stroke-width="0.7" fill="none" stroke-linejoin="round"/>
<path d="M282.1,29.1 282.7,39.8 283.4,50.8 284.1,62.3 284.8,73.8 285.5,84.7 286.1,94.8 286.8,104.3 287.5,113.4 288.2,122 288.9,129.3 289.5,135.5 290.2,140.5 290.9,143.8 291.6,146 292.3,146.2 292.9,145.1 293.6,143.4 294.3,141.6 295,139.7 295.7,137.6 296.3,135.4 297,133.2 297.7,131.1 298.4,129.1 299.1,127.2 299.7,125.5 300.4,123.9 301.1,122.5 301.8,121.2 302.5,120.1 303.1,119 303.8,118 304.5,117 305.2,116.1 305.9,115.2 306.5,114.3 307.2,113.5 307.9,112.6 308.6,111.7 309.3,110.9 309.9,110.1 310.6,109.4 311.3,108.7 312,108.1 312.7,107.4 313.3,106.8 314,106.3 314.7,106 315.4,105.9 316.1,106.1 316.7,106.5 317.4,107 318.1,107.7 318.8,108.8 319.5,110 320.1,111.4 320.8,112.8 321.5,114.3 322.2,115.6 322.9,116.8 323.5,118.1 324.2,119.3 324.9,120.6 325.6,121.8 326.3,123 326.9,124.2 327.6,125.2 328.3,126.2 329,127.2 329.7,128.1 330.3,129 331,129.9 331.7,130.7 332.4,131.5 333.1,132.3 333.7,133 334.4,133.6 335.1,134.2 335.8,134.8 336.5,135.4 337.1,136 337.8,136.5 338.5,137 339.2,137.5 339.9,138 340.5,138.4 341.2,138.8 341.9,139.1 342.6,139.4 343.3,139.6 343.9,139.7 344.6,139.9 345.3,140.1 346,140.2 346.7,140.3 347.3,140.5 348,140.6 348.7,140.7 349.4,140.7 350,140.8 350.7,140.8 351.4,140.8 352.1,140.8 352.8,140.8 353.4,140.7 354.1,140.7 354.8,140.7 355.5,140.7 356.2,140.7 356.8,140.7 357.5,140.6 358.2,140.6 358.9,140.6 359.6,140.5 360.2,140.5 360.9,140.5 361.6,140.4 362.3,140.4 363,140.3 363.6,140.3 364.3,140.2 365,140.1 365.7,140 366.4,139.9 367,139.8 367.7,139.6 368.4,139.5 369.1,139.4 369.8,139.3 370.4,139.2 371.1,139.1 371.8,138.9 372.5,138.8 373.2,138.7 373.8,138.5 374.5,138.4 375.2,138.2 375.9,138.1 376.6,137.9 377.2,137.8 377.9,137.7 378.6,137.6 379.3,137.5 380,137.4 380.6,137.4 381.3,137.3 382,137.3 382.7,137.3 383.4,137.3 384,137.3 384.7,137.2 385.4,137.2 386.1,137.2 386.8,137.2 387.4,137.2 388.1,137.2 388.8,137.1 389.5,137.1 390.2,137.1 390.8,137.1 391.5,137.1 392.2,137 392.9,137 393.6,137 394.2,136.9 394.9,136.9 395.6,136.8 396.3,136.8 397,136.8 397.6,136.8 398.3,136.8 399,136.8 399.7,136.8 400.4,136.8 401,136.8 401.7,136.8 402.4,136.8 403.1,136.8 403.8,136.8 404.4,136.8 405.1,136.8 405.8,136.8 406.5,136.8 407.2,136.8 407.8,136.8 408.5,136.8 409.2,136.8 409.9,136.8 410.6,136.8 411.2,136.7 411.9,136.7 412.6,136.7 413.3,136.7 414,136.7 414.6,136.7 415.3,136.7 416,136.7 416.7,136.7 417.4,136.7 418,136.7 418.7,136.6 419.4,136.6 420.1,136.6 420.8,136.6 421.4,136.6 422.1,136.6 422.8,136.5 423.5,136.5 424.2,136.5 424.8,136.5 425.5,136.5 426.2,136.5 426.9,136.4 427.6,136.4 428.2,136.4 428.9,136.4 429.6,136.4 430.3,136.4 431,136.3 431.6,136.3 432.3,136.3 433,136.3 433.7,136.3 434.4,136.2 435,136.2 435.7,136.2 436.4,136.2 437.1,136.1 437.8,136.1 438.4,136.1 439.1,136.1 439.8,136 440.5,136 441.2,136 441.8,135.9 442.5,135.9 443.2,135.9 443.9,135.9 444.6,135.8" stroke="#8020ea" stroke-width="0.7" fill="none" stroke-linejoin="round"/>
<path d="M282.1,24.4 282.7,34.3 283.4,44.2 284.1,54.5 284.8,64.7 285.5,74.1 286.1,82.7 286.8,90.7 287.5,98.3 288.2,105.4 288.9,111.4 289.5,116.5 290.2,120.8 290.9,123.5 291.6,125.5 292.3,125.9 292.9,125.3 293.6,124.4 294.3,123.6 295,122.8 295.7,122 296.3,121.1 297,120.2 297.7,119.4 298.4,118.5 299.1,117.7 299.7,116.9 300.4,116.1 301.1,115.4 301.8,114.8 302.5,114.1 303.1,113.5 303.8,112.9 304.5,112.3 305.2,111.7 305.9,111.1 306.5,110.5 307.2,109.9 307.9,109.2 308.6,108.6 309.3,108.1 309.9,107.5 310.6,107 311.3,106.5 312,106.1 312.7,105.6 313.3,105.2 314,104.8 314.7,104.7 315.4,104.7 316.1,105 316.7,105.6 317.4,106.2 318.1,107 318.8,108.2 319.5,109.5 320.1,111 320.8,112.4 321.5,113.9 322.2,115.3 322.9,116.6 323.5,117.9 324.2,119.2 324.9,120.4 325.6,121.7 326.3,122.9 326.9,124.1 327.6,125.2 328.3,126.2 329,127.1 329.7,128.1 330.3,129 331,129.9 331.7,130.7 332.4,131.5 333.1,132.3 333.7,133 334.4,133.6 335.1,134.2 335.8,134.8 336.5,135.4 337.1,136 337.8,136.5 338.5,137 339.2,137.5 339.9,138 340.5,138.4 341.2,138.8 341.9,139.1 342.6,139.4 343.3,139.6 343.9,139.7 344.6,139.9 345.3,140.1 346,140.2 346.7,140.3 347.3,140.5 348,140.6 348.7,140.7 349.4,140.7 350,140.8 350.7,140.8 351.4,140.8 352.1,140.8 352.8,140.8 353.4,140.7 354.1,140.7 354.8,140.7 355.5,140.7 356.2,140.7 356.8,140.7 357.5,140.6 358.2,140.6 358.9,140.6 359.6,140.5 360.2,140.5 360.9,140.5 361.6,140.4 362.3,140.4 363,140.3 363.6,140.3 364.3,140.2 365,140.1 365.7,140 366.4,139.9 367,139.8 367.7,139.6 368.4,139.5 369.1,139.4 369.8,139.3 370.4,139.2 371.1,139.1 371.8,138.9 372.5,138.8 373.2,138.7 373.8,138.5 374.5,138.4 375.2,138.2 375.9,138.1 376.6,137.9 377.2,137.8 377.9,137.7 378.6,137.6 379.3,137.5 380,137.4 380.6,137.4 381.3,137.3 382,137.3 382.7,137.3 383.4,137.3 384,137.3 384.7,137.2 385.4,137.2 386.1,137.2 386.8,137.2 387.4,137.2 388.1,137.2 388.8,137.1 389.5,137.1 390.2,137.1 390.8,137.1 391.5,137.1 392.2,137 392.9,137 393.6,137 394.2,136.9 394.9,136.9 395.6,136.8 396.3,136.8 397,136.8 397.6,136.8 398.3,136.8 399,136.8 399.7,136.8 400.4,136.8 401,136.8 401.7,136.8 402.4,136.8 403.1,136.8 403.8,136.8 404.4,136.8 405.1,136.8 405.8,136.8 406.5,136.8 407.2,136.8 407.8,136.8 408.5,136.8 409.2,136.8 409.9,136.8 410.6,136.8 411.2,136.7 411.9,136.7 412.6,136.7 413.3,136.7 414,136.7 414.6,136.7 415.3,136.7 416,136.7 416.7,136.7 417.4,136.7 418,136.7 418.7,136.6 419.4,136.6 420.1,136.6 420.8,136.6 421.4,136.6 422.1,136.6 422.8,136.5 423.5,136.5 424.2,136.5 424.8,136.5 425.5,136.5 426.2,136.5 426.9,136.4 427.6,136.4 428.2,136.4 428.9,136.4 429.6,136.4 430.3,136.4 431,136.3 431.6,136.3 432.3,136.3 433,136.3 433.7,136.3 434.4,136.2 435,136.2 435.7,136.2 436.4,136.2 437.1,136.1 437.8,136.1 438.4,136.1 439.1,136.1 439.8,136 440.5,136 441.2,136 441.8,135.9 442.5,135.9 443.2,135.9 443.9,135.9 444.6,135.8" stroke="#4b0a80" stroke-width="1.9" fill="none" stroke-linejoin="round"/>
<path d="M282.1,24.4 282.7,33.9 283.4,43.5 284.1,53.4 284.8,63.4 285.5,72.5 286.1,81 286.8,88.6" stroke="#f0a400" stroke-width="1.2" fill="none" stroke-linejoin="round"/>
<path d="M281.6,24.4 282.3,33.9 283,43.5 283.7,53.4 284.3,63.4 285,72.5 285.7,81 286.4,88.6" stroke="#cc4a12" stroke-width="2.2" fill="none" stroke-linejoin="round"/>
</g>
<path d="M317.3,63.6V71.9" stroke="#f0a400" stroke-width="1.3" fill="none"/>
<path d="M314.5,69.8L317.3,74.4L320.1,69.8L317.3,71.8Z" fill="#f0a400" stroke="#f0a400" stroke-width="0.5" stroke-linejoin="round"/>
<path d="M315.5,63.6V71.9" stroke="#c84a10" stroke-width="1.3" fill="none"/>
<path d="M312.7,69.8L315.5,74.4L318.3,69.8L315.5,71.8Z" fill="#c84a10" stroke="#c84a10" stroke-width="0.5" stroke-linejoin="round"/>
<path d="M313.6,63.6V71.9" stroke="#8a00ff" stroke-width="1.3" fill="none"/>
<path d="M310.8,69.8L313.6,74.4L316.4,69.8L313.6,71.8Z" fill="#8a00ff" stroke="#8a00ff" stroke-width="0.5" stroke-linejoin="round"/>
<path d="M267.55,154.35v-3.5M267.55,0.55v3.5M311.8,154.35v-3.5M311.8,0.55v3.5M356.05,154.35v-3.5M356.05,0.55v3.5M400.3,154.35v-3.5M400.3,0.55v3.5M444.55,154.35v-3.5M444.55,0.55v3.5M289.68,154.35v-2M289.68,0.55v2M333.93,154.35v-2M333.93,0.55v2M378.18,154.35v-2M378.18,0.55v2M422.43,154.35v-2M422.43,0.55v2M267.55,139.22h3.5M444.55,139.22h-3.5M267.55,108.35h3.5M444.55,108.35h-3.5M267.55,77.47h3.5M444.55,77.47h-3.5M267.55,46.6h3.5M444.55,46.6h-3.5M267.55,15.72h3.5M444.55,15.72h-3.5" stroke="#1a9a96" stroke-width="1" fill="none"/>
<rect x="267.55" y="0.55" width="177" height="153.8" fill="none" stroke="#1a9a96" stroke-width="1.1"/>
<text x="263.85" y="143.62" font-size="11.77" text-anchor="end" fill="#000" textLength="7.06" lengthAdjust="spacingAndGlyphs">1</text>
<text x="263.85" y="112.75" font-size="11.77" text-anchor="end" fill="#000" textLength="7.06" lengthAdjust="spacingAndGlyphs">2</text>
<text x="263.85" y="81.88" font-size="11.77" text-anchor="end" fill="#000" textLength="7.06" lengthAdjust="spacingAndGlyphs">3</text>
<text x="263.85" y="51" font-size="11.77" text-anchor="end" fill="#000" textLength="7.06" lengthAdjust="spacingAndGlyphs">4</text>
<text x="263.85" y="20.12" font-size="11.77" text-anchor="end" fill="#000" textLength="7.06" lengthAdjust="spacingAndGlyphs">5</text>
<text x="271.8" y="10.9" font-size="11.77" text-anchor="start" fill="#000" textLength="15.71" lengthAdjust="spacingAndGlyphs">(b)</text>
<rect x="356.55" y="6.15" width="82.25" height="73.45" fill="#fff"/>
<path d="M356.55,11.9 L368.3,23.03 L380.05,37.73 L387.1,47.6 L391.8,52.43 L396.5,57.68 L403.55,73.01 L408.25,65.24 L415.3,72.8 L420,72.8 L427.05,74.9 L436.45,77.63" stroke="#cfcfcf" stroke-width="1.6" fill="none"/>
<circle cx="356.55" cy="11.9" r="2.25" fill="#cfcfcf"/>
<circle cx="368.3" cy="23.03" r="2.25" fill="#cfcfcf"/>
<circle cx="380.05" cy="37.73" r="2.25" fill="#cfcfcf"/>
<circle cx="387.1" cy="47.6" r="2.25" fill="#cfcfcf"/>
<circle cx="391.8" cy="52.43" r="2.25" fill="#cfcfcf"/>
<circle cx="396.5" cy="57.68" r="2.25" fill="#cfcfcf"/>
<circle cx="403.55" cy="73.01" r="2.25" fill="#cfcfcf"/>
<circle cx="408.25" cy="65.24" r="2.25" fill="#cfcfcf"/>
<circle cx="415.3" cy="72.8" r="2.25" fill="#cfcfcf"/>
<circle cx="420" cy="72.8" r="2.25" fill="#cfcfcf"/>
<circle cx="427.05" cy="74.9" r="2.25" fill="#cfcfcf"/>
<circle cx="436.45" cy="77.63" r="2.25" fill="#cfcfcf"/>
<path d="M358.9,11.48 L361.25,13.58 L363.6,16.52 L365.95,19.88 L368.3,21.98 L370.65,25.55 L373,26.6 L375.35,30.8 L377.7,33.95 L380.05,37.52 L382.4,41.72 L384.75,45.5 L387.1,50.54 L389.45,56 L391.8,62.3 L394.15,65.24" stroke="#808080" stroke-width="1.6" fill="none"/>
<circle cx="358.9" cy="11.48" r="2.25" fill="#808080"/>
<circle cx="361.25" cy="13.58" r="2.25" fill="#808080"/>
<circle cx="363.6" cy="16.52" r="2.25" fill="#808080"/>
<circle cx="365.95" cy="19.88" r="2.25" fill="#808080"/>
<circle cx="368.3" cy="21.98" r="2.25" fill="#808080"/>
<circle cx="370.65" cy="25.55" r="2.25" fill="#808080"/>
<circle cx="373" cy="26.6" r="2.25" fill="#808080"/>
<circle cx="375.35" cy="30.8" r="2.25" fill="#808080"/>
<circle cx="377.7" cy="33.95" r="2.25" fill="#808080"/>
<circle cx="380.05" cy="37.52" r="2.25" fill="#808080"/>
<circle cx="382.4" cy="41.72" r="2.25" fill="#808080"/>
<circle cx="384.75" cy="45.5" r="2.25" fill="#808080"/>
<circle cx="387.1" cy="50.54" r="2.25" fill="#808080"/>
<circle cx="389.45" cy="56" r="2.25" fill="#808080"/>
<circle cx="391.8" cy="62.3" r="2.25" fill="#808080"/>
<circle cx="394.15" cy="65.24" r="2.25" fill="#808080"/>
<path d="M386.3,19.4H408" stroke="#cfcfcf" stroke-width="1.6"/><circle cx="397.1" cy="19.4" r="2.25" fill="#cfcfcf"/>
<path d="M386.3,34.6H408" stroke="#808080" stroke-width="1.6"/><circle cx="397.1" cy="34.6" r="2.25" fill="#808080"/>
<text x="416.3" y="23.2" font-size="10.71" text-anchor="start" fill="#000" textLength="13.4" lengthAdjust="spacingAndGlyphs">HF</text>
<text x="416.3" y="38.4" font-size="10.71" text-anchor="start" fill="#000" textLength="13.46" lengthAdjust="spacingAndGlyphs">SC</text>
<path d="M356.55,79.6v-3.5M356.55,6.15v3.5M380.05,79.6v-3.5M380.05,6.15v3.5M403.55,79.6v-3.5M403.55,6.15v3.5M427.05,79.6v-3.5M427.05,6.15v3.5M356.55,79.1h3.5M438.8,79.1h-3.5M356.55,58.1h3.5M438.8,58.1h-3.5M356.55,37.1h3.5M438.8,37.1h-3.5M356.55,16.1h3.5M438.8,16.1h-3.5" stroke="#222" stroke-width="1" fill="none"/>
<rect x="356.55" y="6.15" width="82.25" height="73.45" fill="none" stroke="#222" stroke-width="1.15"/>
<text x="352.45" y="83.5" font-size="11.45" text-anchor="end" fill="#000" textLength="13.74" lengthAdjust="spacingAndGlyphs">26</text>
<text x="352.45" y="62.5" font-size="11.45" text-anchor="end" fill="#000" textLength="13.74" lengthAdjust="spacingAndGlyphs">27</text>
<text x="352.45" y="41.5" font-size="11.45" text-anchor="end" fill="#000" textLength="13.74" lengthAdjust="spacingAndGlyphs">28</text>
<text x="352.45" y="20.5" font-size="11.45" text-anchor="end" fill="#000" textLength="13.74" lengthAdjust="spacingAndGlyphs">29</text>
<text x="356.55" y="91.6" font-size="11.45" text-anchor="middle" fill="#000" textLength="6.87" lengthAdjust="spacingAndGlyphs">0</text>
<text x="380.05" y="91.6" font-size="11.45" text-anchor="middle" fill="#000" textLength="13.74" lengthAdjust="spacingAndGlyphs">10</text>
<text x="403.55" y="91.6" font-size="11.45" text-anchor="middle" fill="#000" textLength="13.74" lengthAdjust="spacingAndGlyphs">20</text>
<text x="427.05" y="91.6" font-size="11.45" text-anchor="middle" fill="#000" textLength="13.74" lengthAdjust="spacingAndGlyphs">30</text>
<text x="397.88" y="106" font-size="10.71" text-anchor="middle" fill="#000" textLength="90.03" lengthAdjust="spacingAndGlyphs">Magnetic Field (T)</text>
<text transform="translate(333.4,42.7) rotate(-90)" font-size="11.4" text-anchor="middle" textLength="80" lengthAdjust="spacingAndGlyphs">Peak Pos. (meV)</text>
<text transform="translate(248.7,77.6) rotate(-90)" font-size="11.6" text-anchor="middle" textLength="103.5" lengthAdjust="spacingAndGlyphs"><tspan font-style="italic">σ</tspan><tspan font-size="8.5" font-style="italic" dy="2.6">xx</tspan><tspan dy="-2.6"> (10</tspan><tspan font-size="8.5" dy="-4.2">3</tspan><tspan dy="4.2"> Ω</tspan><tspan font-size="8.5" dy="-4.2">−1</tspan><tspan dy="4.2">cm</tspan><tspan font-size="8.5" dy="-4.2">−1</tspan><tspan dy="4.2">)</tspan></text>
<clipPath id="ce"><rect x="267.55" y="162.3" width="177" height="153.9"/></clipPath>
<g clip-path="url(#ce)">
<path d="M282.1,173.9 282.7,180.5 283.4,187.2 284.1,194 284.8,200.9 285.5,207.9 286.1,214.7 286.8,221.5 287.5,228.1 288.2,233.9 288.9,239 289.5,243.5 290.2,247.4 290.9,250.9 291.6,253.8 292.3,256.3 292.9,258.4 293.6,260.1 294.3,261.6 295,262.7 295.7,263.9 296.3,264.8 297,265.4 297.7,265.4 298.4,265.2 299.1,264.9 299.7,264.5 300.4,264.1 301.1,263.7 301.8,263.3 302.5,262.9 303.1,262.5 303.8,262 304.5,261.6 305.2,261.1 305.9,260.6 306.5,260 307.2,259.5 307.9,258.8 308.6,258.1 309.3,257.3 309.9,256.3 310.6,255.4 311.3,254.4 312,253.5 312.7,252.7 313.3,251.9 314,251.1 314.7,250.2 315.4,249.4 316.1,248.8 316.7,248.4 317.4,248.3 318.1,248.5 318.8,248.8 319.5,249.2 320.1,249.6 320.8,250.1 321.5,250.7 322.2,251.4 322.9,252.2 323.5,253 324.2,253.9 324.9,254.7 325.6,255.6 326.3,256.4 326.9,257.2 327.6,258.1 328.3,258.9 329,259.8 329.7,260.7 330.3,261.5 331,262.4 331.7,263.2 332.4,264 333.1,264.9 333.7,265.7 334.4,266.5 335.1,267.4 335.8,268.2 336.5,269 337.1,269.8 337.8,270.6 338.5,271.4 339.2,272.1 339.9,272.8 340.5,273.4 341.2,274 341.9,274.5 342.6,275 343.3,275.4 343.9,275.9 344.6,276.5 345.3,277 346,277.7 346.7,278.3 347.3,279.1 348,279.8 348.7,280.6 349.4,281.4 350,282.2 350.7,282.9 351.4,283.7 352.1,284.5 352.8,285.2 353.4,286 354.1,286.7 354.8,287.5 355.5,288.2 356.2,288.9 356.8,289.6 357.5,290.2 358.2,290.8 358.9,291.5 359.6,292.1 360.2,292.7 360.9,293.3 361.6,293.8 362.3,294.3 363,294.7 363.6,294.9 364.3,295.1 365,295.3 365.7,295.4 366.4,295.5 367,295.7 367.7,295.8 368.4,295.9 369.1,295.9 369.8,295.9 370.4,295.9 371.1,295.9 371.8,295.8 372.5,295.7 373.2,295.6 373.8,295.4 374.5,295.3 375.2,295.1 375.9,294.9 376.6,294.8 377.2,294.7 377.9,294.6 378.6,294.6 379.3,294.5 380,294.4 380.6,294.3 381.3,294.2 382,294.2 382.7,294.1 383.4,294.1 384,294.1 384.7,294.1 385.4,294.2 386.1,294.4 386.8,294.6 387.4,294.8 388.1,295.1 388.8,295.3 389.5,295.6 390.2,295.8 390.8,296.1 391.5,296.3 392.2,296.5 392.9,296.7 393.6,296.9 394.2,297.1 394.9,297.3 395.6,297.5 396.3,297.6 397,297.8 397.6,298 398.3,298.1 399,298.2 399.7,298.3 400.4,298.4 401,298.5 401.7,298.5 402.4,298.6 403.1,298.6 403.8,298.7 404.4,298.7 405.1,298.8 405.8,298.8 406.5,298.9 407.2,298.9 407.8,298.9 408.5,298.9 409.2,299 409.9,299 410.6,299 411.2,299 411.9,299 412.6,299 413.3,299 414,299 414.6,299 415.3,299 416,299 416.7,299 417.4,299 418,299 418.7,298.9 419.4,298.9 420.1,298.9 420.8,298.9 421.4,298.9 422.1,298.9 422.8,298.8 423.5,298.8 424.2,298.8 424.8,298.8 425.5,298.8 426.2,298.7 426.9,298.7 427.6,298.7 428.2,298.7 428.9,298.6 429.6,298.6 430.3,298.6 431,298.6 431.6,298.5 432.3,298.5 433,298.5 433.7,298.4 434.4,298.4 435,298.4 435.7,298.3 436.4,298.3 437.1,298.3 437.8,298.2 438.4,298.2 439.1,298.1 439.8,298.1 440.5,298.1 441.2,298 441.8,298 442.5,297.9 443.2,297.9 443.9,297.8 444.6,297.8" stroke="#ffe600" stroke-width="0.75" fill="none" stroke-linejoin="round"/>
<path d="M282.1,173.9 282.7,180.5 283.4,187.3 284.1,194.1 284.8,201.1 285.5,208.1 286.1,214.9 286.8,221.6 287.5,228.2 288.2,234 288.9,239.1 289.5,243.6 290.2,247.4 290.9,250.8 291.6,253.7 292.3,256.1 292.9,258.2 293.6,259.8 294.3,261.3 295,262.4 295.7,263.5 296.3,264.4 297,265 297.7,265 298.4,264.8 299.1,264.4 299.7,264 300.4,263.6 301.1,263.2 301.8,262.8 302.5,262.4 303.1,262 303.8,261.5 304.5,261.1 305.2,260.6 305.9,260.1 306.5,259.6 307.2,259 307.9,258.4 308.6,257.7 309.3,256.8 309.9,256 310.6,255.1 311.3,254.2 312,253.3 312.7,252.6 313.3,251.9 314,251.1 314.7,250.3 315.4,249.6 316.1,249 316.7,248.7 317.4,248.7 318.1,248.9 318.8,249.2 319.5,249.7 320.1,250.1 320.8,250.6 321.5,251.2 322.2,252 322.9,252.8 323.5,253.6 324.2,254.5 324.9,255.4 325.6,256.2 326.3,257 326.9,257.8 327.6,258.7 328.3,259.6 329,260.4 329.7,261.3 330.3,262.1 331,263 331.7,263.8 332.4,264.6 333.1,265.4 333.7,266.2 334.4,267.1 335.1,267.9 335.8,268.7 336.5,269.5 337.1,270.3 337.8,271 338.5,271.8 339.2,272.5 339.9,273.2 340.5,273.8 341.2,274.3 341.9,274.8 342.6,275.3 343.3,275.8 343.9,276.3 344.6,276.8 345.3,277.4 346,278 346.7,278.7 347.3,279.4 348,280.1 348.7,280.8 349.4,281.6 350,282.4 350.7,283.2 351.4,283.9 352.1,284.7 352.8,285.4 353.4,286.1 354.1,286.9 354.8,287.6 355.5,288.4 356.2,289 356.8,289.7 357.5,290.3 358.2,290.9 358.9,291.6 359.6,292.2 360.2,292.8 360.9,293.4 361.6,293.9 362.3,294.3 363,294.7 363.6,295 364.3,295.2 365,295.3 365.7,295.4 366.4,295.6 367,295.7 367.7,295.8 368.4,295.9 369.1,295.9 369.8,296 370.4,296 371.1,295.9 371.8,295.8 372.5,295.7 373.2,295.6 373.8,295.4 374.5,295.3 375.2,295.1 375.9,295 376.6,294.8 377.2,294.7 377.9,294.7 378.6,294.6 379.3,294.5 380,294.4 380.6,294.3 381.3,294.3 382,294.2 382.7,294.2 383.4,294.1 384,294.1 384.7,294.2 385.4,294.3 386.1,294.4 386.8,294.6 387.4,294.8 388.1,295.1 388.8,295.4 389.5,295.6 390.2,295.9 390.8,296.1 391.5,296.3 392.2,296.5 392.9,296.7 393.6,296.9 394.2,297.1 394.9,297.3 395.6,297.5 396.3,297.7 397,297.8 397.6,298 398.3,298.1 399,298.3 399.7,298.4 400.4,298.4 401,298.5 401.7,298.5 402.4,298.6 403.1,298.6 403.8,298.7 404.4,298.7 405.1,298.8 405.8,298.8 406.5,298.9 407.2,298.9 407.8,298.9 408.5,299 409.2,299 409.9,299 410.6,299 411.2,299 411.9,299 412.6,299 413.3,299 414,299 414.6,299 415.3,299 416,299 416.7,299 417.4,299 418,299 418.7,299 419.4,298.9 420.1,298.9 420.8,298.9 421.4,298.9 422.1,298.9 422.8,298.8 423.5,298.8 424.2,298.8 424.8,298.8 425.5,298.8 426.2,298.7 426.9,298.7 427.6,298.7 428.2,298.7 428.9,298.6 429.6,298.6 430.3,298.6 431,298.6 431.6,298.5 432.3,298.5 433,298.5 433.7,298.4 434.4,298.4 435,298.4 435.7,298.3 436.4,298.3 437.1,298.3 437.8,298.2 438.4,298.2 439.1,298.1 439.8,298.1 440.5,298.1 441.2,298 441.8,298 442.5,297.9 443.2,297.9 443.9,297.8 444.6,297.8" stroke="#fcd200" stroke-width="0.75" fill="none" stroke-linejoin="round"/>
<path d="M282.1,173.9 282.7,180.6 283.4,187.4 284.1,194.3 284.8,201.4 285.5,208.4 286.1,215.2 286.8,221.9 287.5,228.3 288.2,234.1 288.9,239.1 289.5,243.6 290.2,247.4 290.9,250.7 291.6,253.5 292.3,255.9 292.9,257.9 293.6,259.5 294.3,260.8 295,261.9 295.7,263 296.3,263.9 297,264.4 297.7,264.4 298.4,264.1 299.1,263.8 299.7,263.4 300.4,262.9 301.1,262.5 301.8,262.1 302.5,261.7 303.1,261.3 303.8,260.9 304.5,260.4 305.2,260 305.9,259.5 306.5,259 307.2,258.4 307.9,257.8 308.6,257.1 309.3,256.3 309.9,255.5 310.6,254.7 311.3,253.8 312,253 312.7,252.4 313.3,251.7 314,251.1 314.7,250.4 315.4,249.8 316.1,249.3 316.7,249.1 317.4,249.1 318.1,249.4 318.8,249.8 319.5,250.3 320.1,250.8 320.8,251.3 321.5,252 322.2,252.7 322.9,253.5 323.5,254.4 324.2,255.3 324.9,256.2 325.6,257 326.3,257.8 326.9,258.6 327.6,259.5 328.3,260.3 329,261.2 329.7,262.1 330.3,262.9 331,263.7 331.7,264.5 332.4,265.3 333.1,266.1 333.7,266.9 334.4,267.7 335.1,268.5 335.8,269.3 336.5,270.1 337.1,270.9 337.8,271.6 338.5,272.3 339.2,273 339.9,273.7 340.5,274.3 341.2,274.8 341.9,275.3 342.6,275.8 343.3,276.3 343.9,276.7 344.6,277.2 345.3,277.8 346,278.4 346.7,279 347.3,279.7 348,280.4 348.7,281.2 349.4,281.9 350,282.7 350.7,283.4 351.4,284.2 352.1,284.9 352.8,285.6 353.4,286.4 354.1,287.1 354.8,287.8 355.5,288.5 356.2,289.2 356.8,289.8 357.5,290.4 358.2,291.1 358.9,291.7 359.6,292.3 360.2,292.9 360.9,293.4 361.6,294 362.3,294.4 363,294.8 363.6,295 364.3,295.2 365,295.4 365.7,295.5 366.4,295.6 367,295.7 367.7,295.8 368.4,295.9 369.1,296 369.8,296 370.4,296 371.1,295.9 371.8,295.9 372.5,295.7 373.2,295.6 373.8,295.5 374.5,295.3 375.2,295.1 375.9,295 376.6,294.9 377.2,294.8 377.9,294.7 378.6,294.6 379.3,294.5 380,294.4 380.6,294.3 381.3,294.3 382,294.2 382.7,294.2 383.4,294.1 384,294.1 384.7,294.2 385.4,294.3 386.1,294.4 386.8,294.6 387.4,294.9 388.1,295.1 388.8,295.4 389.5,295.6 390.2,295.9 390.8,296.1 391.5,296.3 392.2,296.5 392.9,296.7 393.6,296.9 394.2,297.1 394.9,297.3 395.6,297.5 396.3,297.7 397,297.8 397.6,298 398.3,298.1 399,298.3 399.7,298.4 400.4,298.4 401,298.5 401.7,298.5 402.4,298.6 403.1,298.7 403.8,298.7 404.4,298.7 405.1,298.8 405.8,298.8 406.5,298.9 407.2,298.9 407.8,298.9 408.5,299 409.2,299 409.9,299 410.6,299 411.2,299 411.9,299 412.6,299 413.3,299 414,299 414.6,299 415.3,299 416,299 416.7,299 417.4,299 418,299 418.7,299 419.4,298.9 420.1,298.9 420.8,298.9 421.4,298.9 422.1,298.9 422.8,298.8 423.5,298.8 424.2,298.8 424.8,298.8 425.5,298.8 426.2,298.7 426.9,298.7 427.6,298.7 428.2,298.7 428.9,298.6 429.6,298.6 430.3,298.6 431,298.6 431.6,298.5 432.3,298.5 433,298.5 433.7,298.4 434.4,298.4 435,298.4 435.7,298.3 436.4,298.3 437.1,298.3 437.8,298.2 438.4,298.2 439.1,298.1 439.8,298.1 440.5,298.1 441.2,298 441.8,298 442.5,297.9 443.2,297.9 443.9,297.8 444.6,297.8" stroke="#f8c000" stroke-width="0.75" fill="none" stroke-linejoin="round"/>
<path d="M282.1,173.9 282.7,180.7 283.4,187.6 284.1,194.6 284.8,201.7 285.5,208.7 286.1,215.5 286.8,222.1 287.5,228.5 288.2,234.3 288.9,239.2 289.5,243.6 290.2,247.4 290.9,250.6 291.6,253.3 292.3,255.6 292.9,257.6 293.6,259.1 294.3,260.4 295,261.4 295.7,262.4 296.3,263.2 297,263.7 297.7,263.6 298.4,263.4 299.1,263.1 299.7,262.6 300.4,262.2 301.1,261.8 301.8,261.4 302.5,261 303.1,260.6 303.8,260.1 304.5,259.7 305.2,259.2 305.9,258.7 306.5,258.2 307.2,257.7 307.9,257.1 308.6,256.4 309.3,255.7 309.9,254.9 310.6,254.2 311.3,253.4 312,252.7 312.7,252.1 313.3,251.6 314,251.1 314.7,250.5 315.4,250 316.1,249.7 316.7,249.5 317.4,249.7 318.1,250 318.8,250.5 319.5,251 320.1,251.6 320.8,252.2 321.5,252.8 322.2,253.6 322.9,254.5 323.5,255.4 324.2,256.2 324.9,257.1 325.6,257.9 326.3,258.8 326.9,259.6 327.6,260.4 328.3,261.3 329,262.1 329.7,263 330.3,263.8 331,264.6 331.7,265.4 332.4,266.2 333.1,267 333.7,267.7 334.4,268.5 335.1,269.3 335.8,270.1 336.5,270.8 337.1,271.6 337.8,272.3 338.5,273 339.2,273.6 339.9,274.3 340.5,274.9 341.2,275.4 341.9,275.9 342.6,276.3 343.3,276.8 343.9,277.3 344.6,277.7 345.3,278.3 346,278.9 346.7,279.5 347.3,280.2 348,280.9 348.7,281.6 349.4,282.3 350,283 350.7,283.8 351.4,284.5 352.1,285.2 352.8,285.9 353.4,286.6 354.1,287.3 354.8,288 355.5,288.7 356.2,289.4 356.8,290 357.5,290.6 358.2,291.2 358.9,291.8 359.6,292.4 360.2,293 360.9,293.6 361.6,294.1 362.3,294.5 363,294.8 363.6,295.1 364.3,295.3 365,295.4 365.7,295.5 366.4,295.7 367,295.8 367.7,295.9 368.4,295.9 369.1,296 369.8,296 370.4,296 371.1,296 371.8,295.9 372.5,295.8 373.2,295.6 373.8,295.5 374.5,295.3 375.2,295.2 375.9,295 376.6,294.9 377.2,294.8 377.9,294.7 378.6,294.6 379.3,294.5 380,294.4 380.6,294.4 381.3,294.3 382,294.2 382.7,294.2 383.4,294.2 384,294.2 384.7,294.2 385.4,294.3 386.1,294.5 386.8,294.7 387.4,294.9 388.1,295.1 388.8,295.4 389.5,295.7 390.2,295.9 390.8,296.1 391.5,296.3 392.2,296.5 392.9,296.7 393.6,296.9 394.2,297.1 394.9,297.3 395.6,297.5 396.3,297.7 397,297.9 397.6,298 398.3,298.2 399,298.3 399.7,298.4 400.4,298.4 401,298.5 401.7,298.6 402.4,298.6 403.1,298.7 403.8,298.7 404.4,298.8 405.1,298.8 405.8,298.8 406.5,298.9 407.2,298.9 407.8,299 408.5,299 409.2,299 409.9,299 410.6,299 411.2,299.1 411.9,299.1 412.6,299.1 413.3,299.1 414,299.1 414.6,299 415.3,299 416,299 416.7,299 417.4,299 418,299 418.7,299 419.4,299 420.1,298.9 420.8,298.9 421.4,298.9 422.1,298.9 422.8,298.8 423.5,298.8 424.2,298.8 424.8,298.8 425.5,298.8 426.2,298.7 426.9,298.7 427.6,298.7 428.2,298.7 428.9,298.6 429.6,298.6 430.3,298.6 431,298.6 431.6,298.5 432.3,298.5 433,298.5 433.7,298.4 434.4,298.4 435,298.4 435.7,298.3 436.4,298.3 437.1,298.3 437.8,298.2 438.4,298.2 439.1,298.1 439.8,298.1 440.5,298.1 441.2,298 441.8,298 442.5,297.9 443.2,297.9 443.9,297.8 444.6,297.8" stroke="#f5b000" stroke-width="0.75" fill="none" stroke-linejoin="round"/>
<path d="M282.1,173.9 282.7,180.8 283.4,187.8 284.1,194.8 284.8,202 285.5,209.1 286.1,215.8 286.8,222.4 287.5,228.7 288.2,234.4 288.9,239.4 289.5,243.7 290.2,247.4 290.9,250.5 291.6,253.1 292.3,255.3 292.9,257.2 293.6,258.6 294.3,259.8 295,260.8 295.7,261.7 296.3,262.5 297,262.9 297.7,262.8 298.4,262.6 299.1,262.2 299.7,261.8 300.4,261.3 301.1,260.9 301.8,260.5 302.5,260.1 303.1,259.7 303.8,259.3 304.5,258.8 305.2,258.4 305.9,257.9 306.5,257.4 307.2,256.9 307.9,256.3 308.6,255.7 309.3,255 309.9,254.3 310.6,253.6 311.3,253 312,252.3 312.7,251.9 313.3,251.5 314,251.1 314.7,250.7 315.4,250.3 316.1,250.1 316.7,250 317.4,250.3 318.1,250.7 318.8,251.2 319.5,251.8 320.1,252.5 320.8,253.1 321.5,253.8 322.2,254.6 322.9,255.5 323.5,256.4 324.2,257.3 324.9,258.2 325.6,259 326.3,259.8 326.9,260.7 327.6,261.5 328.3,262.3 329,263.2 329.7,264 330.3,264.8 331,265.6 331.7,266.4 332.4,267.1 333.1,267.9 333.7,268.7 334.4,269.4 335.1,270.2 335.8,270.9 336.5,271.6 337.1,272.4 337.8,273.1 338.5,273.7 339.2,274.4 339.9,275 340.5,275.5 341.2,276.1 341.9,276.5 342.6,277 343.3,277.4 343.9,277.9 344.6,278.3 345.3,278.8 346,279.4 346.7,280 347.3,280.7 348,281.3 348.7,282 349.4,282.7 350,283.5 350.7,284.2 351.4,284.9 352.1,285.6 352.8,286.2 353.4,286.9 354.1,287.6 354.8,288.3 355.5,288.9 356.2,289.6 356.8,290.2 357.5,290.8 358.2,291.4 358.9,292 359.6,292.5 360.2,293.1 360.9,293.7 361.6,294.2 362.3,294.6 363,294.9 363.6,295.2 364.3,295.3 365,295.5 365.7,295.6 366.4,295.7 367,295.8 367.7,295.9 368.4,296 369.1,296 369.8,296 370.4,296 371.1,296 371.8,295.9 372.5,295.8 373.2,295.7 373.8,295.5 374.5,295.4 375.2,295.2 375.9,295 376.6,294.9 377.2,294.8 377.9,294.7 378.6,294.6 379.3,294.6 380,294.5 380.6,294.4 381.3,294.3 382,294.3 382.7,294.2 383.4,294.2 384,294.2 384.7,294.2 385.4,294.3 386.1,294.5 386.8,294.7 387.4,294.9 388.1,295.2 388.8,295.4 389.5,295.7 390.2,296 390.8,296.2 391.5,296.4 392.2,296.6 392.9,296.7 393.6,296.9 394.2,297.1 394.9,297.3 395.6,297.5 396.3,297.7 397,297.9 397.6,298 398.3,298.2 399,298.3 399.7,298.4 400.4,298.5 401,298.5 401.7,298.6 402.4,298.6 403.1,298.7 403.8,298.7 404.4,298.8 405.1,298.8 405.8,298.9 406.5,298.9 407.2,298.9 407.8,299 408.5,299 409.2,299 409.9,299 410.6,299.1 411.2,299.1 411.9,299.1 412.6,299.1 413.3,299.1 414,299.1 414.6,299.1 415.3,299.1 416,299 416.7,299 417.4,299 418,299 418.7,299 419.4,299 420.1,298.9 420.8,298.9 421.4,298.9 422.1,298.9 422.8,298.9 423.5,298.8 424.2,298.8 424.8,298.8 425.5,298.8 426.2,298.7 426.9,298.7 427.6,298.7 428.2,298.7 428.9,298.6 429.6,298.6 430.3,298.6 431,298.6 431.6,298.5 432.3,298.5 433,298.5 433.7,298.4 434.4,298.4 435,298.4 435.7,298.3 436.4,298.3 437.1,298.3 437.8,298.2 438.4,298.2 439.1,298.1 439.8,298.1 440.5,298.1 441.2,298 441.8,298 442.5,297.9 443.2,297.9 443.9,297.8 444.6,297.8" stroke="#f0a000" stroke-width="1.4" fill="none" stroke-linejoin="round"/>
<path d="M282.1,173.9 282.7,180.9 283.4,188 284.1,195.1 284.8,202.4 285.5,209.5 286.1,216.2 286.8,222.7 287.5,229 288.2,234.6 288.9,239.5 289.5,243.7 290.2,247.3 290.9,250.3 291.6,252.9 292.3,255 292.9,256.8 293.6,258.1 294.3,259.2 295,260.1 295.7,260.9 296.3,261.6 297,262 297.7,261.9 298.4,261.7 299.1,261.3 299.7,260.8 300.4,260.4 301.1,260 301.8,259.6 302.5,259.2 303.1,258.8 303.8,258.3 304.5,257.9 305.2,257.4 305.9,257 306.5,256.5 307.2,256 307.9,255.5 308.6,254.9 309.3,254.2 309.9,253.6 310.6,253 311.3,252.5 312,251.9 312.7,251.6 313.3,251.3 314,251.1 314.7,250.8 315.4,250.6 316.1,250.5 316.7,250.6 317.4,250.9 318.1,251.5 318.8,252.1 319.5,252.8 320.1,253.4 320.8,254.1 321.5,254.9 322.2,255.7 322.9,256.6 323.5,257.6 324.2,258.5 324.9,259.4 325.6,260.2 326.3,261 326.9,261.9 327.6,262.7 328.3,263.5 329,264.3 329.7,265.2 330.3,266 331,266.7 331.7,267.5 332.4,268.2 333.1,268.9 333.7,269.7 334.4,270.4 335.1,271.1 335.8,271.8 336.5,272.5 337.1,273.2 337.8,273.9 338.5,274.5 339.2,275.2 339.9,275.7 340.5,276.3 341.2,276.8 341.9,277.2 342.6,277.7 343.3,278.1 343.9,278.5 344.6,279 345.3,279.5 346,280 346.7,280.6 347.3,281.2 348,281.9 348.7,282.5 349.4,283.2 350,283.9 350.7,284.6 351.4,285.3 352.1,285.9 352.8,286.6 353.4,287.2 354.1,287.9 354.8,288.6 355.5,289.2 356.2,289.8 356.8,290.4 357.5,291 358.2,291.5 358.9,292.1 359.6,292.7 360.2,293.3 360.9,293.8 361.6,294.3 362.3,294.7 363,295 363.6,295.3 364.3,295.4 365,295.5 365.7,295.7 366.4,295.8 367,295.9 367.7,295.9 368.4,296 369.1,296 369.8,296.1 370.4,296.1 371.1,296 371.8,296 372.5,295.8 373.2,295.7 373.8,295.5 374.5,295.4 375.2,295.2 375.9,295.1 376.6,295 377.2,294.9 377.9,294.8 378.6,294.7 379.3,294.6 380,294.5 380.6,294.4 381.3,294.4 382,294.3 382.7,294.3 383.4,294.2 384,294.2 384.7,294.3 385.4,294.4 386.1,294.5 386.8,294.7 387.4,295 388.1,295.2 388.8,295.5 389.5,295.7 390.2,296 390.8,296.2 391.5,296.4 392.2,296.6 392.9,296.8 393.6,297 394.2,297.2 394.9,297.4 395.6,297.5 396.3,297.7 397,297.9 397.6,298.1 398.3,298.2 399,298.3 399.7,298.4 400.4,298.5 401,298.5 401.7,298.6 402.4,298.6 403.1,298.7 403.8,298.7 404.4,298.8 405.1,298.8 405.8,298.9 406.5,298.9 407.2,299 407.8,299 408.5,299 409.2,299 409.9,299.1 410.6,299.1 411.2,299.1 411.9,299.1 412.6,299.1 413.3,299.1 414,299.1 414.6,299.1 415.3,299.1 416,299.1 416.7,299 417.4,299 418,299 418.7,299 419.4,299 420.1,298.9 420.8,298.9 421.4,298.9 422.1,298.9 422.8,298.9 423.5,298.8 424.2,298.8 424.8,298.8 425.5,298.8 426.2,298.7 426.9,298.7 427.6,298.7 428.2,298.7 428.9,298.6 429.6,298.6 430.3,298.6 431,298.6 431.6,298.5 432.3,298.5 433,298.5 433.7,298.4 434.4,298.4 435,298.4 435.7,298.3 436.4,298.3 437.1,298.2 437.8,298.2 438.4,298.2 439.1,298.1 439.8,298.1 440.5,298 441.2,298 441.8,298 442.5,297.9 443.2,297.9 443.9,297.8 444.6,297.8" stroke="#ec9410" stroke-width="0.75" fill="none" stroke-linejoin="round"/>
<path d="M282.1,173.9 282.7,181 283.4,188.2 284.1,195.5 284.8,202.9 285.5,209.9 286.1,216.6 286.8,223 287.5,229.2 288.2,234.8 288.9,239.6 289.5,243.8 290.2,247.3 290.9,250.2 291.6,252.6 292.3,254.7 292.9,256.3 293.6,257.5 294.3,258.6 295,259.4 295.7,260.1 296.3,260.8 297,261.1 297.7,260.9 298.4,260.7 299.1,260.3 299.7,259.8 300.4,259.4 301.1,258.9 301.8,258.5 302.5,258.1 303.1,257.7 303.8,257.3 304.5,256.9 305.2,256.4 305.9,256 306.5,255.5 307.2,255 307.9,254.5 308.6,254 309.3,253.4 309.9,252.9 310.6,252.4 311.3,251.9 312,251.5 312.7,251.3 313.3,251.2 314,251 314.7,251 315.4,250.9 316.1,251 316.7,251.2 317.4,251.7 318.1,252.3 318.8,253 319.5,253.8 320.1,254.5 320.8,255.2 321.5,256.1 322.2,256.9 322.9,257.9 323.5,258.8 324.2,259.8 324.9,260.6 325.6,261.5 326.3,262.3 326.9,263.1 327.6,264 328.3,264.8 329,265.6 329.7,266.4 330.3,267.2 331,267.9 331.7,268.7 332.4,269.4 333.1,270.1 333.7,270.8 334.4,271.5 335.1,272.2 335.8,272.9 336.5,273.5 337.1,274.2 337.8,274.8 338.5,275.4 339.2,276 339.9,276.6 340.5,277.1 341.2,277.6 341.9,278 342.6,278.4 343.3,278.8 343.9,279.2 344.6,279.7 345.3,280.2 346,280.7 346.7,281.2 347.3,281.8 348,282.5 348.7,283.1 349.4,283.7 350,284.4 350.7,285 351.4,285.7 352.1,286.3 352.8,286.9 353.4,287.6 354.1,288.2 354.8,288.8 355.5,289.5 356.2,290.1 356.8,290.6 357.5,291.2 358.2,291.7 358.9,292.3 359.6,292.9 360.2,293.4 360.9,293.9 361.6,294.4 362.3,294.8 363,295.1 363.6,295.4 364.3,295.5 365,295.6 365.7,295.7 366.4,295.8 367,295.9 367.7,296 368.4,296 369.1,296.1 369.8,296.1 370.4,296.1 371.1,296.1 371.8,296 372.5,295.9 373.2,295.7 373.8,295.6 374.5,295.4 375.2,295.3 375.9,295.1 376.6,295 377.2,294.9 377.9,294.8 378.6,294.7 379.3,294.6 380,294.6 380.6,294.5 381.3,294.4 382,294.3 382.7,294.3 383.4,294.3 384,294.3 384.7,294.3 385.4,294.4 386.1,294.6 386.8,294.8 387.4,295 388.1,295.3 388.8,295.5 389.5,295.8 390.2,296 390.8,296.2 391.5,296.4 392.2,296.6 392.9,296.8 393.6,297 394.2,297.2 394.9,297.4 395.6,297.6 396.3,297.8 397,297.9 397.6,298.1 398.3,298.2 399,298.3 399.7,298.4 400.4,298.5 401,298.6 401.7,298.6 402.4,298.7 403.1,298.7 403.8,298.8 404.4,298.8 405.1,298.9 405.8,298.9 406.5,298.9 407.2,299 407.8,299 408.5,299 409.2,299.1 409.9,299.1 410.6,299.1 411.2,299.1 411.9,299.1 412.6,299.1 413.3,299.1 414,299.1 414.6,299.1 415.3,299.1 416,299.1 416.7,299.1 417.4,299 418,299 418.7,299 419.4,299 420.1,299 420.8,298.9 421.4,298.9 422.1,298.9 422.8,298.9 423.5,298.8 424.2,298.8 424.8,298.8 425.5,298.8 426.2,298.7 426.9,298.7 427.6,298.7 428.2,298.7 428.9,298.6 429.6,298.6 430.3,298.6 431,298.5 431.6,298.5 432.3,298.5 433,298.5 433.7,298.4 434.4,298.4 435,298.4 435.7,298.3 436.4,298.3 437.1,298.2 437.8,298.2 438.4,298.2 439.1,298.1 439.8,298.1 440.5,298 441.2,298 441.8,298 442.5,297.9 443.2,297.9 443.9,297.8 444.6,297.8" stroke="#e68610" stroke-width="0.75" fill="none" stroke-linejoin="round"/>
<path d="M282.1,173.9 282.7,181.1 283.4,188.4 284.1,195.8 284.8,203.3 285.5,210.4 286.1,217 286.8,223.3 287.5,229.5 288.2,235 288.9,239.7 289.5,243.8 290.2,247.3 290.9,250 291.6,252.4 292.3,254.3 292.9,255.8 293.6,256.9 294.3,257.9 295,258.6 295.7,259.2 296.3,259.8 297,260 297.7,259.9 298.4,259.6 299.1,259.2 299.7,258.7 300.4,258.3 301.1,257.8 301.8,257.4 302.5,257 303.1,256.6 303.8,256.2 304.5,255.8 305.2,255.3 305.9,254.9 306.5,254.4 307.2,254 307.9,253.5 308.6,253 309.3,252.5 309.9,252 310.6,251.7 311.3,251.3 312,251 312.7,250.9 313.3,251 314,251 314.7,251.1 315.4,251.3 316.1,251.5 316.7,251.8 317.4,252.4 318.1,253.2 318.8,254 319.5,254.8 320.1,255.7 320.8,256.5 321.5,257.3 322.2,258.2 322.9,259.2 323.5,260.2 324.2,261.1 324.9,262 325.6,262.9 326.3,263.7 326.9,264.5 327.6,265.3 328.3,266.2 329,267 329.7,267.7 330.3,268.5 331,269.2 331.7,269.9 332.4,270.6 333.1,271.3 333.7,272 334.4,272.6 335.1,273.3 335.8,273.9 336.5,274.6 337.1,275.2 337.8,275.8 338.5,276.4 339.2,276.9 339.9,277.5 340.5,278 341.2,278.4 341.9,278.8 342.6,279.2 343.3,279.6 343.9,280 344.6,280.4 345.3,280.9 346,281.4 346.7,281.9 347.3,282.5 348,283.1 348.7,283.7 349.4,284.3 350,284.9 350.7,285.5 351.4,286.2 352.1,286.8 352.8,287.4 353.4,288 354.1,288.6 354.8,289.2 355.5,289.8 356.2,290.3 356.8,290.9 357.5,291.4 358.2,291.9 358.9,292.5 359.6,293 360.2,293.6 360.9,294.1 361.6,294.5 362.3,294.9 363,295.3 363.6,295.5 364.3,295.6 365,295.7 365.7,295.8 366.4,295.9 367,296 367.7,296 368.4,296.1 369.1,296.1 369.8,296.2 370.4,296.2 371.1,296.1 371.8,296 372.5,295.9 373.2,295.8 373.8,295.6 374.5,295.5 375.2,295.3 375.9,295.2 376.6,295 377.2,294.9 377.9,294.8 378.6,294.8 379.3,294.7 380,294.6 380.6,294.5 381.3,294.4 382,294.4 382.7,294.3 383.4,294.3 384,294.3 384.7,294.3 385.4,294.4 386.1,294.6 386.8,294.8 387.4,295 388.1,295.3 388.8,295.6 389.5,295.8 390.2,296.1 390.8,296.3 391.5,296.5 392.2,296.7 392.9,296.8 393.6,297 394.2,297.2 394.9,297.4 395.6,297.6 396.3,297.8 397,297.9 397.6,298.1 398.3,298.2 399,298.4 399.7,298.4 400.4,298.5 401,298.6 401.7,298.6 402.4,298.7 403.1,298.7 403.8,298.8 404.4,298.8 405.1,298.9 405.8,298.9 406.5,299 407.2,299 407.8,299 408.5,299 409.2,299.1 409.9,299.1 410.6,299.1 411.2,299.1 411.9,299.1 412.6,299.1 413.3,299.1 414,299.1 414.6,299.1 415.3,299.1 416,299.1 416.7,299.1 417.4,299.1 418,299 418.7,299 419.4,299 420.1,299 420.8,298.9 421.4,298.9 422.1,298.9 422.8,298.9 423.5,298.8 424.2,298.8 424.8,298.8 425.5,298.8 426.2,298.7 426.9,298.7 427.6,298.7 428.2,298.7 428.9,298.6 429.6,298.6 430.3,298.6 431,298.5 431.6,298.5 432.3,298.5 433,298.5 433.7,298.4 434.4,298.4 435,298.3 435.7,298.3 436.4,298.3 437.1,298.2 437.8,298.2 438.4,298.2 439.1,298.1 439.8,298.1 440.5,298 441.2,298 441.8,298 442.5,297.9 443.2,297.9 443.9,297.8 444.6,297.8" stroke="#e07a10" stroke-width="0.75" fill="none" stroke-linejoin="round"/>
<path d="M282.1,173.9 282.7,181.2 283.4,188.6 284.1,196.2 284.8,203.8 285.5,210.9 286.1,217.4 286.8,223.7 287.5,229.8 288.2,235.2 288.9,239.9 289.5,243.9 290.2,247.3 290.9,249.9 291.6,252.1 292.3,253.9 292.9,255.3 293.6,256.3 294.3,257.1 295,257.7 295.7,258.3 296.3,258.8 297,259 297.7,258.8 298.4,258.4 299.1,258 299.7,257.6 300.4,257.1 301.1,256.7 301.8,256.3 302.5,255.9 303.1,255.4 303.8,255 304.5,254.6 305.2,254.2 305.9,253.8 306.5,253.3 307.2,252.9 307.9,252.4 308.6,252 309.3,251.5 309.9,251.2 310.6,250.9 311.3,250.7 312,250.5 312.7,250.6 313.3,250.8 314,251 314.7,251.3 315.4,251.6 316.1,252 316.7,252.5 317.4,253.3 318.1,254.1 318.8,255.1 319.5,256 320.1,256.9 320.8,257.7 321.5,258.7 322.2,259.6 322.9,260.6 323.5,261.6 324.2,262.6 324.9,263.5 325.6,264.3 326.3,265.2 326.9,266 327.6,266.8 328.3,267.6 329,268.4 329.7,269.2 330.3,269.9 331,270.6 331.7,271.3 332.4,272 333.1,272.6 333.7,273.2 334.4,273.9 335.1,274.5 335.8,275.1 336.5,275.7 337.1,276.3 337.8,276.8 338.5,277.4 339.2,277.9 339.9,278.4 340.5,278.9 341.2,279.3 341.9,279.7 342.6,280.1 343.3,280.5 343.9,280.8 344.6,281.2 345.3,281.7 346,282.1 346.7,282.6 347.3,283.2 348,283.7 348.7,284.3 349.4,284.9 350,285.5 350.7,286.1 351.4,286.6 352.1,287.2 352.8,287.8 353.4,288.4 354.1,288.9 354.8,289.5 355.5,290.1 356.2,290.6 356.8,291.1 357.5,291.6 358.2,292.2 358.9,292.7 359.6,293.2 360.2,293.8 360.9,294.2 361.6,294.7 362.3,295.1 363,295.4 363.6,295.6 364.3,295.7 365,295.8 365.7,295.9 366.4,296 367,296 367.7,296.1 368.4,296.1 369.1,296.2 369.8,296.2 370.4,296.2 371.1,296.2 371.8,296.1 372.5,296 373.2,295.8 373.8,295.7 374.5,295.5 375.2,295.3 375.9,295.2 376.6,295.1 377.2,295 377.9,294.9 378.6,294.8 379.3,294.7 380,294.6 380.6,294.6 381.3,294.5 382,294.4 382.7,294.4 383.4,294.4 384,294.3 384.7,294.4 385.4,294.5 386.1,294.6 386.8,294.8 387.4,295.1 388.1,295.3 388.8,295.6 389.5,295.9 390.2,296.1 390.8,296.3 391.5,296.5 392.2,296.7 392.9,296.9 393.6,297.1 394.2,297.3 394.9,297.5 395.6,297.6 396.3,297.8 397,298 397.6,298.1 398.3,298.3 399,298.4 399.7,298.5 400.4,298.5 401,298.6 401.7,298.7 402.4,298.7 403.1,298.8 403.8,298.8 404.4,298.9 405.1,298.9 405.8,298.9 406.5,299 407.2,299 407.8,299 408.5,299.1 409.2,299.1 409.9,299.1 410.6,299.1 411.2,299.1 411.9,299.1 412.6,299.2 413.3,299.1 414,299.1 414.6,299.1 415.3,299.1 416,299.1 416.7,299.1 417.4,299.1 418,299.1 418.7,299 419.4,299 420.1,299 420.8,299 421.4,298.9 422.1,298.9 422.8,298.9 423.5,298.8 424.2,298.8 424.8,298.8 425.5,298.8 426.2,298.7 426.9,298.7 427.6,298.7 428.2,298.7 428.9,298.6 429.6,298.6 430.3,298.6 431,298.5 431.6,298.5 432.3,298.5 433,298.4 433.7,298.4 434.4,298.4 435,298.3 435.7,298.3 436.4,298.3 437.1,298.2 437.8,298.2 438.4,298.2 439.1,298.1 439.8,298.1 440.5,298 441.2,298 441.8,298 442.5,297.9 443.2,297.9 443.9,297.8 444.6,297.8" stroke="#dc6e10" stroke-width="0.75" fill="none" stroke-linejoin="round"/>
<path d="M282.1,173.9 282.7,181.4 283.4,188.9 284.1,196.6 284.8,204.3 285.5,211.4 286.1,217.9 286.8,224.1 287.5,230.1 288.2,235.5 288.9,240 289.5,244 290.2,247.2 290.9,249.7 291.6,251.8 292.3,253.5 292.9,254.8 293.6,255.6 294.3,256.3 295,256.8 295.7,257.3 296.3,257.7 297,257.8 297.7,257.6 298.4,257.2 299.1,256.8 299.7,256.3 300.4,255.9 301.1,255.4 301.8,255 302.5,254.6 303.1,254.2 303.8,253.8 304.5,253.3 305.2,252.9 305.9,252.5 306.5,252.1 307.2,251.7 307.9,251.3 308.6,250.9 309.3,250.5 309.9,250.3 310.6,250.1 311.3,250 312,250 312.7,250.2 313.3,250.6 314,251 314.7,251.5 315.4,252 316.1,252.6 316.7,253.3 317.4,254.2 318.1,255.1 318.8,256.2 319.5,257.2 320.1,258.2 320.8,259.1 321.5,260.1 322.2,261.1 322.9,262.1 323.5,263.2 324.2,264.1 324.9,265.1 325.6,265.9 326.3,266.7 326.9,267.6 327.6,268.4 328.3,269.2 329,269.9 329.7,270.7 330.3,271.4 331,272.1 331.7,272.7 332.4,273.4 333.1,274 333.7,274.6 334.4,275.2 335.1,275.8 335.8,276.3 336.5,276.9 337.1,277.4 337.8,278 338.5,278.5 339.2,278.9 339.9,279.4 340.5,279.9 341.2,280.3 341.9,280.6 342.6,281 343.3,281.3 343.9,281.7 344.6,282.1 345.3,282.5 346,282.9 346.7,283.4 347.3,283.9 348,284.4 348.7,285 349.4,285.5 350,286.1 350.7,286.6 351.4,287.2 352.1,287.7 352.8,288.2 353.4,288.8 354.1,289.3 354.8,289.9 355.5,290.4 356.2,290.9 356.8,291.4 357.5,291.9 358.2,292.4 358.9,292.9 359.6,293.4 360.2,293.9 360.9,294.4 361.6,294.8 362.3,295.2 363,295.5 363.6,295.7 364.3,295.8 365,295.9 365.7,296 366.4,296 367,296.1 367.7,296.2 368.4,296.2 369.1,296.2 369.8,296.2 370.4,296.2 371.1,296.2 371.8,296.1 372.5,296 373.2,295.9 373.8,295.7 374.5,295.5 375.2,295.4 375.9,295.2 376.6,295.1 377.2,295 377.9,294.9 378.6,294.8 379.3,294.8 380,294.7 380.6,294.6 381.3,294.5 382,294.5 382.7,294.4 383.4,294.4 384,294.4 384.7,294.4 385.4,294.5 386.1,294.7 386.8,294.9 387.4,295.1 388.1,295.4 388.8,295.6 389.5,295.9 390.2,296.2 390.8,296.4 391.5,296.6 392.2,296.7 392.9,296.9 393.6,297.1 394.2,297.3 394.9,297.5 395.6,297.7 396.3,297.8 397,298 397.6,298.2 398.3,298.3 399,298.4 399.7,298.5 400.4,298.6 401,298.6 401.7,298.7 402.4,298.7 403.1,298.8 403.8,298.8 404.4,298.9 405.1,298.9 405.8,299 406.5,299 407.2,299 407.8,299.1 408.5,299.1 409.2,299.1 409.9,299.1 410.6,299.2 411.2,299.2 411.9,299.2 412.6,299.2 413.3,299.2 414,299.2 414.6,299.2 415.3,299.1 416,299.1 416.7,299.1 417.4,299.1 418,299.1 418.7,299 419.4,299 420.1,299 420.8,299 421.4,298.9 422.1,298.9 422.8,298.9 423.5,298.9 424.2,298.8 424.8,298.8 425.5,298.8 426.2,298.7 426.9,298.7 427.6,298.7 428.2,298.7 428.9,298.6 429.6,298.6 430.3,298.6 431,298.5 431.6,298.5 432.3,298.5 433,298.4 433.7,298.4 434.4,298.4 435,298.3 435.7,298.3 436.4,298.3 437.1,298.2 437.8,298.2 438.4,298.2 439.1,298.1 439.8,298.1 440.5,298 441.2,298 441.8,298 442.5,297.9 443.2,297.9 443.9,297.8 444.6,297.8" stroke="#d86410" stroke-width="1.4" fill="none" stroke-linejoin="round"/>
<path d="M282.1,173.9 282.7,181.5 283.4,189.2 284.1,197 284.8,204.8 285.5,212 286.1,218.4 286.8,224.5 287.5,230.4 288.2,235.7 288.9,240.2 289.5,244 290.2,247.2 290.9,249.5 291.6,251.5 292.3,253 292.9,254.2 293.6,254.9 294.3,255.5 295,255.9 295.7,256.3 296.3,256.6 297,256.6 297.7,256.3 298.4,256 299.1,255.5 299.7,255 300.4,254.6 301.1,254.1 301.8,253.7 302.5,253.3 303.1,252.9 303.8,252.5 304.5,252 305.2,251.6 305.9,251.3 306.5,250.9 307.2,250.5 307.9,250.1 308.6,249.7 309.3,249.4 309.9,249.3 310.6,249.3 311.3,249.3 312,249.4 312.7,249.8 313.3,250.4 314,251 314.7,251.7 315.4,252.4 316.1,253.1 316.7,254 317.4,255.1 318.1,256.2 318.8,257.3 319.5,258.5 320.1,259.5 320.8,260.5 321.5,261.6 322.2,262.7 322.9,263.7 323.5,264.8 324.2,265.8 324.9,266.7 325.6,267.5 326.3,268.4 326.9,269.2 327.6,270 328.3,270.8 329,271.5 329.7,272.3 330.3,273 331,273.6 331.7,274.3 332.4,274.8 333.1,275.4 333.7,276 334.4,276.5 335.1,277.1 335.8,277.6 336.5,278.1 337.1,278.6 337.8,279.1 338.5,279.6 339.2,280 339.9,280.5 340.5,280.9 341.2,281.3 341.9,281.6 342.6,282 343.3,282.3 343.9,282.6 344.6,283 345.3,283.3 346,283.8 346.7,284.2 347.3,284.7 348,285.2 348.7,285.7 349.4,286.2 350,286.7 350.7,287.2 351.4,287.7 352.1,288.2 352.8,288.7 353.4,289.2 354.1,289.7 354.8,290.2 355.5,290.8 356.2,291.2 356.8,291.7 357.5,292.2 358.2,292.6 358.9,293.1 359.6,293.6 360.2,294.1 360.9,294.6 361.6,295 362.3,295.4 363,295.6 363.6,295.8 364.3,295.9 365,296 365.7,296.1 366.4,296.1 367,296.2 367.7,296.2 368.4,296.2 369.1,296.3 369.8,296.3 370.4,296.3 371.1,296.2 371.8,296.2 372.5,296 373.2,295.9 373.8,295.8 374.5,295.6 375.2,295.4 375.9,295.3 376.6,295.2 377.2,295.1 377.9,295 378.6,294.9 379.3,294.8 380,294.7 380.6,294.6 381.3,294.6 382,294.5 382.7,294.5 383.4,294.4 384,294.4 384.7,294.5 385.4,294.6 386.1,294.7 386.8,294.9 387.4,295.2 388.1,295.4 388.8,295.7 389.5,296 390.2,296.2 390.8,296.4 391.5,296.6 392.2,296.8 392.9,297 393.6,297.2 394.2,297.3 394.9,297.5 395.6,297.7 396.3,297.9 397,298 397.6,298.2 398.3,298.3 399,298.4 399.7,298.5 400.4,298.6 401,298.6 401.7,298.7 402.4,298.8 403.1,298.8 403.8,298.9 404.4,298.9 405.1,298.9 405.8,299 406.5,299 407.2,299.1 407.8,299.1 408.5,299.1 409.2,299.1 409.9,299.2 410.6,299.2 411.2,299.2 411.9,299.2 412.6,299.2 413.3,299.2 414,299.2 414.6,299.2 415.3,299.2 416,299.1 416.7,299.1 417.4,299.1 418,299.1 418.7,299.1 419.4,299 420.1,299 420.8,299 421.4,299 422.1,298.9 422.8,298.9 423.5,298.9 424.2,298.8 424.8,298.8 425.5,298.8 426.2,298.7 426.9,298.7 427.6,298.7 428.2,298.7 428.9,298.6 429.6,298.6 430.3,298.6 431,298.5 431.6,298.5 432.3,298.5 433,298.4 433.7,298.4 434.4,298.4 435,298.3 435.7,298.3 436.4,298.3 437.1,298.2 437.8,298.2 438.4,298.2 439.1,298.1 439.8,298.1 440.5,298 441.2,298 441.8,298 442.5,297.9 443.2,297.9 443.9,297.8 444.6,297.8" stroke="#d25814" stroke-width="0.75" fill="none" stroke-linejoin="round"/>
<path d="M282.1,173.9 282.7,181.7 283.4,189.5 284.1,197.4 284.8,205.4 285.5,212.6 286.1,219 286.8,225 287.5,230.7 288.2,236 288.9,240.4 289.5,244.1 290.2,247.2 290.9,249.3 291.6,251.1 292.3,252.6 292.9,253.6 293.6,254.2 294.3,254.6 295,254.9 295.7,255.2 296.3,255.4 297,255.3 297.7,255 298.4,254.6 299.1,254.2 299.7,253.7 300.4,253.2 301.1,252.8 301.8,252.3 302.5,251.9 303.1,251.5 303.8,251.1 304.5,250.7 305.2,250.3 305.9,249.9 306.5,249.6 307.2,249.2 307.9,248.8 308.6,248.5 309.3,248.3 309.9,248.3 310.6,248.4 311.3,248.6 312,248.8 312.7,249.4 313.3,250.1 314,251 314.7,251.9 315.4,252.8 316.1,253.8 316.7,254.8 317.4,256 318.1,257.3 318.8,258.6 319.5,259.8 320.1,260.9 320.8,262 321.5,263.1 322.2,264.3 322.9,265.4 323.5,266.5 324.2,267.5 324.9,268.4 325.6,269.3 326.3,270.1 326.9,270.9 327.6,271.7 328.3,272.5 329,273.2 329.7,273.9 330.3,274.6 331,275.2 331.7,275.8 332.4,276.4 333.1,276.9 333.7,277.5 334.4,278 335.1,278.5 335.8,279 336.5,279.4 337.1,279.9 337.8,280.3 338.5,280.8 339.2,281.2 339.9,281.6 340.5,282 341.2,282.3 341.9,282.6 342.6,283 343.3,283.3 343.9,283.6 344.6,283.9 345.3,284.3 346,284.6 346.7,285.1 347.3,285.5 348,285.9 348.7,286.4 349.4,286.9 350,287.3 350.7,287.8 351.4,288.3 352.1,288.8 352.8,289.2 353.4,289.7 354.1,290.2 354.8,290.6 355.5,291.1 356.2,291.6 356.8,292 357.5,292.4 358.2,292.9 358.9,293.4 359.6,293.9 360.2,294.3 360.9,294.8 361.6,295.2 362.3,295.5 363,295.8 363.6,296 364.3,296 365,296.1 365.7,296.1 366.4,296.2 367,296.2 367.7,296.3 368.4,296.3 369.1,296.3 369.8,296.3 370.4,296.3 371.1,296.3 371.8,296.2 372.5,296.1 373.2,296 373.8,295.8 374.5,295.6 375.2,295.5 375.9,295.3 376.6,295.2 377.2,295.1 377.9,295 378.6,294.9 379.3,294.9 380,294.8 380.6,294.7 381.3,294.6 382,294.6 382.7,294.5 383.4,294.5 384,294.5 384.7,294.5 385.4,294.6 386.1,294.8 386.8,295 387.4,295.2 388.1,295.5 388.8,295.7 389.5,296 390.2,296.3 390.8,296.5 391.5,296.7 392.2,296.8 392.9,297 393.6,297.2 394.2,297.4 394.9,297.6 395.6,297.7 396.3,297.9 397,298.1 397.6,298.2 398.3,298.3 399,298.5 399.7,298.5 400.4,298.6 401,298.7 401.7,298.7 402.4,298.8 403.1,298.8 403.8,298.9 404.4,298.9 405.1,299 405.8,299 406.5,299 407.2,299.1 407.8,299.1 408.5,299.1 409.2,299.2 409.9,299.2 410.6,299.2 411.2,299.2 411.9,299.2 412.6,299.2 413.3,299.2 414,299.2 414.6,299.2 415.3,299.2 416,299.2 416.7,299.2 417.4,299.1 418,299.1 418.7,299.1 419.4,299.1 420.1,299 420.8,299 421.4,299 422.1,298.9 422.8,298.9 423.5,298.9 424.2,298.8 424.8,298.8 425.5,298.8 426.2,298.7 426.9,298.7 427.6,298.7 428.2,298.7 428.9,298.6 429.6,298.6 430.3,298.6 431,298.5 431.6,298.5 432.3,298.5 433,298.4 433.7,298.4 434.4,298.4 435,298.3 435.7,298.3 436.4,298.3 437.1,298.2 437.8,298.2 438.4,298.1 439.1,298.1 439.8,298.1 440.5,298 441.2,298 441.8,298 442.5,297.9 443.2,297.9 443.9,297.8 444.6,297.8" stroke="#cc5014" stroke-width="0.75" fill="none" stroke-linejoin="round"/>
<path d="M282.1,173.9 282.7,181.8 283.4,189.8 284.1,197.9 284.8,206 285.5,213.2 286.1,219.5 286.8,225.4 287.5,231 288.2,236.2 288.9,240.5 289.5,244.2 290.2,247.1 290.9,249.1 291.6,250.8 292.3,252.1 292.9,252.9 293.6,253.4 294.3,253.7 295,253.9 295.7,254 296.3,254.1 297,254 297.7,253.7 298.4,253.3 299.1,252.8 299.7,252.3 300.4,251.8 301.1,251.3 301.8,250.9 302.5,250.5 303.1,250.1 303.8,249.6 304.5,249.3 305.2,248.9 305.9,248.5 306.5,248.2 307.2,247.8 307.9,247.5 308.6,247.3 309.3,247.2 309.9,247.2 310.6,247.5 311.3,247.8 312,248.2 312.7,248.9 313.3,249.9 314,251 314.7,252.2 315.4,253.3 316.1,254.4 316.7,255.7 317.4,257 318.1,258.5 318.8,259.8 319.5,261.2 320.1,262.4 320.8,263.6 321.5,264.8 322.2,266 322.9,267.1 323.5,268.2 324.2,269.3 324.9,270.2 325.6,271.1 326.3,271.9 326.9,272.7 327.6,273.5 328.3,274.2 329,275 329.7,275.7 330.3,276.3 331,276.9 331.7,277.5 332.4,278 333.1,278.5 333.7,279 334.4,279.5 335.1,279.9 335.8,280.4 336.5,280.8 337.1,281.2 337.8,281.6 338.5,282 339.2,282.4 339.9,282.7 340.5,283.1 341.2,283.4 341.9,283.7 342.6,284 343.3,284.3 343.9,284.6 344.6,284.9 345.3,285.2 346,285.6 346.7,285.9 347.3,286.3 348,286.7 348.7,287.2 349.4,287.6 350,288 350.7,288.5 351.4,288.9 352.1,289.3 352.8,289.7 353.4,290.2 354.1,290.6 354.8,291.1 355.5,291.5 356.2,291.9 356.8,292.3 357.5,292.7 358.2,293.2 358.9,293.6 359.6,294.1 360.2,294.5 360.9,295 361.6,295.4 362.3,295.7 363,295.9 363.6,296.1 364.3,296.2 365,296.2 365.7,296.2 366.4,296.3 367,296.3 367.7,296.3 368.4,296.4 369.1,296.4 369.8,296.4 370.4,296.4 371.1,296.3 371.8,296.3 372.5,296.1 373.2,296 373.8,295.9 374.5,295.7 375.2,295.5 375.9,295.4 376.6,295.3 377.2,295.2 377.9,295.1 378.6,295 379.3,294.9 380,294.8 380.6,294.7 381.3,294.7 382,294.6 382.7,294.6 383.4,294.5 384,294.5 384.7,294.6 385.4,294.7 386.1,294.8 386.8,295 387.4,295.3 388.1,295.5 388.8,295.8 389.5,296.1 390.2,296.3 390.8,296.5 391.5,296.7 392.2,296.9 392.9,297.1 393.6,297.2 394.2,297.4 394.9,297.6 395.6,297.8 396.3,297.9 397,298.1 397.6,298.2 398.3,298.4 399,298.5 399.7,298.6 400.4,298.6 401,298.7 401.7,298.7 402.4,298.8 403.1,298.9 403.8,298.9 404.4,298.9 405.1,299 405.8,299 406.5,299.1 407.2,299.1 407.8,299.1 408.5,299.2 409.2,299.2 409.9,299.2 410.6,299.2 411.2,299.2 411.9,299.2 412.6,299.2 413.3,299.2 414,299.2 414.6,299.2 415.3,299.2 416,299.2 416.7,299.2 417.4,299.2 418,299.1 418.7,299.1 419.4,299.1 420.1,299 420.8,299 421.4,299 422.1,298.9 422.8,298.9 423.5,298.9 424.2,298.8 424.8,298.8 425.5,298.8 426.2,298.7 426.9,298.7 427.6,298.7 428.2,298.7 428.9,298.6 429.6,298.6 430.3,298.6 431,298.5 431.6,298.5 432.3,298.5 433,298.4 433.7,298.4 434.4,298.4 435,298.3 435.7,298.3 436.4,298.3 437.1,298.2 437.8,298.2 438.4,298.1 439.1,298.1 439.8,298.1 440.5,298 441.2,298 441.8,297.9 442.5,297.9 443.2,297.9 443.9,297.8 444.6,297.8" stroke="#c84814" stroke-width="0.75" fill="none" stroke-linejoin="round"/>
<path d="M282.1,173.9 282.7,182 283.4,190.1 284.1,198.4 284.8,206.6 285.5,213.8 286.1,220.1 286.8,225.9 287.5,231.4 288.2,236.5 288.9,240.7 289.5,244.3 290.2,247.1 290.9,248.9 291.6,250.4 292.3,251.6 292.9,252.3 293.6,252.6 294.3,252.8 295,252.8 295.7,252.9 296.3,252.8 297,252.6 297.7,252.3 298.4,251.8 299.1,251.3 299.7,250.8 300.4,250.3 301.1,249.9 301.8,249.4 302.5,249 303.1,248.6 303.8,248.2 304.5,247.8 305.2,247.4 305.9,247.1 306.5,246.8 307.2,246.4 307.9,246.2 308.6,246 309.3,245.9 309.9,246.1 310.6,246.5 311.3,247 312,247.6 312.7,248.5 313.3,249.6 314,251 314.7,252.4 315.4,253.7 316.1,255.1 316.7,256.5 317.4,258.1 318.1,259.7 318.8,261.2 319.5,262.6 320.1,263.9 320.8,265.2 321.5,266.5 322.2,267.7 322.9,268.9 323.5,270 324.2,271.1 324.9,272.1 325.6,272.9 326.3,273.8 326.9,274.6 327.6,275.3 328.3,276.1 329,276.8 329.7,277.5 330.3,278.1 331,278.7 331.7,279.2 332.4,279.7 333.1,280.2 333.7,280.6 334.4,281 335.1,281.4 335.8,281.8 336.5,282.2 337.1,282.6 337.8,282.9 338.5,283.3 339.2,283.6 339.9,283.9 340.5,284.3 341.2,284.6 341.9,284.8 342.6,285.1 343.3,285.3 343.9,285.6 344.6,285.9 345.3,286.2 346,286.5 346.7,286.8 347.3,287.2 348,287.6 348.7,287.9 349.4,288.3 350,288.7 350.7,289.1 351.4,289.5 352.1,289.9 352.8,290.3 353.4,290.7 354.1,291.1 354.8,291.5 355.5,291.9 356.2,292.3 356.8,292.7 357.5,293 358.2,293.4 358.9,293.9 359.6,294.3 360.2,294.8 360.9,295.2 361.6,295.5 362.3,295.9 363,296.1 363.6,296.2 364.3,296.3 365,296.3 365.7,296.3 366.4,296.4 367,296.4 367.7,296.4 368.4,296.4 369.1,296.4 369.8,296.4 370.4,296.4 371.1,296.4 371.8,296.3 372.5,296.2 373.2,296.1 373.8,295.9 374.5,295.7 375.2,295.6 375.9,295.4 376.6,295.3 377.2,295.2 377.9,295.1 378.6,295 379.3,295 380,294.9 380.6,294.8 381.3,294.7 382,294.7 382.7,294.6 383.4,294.6 384,294.6 384.7,294.6 385.4,294.7 386.1,294.9 386.8,295.1 387.4,295.3 388.1,295.6 388.8,295.9 389.5,296.1 390.2,296.4 390.8,296.6 391.5,296.8 392.2,296.9 392.9,297.1 393.6,297.3 394.2,297.5 394.9,297.6 395.6,297.8 396.3,298 397,298.1 397.6,298.3 398.3,298.4 399,298.5 399.7,298.6 400.4,298.7 401,298.7 401.7,298.8 402.4,298.8 403.1,298.9 403.8,298.9 404.4,299 405.1,299 405.8,299.1 406.5,299.1 407.2,299.1 407.8,299.2 408.5,299.2 409.2,299.2 409.9,299.2 410.6,299.3 411.2,299.3 411.9,299.3 412.6,299.3 413.3,299.3 414,299.3 414.6,299.3 415.3,299.2 416,299.2 416.7,299.2 417.4,299.2 418,299.1 418.7,299.1 419.4,299.1 420.1,299.1 420.8,299 421.4,299 422.1,298.9 422.8,298.9 423.5,298.9 424.2,298.8 424.8,298.8 425.5,298.8 426.2,298.7 426.9,298.7 427.6,298.7 428.2,298.7 428.9,298.6 429.6,298.6 430.3,298.6 431,298.5 431.6,298.5 432.3,298.5 433,298.4 433.7,298.4 434.4,298.4 435,298.3 435.7,298.3 436.4,298.2 437.1,298.2 437.8,298.2 438.4,298.1 439.1,298.1 439.8,298.1 440.5,298 441.2,298 441.8,297.9 442.5,297.9 443.2,297.9 443.9,297.8 444.6,297.8" stroke="#c44214" stroke-width="0.75" fill="none" stroke-linejoin="round"/>
<path d="M282.1,173.9 282.7,182.2 283.4,190.4 284.1,198.8 284.8,207.2 285.5,214.4 286.1,220.7 286.8,226.4 287.5,231.8 288.2,236.8 288.9,240.9 289.5,244.3 290.2,247 290.9,248.7 291.6,250.1 292.3,251.1 292.9,251.6 293.6,251.8 294.3,251.8 295,251.7 295.7,251.6 296.3,251.5 297,251.2 297.7,250.8 298.4,250.3 299.1,249.8 299.7,249.3 300.4,248.8 301.1,248.3 301.8,247.9 302.5,247.5 303.1,247 303.8,246.6 304.5,246.2 305.2,245.9 305.9,245.6 306.5,245.3 307.2,245 307.9,244.8 308.6,244.6 309.3,244.7 309.9,245 310.6,245.6 311.3,246.2 312,246.9 312.7,248 313.3,249.4 314,251 314.7,252.7 315.4,254.2 316.1,255.8 316.7,257.5 317.4,259.2 318.1,260.9 318.8,262.6 319.5,264.1 320.1,265.5 320.8,266.9 321.5,268.2 322.2,269.5 322.9,270.8 323.5,271.9 324.2,273 324.9,274 325.6,274.9 326.3,275.7 326.9,276.5 327.6,277.3 328.3,278 329,278.7 329.7,279.3 330.3,279.9 331,280.5 331.7,281 332.4,281.4 333.1,281.9 333.7,282.3 334.4,282.6 335.1,283 335.8,283.3 336.5,283.7 337.1,284 337.8,284.3 338.5,284.6 339.2,284.9 339.9,285.2 340.5,285.5 341.2,285.7 341.9,286 342.6,286.2 343.3,286.4 343.9,286.7 344.6,286.9 345.3,287.2 346,287.5 346.7,287.8 347.3,288.1 348,288.4 348.7,288.8 349.4,289.1 350,289.5 350.7,289.8 351.4,290.2 352.1,290.5 352.8,290.8 353.4,291.2 354.1,291.6 354.8,291.9 355.5,292.3 356.2,292.6 356.8,293 357.5,293.3 358.2,293.7 358.9,294.2 359.6,294.6 360.2,295 360.9,295.4 361.6,295.7 362.3,296 363,296.3 363.6,296.4 364.3,296.4 365,296.4 365.7,296.4 366.4,296.5 367,296.5 367.7,296.5 368.4,296.5 369.1,296.5 369.8,296.5 370.4,296.5 371.1,296.5 371.8,296.4 372.5,296.3 373.2,296.1 373.8,296 374.5,295.8 375.2,295.6 375.9,295.5 376.6,295.4 377.2,295.3 377.9,295.2 378.6,295.1 379.3,295 380,294.9 380.6,294.9 381.3,294.8 382,294.7 382.7,294.7 383.4,294.7 384,294.6 384.7,294.7 385.4,294.8 386.1,295 386.8,295.2 387.4,295.4 388.1,295.6 388.8,295.9 389.5,296.2 390.2,296.4 390.8,296.6 391.5,296.8 392.2,297 392.9,297.2 393.6,297.3 394.2,297.5 394.9,297.7 395.6,297.9 396.3,298 397,298.2 397.6,298.3 398.3,298.4 399,298.5 399.7,298.6 400.4,298.7 401,298.7 401.7,298.8 402.4,298.9 403.1,298.9 403.8,299 404.4,299 405.1,299 405.8,299.1 406.5,299.1 407.2,299.2 407.8,299.2 408.5,299.2 409.2,299.2 409.9,299.3 410.6,299.3 411.2,299.3 411.9,299.3 412.6,299.3 413.3,299.3 414,299.3 414.6,299.3 415.3,299.3 416,299.2 416.7,299.2 417.4,299.2 418,299.2 418.7,299.1 419.4,299.1 420.1,299.1 420.8,299 421.4,299 422.1,299 422.8,298.9 423.5,298.9 424.2,298.8 424.8,298.8 425.5,298.8 426.2,298.7 426.9,298.7 427.6,298.7 428.2,298.6 428.9,298.6 429.6,298.6 430.3,298.6 431,298.5 431.6,298.5 432.3,298.5 433,298.4 433.7,298.4 434.4,298.3 435,298.3 435.7,298.3 436.4,298.2 437.1,298.2 437.8,298.2 438.4,298.1 439.1,298.1 439.8,298.1 440.5,298 441.2,298 441.8,297.9 442.5,297.9 443.2,297.9 443.9,297.8 444.6,297.8" stroke="#c83c0c" stroke-width="1.4" fill="none" stroke-linejoin="round"/>
<path d="M282.1,173.9 282.7,182.3 283.4,190.7 284.1,199.3 284.8,207.8 285.5,215.1 286.1,221.3 286.8,226.9 287.5,232.2 288.2,237.1 288.9,241.1 289.5,244.4 290.2,247 290.9,248.5 291.6,249.7 292.3,250.5 292.9,250.9 293.6,250.9 294.3,250.8 295,250.6 295.7,250.4 296.3,250.1 297,249.8 297.7,249.3 298.4,248.8 299.1,248.2 299.7,247.7 300.4,247.2 301.1,246.7 301.8,246.3 302.5,245.9 303.1,245.4 303.8,245 304.5,244.7 305.2,244.3 305.9,244 306.5,243.8 307.2,243.5 307.9,243.3 308.6,243.2 309.3,243.4 309.9,243.8 310.6,244.5 311.3,245.4 312,246.2 312.7,247.5 313.3,249.1 314,251 314.7,252.9 315.4,254.7 316.1,256.5 316.7,258.4 317.4,260.3 318.1,262.2 318.8,264 319.5,265.6 320.1,267.2 320.8,268.6 321.5,270 322.2,271.4 322.9,272.7 323.5,273.9 324.2,275 324.9,276 325.6,276.8 326.3,277.7 326.9,278.5 327.6,279.2 328.3,280 329,280.6 329.7,281.3 330.3,281.8 331,282.3 331.7,282.8 332.4,283.2 333.1,283.6 333.7,284 334.4,284.3 335.1,284.6 335.8,284.9 336.5,285.2 337.1,285.5 337.8,285.7 338.5,286 339.2,286.2 339.9,286.5 340.5,286.7 341.2,286.9 341.9,287.2 342.6,287.4 343.3,287.6 343.9,287.8 344.6,288 345.3,288.2 346,288.5 346.7,288.8 347.3,289 348,289.3 348.7,289.6 349.4,289.9 350,290.2 350.7,290.5 351.4,290.8 352.1,291.1 352.8,291.4 353.4,291.7 354.1,292.1 354.8,292.4 355.5,292.7 356.2,293 356.8,293.3 357.5,293.7 358.2,294 358.9,294.4 359.6,294.8 360.2,295.2 360.9,295.6 361.6,295.9 362.3,296.2 363,296.4 363.6,296.5 364.3,296.6 365,296.6 365.7,296.6 366.4,296.6 367,296.6 367.7,296.6 368.4,296.6 369.1,296.6 369.8,296.6 370.4,296.6 371.1,296.5 371.8,296.4 372.5,296.3 373.2,296.2 373.8,296 374.5,295.9 375.2,295.7 375.9,295.6 376.6,295.4 377.2,295.3 377.9,295.2 378.6,295.2 379.3,295.1 380,295 380.6,294.9 381.3,294.8 382,294.8 382.7,294.7 383.4,294.7 384,294.7 384.7,294.7 385.4,294.8 386.1,295 386.8,295.2 387.4,295.4 388.1,295.7 388.8,296 389.5,296.2 390.2,296.5 390.8,296.7 391.5,296.9 392.2,297 392.9,297.2 393.6,297.4 394.2,297.6 394.9,297.7 395.6,297.9 396.3,298.1 397,298.2 397.6,298.3 398.3,298.5 399,298.6 399.7,298.7 400.4,298.7 401,298.8 401.7,298.8 402.4,298.9 403.1,298.9 403.8,299 404.4,299 405.1,299.1 405.8,299.1 406.5,299.2 407.2,299.2 407.8,299.2 408.5,299.2 409.2,299.3 409.9,299.3 410.6,299.3 411.2,299.3 411.9,299.3 412.6,299.3 413.3,299.3 414,299.3 414.6,299.3 415.3,299.3 416,299.3 416.7,299.2 417.4,299.2 418,299.2 418.7,299.2 419.4,299.1 420.1,299.1 420.8,299 421.4,299 422.1,299 422.8,298.9 423.5,298.9 424.2,298.9 424.8,298.8 425.5,298.8 426.2,298.7 426.9,298.7 427.6,298.7 428.2,298.6 428.9,298.6 429.6,298.6 430.3,298.5 431,298.5 431.6,298.5 432.3,298.4 433,298.4 433.7,298.4 434.4,298.3 435,298.3 435.7,298.3 436.4,298.2 437.1,298.2 437.8,298.2 438.4,298.1 439.1,298.1 439.8,298.1 440.5,298 441.2,298 441.8,297.9 442.5,297.9 443.2,297.9 443.9,297.8 444.6,297.8" stroke="#c03a12" stroke-width="0.75" fill="none" stroke-linejoin="round"/>
</g>
<path d="M306.5,225.6V233.7" stroke="#d04a10" stroke-width="1.3" fill="none"/>
<path d="M303.7,231.6L306.5,236.2L309.3,231.6L306.5,233.6Z" fill="#d04a10" stroke="#d04a10" stroke-width="0.5" stroke-linejoin="round"/>
<path d="M312.1,225.6V233.7" stroke="#e07a20" stroke-width="1.3" fill="none"/>
<path d="M309.3,231.6L312.1,236.2L314.9,231.6L312.1,233.6Z" fill="#e07a20" stroke="#e07a20" stroke-width="0.5" stroke-linejoin="round"/>
<path d="M316.9,225.6V233.7" stroke="#f5b000" stroke-width="1.3" fill="none"/>
<path d="M314.1,231.6L316.9,236.2L319.7,231.6L316.9,233.6Z" fill="#f5b000" stroke="#f5b000" stroke-width="0.5" stroke-linejoin="round"/>
<path d="M319.5,225.6V233.7" stroke="#ffe000" stroke-width="1.3" fill="none"/>
<path d="M316.7,231.6L319.5,236.2L322.3,231.6L319.5,233.6Z" fill="#ffe000" stroke="#ffe000" stroke-width="0.5" stroke-linejoin="round"/>
<path d="M267.55,316.2v-3.5M267.55,162.3v3.5M311.8,316.2v-3.5M311.8,162.3v3.5M356.05,316.2v-3.5M356.05,162.3v3.5M400.3,316.2v-3.5M400.3,162.3v3.5M444.55,316.2v-3.5M444.55,162.3v3.5M289.68,316.2v-2M289.68,162.3v2M333.93,316.2v-2M333.93,162.3v2M378.18,316.2v-2M378.18,162.3v2M422.43,316.2v-2M422.43,162.3v2M267.55,300.87h3.5M444.55,300.87h-3.5M267.55,270.04h3.5M444.55,270.04h-3.5M267.55,239.21h3.5M444.55,239.21h-3.5M267.55,208.38h3.5M444.55,208.38h-3.5M267.55,177.55h3.5M444.55,177.55h-3.5" stroke="#cc1f7a" stroke-width="1" fill="none"/>
<rect x="267.55" y="162.3" width="177" height="153.9" fill="none" stroke="#cc1f7a" stroke-width="1.1"/>
<text x="263.85" y="305.27" font-size="11.77" text-anchor="end" fill="#000" textLength="7.06" lengthAdjust="spacingAndGlyphs">1</text>
<text x="263.85" y="274.44" font-size="11.77" text-anchor="end" fill="#000" textLength="7.06" lengthAdjust="spacingAndGlyphs">2</text>
<text x="263.85" y="243.61" font-size="11.77" text-anchor="end" fill="#000" textLength="7.06" lengthAdjust="spacingAndGlyphs">3</text>
<text x="263.85" y="212.78" font-size="11.77" text-anchor="end" fill="#000" textLength="7.06" lengthAdjust="spacingAndGlyphs">4</text>
<text x="263.85" y="181.95" font-size="11.77" text-anchor="end" fill="#000" textLength="7.06" lengthAdjust="spacingAndGlyphs">5</text>
<text x="267.55" y="329.2" font-size="11.77" text-anchor="middle" fill="#000" textLength="7.06" lengthAdjust="spacingAndGlyphs">0</text>
<text x="311.8" y="329.2" font-size="11.77" text-anchor="middle" fill="#000" textLength="14.12" lengthAdjust="spacingAndGlyphs">25</text>
<text x="356.05" y="329.2" font-size="11.77" text-anchor="middle" fill="#000" textLength="14.12" lengthAdjust="spacingAndGlyphs">50</text>
<text x="400.3" y="329.2" font-size="11.77" text-anchor="middle" fill="#000" textLength="14.12" lengthAdjust="spacingAndGlyphs">75</text>
<text x="444.55" y="329.2" font-size="11.77" text-anchor="middle" fill="#000" textLength="21.19" lengthAdjust="spacingAndGlyphs">100</text>
<text x="356.05" y="344.8" font-size="11.77" text-anchor="middle" fill="#000" textLength="76.29" lengthAdjust="spacingAndGlyphs">Energy (meV)</text>
<text x="271.8" y="172.8" font-size="11.77" text-anchor="start" fill="#000" textLength="15.49" lengthAdjust="spacingAndGlyphs">(e)</text>
<rect x="356.55" y="168.15" width="82.25" height="73.35" fill="#fff"/>
<path d="M361.2,174.5 L366.4,170.7 L370.8,177.6 L375.6,177.6 L380.8,179.8 L385.5,184.8 L390.1,189.2 L395,192.8 L400.2,198 L405,201.5 L409.9,208.6 L414.6,214 L419.4,219.7 L424.3,219.7 L429.2,229.2 L434.1,237.5" stroke="#808080" stroke-width="1.6" fill="none"/>
<circle cx="361.2" cy="174.5" r="2.25" fill="#808080"/>
<circle cx="366.4" cy="170.7" r="2.25" fill="#808080"/>
<circle cx="370.8" cy="177.6" r="2.25" fill="#808080"/>
<circle cx="375.6" cy="177.6" r="2.25" fill="#808080"/>
<circle cx="380.8" cy="179.8" r="2.25" fill="#808080"/>
<circle cx="385.5" cy="184.8" r="2.25" fill="#808080"/>
<circle cx="390.1" cy="189.2" r="2.25" fill="#808080"/>
<circle cx="395" cy="192.8" r="2.25" fill="#808080"/>
<circle cx="400.2" cy="198" r="2.25" fill="#808080"/>
<circle cx="405" cy="201.5" r="2.25" fill="#808080"/>
<circle cx="409.9" cy="208.6" r="2.25" fill="#808080"/>
<circle cx="414.6" cy="214" r="2.25" fill="#808080"/>
<circle cx="419.4" cy="219.7" r="2.25" fill="#808080"/>
<circle cx="424.3" cy="219.7" r="2.25" fill="#808080"/>
<circle cx="429.2" cy="229.2" r="2.25" fill="#808080"/>
<circle cx="434.1" cy="237.5" r="2.25" fill="#808080"/>
<path d="M365.2,226.6H386.7" stroke="#808080" stroke-width="1.6"/><circle cx="376" cy="226.6" r="2.25" fill="#808080"/>
<text x="394.6" y="230.8" font-size="10.71" text-anchor="start" fill="#000" textLength="13.46" lengthAdjust="spacingAndGlyphs">SC</text>
<path d="M356.55,241.5v-3.5M356.55,168.15v3.5M380.8,241.5v-3.5M380.8,168.15v3.5M405.05,241.5v-3.5M405.05,168.15v3.5M429.3,241.5v-3.5M429.3,168.15v3.5M356.55,229.3h3.5M438.8,229.3h-3.5M356.55,211.16h3.5M438.8,211.16h-3.5M356.55,193.02h3.5M438.8,193.02h-3.5M356.55,174.88h3.5M438.8,174.88h-3.5" stroke="#222" stroke-width="1" fill="none"/>
<rect x="356.55" y="168.15" width="82.25" height="73.35" fill="none" stroke="#222" stroke-width="1.15"/>
<text x="352.45" y="233.7" font-size="11.45" text-anchor="end" fill="#000" textLength="13.74" lengthAdjust="spacingAndGlyphs">23</text>
<text x="352.45" y="215.56" font-size="11.45" text-anchor="end" fill="#000" textLength="13.74" lengthAdjust="spacingAndGlyphs">25</text>
<text x="352.45" y="197.42" font-size="11.45" text-anchor="end" fill="#000" textLength="13.74" lengthAdjust="spacingAndGlyphs">27</text>
<text x="352.45" y="179.28" font-size="11.45" text-anchor="end" fill="#000" textLength="13.74" lengthAdjust="spacingAndGlyphs">29</text>
<text x="356.55" y="254" font-size="11.45" text-anchor="middle" fill="#000" textLength="6.87" lengthAdjust="spacingAndGlyphs">0</text>
<text x="380.8" y="254" font-size="11.45" text-anchor="middle" fill="#000" textLength="6.87" lengthAdjust="spacingAndGlyphs">5</text>
<text x="405.05" y="254" font-size="11.45" text-anchor="middle" fill="#000" textLength="13.74" lengthAdjust="spacingAndGlyphs">10</text>
<text x="429.3" y="254" font-size="11.45" text-anchor="middle" fill="#000" textLength="13.74" lengthAdjust="spacingAndGlyphs">15</text>
<text x="397.88" y="268" font-size="10.71" text-anchor="middle" fill="#000" textLength="90.03" lengthAdjust="spacingAndGlyphs">Magnetic Field (T)</text>
<text transform="translate(333.4,204.8) rotate(-90)" font-size="11.4" text-anchor="middle" textLength="80" lengthAdjust="spacingAndGlyphs">Peak Pos. (meV)</text>
<text transform="translate(248.7,239.4) rotate(-90)" font-size="11.6" text-anchor="middle" textLength="103.5" lengthAdjust="spacingAndGlyphs"><tspan font-style="italic">σ</tspan><tspan font-size="8.5" font-style="italic" dy="2.6">xx</tspan><tspan dy="-2.6"> (10</tspan><tspan font-size="8.5" dy="-4.2">3</tspan><tspan dy="4.2"> Ω</tspan><tspan font-size="8.5" dy="-4.2">−1</tspan><tspan dy="4.2">cm</tspan><tspan font-size="8.5" dy="-4.2">−1</tspan><tspan dy="4.2">)</tspan></text>
<clipPath id="cc"><rect x="497.6" y="0.55" width="177.1" height="153.8"/></clipPath>
<g clip-path="url(#cc)">
<path d="M513.2,143.8 513.5,147.5 513.8,151.3 514.1,153.9 514.4,155.8 515.4,150.4 516,147.6 516.6,144.9 517.1,142.5 517.7,140 518.3,137.7 518.9,135.3 519.5,133 520.1,130.8 520.7,128.6 521.3,126.5 521.9,124.3 522.5,122.1 523.1,119.9 523.7,117.5 524.3,115.1 524.8,112.4 525.4,109.7 526,106.9 526.6,104 527.2,101 527.8,98 528.4,94.9 529,91.8 529.6,88.6 530.2,85.5 530.8,82.4 531.4,79.3 532,76.3 532.5,73.3 533.1,70.3 533.7,67.3 534.3,64.2 534.9,61.2 535.5,58.2 536.1,55.2 536.7,52.2 537.3,49.3 537.9,46.4 538.5,43.6 539.1,40.8 539.7,38 540.2,35.2 540.8,32.5 541.4,29.8 542,27.2 542.6,24.8 543.2,22.5 543.8,20.4 544.4,18.3 545,16.3 545.6,14.2 546.2,12.4 546.8,10.8 547.4,9.4 547.9,8.5 548.5,7.8 549.1,7.3 549.7,6.8 550.3,6.5 550.9,6.5 551.5,6.8 552.1,7.3 552.7,8.1 553.3,8.8 553.9,9.6 554.5,10.5 555.1,11.6 555.6,12.7 556.2,13.9 556.8,15.2 557.4,16.4 558,17.6 558.6,18.7 559.2,19.9 559.8,21.1 560.4,22.3 561,23.6 561.6,24.9 562.2,26.2 562.8,27.6 563.3,29.1 563.9,30.7 564.5,32.4 565.1,34.2 565.7,35.9 566.3,37.6 566.9,39.3 567.5,40.9 568.1,42.5 568.7,44.1 569.3,45.7 569.9,47.3 570.5,48.9 571,50.4 571.6,51.9 572.2,53.3 572.8,54.5 573.4,55.7 574,56.8 574.6,57.8 575.2,58.8 575.8,59.7 576.4,60.6 577,61.5 577.6,62.3 578.2,63.1 578.7,63.9 579.3,64.5 579.9,65.2 580.5,65.8 581.1,66.4 581.7,67 582.3,67.6 582.9,68.3 583.5,69 584.1,69.9 584.7,70.8 585.3,71.7 585.9,72.7 586.4,73.7 587,74.6 587.6,75.6 588.2,76.5 588.8,77.4 589.4,78.1 590,78.9 590.6,79.6 591.2,80.2 591.8,80.9 592.4,81.4 593,81.9 593.6,82.2 594.1,82.6 594.7,83 595.3,83.3 595.9,83.5 596.5,83.8 597.1,83.9 597.7,83.9 598.3,83.9 598.9,83.9 599.5,83.8 600.1,83.7 600.7,83.5 601.3,83.4 601.8,83.2 602.4,83 603,82.9 603.6,82.7 604.2,82.6 604.8,82.4 605.4,82.2 606,82 606.6,81.8 607.2,81.6 607.8,81.4 608.4,81.1 609,80.9 609.5,80.7 610.1,80.6 610.7,80.4 611.3,80.3 611.9,80.2 612.5,80.2 613.1,80.2 613.7,80.3 614.3,80.4 614.9,80.6 615.5,80.9 616.1,81.1 616.7,81.4 617.2,81.7 617.8,82 618.4,82.2 619,82.5 619.6,82.8 620.2,83.2 620.8,83.5 621.4,83.9 622,84.3 622.6,84.6 623.2,85 623.8,85.3 624.4,85.7 624.9,85.9 625.5,86.2 626.1,86.4 626.7,86.5 627.3,86.6 627.9,86.7 628.5,86.9 629.1,87 629.7,87.1 630.3,87.1 630.9,87.2 631.5,87.3 632.1,87.4 632.6,87.4 633.2,87.5 633.8,87.6 634.4,87.6 635,87.7 635.6,87.7 636.2,87.8 636.8,87.8 637.4,87.8 638,87.9 638.6,87.9 639.2,88 639.8,88 640.3,88 640.9,88.1 641.5,88.1 642.1,88.1 642.7,88.2 643.3,88.2 643.9,88.2 644.5,88.2 645.1,88.3 645.7,88.3 646.3,88.3 646.9,88.3 647.5,88.3 648,88.3 648.6,88.3 649.2,88.3 649.8,88.3 650.4,88.3 651,88.3 651.6,88.3 652.2,88.3 652.8,88.3 653.4,88.2 654,88.2 654.6,88.1 655.2,88.1 655.7,88.1 656.3,88 656.9,88 657.5,87.9 658.1,87.9 658.7,87.8 659.3,87.8 659.9,87.8 660.5,87.7 661.1,87.7 661.7,87.7 662.3,87.6 662.9,87.6 663.4,87.6 664,87.5 664.6,87.5 665.2,87.5 665.8,87.5 666.4,87.4 667,87.4 667.6,87.4 668.2,87.4 668.8,87.3 669.4,87.3 670,87.3 670.6,87.3 671.1,87.2 671.7,87.2 672.3,87.2 672.9,87.2 673.5,87.1 674.1,87.1 674.7,87.1" stroke="#111" stroke-width="1.1" fill="none" stroke-linejoin="round"/>
<path d="M517.7,125.4 518.3,135.4 518.9,142.3 519.5,145 520.1,143.6 520.7,139.9 521.3,135.7 521.9,132.1 522.5,128.5 523.1,124.7 523.7,120.8 524.3,117 524.8,113.1 525.4,109.4 526,105.9 526.6,102.6 527.2,99.6 527.8,96.7 528.4,93.8 529,91.1 529.6,88.4 530.2,85.9 530.8,83.3 531.4,80.9 532,78.4 532.5,76 533.1,73.6 533.7,71.3 534.3,68.9 534.9,66.6 535.5,64.2 536.1,61.8 536.7,59.4 537.3,56.9 537.9,54.3 538.5,51.8 539.1,49.3 539.7,47 540.2,44.8 540.8,42.8 541.4,41 542,39.3 542.6,37.6 543.2,36.1 543.8,34.8 544.4,33.7 545,32.9 545.6,32.1 546.2,31.7 546.8,31.8 547.4,32.3 547.9,33.2 548.5,34.1 549.1,35.1 549.7,36.3 550.3,37.7 550.9,39.3 551.5,40.8 552.1,42.3 552.7,43.9 553.3,45.5 553.9,47.2 554.5,48.8 555.1,50.5 555.6,52.1 556.2,53.8 556.8,55.5 557.4,57.1 558,58.6 558.6,60.1 559.2,61.5 559.8,62.9 560.4,64.3 561,65.6 561.6,67 562.2,68.4 562.8,69.9 563.3,71.4 563.9,73 564.5,74.4 565.1,75.9 565.7,77.2 566.3,78.5 566.9,79.6 567.5,80.6 568.1,81.6 568.7,82.5 569.3,83.4 569.9,84.2 570.5,84.9 571,85.6 571.6,86.2 572.2,86.7 572.8,87.1 573.4,87.6 574,88 574.6,88.4 575.2,88.8 575.8,89.1 576.4,89.4 577,89.8 577.6,90.1 578.2,90.4 578.7,90.7 579.3,91 579.9,91.3 580.5,91.6 581.1,91.9 581.7,92.3 582.3,92.6 582.9,93 583.5,93.3 584.1,93.6 584.7,93.9 585.3,94.2 585.9,94.5 586.4,94.8 587,95 587.6,95.2 588.2,95.4 588.8,95.5 589.4,95.7 590,95.9 590.6,96 591.2,96.2 591.8,96.3 592.4,96.4 593,96.5 593.6,96.5 594.1,96.5 594.7,96.5 595.3,96.4 595.9,96.3 596.5,96.1 597.1,95.9 597.7,95.7 598.3,95.4 598.9,95.2 599.5,95 600.1,94.7 600.7,94.5 601.3,94.3 601.8,94 602.4,93.7 603,93.4 603.6,93 604.2,92.7 604.8,92.3 605.4,92 606,91.7 606.6,91.3 607.2,91.1 607.8,90.8 608.4,90.6 609,90.4 609.5,90.3 610.1,90.2 610.7,90.2 611.3,90.2 611.9,90.2 612.5,90.2 613.1,90.2 613.7,90.2 614.3,90.2 614.9,90.2 615.5,90.2 616.1,90.2 616.7,90.2 617.2,90.2 617.8,90.2 618.4,90.2 619,90.2 619.6,90.2 620.2,90.2 620.8,90.2 621.4,90.2 622,90.2 622.6,90.3 623.2,90.3 623.8,90.3 624.4,90.3 624.9,90.4 625.5,90.4 626.1,90.5 626.7,90.5 627.3,90.6 627.9,90.7 628.5,90.7 629.1,90.8 629.7,90.9 630.3,90.9 630.9,91 631.5,91.1 632.1,91.1 632.6,91.2 633.2,91.2 633.8,91.3 634.4,91.3 635,91.4 635.6,91.4 636.2,91.5 636.8,91.5 637.4,91.5 638,91.5 638.6,91.5 639.2,91.5 639.8,91.5 640.3,91.4 640.9,91.4 641.5,91.4 642.1,91.3 642.7,91.3 643.3,91.3 643.9,91.2 644.5,91.1 645.1,91.1 645.7,91 646.3,90.9 646.9,90.9 647.5,90.8 648,90.7 648.6,90.7 649.2,90.6 649.8,90.5 650.4,90.4 651,90.3 651.6,90.3 652.2,90.2 652.8,90.1 653.4,90 654,90 654.6,89.9 655.2,89.8 655.7,89.7 656.3,89.7 656.9,89.6 657.5,89.6 658.1,89.5 658.7,89.4 659.3,89.4 659.9,89.3 660.5,89.2 661.1,89.2 661.7,89.1 662.3,89.1 662.9,89 663.4,88.9 664,88.9 664.6,88.8 665.2,88.7 665.8,88.7 666.4,88.6 667,88.6 667.6,88.5 668.2,88.4 668.8,88.4 669.4,88.3 670,88.2 670.6,88.2 671.1,88.1 671.7,88 672.3,88 672.9,87.9 673.5,87.9 674.1,87.8 674.7,87.7" stroke="#cc4414" stroke-width="1.0" fill="none" stroke-linejoin="round"/>
<path d="M515.4,157.3 516,156.3 516.6,155.3 517.1,154.4 517.7,153.5 518.3,152.6 518.9,151.7 519.5,150.9 520.1,150.1 520.7,149.4 521.3,148.7 521.9,148 522.5,147.4 523.1,146.8 523.7,146.2 524.3,145.6 524.8,145 525.4,144.4 526,143.7 526.6,142.8 527.2,142 527.8,141.1 528.4,140.4 529,139.8 529.6,139.5 530.2,139.4 530.8,139.5 531.4,139.7 532,140 532.5,140.4 533.1,140.8 533.7,141.3 534.3,141.8 534.9,142.3 535.5,142.8 536.1,143.2 536.7,143.6 537.3,144.1 537.9,144.6 538.5,145.1 539.1,145.6 539.7,146.1 540.2,146.6 540.8,147 541.4,147.3 542,147.6 542.6,147.9 543.2,148.2 543.8,148.5 544.4,148.7 545,149 545.6,149.2 546.2,149.3 546.8,149.4 547.4,149.5 547.9,149.4 548.5,149.4 549.1,149.2 549.7,149 550.3,148.8 550.9,148.6 551.5,148.3 552.1,147.8 552.7,147 553.3,145.8 553.9,144.3 554.5,142.5 555.1,139.3 555.6,135.1 556.2,130.6 556.8,126.7 557.4,123.6 558,120.6 558.6,117.9 559.2,115.5 559.8,113.5 560.4,111.7 561,110.2 561.6,108.8 562.2,107.7 562.8,106.8 563.3,106 563.9,105.4 564.5,104.9 565.1,104.4 565.7,103.9 566.3,103.4 566.9,102.8 567.5,102.1 568.1,101.3 568.7,100.2 569.3,99 569.9,97.5 570.5,96.1 571,94.7 571.6,93.4 572.2,92.3 572.8,91.2 573.4,90 574,88.9 574.6,87.9 575.2,87.1 575.8,86.6 576.4,86.5 577,86.6 577.6,86.9 578.2,87.3 578.7,87.8 579.3,88.3 579.9,88.7 580.5,89.1 581.1,89.4 581.7,89.7 582.3,90 582.9,90.2 583.5,90.5 584.1,90.8 584.7,91.1 585.3,91.4 585.9,91.7 586.4,92 587,92.4 587.6,92.8 588.2,93.2 588.8,93.7 589.4,94.2 590,94.7 590.6,95.3 591.2,95.8 591.8,96.3 592.4,96.7 593,97.2 593.6,97.5 594.1,97.8 594.7,98.1 595.3,98.3 595.9,98.6 596.5,98.9 597.1,99.1 597.7,99.4 598.3,99.6 598.9,99.8 599.5,99.9 600.1,100.1 600.7,100.2 601.3,100.3 601.8,100.3 602.4,100.3 603,100.3 603.6,100.3 604.2,100.3 604.8,100.3 605.4,100.3 606,100.3 606.6,100.3 607.2,100.3 607.8,100.3 608.4,100.3 609,100.3 609.5,100.3 610.1,100.3 610.7,100.3 611.3,100 611.9,99.7 612.5,99.2 613.1,98.6 613.7,97.9 614.3,97.2 614.9,96.5 615.5,95.7 616.1,95 616.7,94.3 617.2,93.7 617.8,93.1 618.4,92.5 619,91.8 619.6,91.1 620.2,90.5 620.8,89.8 621.4,89.2 622,88.5 622.6,87.8 623.2,87.2 623.8,86.5 624.4,85.9 624.9,85.3 625.5,84.9 626.1,84.4 626.7,83.9 627.3,83.5 627.9,83.2 628.5,82.9 629.1,82.7 629.7,82.5 630.3,82.3 630.9,82.2 631.5,82.1 632.1,82.1 632.6,82.4 633.2,83.2 633.8,84.4 634.4,85.7 635,87 635.6,88.2 636.2,89.6 636.8,91.2 637.4,92.7 638,94.1 638.6,95 639.2,95.3 639.8,95.1 640.3,94.7 640.9,94.1 641.5,93.4 642.1,92.6 642.7,91.8 643.3,90.7 643.9,89.4 644.5,88 645.1,86.5 645.7,85.2 646.3,84.1 646.9,83.2 647.5,82.2 648,81.3 648.6,80.4 649.2,79.7 649.8,79.2 650.4,78.9 651,79 651.6,79.3 652.2,79.9 652.8,80.6 653.4,81.3 654,82 654.6,82.8 655.2,83.8 655.7,84.9 656.3,85.8 656.9,86.6 657.5,87.1 658.1,87.4 658.7,87.6 659.3,87.8 659.9,88 660.5,88.1 661.1,88.3 661.7,88.3 662.3,88.3 662.9,88.3 663.4,88.3 664,88.2 664.6,88.2 665.2,88.1 665.8,88 666.4,87.9 667,87.8 667.6,87.7 668.2,87.7 668.8,87.6 669.4,87.5 670,87.5 670.6,87.4 671.1,87.4 671.7,87.3 672.3,87.3 672.9,87.2 673.5,87.2 674.1,87.1 674.7,87.1" stroke="#111" stroke-width="1.1" fill="none" stroke-linejoin="round" stroke-dasharray="2.8,1.4"/>
<path d="M497.6,154.5 498.2,154.5 498.8,154.5 499.4,154.5 500,154.5 500.6,154.4 501.2,154 501.7,153.3 502.3,152.3 502.9,151.3 503.5,150.3 504.1,149.5 504.7,148.8 505.3,148.1 505.9,147.3 506.5,146.6 507.1,145.9 507.7,145.3 508.3,144.8 508.9,144.4 509.4,144 510,143.7 510.6,143.4 511.2,143.1 511.8,142.9 512.4,142.6 513,142.2 513.6,141.9 514.2,141.5 514.8,141.2 515.4,140.8 516,140.4 516.6,140 517.1,139.6 517.7,139.2 518.3,138.7 518.9,138.3 519.5,137.8 520.1,137.4 520.7,136.9 521.3,136.3 521.9,135.8 522.5,135.3 523.1,134.7 523.7,134.2 524.3,133.6 524.8,132.9 525.4,132.1 526,131.3 526.6,130.6 527.2,130.1 527.8,129.9 528.4,130 529,130 529.6,130.1 530.2,130.3 530.8,130.4 531.4,130.5 532,130.5 532.5,130.6 533.1,130.5 533.7,130.4 534.3,130.2 534.9,130 535.5,129.7 536.1,129.4 536.7,129.1 537.3,128.7 537.9,128.3 538.5,127.9 539.1,127.5 539.7,126.8 540.2,126.1 540.8,125.3 541.4,124.5 542,123.5 542.6,122.6 543.2,121.7 543.8,120.7 544.4,119.8 545,118.8 545.6,117.6 546.2,116.6 546.8,115.7 547.4,115.2 547.9,114.7 548.5,114.4 549.1,114.1 549.7,113.8 550.3,113.5 550.9,113.2 551.5,112.9 552.1,112.5 552.7,112 553.3,111.5 553.9,111.1 554.5,110.7 555.1,110.5 555.6,110.4 556.2,110.6 556.8,110.9 557.4,111.5 558,112 558.6,112.7 559.2,113.2 559.8,113.7 560.4,114 561,114.2 561.6,113.9 562.2,113.3 562.8,112.4 563.3,111.5 563.9,110.6 564.5,110 565.1,109.8 565.7,109.9 566.3,110.2 566.9,110.7 567.5,111.4 568.1,112.1 568.7,112.8 569.3,113.5 569.9,114.2 570.5,114.7 571,115.2 571.6,115.4 572.2,115.4 572.8,115.3 573.4,114.9 574,114.5 574.6,114 575.2,113.4 575.8,112.8 576.4,112.3 577,111.8 577.6,111.4 578.2,111.1 578.7,111 579.3,111.1 579.9,111.2 580.5,111.4 581.1,111.7 581.7,112 582.3,112.4 582.9,112.7 583.5,113.1 584.1,113.4 584.7,113.7 585.3,113.9 585.9,114.1 586.4,114.2 587,114.2 587.6,114.1 588.2,114 588.8,113.9 589.4,113.7 590,113.5 590.6,113.3 591.2,113 591.8,112.7 592.4,112 593,110.9 593.6,109.7 594.1,108.4 594.7,107.2 595.3,106.2 595.9,105.6 596.5,105.4 597.1,105.5 597.7,105.9 598.3,106.4 598.9,107 599.5,107.7 600.1,108.4 600.7,109.1 601.3,109.8 601.8,110.4 602.4,110.8 603,111 603.6,111 604.2,110.9 604.8,110.8 605.4,110.5 606,110.3 606.6,110 607.2,109.7 607.8,109.4 608.4,109.1 609,108.8 609.5,108.5 610.1,108.1 610.7,107.8 611.3,107.4 611.9,107.1 612.5,106.9 613.1,106.7 613.7,106.6 614.3,106.7 614.9,107.1 615.5,107.6 616.1,108.2 616.7,108.8 617.2,109.5 617.8,110 618.4,110.3 619,110.4 619.6,110.3 620.2,110.1 620.8,109.8 621.4,109.4 622,108.9 622.6,108.5 623.2,108 623.8,107.5 624.4,107.1 624.9,106.7 625.5,106.4 626.1,106 626.7,105.6 627.3,105.3 627.9,104.9 628.5,104.6 629.1,104.4 629.7,104.2 630.3,104.1 630.9,104.1 631.5,104.2 632.1,104.4 632.6,104.6 633.2,104.8 633.8,105 634.4,105.2 635,105.3 635.6,105.4 636.2,105.2 636.8,104.6 637.4,103.7 638,102.7 638.6,102 639.2,101.6 639.8,101.6 640.3,101.6 640.9,101.6 641.5,101.6 642.1,101.6 642.7,101.6 643.3,101.6 643.9,101.6 644.5,101.6 645.1,101.5 645.7,101.3 646.3,101 646.9,100.6 647.5,100.2 648,99.8 648.6,99.4 649.2,99.2 649.8,99.1 650.4,99.1 651,99.2 651.6,99.4 652.2,99.6 652.8,99.8 653.4,100 654,100.1 654.6,100.3 655.2,100.3 655.7,100.1 656.3,99.6 656.9,98.8 657.5,97.7 658.1,96.5 658.7,95.3 659.3,94.1 659.9,93.1 660.5,92.2 661.1,91.7 661.7,91.5 662.3,91.8 662.9,92.5 663.4,93.4 664,94.5 664.6,95.7 665.2,96.8 665.8,97.8 666.4,98.7 667,99.8 667.6,100.9 668.2,101.9 668.8,102.6 669.4,102.8 670,102.8 670.6,102.8 671.1,102.6 671.7,102.4 672.3,102.1 672.9,101.6 673.5,101 674.1,100.1 674.7,99.1" stroke="#cc4414" stroke-width="1.05" fill="none" stroke-linejoin="round" stroke-dasharray="2.8,1.4"/>
</g>
<path d="M497.6,154.35v-3.5M497.6,0.55v3.5M541.88,154.35v-3.5M541.88,0.55v3.5M586.15,154.35v-3.5M586.15,0.55v3.5M630.43,154.35v-3.5M630.43,0.55v3.5M674.7,154.35v-3.5M674.7,0.55v3.5M519.74,154.35v-2M519.74,0.55v2M564.01,154.35v-2M564.01,0.55v2M608.29,154.35v-2M608.29,0.55v2M652.56,154.35v-2M652.56,0.55v2M497.6,154.5h3.5M674.7,154.5h-3.5M497.6,123h3.5M674.7,123h-3.5M497.6,91.5h3.5M674.7,91.5h-3.5M497.6,60h3.5M674.7,60h-3.5M497.6,28.5h3.5M674.7,28.5h-3.5" stroke="#1a9a96" stroke-width="1" fill="none"/>
<rect x="497.6" y="0.55" width="177.1" height="153.8" fill="none" stroke="#1a9a96" stroke-width="1.1"/>
<text x="493.2" y="158.9" font-size="11.77" text-anchor="end" fill="#000" textLength="17.65" lengthAdjust="spacingAndGlyphs">0.0</text>
<text x="493.2" y="127.4" font-size="11.77" text-anchor="end" fill="#000" textLength="17.65" lengthAdjust="spacingAndGlyphs">0.5</text>
<text x="493.2" y="95.9" font-size="11.77" text-anchor="end" fill="#000" textLength="17.65" lengthAdjust="spacingAndGlyphs">1.0</text>
<text x="493.2" y="64.4" font-size="11.77" text-anchor="end" fill="#000" textLength="17.65" lengthAdjust="spacingAndGlyphs">1.5</text>
<text x="493.2" y="32.9" font-size="11.77" text-anchor="end" fill="#000" textLength="17.65" lengthAdjust="spacingAndGlyphs">2.0</text>
<text x="502.2" y="10.9" font-size="11.77" text-anchor="start" fill="#000" textLength="14.76" lengthAdjust="spacingAndGlyphs">(c)</text>
<text x="617.1" y="19.8" font-size="11.1" fill="#cc4414" textLength="46.9" lengthAdjust="spacingAndGlyphs">16T <tspan font-style="italic">H</tspan>⊥<tspan font-style="italic">a</tspan></text>
<text x="617.1" y="35" font-size="11.13" text-anchor="start" fill="#000" textLength="16.43" lengthAdjust="spacingAndGlyphs">0 T</text>
<path d="M600.8,124.3H622.2" stroke="#999" stroke-width="1"/>
<path d="M600.8,139.4H621.1" stroke="#999" stroke-width="1" stroke-dasharray="2.8,1.4"/>
<text x="630.3" y="128.2" font-size="10.6" text-anchor="start" fill="#000" textLength="18.58" lengthAdjust="spacingAndGlyphs">Exp</text>
<text x="630.3" y="143.3" font-size="10.6" text-anchor="start" fill="#000" textLength="34.75" lengthAdjust="spacingAndGlyphs">Theory</text>
<clipPath id="cf"><rect x="497.6" y="162.3" width="177.1" height="153.9"/></clipPath>
<g clip-path="url(#cf)">
<path d="M513.2,305.7 513.5,309.4 513.8,313.2 514.1,315.8 514.4,317.7 515.4,312.3 516,309.5 516.6,306.8 517.1,304.4 517.7,301.9 518.3,299.6 518.9,297.2 519.5,294.9 520.1,292.7 520.7,290.5 521.3,288.4 521.9,286.2 522.5,284 523.1,281.8 523.7,279.4 524.3,277 524.8,274.3 525.4,271.6 526,268.8 526.6,265.9 527.2,262.9 527.8,259.9 528.4,256.8 529,253.7 529.6,250.5 530.2,247.4 530.8,244.3 531.4,241.2 532,238.2 532.5,235.2 533.1,232.2 533.7,229.2 534.3,226.1 534.9,223.1 535.5,220.1 536.1,217.1 536.7,214.1 537.3,211.2 537.9,208.3 538.5,205.5 539.1,202.7 539.7,199.9 540.2,197.1 540.8,194.4 541.4,191.7 542,189.1 542.6,186.7 543.2,184.4 543.8,182.3 544.4,180.2 545,178.2 545.6,176.1 546.2,174.3 546.8,172.7 547.4,171.3 547.9,170.4 548.5,169.7 549.1,169.2 549.7,168.7 550.3,168.4 550.9,168.4 551.5,168.7 552.1,169.2 552.7,170 553.3,170.7 553.9,171.5 554.5,172.4 555.1,173.5 555.6,174.6 556.2,175.8 556.8,177.1 557.4,178.3 558,179.5 558.6,180.6 559.2,181.8 559.8,183 560.4,184.2 561,185.5 561.6,186.8 562.2,188.1 562.8,189.5 563.3,191 563.9,192.6 564.5,194.3 565.1,196.1 565.7,197.8 566.3,199.5 566.9,201.2 567.5,202.8 568.1,204.4 568.7,206 569.3,207.6 569.9,209.2 570.5,210.8 571,212.3 571.6,213.8 572.2,215.2 572.8,216.4 573.4,217.6 574,218.7 574.6,219.7 575.2,220.7 575.8,221.6 576.4,222.5 577,223.4 577.6,224.2 578.2,225 578.7,225.8 579.3,226.4 579.9,227.1 580.5,227.7 581.1,228.3 581.7,228.9 582.3,229.5 582.9,230.2 583.5,230.9 584.1,231.8 584.7,232.7 585.3,233.6 585.9,234.6 586.4,235.6 587,236.5 587.6,237.5 588.2,238.4 588.8,239.3 589.4,240 590,240.8 590.6,241.5 591.2,242.1 591.8,242.8 592.4,243.3 593,243.8 593.6,244.1 594.1,244.5 594.7,244.9 595.3,245.2 595.9,245.4 596.5,245.7 597.1,245.8 597.7,245.8 598.3,245.8 598.9,245.8 599.5,245.7 600.1,245.6 600.7,245.4 601.3,245.3 601.8,245.1 602.4,244.9 603,244.8 603.6,244.6 604.2,244.5 604.8,244.3 605.4,244.1 606,243.9 606.6,243.7 607.2,243.5 607.8,243.3 608.4,243 609,242.8 609.5,242.6 610.1,242.5 610.7,242.3 611.3,242.2 611.9,242.1 612.5,242.1 613.1,242.1 613.7,242.2 614.3,242.3 614.9,242.5 615.5,242.8 616.1,243 616.7,243.3 617.2,243.6 617.8,243.9 618.4,244.1 619,244.4 619.6,244.7 620.2,245.1 620.8,245.4 621.4,245.8 622,246.2 622.6,246.5 623.2,246.9 623.8,247.2 624.4,247.6 624.9,247.8 625.5,248.1 626.1,248.3 626.7,248.4 627.3,248.5 627.9,248.6 628.5,248.8 629.1,248.9 629.7,249 630.3,249 630.9,249.1 631.5,249.2 632.1,249.3 632.6,249.3 633.2,249.4 633.8,249.5 634.4,249.5 635,249.6 635.6,249.6 636.2,249.7 636.8,249.7 637.4,249.7 638,249.8 638.6,249.8 639.2,249.9 639.8,249.9 640.3,249.9 640.9,250 641.5,250 642.1,250 642.7,250.1 643.3,250.1 643.9,250.1 644.5,250.1 645.1,250.2 645.7,250.2 646.3,250.2 646.9,250.2 647.5,250.2 648,250.2 648.6,250.2 649.2,250.2 649.8,250.2 650.4,250.2 651,250.2 651.6,250.2 652.2,250.2 652.8,250.2 653.4,250.1 654,250.1 654.6,250 655.2,250 655.7,250 656.3,249.9 656.9,249.9 657.5,249.8 658.1,249.8 658.7,249.7 659.3,249.7 659.9,249.7 660.5,249.6 661.1,249.6 661.7,249.6 662.3,249.5 662.9,249.5 663.4,249.5 664,249.4 664.6,249.4 665.2,249.4 665.8,249.4 666.4,249.3 667,249.3 667.6,249.3 668.2,249.3 668.8,249.2 669.4,249.2 670,249.2 670.6,249.2 671.1,249.1 671.7,249.1 672.3,249.1 672.9,249.1 673.5,249 674.1,249 674.7,249" stroke="#111" stroke-width="1.1" fill="none" stroke-linejoin="round"/>
<path d="M517.7,290.2 518.3,295.5 518.9,298.6 519.5,299.3 520.1,296.9 520.7,292.6 521.3,287.7 521.9,283.5 522.5,279.1 523.1,274.4 523.7,269.6 524.3,264.7 524.8,259.7 525.4,254.8 526,250 526.6,245.5 527.2,241.1 527.8,236.9 528.4,232.9 529,228.9 529.6,225.1 530.2,221.5 530.8,218 531.4,214.7 532,211.4 532.5,208.4 533.1,205.6 533.7,202.9 534.3,200.3 534.9,197.8 535.5,195.5 536.1,193.6 536.7,192 537.3,190.5 537.9,189 538.5,187.7 539.1,186.5 539.7,185.5 540.2,184.9 540.8,184.7 541.4,184.9 542,185.3 542.6,185.9 543.2,186.7 543.8,187.5 544.4,188.6 545,190.1 545.6,191.9 546.2,193.9 546.8,195.9 547.4,197.9 547.9,200.1 548.5,202.6 549.1,205.2 549.7,207.7 550.3,210.2 550.9,212.5 551.5,214.7 552.1,216.9 552.7,219 553.3,221 553.9,222.9 554.5,224.7 555.1,226.4 555.6,227.9 556.2,229.4 556.8,230.7 557.4,232 558,233.2 558.6,234.3 559.2,235.4 559.8,236.5 560.4,237.4 561,238.2 561.6,238.8 562.2,239.2 562.8,239.4 563.3,239.7 563.9,239.9 564.5,240 565.1,240.2 565.7,240.3 566.3,240.5 566.9,240.7 567.5,240.9 568.1,241.1 568.7,241.3 569.3,241.5 569.9,241.7 570.5,241.9 571,242.1 571.6,242.4 572.2,242.6 572.8,242.9 573.4,243.2 574,243.5 574.6,243.8 575.2,244.2 575.8,244.6 576.4,245 577,245.5 577.6,246 578.2,246.5 578.7,247 579.3,247.5 579.9,248 580.5,248.6 581.1,249.2 581.7,249.9 582.3,250.6 582.9,251.3 583.5,252.1 584.1,252.8 584.7,253.4 585.3,254 585.9,254.5 586.4,254.8 587,255.2 587.6,255.5 588.2,255.9 588.8,256.2 589.4,256.5 590,256.8 590.6,257 591.2,257.2 591.8,257.4 592.4,257.6 593,257.7 593.6,257.8 594.1,257.8 594.7,257.8 595.3,257.7 595.9,257.6 596.5,257.4 597.1,257.2 597.7,257 598.3,256.7 598.9,256.5 599.5,256.2 600.1,256 600.7,255.8 601.3,255.5 601.8,255.2 602.4,254.9 603,254.6 603.6,254.3 604.2,254 604.8,253.7 605.4,253.4 606,253.1 606.6,253 607.2,252.8 607.8,252.7 608.4,252.6 609,252.6 609.5,252.5 610.1,252.4 610.7,252.3 611.3,252.3 611.9,252.2 612.5,252.2 613.1,252.2 613.7,252.2 614.3,252.1 614.9,252.1 615.5,252.2 616.1,252.2 616.7,252.3 617.2,252.4 617.8,252.4 618.4,252.5 619,252.6 619.6,252.7 620.2,252.8 620.8,252.9 621.4,253 622,253.1 622.6,253.2 623.2,253.3 623.8,253.3 624.4,253.4 624.9,253.4 625.5,253.4 626.1,253.4 626.7,253.4 627.3,253.4 627.9,253.4 628.5,253.4 629.1,253.4 629.7,253.4 630.3,253.4 630.9,253.4 631.5,253.4 632.1,253.4 632.6,253.4 633.2,253.4 633.8,253.4 634.4,253.4 635,253.4 635.6,253.4 636.2,253.4 636.8,253.4 637.4,253.4 638,253.4 638.6,253.4 639.2,253.4 639.8,253.4 640.3,253.3 640.9,253.3 641.5,253.3 642.1,253.2 642.7,253.2 643.3,253.2 643.9,253.1 644.5,253 645.1,253 645.7,252.9 646.3,252.8 646.9,252.8 647.5,252.7 648,252.6 648.6,252.6 649.2,252.5 649.8,252.4 650.4,252.3 651,252.2 651.6,252.2 652.2,252.1 652.8,252 653.4,251.9 654,251.9 654.6,251.8 655.2,251.7 655.7,251.6 656.3,251.6 656.9,251.5 657.5,251.5 658.1,251.4 658.7,251.3 659.3,251.3 659.9,251.2 660.5,251.1 661.1,251.1 661.7,251 662.3,251 662.9,250.9 663.4,250.8 664,250.8 664.6,250.7 665.2,250.6 665.8,250.6 666.4,250.5 667,250.5 667.6,250.4 668.2,250.3 668.8,250.3 669.4,250.2 670,250.1 670.6,250.1 671.1,250 671.7,249.9 672.3,249.9 672.9,249.8 673.5,249.8 674.1,249.7 674.7,249.6" stroke="#cc4414" stroke-width="1.0" fill="none" stroke-linejoin="round"/>
<path d="M515.4,319.2 516,318.2 516.6,317.2 517.1,316.3 517.7,315.4 518.3,314.5 518.9,313.6 519.5,312.8 520.1,312 520.7,311.3 521.3,310.6 521.9,309.9 522.5,309.3 523.1,308.7 523.7,308.1 524.3,307.5 524.8,306.9 525.4,306.3 526,305.6 526.6,304.7 527.2,303.9 527.8,303 528.4,302.3 529,301.7 529.6,301.4 530.2,301.3 530.8,301.4 531.4,301.6 532,301.9 532.5,302.3 533.1,302.7 533.7,303.2 534.3,303.7 534.9,304.2 535.5,304.7 536.1,305.1 536.7,305.5 537.3,306 537.9,306.5 538.5,307 539.1,307.5 539.7,308 540.2,308.5 540.8,308.9 541.4,309.2 542,309.5 542.6,309.8 543.2,310.1 543.8,310.4 544.4,310.6 545,310.9 545.6,311.1 546.2,311.2 546.8,311.3 547.4,311.4 547.9,311.3 548.5,311.3 549.1,311.1 549.7,310.9 550.3,310.7 550.9,310.5 551.5,310.2 552.1,309.7 552.7,308.9 553.3,307.7 553.9,306.2 554.5,304.4 555.1,301.2 555.6,297 556.2,292.5 556.8,288.6 557.4,285.5 558,282.5 558.6,279.8 559.2,277.4 559.8,275.4 560.4,273.6 561,272.1 561.6,270.7 562.2,269.6 562.8,268.7 563.3,267.9 563.9,267.3 564.5,266.8 565.1,266.3 565.7,265.8 566.3,265.3 566.9,264.7 567.5,264 568.1,263.2 568.7,262.1 569.3,260.9 569.9,259.4 570.5,258 571,256.6 571.6,255.3 572.2,254.2 572.8,253.1 573.4,251.9 574,250.8 574.6,249.8 575.2,249 575.8,248.5 576.4,248.4 577,248.5 577.6,248.8 578.2,249.2 578.7,249.7 579.3,250.2 579.9,250.6 580.5,251 581.1,251.3 581.7,251.6 582.3,251.9 582.9,252.1 583.5,252.4 584.1,252.7 584.7,253 585.3,253.3 585.9,253.6 586.4,253.9 587,254.3 587.6,254.7 588.2,255.1 588.8,255.6 589.4,256.1 590,256.6 590.6,257.2 591.2,257.7 591.8,258.2 592.4,258.6 593,259.1 593.6,259.4 594.1,259.7 594.7,260 595.3,260.2 595.9,260.5 596.5,260.8 597.1,261 597.7,261.3 598.3,261.5 598.9,261.7 599.5,261.8 600.1,262 600.7,262.1 601.3,262.2 601.8,262.2 602.4,262.2 603,262.2 603.6,262.2 604.2,262.2 604.8,262.2 605.4,262.2 606,262.2 606.6,262.2 607.2,262.2 607.8,262.2 608.4,262.2 609,262.2 609.5,262.2 610.1,262.2 610.7,262.2 611.3,261.9 611.9,261.6 612.5,261.1 613.1,260.5 613.7,259.8 614.3,259.1 614.9,258.4 615.5,257.6 616.1,256.9 616.7,256.2 617.2,255.6 617.8,255 618.4,254.4 619,253.7 619.6,253 620.2,252.4 620.8,251.7 621.4,251.1 622,250.4 622.6,249.7 623.2,249.1 623.8,248.4 624.4,247.8 624.9,247.2 625.5,246.8 626.1,246.3 626.7,245.8 627.3,245.4 627.9,245.1 628.5,244.8 629.1,244.6 629.7,244.4 630.3,244.2 630.9,244.1 631.5,244 632.1,244 632.6,244.3 633.2,245.1 633.8,246.3 634.4,247.6 635,248.9 635.6,250.1 636.2,251.5 636.8,253.1 637.4,254.6 638,256 638.6,256.9 639.2,257.2 639.8,257 640.3,256.6 640.9,256 641.5,255.3 642.1,254.5 642.7,253.7 643.3,252.6 643.9,251.3 644.5,249.9 645.1,248.4 645.7,247.1 646.3,246 646.9,245.1 647.5,244.1 648,243.2 648.6,242.3 649.2,241.6 649.8,241.1 650.4,240.8 651,240.9 651.6,241.2 652.2,241.8 652.8,242.5 653.4,243.2 654,243.9 654.6,244.7 655.2,245.7 655.7,246.8 656.3,247.7 656.9,248.5 657.5,249 658.1,249.3 658.7,249.5 659.3,249.7 659.9,249.9 660.5,250 661.1,250.2 661.7,250.2 662.3,250.2 662.9,250.2 663.4,250.2 664,250.1 664.6,250.1 665.2,250 665.8,249.9 666.4,249.8 667,249.7 667.6,249.6 668.2,249.6 668.8,249.5 669.4,249.4 670,249.4 670.6,249.3 671.1,249.3 671.7,249.2 672.3,249.2 672.9,249.1 673.5,249.1 674.1,249 674.7,249" stroke="#111" stroke-width="1.1" fill="none" stroke-linejoin="round" stroke-dasharray="2.8,1.4"/>
<path d="M497.6,316.4 498.2,316.4 498.8,316.3 499.4,316.1 500,315.9 500.6,315.7 501.2,315.4 501.7,315.1 502.3,314.6 502.9,314 503.5,313.1 504.1,312.2 504.7,311.3 505.3,310.4 505.9,309.7 506.5,308.9 507.1,308.1 507.7,307.4 508.3,306.7 508.9,306.3 509.4,305.8 510,305.4 510.6,305.2 511.2,305.1 511.8,305.1 512.4,305.2 513,305.4 513.6,305.6 514.2,305.8 514.8,306 515.4,306.2 516,306.4 516.6,306.5 517.1,306.7 517.7,306.9 518.3,307.1 518.9,307.3 519.5,307.5 520.1,307.6 520.7,307.6 521.3,307.5 521.9,307.4 522.5,307.3 523.1,307.1 523.7,306.9 524.3,306.7 524.8,306.5 525.4,306.3 526,306.1 526.6,306 527.2,305.8 527.8,305.7 528.4,305.5 529,305.4 529.6,305.2 530.2,304.9 530.8,304.7 531.4,304.4 532,303.9 532.5,303.3 533.1,302.6 533.7,301.7 534.3,300.8 534.9,299.8 535.5,298.7 536.1,297.4 536.7,295.9 537.3,294.2 537.9,292.2 538.5,289.5 539.1,286 539.7,282.3 540.2,278.7 540.8,275.7 541.4,272.6 542,269.4 542.6,266.4 543.2,263.8 543.8,261.9 544.4,261 545,261 545.6,261 546.2,261.1 546.8,261.2 547.4,261.4 547.9,261.6 548.5,261.8 549.1,262.1 549.7,262.5 550.3,263 550.9,263.5 551.5,264 552.1,264.5 552.7,264.9 553.3,265.2 553.9,265.6 554.5,266 555.1,266.3 555.6,266.7 556.2,267 556.8,267.3 557.4,267.6 558,267.8 558.6,268 559.2,268.2 559.8,268.3 560.4,268.5 561,268.6 561.6,268.7 562.2,268.8 562.8,269 563.3,269.2 563.9,269.6 564.5,270 565.1,270.5 565.7,271.1 566.3,271.6 566.9,272.1 567.5,272.5 568.1,272.8 568.7,272.9 569.3,272.9 569.9,272.6 570.5,272.3 571,271.8 571.6,271.4 572.2,271 572.8,270.6 573.4,270.4 574,270.4 574.6,270.4 575.2,270.5 575.8,270.5 576.4,270.6 577,270.7 577.6,270.8 578.2,270.9 578.7,271 579.3,271.1 579.9,271.2 580.5,271.3 581.1,271.5 581.7,271.7 582.3,271.8 582.9,272 583.5,272.2 584.1,272.3 584.7,272.5 585.3,272.6 585.9,272.7 586.4,272.8 587,272.9 587.6,272.9 588.2,272.9 588.8,272.8 589.4,272.6 590,272.4 590.6,272.1 591.2,271.8 591.8,271.5 592.4,270.9 593,270.1 593.6,269.1 594.1,268.2 594.7,267.3 595.3,266.6 595.9,266.1 596.5,266 597.1,266.2 597.7,266.6 598.3,267.2 598.9,268 599.5,268.9 600.1,269.8 600.7,270.6 601.3,271.4 601.8,272.1 602.4,272.6 603,272.9 603.6,272.9 604.2,272.8 604.8,272.7 605.4,272.4 606,272.2 606.6,271.9 607.2,271.6 607.8,271.3 608.4,271 609,270.7 609.5,270.3 610.1,269.8 610.7,269.4 611.3,268.9 611.9,268.5 612.5,268.2 613.1,268 613.7,267.9 614.3,268 614.9,268.4 615.5,269 616.1,269.7 616.7,270.5 617.2,271.2 617.8,271.8 618.4,272.2 619,272.3 619.6,272.2 620.2,271.9 620.8,271.5 621.4,271 622,270.5 622.6,269.9 623.2,269.3 623.8,268.8 624.4,268.3 624.9,268 625.5,267.7 626.1,267.4 626.7,267.1 627.3,266.8 627.9,266.6 628.5,266.4 629.1,266.2 629.7,266.1 630.3,266 630.9,266 631.5,266.1 632.1,266.3 632.6,266.5 633.2,266.7 633.8,266.9 634.4,267.1 635,267.2 635.6,267.3 636.2,267.1 636.8,266.5 637.4,265.6 638,264.6 638.6,263.9 639.2,263.5 639.8,263.5 640.3,263.5 640.9,263.5 641.5,263.5 642.1,263.5 642.7,263.5 643.3,263.5 643.9,263.5 644.5,263.5 645.1,263.4 645.7,263.2 646.3,262.9 646.9,262.5 647.5,262.1 648,261.7 648.6,261.3 649.2,261.1 649.8,261 650.4,261 651,261.1 651.6,261.3 652.2,261.5 652.8,261.7 653.4,261.9 654,262 654.6,262.2 655.2,262.2 655.7,262 656.3,261.5 656.9,260.7 657.5,259.6 658.1,258.4 658.7,257.2 659.3,256 659.9,255 660.5,254.1 661.1,253.6 661.7,253.4 662.3,253.7 662.9,254.4 663.4,255.3 664,256.4 664.6,257.6 665.2,258.7 665.8,259.7 666.4,260.6 667,261.7 667.6,262.8 668.2,263.8 668.8,264.5 669.4,264.7 670,264.7 670.6,264.7 671.1,264.5 671.7,264.3 672.3,264 672.9,263.5 673.5,262.9 674.1,262 674.7,261" stroke="#cc4414" stroke-width="1.05" fill="none" stroke-linejoin="round" stroke-dasharray="2.8,1.4"/>
</g>
<path d="M497.6,316.2v-3.5M497.6,162.3v3.5M541.88,316.2v-3.5M541.88,162.3v3.5M586.15,316.2v-3.5M586.15,162.3v3.5M630.43,316.2v-3.5M630.43,162.3v3.5M674.7,316.2v-3.5M674.7,162.3v3.5M519.74,316.2v-2M519.74,162.3v2M564.01,316.2v-2M564.01,162.3v2M608.29,316.2v-2M608.29,162.3v2M652.56,316.2v-2M652.56,162.3v2M497.6,316.4h3.5M674.7,316.4h-3.5M497.6,284.9h3.5M674.7,284.9h-3.5M497.6,253.4h3.5M674.7,253.4h-3.5M497.6,221.9h3.5M674.7,221.9h-3.5M497.6,190.4h3.5M674.7,190.4h-3.5" stroke="#cc1f7a" stroke-width="1" fill="none"/>
<rect x="497.6" y="162.3" width="177.1" height="153.9" fill="none" stroke="#cc1f7a" stroke-width="1.1"/>
<text x="493.2" y="320.8" font-size="11.77" text-anchor="end" fill="#000" textLength="17.65" lengthAdjust="spacingAndGlyphs">0.0</text>
<text x="493.2" y="289.3" font-size="11.77" text-anchor="end" fill="#000" textLength="17.65" lengthAdjust="spacingAndGlyphs">0.5</text>
<text x="493.2" y="257.8" font-size="11.77" text-anchor="end" fill="#000" textLength="17.65" lengthAdjust="spacingAndGlyphs">1.0</text>
<text x="493.2" y="226.3" font-size="11.77" text-anchor="end" fill="#000" textLength="17.65" lengthAdjust="spacingAndGlyphs">1.5</text>
<text x="493.2" y="194.8" font-size="11.77" text-anchor="end" fill="#000" textLength="17.65" lengthAdjust="spacingAndGlyphs">2.0</text>
<text x="502.2" y="173.1" font-size="11.77" text-anchor="start" fill="#000" textLength="12.57" lengthAdjust="spacingAndGlyphs">(f)</text>
<text x="617.1" y="181.8" font-size="11.1" fill="#cc4414" textLength="44.6" lengthAdjust="spacingAndGlyphs">16T <tspan font-style="italic">H</tspan>∥<tspan font-style="italic">a</tspan></text>
<text x="617.1" y="197" font-size="11.13" text-anchor="start" fill="#000" textLength="16.43" lengthAdjust="spacingAndGlyphs">0 T</text>
<path d="M600.8,286.3H622.2" stroke="#999" stroke-width="1"/>
<path d="M600.8,301.4H621.1" stroke="#999" stroke-width="1" stroke-dasharray="2.8,1.4"/>
<text x="630.3" y="290.2" font-size="10.6" text-anchor="start" fill="#000" textLength="18.58" lengthAdjust="spacingAndGlyphs">Exp</text>
<text x="630.3" y="305.3" font-size="10.6" text-anchor="start" fill="#000" textLength="34.75" lengthAdjust="spacingAndGlyphs">Theory</text>
<text x="497.6" y="329.2" font-size="11.77" text-anchor="middle" fill="#000" textLength="7.06" lengthAdjust="spacingAndGlyphs">0</text>
<text x="541.88" y="329.2" font-size="11.77" text-anchor="middle" fill="#000" textLength="14.12" lengthAdjust="spacingAndGlyphs">25</text>
<text x="586.15" y="329.2" font-size="11.77" text-anchor="middle" fill="#000" textLength="14.12" lengthAdjust="spacingAndGlyphs">50</text>
<text x="630.43" y="329.2" font-size="11.77" text-anchor="middle" fill="#000" textLength="14.12" lengthAdjust="spacingAndGlyphs">75</text>
<text x="674.7" y="329.2" font-size="11.77" text-anchor="middle" fill="#000" textLength="21.19" lengthAdjust="spacingAndGlyphs">100</text>
<text x="586.15" y="344.8" font-size="11.77" text-anchor="middle" fill="#000" textLength="76.29" lengthAdjust="spacingAndGlyphs">Energy (meV)</text>
<text transform="translate(467,77.6) rotate(-90)" font-size="11.6" text-anchor="middle" textLength="103.5" lengthAdjust="spacingAndGlyphs"><tspan font-style="italic">σ</tspan><tspan font-size="8.5" font-style="italic" dy="2.6">xx</tspan><tspan dy="-2.6"> (10</tspan><tspan font-size="8.5" dy="-4.2">3</tspan><tspan dy="4.2"> Ω</tspan><tspan font-size="8.5" dy="-4.2">−1</tspan><tspan dy="4.2">cm</tspan><tspan font-size="8.5" dy="-4.2">−1</tspan><tspan dy="4.2">)</tspan></text>
<text transform="translate(467,239.4) rotate(-90)" font-size="11.6" text-anchor="middle" textLength="103.5" lengthAdjust="spacingAndGlyphs"><tspan font-style="italic">σ</tspan><tspan font-size="8.5" font-style="italic" dy="2.6">xx</tspan><tspan dy="-2.6"> (10</tspan><tspan font-size="8.5" dy="-4.2">3</tspan><tspan dy="4.2"> Ω</tspan><tspan font-size="8.5" dy="-4.2">−1</tspan><tspan dy="4.2">cm</tspan><tspan font-size="8.5" dy="-4.2">−1</tspan><tspan dy="4.2">)</tspan></text>
</svg>
</body></html>
